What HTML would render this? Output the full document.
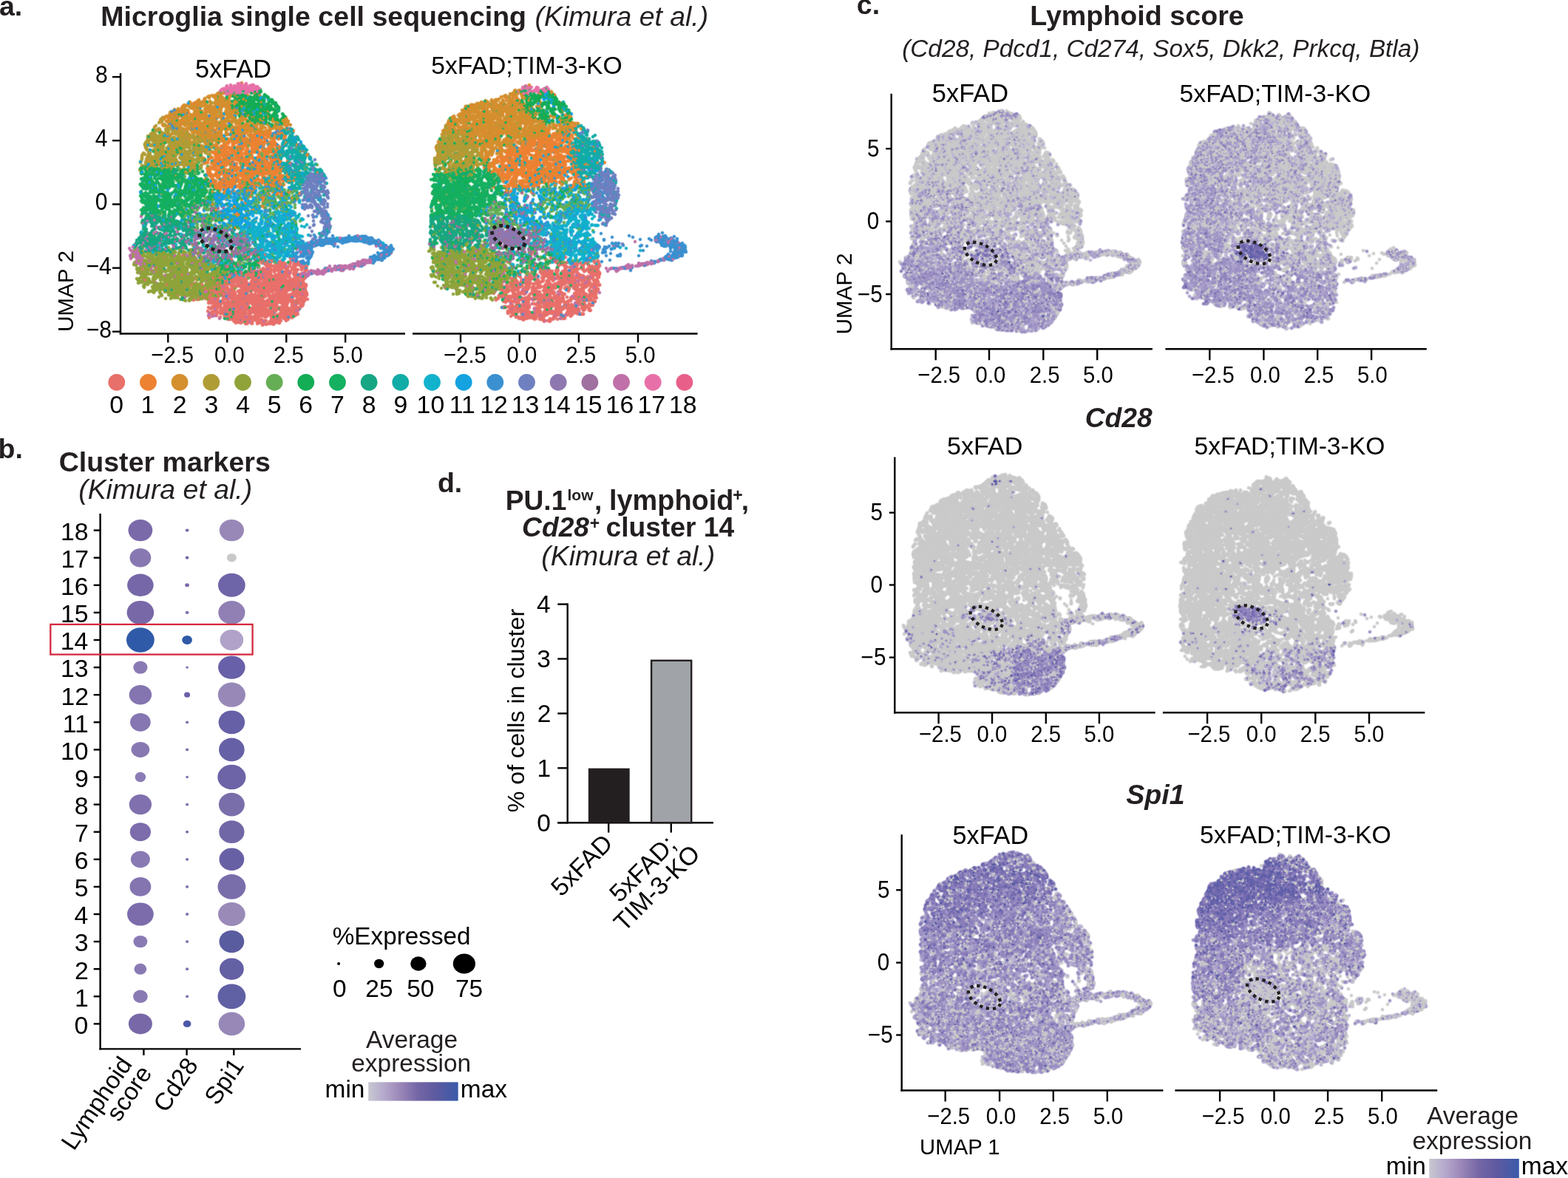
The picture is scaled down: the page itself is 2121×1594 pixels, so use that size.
<!DOCTYPE html>
<html><head><meta charset="utf-8"><title>Figure</title>
<style>html,body{margin:0;padding:0;background:#fff;overflow:hidden}svg{display:block}
text{font-family:"Liberation Sans",Arial,Helvetica,sans-serif}</style></head>
<body><svg width="2121" height="1594" viewBox="0 0 2121 1594">
<defs><linearGradient id="grad" x1="0" x2="1" y1="0" y2="0">
<stop offset="0" stop-color="#c8c8d0"/><stop offset="0.18" stop-color="#b4a8cc"/><stop offset="0.35" stop-color="#9c88b8"/>
<stop offset="0.55" stop-color="#7466a6"/><stop offset="0.75" stop-color="#5e5aa0"/><stop offset="1" stop-color="#3a5aaa"/></linearGradient></defs>
<rect width="2121" height="1594" fill="#fff"/>
<text x="-1.1" y="20.5" font-size="37.50" font-weight="bold" fill="#231f20">a.</text>
<text x="136.2" y="34.7" font-size="37.55" font-weight="bold" fill="#231f20">Microglia single cell sequencing</text>
<text x="723.5" y="34.7" font-size="37.38" font-style="italic" fill="#231f20">(Kimura et al.)</text>
<text x="264.1" y="104.5" font-size="34.34" fill="#000">5xFAD</text>
<text x="583.2" y="99.6" font-size="33.71" fill="#000">5xFAD;TIM-3-KO</text>
<line x1="163.0" y1="99.0" x2="163.0" y2="452.6" stroke="#000" stroke-width="2.4"/>
<line x1="152.0" y1="104.1" x2="163.0" y2="104.1" stroke="#000" stroke-width="2.4"/>
<text transform="translate(129.0 112.1) scale(1 1.09)" font-size="30.10" fill="#000">8</text>
<line x1="152.0" y1="190.2" x2="163.0" y2="190.2" stroke="#000" stroke-width="2.4"/>
<text transform="translate(128.7 198.2) scale(1 1.09)" font-size="30.10" fill="#000">4</text>
<line x1="152.0" y1="276.4" x2="163.0" y2="276.4" stroke="#000" stroke-width="2.4"/>
<text transform="translate(128.8 284.4) scale(1 1.09)" font-size="30.10" fill="#000">0</text>
<line x1="152.0" y1="362.6" x2="163.0" y2="362.6" stroke="#000" stroke-width="2.4"/>
<text transform="translate(116.4 370.6) scale(1 1.09)" font-size="30.10" fill="#000">−4</text>
<line x1="152.0" y1="448.7" x2="163.0" y2="448.7" stroke="#000" stroke-width="2.4"/>
<text transform="translate(116.7 456.7) scale(1 1.09)" font-size="30.10" fill="#000">−8</text>
<line x1="161.8" y1="451.5" x2="548.0" y2="451.5" stroke="#000" stroke-width="2.4"/>
<line x1="227.3" y1="451.5" x2="227.3" y2="463.5" stroke="#000" stroke-width="2.4"/>
<text transform="translate(204.3 491.3) scale(1 1.09)" font-size="29.30" fill="#000">−2.5</text>
<line x1="307.2" y1="451.5" x2="307.2" y2="463.5" stroke="#000" stroke-width="2.4"/>
<text transform="translate(290.0 491.3) scale(1 1.09)" font-size="29.30" fill="#000">0.0</text>
<line x1="387.3" y1="451.5" x2="387.3" y2="463.5" stroke="#000" stroke-width="2.4"/>
<text transform="translate(370.0 491.3) scale(1 1.09)" font-size="29.30" fill="#000">2.5</text>
<line x1="467.2" y1="451.5" x2="467.2" y2="463.5" stroke="#000" stroke-width="2.4"/>
<text transform="translate(450.0 491.3) scale(1 1.09)" font-size="29.30" fill="#000">5.0</text>
<line x1="558.0" y1="451.5" x2="943.6" y2="451.5" stroke="#000" stroke-width="2.4"/>
<line x1="623.0" y1="451.5" x2="623.0" y2="463.5" stroke="#000" stroke-width="2.4"/>
<text transform="translate(600.0 491.3) scale(1 1.09)" font-size="29.30" fill="#000">−2.5</text>
<line x1="702.8" y1="451.5" x2="702.8" y2="463.5" stroke="#000" stroke-width="2.4"/>
<text transform="translate(685.6 491.3) scale(1 1.09)" font-size="29.30" fill="#000">0.0</text>
<line x1="782.9" y1="451.5" x2="782.9" y2="463.5" stroke="#000" stroke-width="2.4"/>
<text transform="translate(765.6 491.3) scale(1 1.09)" font-size="29.30" fill="#000">2.5</text>
<line x1="863.0" y1="451.5" x2="863.0" y2="463.5" stroke="#000" stroke-width="2.4"/>
<text transform="translate(845.8 491.3) scale(1 1.09)" font-size="29.30" fill="#000">5.0</text>
<text transform="translate(99.1 449.1) rotate(-90)" text-anchor="start" font-size="29.70" fill="#000">UMAP 2</text>
<circle cx="157.8" cy="517.3" r="11.4" fill="#e8706a"/>
<text x="148.3" y="558.6" font-size="33.80" fill="#000">0</text>
<circle cx="200.5" cy="517.3" r="11.4" fill="#ec8232"/>
<text x="190.6" y="558.6" font-size="33.80" fill="#000">1</text>
<circle cx="243.1" cy="517.3" r="11.4" fill="#d48f2e"/>
<text x="233.8" y="558.6" font-size="33.80" fill="#000">2</text>
<circle cx="285.8" cy="517.3" r="11.4" fill="#b09c35"/>
<text x="276.4" y="558.6" font-size="33.80" fill="#000">3</text>
<circle cx="328.5" cy="517.3" r="11.4" fill="#8fa33a"/>
<text x="319.3" y="558.6" font-size="33.80" fill="#000">4</text>
<circle cx="371.2" cy="517.3" r="11.4" fill="#66ae55"/>
<text x="361.8" y="558.6" font-size="33.80" fill="#000">5</text>
<circle cx="413.8" cy="517.3" r="11.4" fill="#13ad55"/>
<text x="404.3" y="558.6" font-size="33.80" fill="#000">6</text>
<circle cx="456.5" cy="517.3" r="11.4" fill="#15b060"/>
<text x="447.1" y="558.6" font-size="33.80" fill="#000">7</text>
<circle cx="499.2" cy="517.3" r="11.4" fill="#17a683"/>
<text x="489.7" y="558.6" font-size="33.80" fill="#000">8</text>
<circle cx="541.8" cy="517.3" r="11.4" fill="#12aca6"/>
<text x="532.5" y="558.6" font-size="33.80" fill="#000">9</text>
<circle cx="584.5" cy="517.3" r="11.4" fill="#12b2cc"/>
<text x="563.6" y="558.6" font-size="33.80" fill="#000">10</text>
<circle cx="627.2" cy="517.3" r="11.4" fill="#14a2e0"/>
<text x="607.7" y="558.6" font-size="33.80" fill="#000">11</text>
<circle cx="669.8" cy="517.3" r="11.4" fill="#3a90d0"/>
<text x="649.2" y="558.6" font-size="33.80" fill="#000">12</text>
<circle cx="712.5" cy="517.3" r="11.4" fill="#6f80c0"/>
<text x="691.7" y="558.6" font-size="33.80" fill="#000">13</text>
<circle cx="755.2" cy="517.3" r="11.4" fill="#8e78b0"/>
<text x="734.2" y="558.6" font-size="33.80" fill="#000">14</text>
<circle cx="797.9" cy="517.3" r="11.4" fill="#a070a0"/>
<text x="777.0" y="558.6" font-size="33.80" fill="#000">15</text>
<circle cx="840.5" cy="517.3" r="11.4" fill="#c070a8"/>
<text x="819.7" y="558.6" font-size="33.80" fill="#000">16</text>
<circle cx="883.2" cy="517.3" r="11.4" fill="#e870a8"/>
<text x="862.5" y="558.6" font-size="33.80" fill="#000">17</text>
<circle cx="925.9" cy="517.3" r="11.4" fill="#e8608a"/>
<text x="905.0" y="558.6" font-size="33.80" fill="#000">18</text>
<text x="-2.4" y="619.7" font-size="37.50" font-weight="bold" fill="#231f20">b.</text>
<text x="79.7" y="637.5" font-size="37.58" font-weight="bold" fill="#231f20">Cluster markers</text>
<text x="106.2" y="674.8" font-size="37.43" font-style="italic" fill="#231f20">(Kimura et al.)</text>
<line x1="135.6" y1="695.0" x2="135.6" y2="1420.6" stroke="#000" stroke-width="2.4"/>
<line x1="134.4" y1="1419.4" x2="407.1" y2="1419.4" stroke="#000" stroke-width="2.4"/>
<line x1="126.7" y1="1385.4" x2="135.6" y2="1385.4" stroke="#000" stroke-width="2.4"/>
<text x="100.6" y="1398.7" font-size="33.80" fill="#000">0</text>
<line x1="126.7" y1="1348.3" x2="135.6" y2="1348.3" stroke="#000" stroke-width="2.4"/>
<text x="101.0" y="1361.6" font-size="33.80" fill="#000">1</text>
<line x1="126.7" y1="1311.2" x2="135.6" y2="1311.2" stroke="#000" stroke-width="2.4"/>
<text x="101.1" y="1324.5" font-size="33.80" fill="#000">2</text>
<line x1="126.7" y1="1274.1" x2="135.6" y2="1274.1" stroke="#000" stroke-width="2.4"/>
<text x="100.8" y="1287.4" font-size="33.80" fill="#000">3</text>
<line x1="126.7" y1="1237.0" x2="135.6" y2="1237.0" stroke="#000" stroke-width="2.4"/>
<text x="100.5" y="1250.3" font-size="33.80" fill="#000">4</text>
<line x1="126.7" y1="1199.9" x2="135.6" y2="1199.9" stroke="#000" stroke-width="2.4"/>
<text x="100.8" y="1213.2" font-size="33.80" fill="#000">5</text>
<line x1="126.7" y1="1162.8" x2="135.6" y2="1162.8" stroke="#000" stroke-width="2.4"/>
<text x="100.8" y="1176.1" font-size="33.80" fill="#000">6</text>
<line x1="126.7" y1="1125.7" x2="135.6" y2="1125.7" stroke="#000" stroke-width="2.4"/>
<text x="101.1" y="1139.0" font-size="33.80" fill="#000">7</text>
<line x1="126.7" y1="1088.6" x2="135.6" y2="1088.6" stroke="#000" stroke-width="2.4"/>
<text x="100.8" y="1101.9" font-size="33.80" fill="#000">8</text>
<line x1="126.7" y1="1051.5" x2="135.6" y2="1051.5" stroke="#000" stroke-width="2.4"/>
<text x="101.0" y="1064.8" font-size="33.80" fill="#000">9</text>
<line x1="126.7" y1="1014.4" x2="135.6" y2="1014.4" stroke="#000" stroke-width="2.4"/>
<text x="81.9" y="1027.7" font-size="33.80" fill="#000">10</text>
<line x1="126.7" y1="977.3" x2="135.6" y2="977.3" stroke="#000" stroke-width="2.4"/>
<text x="84.7" y="990.6" font-size="33.80" fill="#000">11</text>
<line x1="126.7" y1="940.2" x2="135.6" y2="940.2" stroke="#000" stroke-width="2.4"/>
<text x="82.4" y="953.5" font-size="33.80" fill="#000">12</text>
<line x1="126.7" y1="903.1" x2="135.6" y2="903.1" stroke="#000" stroke-width="2.4"/>
<text x="82.0" y="916.4" font-size="33.80" fill="#000">13</text>
<line x1="126.7" y1="866.0" x2="135.6" y2="866.0" stroke="#000" stroke-width="2.4"/>
<text x="81.7" y="879.3" font-size="33.80" fill="#000">14</text>
<line x1="126.7" y1="828.9" x2="135.6" y2="828.9" stroke="#000" stroke-width="2.4"/>
<text x="82.0" y="842.2" font-size="33.80" fill="#000">15</text>
<line x1="126.7" y1="791.8" x2="135.6" y2="791.8" stroke="#000" stroke-width="2.4"/>
<text x="82.0" y="805.1" font-size="33.80" fill="#000">16</text>
<line x1="126.7" y1="754.7" x2="135.6" y2="754.7" stroke="#000" stroke-width="2.4"/>
<text x="82.4" y="768.0" font-size="33.80" fill="#000">17</text>
<line x1="126.7" y1="717.6" x2="135.6" y2="717.6" stroke="#000" stroke-width="2.4"/>
<text x="82.0" y="730.9" font-size="33.80" fill="#000">18</text>
<line x1="194.4" y1="1419.4" x2="194.4" y2="1428.0" stroke="#000" stroke-width="2.4"/>
<line x1="252.6" y1="1419.4" x2="252.6" y2="1428.0" stroke="#000" stroke-width="2.4"/>
<line x1="316.3" y1="1419.4" x2="316.3" y2="1428.0" stroke="#000" stroke-width="2.4"/>
<ellipse cx="189.9" cy="717.6" rx="16.4" ry="14.7" fill="#7a6aaa"/>
<ellipse cx="253.1" cy="717.6" rx="2.4" ry="2.1" fill="#7a6aaa"/>
<ellipse cx="313.4" cy="717.6" rx="16.6" ry="14.7" fill="#9888b8"/>
<ellipse cx="189.9" cy="754.7" rx="14.4" ry="12.8" fill="#8878b2"/>
<ellipse cx="253.1" cy="754.7" rx="2.4" ry="2.1" fill="#7a6aaa"/>
<ellipse cx="313.4" cy="754.7" rx="6.5" ry="5.8" fill="#c8c8c8"/>
<ellipse cx="189.9" cy="791.8" rx="17.8" ry="15.2" fill="#7668a8"/>
<ellipse cx="253.1" cy="791.8" rx="2.9" ry="2.5" fill="#7a6aaa"/>
<ellipse cx="313.4" cy="791.8" rx="18.4" ry="16.0" fill="#6e64a8"/>
<ellipse cx="189.9" cy="828.9" rx="18.3" ry="16.0" fill="#7868a8"/>
<ellipse cx="253.1" cy="828.9" rx="2.4" ry="2.1" fill="#8070ae"/>
<ellipse cx="313.4" cy="828.9" rx="18.1" ry="15.8" fill="#9080b4"/>
<ellipse cx="189.9" cy="866.0" rx="18.9" ry="16.7" fill="#2f5aa8"/>
<ellipse cx="253.1" cy="866.0" rx="6.9" ry="6.1" fill="#2f5aa8"/>
<ellipse cx="313.4" cy="866.0" rx="15.8" ry="14.0" fill="#b0a2c8"/>
<ellipse cx="189.9" cy="903.1" rx="9.6" ry="8.7" fill="#8a7ab4"/>
<ellipse cx="253.1" cy="903.1" rx="1.9" ry="1.7" fill="#8070ae"/>
<ellipse cx="313.4" cy="903.1" rx="18.3" ry="15.7" fill="#6860a8"/>
<ellipse cx="189.9" cy="940.2" rx="15.2" ry="13.3" fill="#8474b0"/>
<ellipse cx="253.1" cy="940.2" rx="4.0" ry="3.6" fill="#6a60a8"/>
<ellipse cx="313.4" cy="940.2" rx="18.6" ry="16.6" fill="#9888b8"/>
<ellipse cx="189.9" cy="977.3" rx="13.8" ry="12.4" fill="#8676b2"/>
<ellipse cx="253.1" cy="977.3" rx="2.1" ry="1.9" fill="#8070ae"/>
<ellipse cx="313.4" cy="977.3" rx="17.8" ry="15.9" fill="#6660a6"/>
<ellipse cx="189.9" cy="1014.4" rx="12.4" ry="10.5" fill="#8878b2"/>
<ellipse cx="253.1" cy="1014.4" rx="2.1" ry="1.9" fill="#8070ae"/>
<ellipse cx="313.4" cy="1014.4" rx="17.3" ry="15.8" fill="#6660a6"/>
<ellipse cx="189.9" cy="1051.5" rx="7.3" ry="6.7" fill="#8c7cb6"/>
<ellipse cx="253.1" cy="1051.5" rx="1.9" ry="1.7" fill="#8070ae"/>
<ellipse cx="313.4" cy="1051.5" rx="19.1" ry="16.7" fill="#6c64a6"/>
<ellipse cx="189.9" cy="1088.6" rx="15.2" ry="13.6" fill="#8070ae"/>
<ellipse cx="253.1" cy="1088.6" rx="2.1" ry="1.9" fill="#8070ae"/>
<ellipse cx="313.4" cy="1088.6" rx="17.5" ry="15.8" fill="#7a6eaa"/>
<ellipse cx="189.9" cy="1125.7" rx="14.1" ry="12.5" fill="#7c6cac"/>
<ellipse cx="253.1" cy="1125.7" rx="2.1" ry="1.9" fill="#8070ae"/>
<ellipse cx="313.4" cy="1125.7" rx="17.1" ry="15.4" fill="#7068a6"/>
<ellipse cx="189.9" cy="1162.8" rx="13.0" ry="11.4" fill="#8a7ab4"/>
<ellipse cx="253.1" cy="1162.8" rx="2.1" ry="1.9" fill="#8070ae"/>
<ellipse cx="313.4" cy="1162.8" rx="16.9" ry="15.2" fill="#6860a4"/>
<ellipse cx="189.9" cy="1199.9" rx="14.4" ry="12.8" fill="#8474b0"/>
<ellipse cx="253.1" cy="1199.9" rx="2.1" ry="1.9" fill="#8070ae"/>
<ellipse cx="313.4" cy="1199.9" rx="18.9" ry="16.8" fill="#7a6eaa"/>
<ellipse cx="189.9" cy="1237.0" rx="17.9" ry="15.6" fill="#7c6cac"/>
<ellipse cx="253.1" cy="1237.0" rx="2.1" ry="1.9" fill="#8070ae"/>
<ellipse cx="313.4" cy="1237.0" rx="18.4" ry="16.0" fill="#9a8ab8"/>
<ellipse cx="189.9" cy="1274.1" rx="9.5" ry="8.2" fill="#8a7ab4"/>
<ellipse cx="253.1" cy="1274.1" rx="2.1" ry="1.9" fill="#8070ae"/>
<ellipse cx="313.4" cy="1274.1" rx="16.9" ry="15.2" fill="#5a5ca0"/>
<ellipse cx="189.9" cy="1311.2" rx="8.4" ry="7.5" fill="#8a7ab4"/>
<ellipse cx="253.1" cy="1311.2" rx="2.1" ry="1.9" fill="#8070ae"/>
<ellipse cx="313.4" cy="1311.2" rx="16.4" ry="14.7" fill="#6460a4"/>
<ellipse cx="189.9" cy="1348.3" rx="9.9" ry="8.7" fill="#8a7ab4"/>
<ellipse cx="253.1" cy="1348.3" rx="2.1" ry="1.9" fill="#8070ae"/>
<ellipse cx="313.4" cy="1348.3" rx="18.9" ry="16.9" fill="#6060a4"/>
<ellipse cx="189.9" cy="1385.4" rx="16.0" ry="14.0" fill="#7868a8"/>
<ellipse cx="253.1" cy="1385.4" rx="5.3" ry="4.7" fill="#4a58a8"/>
<ellipse cx="313.4" cy="1385.4" rx="17.8" ry="15.8" fill="#9888b8"/>
<rect x="68.3" y="844.9" width="273.3" height="40.7" fill="none" stroke="#d42a3e" stroke-width="2.3"/>
<text transform="translate(179.7 1439.9) rotate(-56)" text-anchor="end" font-size="33.20" fill="#000">Lymphoid</text>
<text transform="translate(206.5 1452.0) rotate(-56)" text-anchor="end" font-size="33.20" fill="#000">score</text>
<text transform="translate(269.0 1441.1) rotate(-56)" text-anchor="end" font-size="33.20" fill="#000">Cd28</text>
<text transform="translate(331.0 1442.0) rotate(-56)" text-anchor="end" font-size="33.20" fill="#000">Spi1</text>
<text x="449.7" y="1277.8" font-size="33.30" fill="#000">%Expressed</text>
<ellipse cx="458.1" cy="1304" rx="2" ry="2" fill="#000"/>
<ellipse cx="512.7" cy="1304" rx="6.6" ry="6.2" fill="#000"/>
<ellipse cx="565.9" cy="1304" rx="10.7" ry="9.7" fill="#000"/>
<ellipse cx="627.9" cy="1304" rx="15.1" ry="13.6" fill="#000"/>
<text x="449.9" y="1348.5" font-size="33.50" fill="#000">0</text>
<text x="494.3" y="1348.5" font-size="33.50" fill="#000">25</text>
<text x="550.2" y="1348.5" font-size="33.50" fill="#000">50</text>
<text x="615.9" y="1348.5" font-size="33.50" fill="#000">75</text>
<text x="494.9" y="1417.5" font-size="33.50" fill="#231f20">Average</text>
<text x="475.2" y="1450.4" font-size="33.50" fill="#231f20">expression</text>
<text x="439.5" y="1484.7" font-size="33.50" fill="#000">min</text>
<text x="622.8" y="1484.7" font-size="33.50" fill="#000">max</text>
<rect x="498.2" y="1464.3" width="121.5" height="25.3" fill="url(#grad)"/>
<text x="591.9" y="665.5" font-size="37.50" font-weight="bold" fill="#231f20">d.</text>
<text x="683.7" y="689.5" font-size="37.20" font-weight="bold" fill="#231f20">PU.1</text>
<text x="767.5" y="676.6" font-size="21.00" font-weight="bold" fill="#231f20">low</text>
<text x="804.0" y="689.5" font-size="37.20" font-weight="bold" fill="#231f20">,</text>
<text x="824.0" y="689.5" font-size="37.90" font-weight="bold" fill="#231f20">lymphoid</text>
<text x="991.3" y="677.5" font-size="23.00" font-weight="bold" fill="#231f20">+</text>
<text x="1002.8" y="689.5" font-size="37.20" font-weight="bold" fill="#231f20">,</text>
<text x="706.1" y="725.5" font-size="37.20" font-weight="bold" font-style="italic" fill="#231f20">Cd28</text>
<text x="797.7" y="715.5" font-size="23.00" font-weight="bold" fill="#231f20">+</text>
<text x="819.6" y="725.5" font-size="37.20" font-weight="bold" fill="#231f20">cluster 14</text>
<text x="732.3" y="764.9" font-size="37.41" font-style="italic" fill="#231f20">(Kimura et al.)</text>
<line x1="767.7" y1="816.5" x2="767.7" y2="1114.4" stroke="#000" stroke-width="2.4"/>
<line x1="754.3" y1="1113.2" x2="965.0" y2="1113.2" stroke="#000" stroke-width="2.4"/>
<line x1="754.3" y1="1113.2" x2="767.7" y2="1113.2" stroke="#000" stroke-width="2.4"/>
<text x="726.2" y="1124.7" font-size="33.50" fill="#000">0</text>
<line x1="754.3" y1="1039.3" x2="767.7" y2="1039.3" stroke="#000" stroke-width="2.4"/>
<text x="726.5" y="1050.8" font-size="33.50" fill="#000">1</text>
<line x1="754.3" y1="965.4" x2="767.7" y2="965.4" stroke="#000" stroke-width="2.4"/>
<text x="726.7" y="976.9" font-size="33.50" fill="#000">2</text>
<line x1="754.3" y1="891.5" x2="767.7" y2="891.5" stroke="#000" stroke-width="2.4"/>
<text x="726.3" y="903.0" font-size="33.50" fill="#000">3</text>
<line x1="754.3" y1="817.6" x2="767.7" y2="817.6" stroke="#000" stroke-width="2.4"/>
<text x="726.0" y="829.1" font-size="33.50" fill="#000">4</text>
<line x1="823.2" y1="1113.2" x2="823.2" y2="1126.6" stroke="#000" stroke-width="2.4"/>
<line x1="907.8" y1="1113.2" x2="907.8" y2="1126.6" stroke="#000" stroke-width="2.4"/>
<rect x="795.9" y="1039.6" width="55.8" height="73.6" fill="#231f20"/>
<rect x="881.1" y="893.8" width="54.1" height="219.4" fill="#a0a4a8" stroke="#231f20" stroke-width="2.4"/>
<text transform="translate(708.5 1099.3) rotate(-90)" text-anchor="start" font-size="32.20" fill="#000">% of cells in cluster</text>
<text transform="translate(830.7 1143.0) rotate(-45)" text-anchor="end" font-size="33.70" fill="#000">5xFAD</text>
<text transform="translate(916.4 1144.5) rotate(-45)" text-anchor="end" font-size="33.70" fill="#000">5xFAD;</text>
<text transform="translate(948.8 1157.4) rotate(-45)" text-anchor="end" font-size="33.70" fill="#000">TIM-3-KO</text>
<text x="1158.8" y="19.1" font-size="37.50" font-weight="bold" fill="#231f20">c.</text>
<text x="1393.3" y="33.8" font-size="37.67" font-weight="bold" fill="#231f20">Lymphoid score</text>
<text x="1220.2" y="77.2" font-size="33.34" font-style="italic" fill="#231f20">(Cd28, Pdcd1, Cd274, Sox5, Dkk2, Prkcq, Btla)</text>
<line x1="1205.7" y1="126.7" x2="1205.7" y2="473.5" stroke="#000" stroke-width="2.4"/>
<line x1="1198.2" y1="201.2" x2="1205.7" y2="201.2" stroke="#000" stroke-width="2.4"/>
<text transform="translate(1172.9 211.8) scale(1 1.09)" font-size="29.70" fill="#000">5</text>
<line x1="1198.2" y1="299.6" x2="1205.7" y2="299.6" stroke="#000" stroke-width="2.4"/>
<text transform="translate(1172.8 310.2) scale(1 1.09)" font-size="29.70" fill="#000">0</text>
<line x1="1198.2" y1="398.1" x2="1205.7" y2="398.1" stroke="#000" stroke-width="2.4"/>
<text transform="translate(1160.0 408.7) scale(1 1.09)" font-size="29.70" fill="#000">−5</text>
<line x1="1204.5" y1="472.3" x2="1558.9" y2="472.3" stroke="#000" stroke-width="2.4"/>
<line x1="1265.7" y1="472.3" x2="1265.7" y2="487.3" stroke="#000" stroke-width="2.4"/>
<text transform="translate(1241.3 517.5) scale(1 1.09)" font-size="29.30" fill="#000">−2.5</text>
<line x1="1338.0" y1="472.3" x2="1338.0" y2="487.3" stroke="#000" stroke-width="2.4"/>
<text transform="translate(1319.6 517.5) scale(1 1.09)" font-size="29.30" fill="#000">0.0</text>
<line x1="1411.3" y1="472.3" x2="1411.3" y2="487.3" stroke="#000" stroke-width="2.4"/>
<text transform="translate(1392.8 517.5) scale(1 1.09)" font-size="29.30" fill="#000">2.5</text>
<line x1="1484.2" y1="472.3" x2="1484.2" y2="487.3" stroke="#000" stroke-width="2.4"/>
<text transform="translate(1465.1 517.5) scale(1 1.09)" font-size="29.30" fill="#000">5.0</text>
<line x1="1576.4" y1="472.3" x2="1929.8" y2="472.3" stroke="#000" stroke-width="2.4"/>
<line x1="1636.3" y1="472.3" x2="1636.3" y2="487.3" stroke="#000" stroke-width="2.4"/>
<text transform="translate(1611.9 517.5) scale(1 1.09)" font-size="29.30" fill="#000">−2.5</text>
<line x1="1709.4" y1="472.3" x2="1709.4" y2="487.3" stroke="#000" stroke-width="2.4"/>
<text transform="translate(1691.0 517.5) scale(1 1.09)" font-size="29.30" fill="#000">0.0</text>
<line x1="1782.2" y1="472.3" x2="1782.2" y2="487.3" stroke="#000" stroke-width="2.4"/>
<text transform="translate(1763.7 517.5) scale(1 1.09)" font-size="29.30" fill="#000">2.5</text>
<line x1="1855.1" y1="472.3" x2="1855.1" y2="487.3" stroke="#000" stroke-width="2.4"/>
<text transform="translate(1836.0 517.5) scale(1 1.09)" font-size="29.30" fill="#000">5.0</text>
<text x="1260.8" y="137.9" font-size="34.44" fill="#000">5xFAD</text>
<text x="1595.6" y="137.9" font-size="33.72" fill="#000">5xFAD;TIM-3-KO</text>
<line x1="1210.3" y1="618.4" x2="1210.3" y2="965.5" stroke="#000" stroke-width="2.4"/>
<line x1="1202.8" y1="693.7" x2="1210.3" y2="693.7" stroke="#000" stroke-width="2.4"/>
<text transform="translate(1177.5 704.3) scale(1 1.09)" font-size="29.70" fill="#000">5</text>
<line x1="1202.8" y1="791.5" x2="1210.3" y2="791.5" stroke="#000" stroke-width="2.4"/>
<text transform="translate(1177.4 802.1) scale(1 1.09)" font-size="29.70" fill="#000">0</text>
<line x1="1202.8" y1="889.6" x2="1210.3" y2="889.6" stroke="#000" stroke-width="2.4"/>
<text transform="translate(1164.6 900.2) scale(1 1.09)" font-size="29.70" fill="#000">−5</text>
<line x1="1209.1" y1="964.3" x2="1562.6" y2="964.3" stroke="#000" stroke-width="2.4"/>
<line x1="1269.6" y1="964.3" x2="1269.6" y2="979.3" stroke="#000" stroke-width="2.4"/>
<text transform="translate(1243.0 1004.0) scale(1 1.09)" font-size="29.30" fill="#000">−2.5</text>
<line x1="1342.0" y1="964.3" x2="1342.0" y2="979.3" stroke="#000" stroke-width="2.4"/>
<text transform="translate(1321.6 1004.0) scale(1 1.09)" font-size="29.30" fill="#000">0.0</text>
<line x1="1414.8" y1="964.3" x2="1414.8" y2="979.3" stroke="#000" stroke-width="2.4"/>
<text transform="translate(1394.3 1004.0) scale(1 1.09)" font-size="29.30" fill="#000">2.5</text>
<line x1="1486.9" y1="964.3" x2="1486.9" y2="979.3" stroke="#000" stroke-width="2.4"/>
<text transform="translate(1466.5 1004.0) scale(1 1.09)" font-size="29.30" fill="#000">5.0</text>
<line x1="1572.9" y1="964.3" x2="1927.3" y2="964.3" stroke="#000" stroke-width="2.4"/>
<line x1="1633.1" y1="964.3" x2="1633.1" y2="979.3" stroke="#000" stroke-width="2.4"/>
<text transform="translate(1606.5 1004.0) scale(1 1.09)" font-size="29.30" fill="#000">−2.5</text>
<line x1="1706.2" y1="964.3" x2="1706.2" y2="979.3" stroke="#000" stroke-width="2.4"/>
<text transform="translate(1685.8 1004.0) scale(1 1.09)" font-size="29.30" fill="#000">0.0</text>
<line x1="1779.3" y1="964.3" x2="1779.3" y2="979.3" stroke="#000" stroke-width="2.4"/>
<text transform="translate(1758.8 1004.0) scale(1 1.09)" font-size="29.30" fill="#000">2.5</text>
<line x1="1852.0" y1="964.3" x2="1852.0" y2="979.3" stroke="#000" stroke-width="2.4"/>
<text transform="translate(1831.6 1004.0) scale(1 1.09)" font-size="29.30" fill="#000">5.0</text>
<text x="1281.0" y="615.3" font-size="34.10" fill="#000">5xFAD</text>
<text x="1615.5" y="615.3" font-size="33.64" fill="#000">5xFAD;TIM-3-KO</text>
<line x1="1219.7" y1="1129.2" x2="1219.7" y2="1476.7" stroke="#000" stroke-width="2.4"/>
<line x1="1212.2" y1="1204.3" x2="1219.7" y2="1204.3" stroke="#000" stroke-width="2.4"/>
<text transform="translate(1186.9 1214.9) scale(1 1.09)" font-size="29.70" fill="#000">5</text>
<line x1="1212.2" y1="1302.6" x2="1219.7" y2="1302.6" stroke="#000" stroke-width="2.4"/>
<text transform="translate(1186.8 1313.2) scale(1 1.09)" font-size="29.70" fill="#000">0</text>
<line x1="1212.2" y1="1400.5" x2="1219.7" y2="1400.5" stroke="#000" stroke-width="2.4"/>
<text transform="translate(1174.0 1411.1) scale(1 1.09)" font-size="29.70" fill="#000">−5</text>
<line x1="1218.5" y1="1475.5" x2="1573.4" y2="1475.5" stroke="#000" stroke-width="2.4"/>
<line x1="1278.7" y1="1475.5" x2="1278.7" y2="1490.5" stroke="#000" stroke-width="2.4"/>
<text transform="translate(1254.3 1520.7) scale(1 1.09)" font-size="29.30" fill="#000">−2.5</text>
<line x1="1352.1" y1="1475.5" x2="1352.1" y2="1490.5" stroke="#000" stroke-width="2.4"/>
<text transform="translate(1333.7 1520.7) scale(1 1.09)" font-size="29.30" fill="#000">0.0</text>
<line x1="1424.8" y1="1475.5" x2="1424.8" y2="1490.5" stroke="#000" stroke-width="2.4"/>
<text transform="translate(1406.3 1520.7) scale(1 1.09)" font-size="29.30" fill="#000">2.5</text>
<line x1="1497.8" y1="1475.5" x2="1497.8" y2="1490.5" stroke="#000" stroke-width="2.4"/>
<text transform="translate(1478.7 1520.7) scale(1 1.09)" font-size="29.30" fill="#000">5.0</text>
<line x1="1589.4" y1="1475.5" x2="1944.2" y2="1475.5" stroke="#000" stroke-width="2.4"/>
<line x1="1650.1" y1="1475.5" x2="1650.1" y2="1490.5" stroke="#000" stroke-width="2.4"/>
<text transform="translate(1625.7 1520.7) scale(1 1.09)" font-size="29.30" fill="#000">−2.5</text>
<line x1="1723.5" y1="1475.5" x2="1723.5" y2="1490.5" stroke="#000" stroke-width="2.4"/>
<text transform="translate(1705.1 1520.7) scale(1 1.09)" font-size="29.30" fill="#000">0.0</text>
<line x1="1796.1" y1="1475.5" x2="1796.1" y2="1490.5" stroke="#000" stroke-width="2.4"/>
<text transform="translate(1777.6 1520.7) scale(1 1.09)" font-size="29.30" fill="#000">2.5</text>
<line x1="1869.2" y1="1475.5" x2="1869.2" y2="1490.5" stroke="#000" stroke-width="2.4"/>
<text transform="translate(1850.1 1520.7) scale(1 1.09)" font-size="29.30" fill="#000">5.0</text>
<text x="1288.6" y="1141.5" font-size="34.17" fill="#000">5xFAD</text>
<text x="1623.1" y="1141.4" font-size="33.76" fill="#000">5xFAD;TIM-3-KO</text>
<text x="1467.7" y="578.3" font-size="37.24" font-weight="bold" font-style="italic" fill="#231f20">Cd28</text>
<text x="1523.3" y="1088.2" font-size="37.60" font-weight="bold" font-style="italic" fill="#231f20">Spi1</text>
<text transform="translate(1151.8 452.6) rotate(-90)" text-anchor="start" font-size="29.70" fill="#000">UMAP 2</text>
<text x="1244.1" y="1562.0" font-size="29.30" fill="#000">UMAP 1</text>
<text x="1929.9" y="1521.2" font-size="33.50" fill="#231f20">Average</text>
<text x="1910.4" y="1554.5" font-size="33.50" fill="#231f20">expression</text>
<text x="1874.8" y="1588.9" font-size="33.50" fill="#000">min</text>
<text x="2057.8" y="1588.9" font-size="33.50" fill="#000">max</text>
<rect x="1933.2" y="1568" width="121.6" height="30" fill="url(#grad)"/>
<defs>
<marker id="k0" markerUnits="userSpaceOnUse" markerWidth="3.5" markerHeight="3.5" refX="1.75" refY="1.75" overflow="visible"><circle cx="1.75" cy="1.75" r="1.75" fill="#e8706a"/></marker>
<marker id="k1" markerUnits="userSpaceOnUse" markerWidth="3.5" markerHeight="3.5" refX="1.75" refY="1.75" overflow="visible"><circle cx="1.75" cy="1.75" r="1.75" fill="#ec8232"/></marker>
<marker id="k2" markerUnits="userSpaceOnUse" markerWidth="3.5" markerHeight="3.5" refX="1.75" refY="1.75" overflow="visible"><circle cx="1.75" cy="1.75" r="1.75" fill="#d48f2e"/></marker>
<marker id="k3" markerUnits="userSpaceOnUse" markerWidth="3.5" markerHeight="3.5" refX="1.75" refY="1.75" overflow="visible"><circle cx="1.75" cy="1.75" r="1.75" fill="#b09c35"/></marker>
<marker id="k4" markerUnits="userSpaceOnUse" markerWidth="3.5" markerHeight="3.5" refX="1.75" refY="1.75" overflow="visible"><circle cx="1.75" cy="1.75" r="1.75" fill="#8fa33a"/></marker>
<marker id="k5" markerUnits="userSpaceOnUse" markerWidth="3.5" markerHeight="3.5" refX="1.75" refY="1.75" overflow="visible"><circle cx="1.75" cy="1.75" r="1.75" fill="#66ae55"/></marker>
<marker id="k6" markerUnits="userSpaceOnUse" markerWidth="3.5" markerHeight="3.5" refX="1.75" refY="1.75" overflow="visible"><circle cx="1.75" cy="1.75" r="1.75" fill="#13ad55"/></marker>
<marker id="k7" markerUnits="userSpaceOnUse" markerWidth="3.5" markerHeight="3.5" refX="1.75" refY="1.75" overflow="visible"><circle cx="1.75" cy="1.75" r="1.75" fill="#15b060"/></marker>
<marker id="k8" markerUnits="userSpaceOnUse" markerWidth="3.5" markerHeight="3.5" refX="1.75" refY="1.75" overflow="visible"><circle cx="1.75" cy="1.75" r="1.75" fill="#17a683"/></marker>
<marker id="k9" markerUnits="userSpaceOnUse" markerWidth="3.5" markerHeight="3.5" refX="1.75" refY="1.75" overflow="visible"><circle cx="1.75" cy="1.75" r="1.75" fill="#12aca6"/></marker>
<marker id="k10" markerUnits="userSpaceOnUse" markerWidth="3.5" markerHeight="3.5" refX="1.75" refY="1.75" overflow="visible"><circle cx="1.75" cy="1.75" r="1.75" fill="#12b2cc"/></marker>
<marker id="k11" markerUnits="userSpaceOnUse" markerWidth="3.5" markerHeight="3.5" refX="1.75" refY="1.75" overflow="visible"><circle cx="1.75" cy="1.75" r="1.75" fill="#14a2e0"/></marker>
<marker id="k12" markerUnits="userSpaceOnUse" markerWidth="3.5" markerHeight="3.5" refX="1.75" refY="1.75" overflow="visible"><circle cx="1.75" cy="1.75" r="1.75" fill="#3a90d0"/></marker>
<marker id="k13" markerUnits="userSpaceOnUse" markerWidth="3.5" markerHeight="3.5" refX="1.75" refY="1.75" overflow="visible"><circle cx="1.75" cy="1.75" r="1.75" fill="#6f80c0"/></marker>
<marker id="k14" markerUnits="userSpaceOnUse" markerWidth="3.5" markerHeight="3.5" refX="1.75" refY="1.75" overflow="visible"><circle cx="1.75" cy="1.75" r="1.75" fill="#8e78b0"/></marker>
<marker id="k15" markerUnits="userSpaceOnUse" markerWidth="3.5" markerHeight="3.5" refX="1.75" refY="1.75" overflow="visible"><circle cx="1.75" cy="1.75" r="1.75" fill="#a070a0"/></marker>
<marker id="k16" markerUnits="userSpaceOnUse" markerWidth="3.5" markerHeight="3.5" refX="1.75" refY="1.75" overflow="visible"><circle cx="1.75" cy="1.75" r="1.75" fill="#c070a8"/></marker>
<marker id="k17" markerUnits="userSpaceOnUse" markerWidth="3.5" markerHeight="3.5" refX="1.75" refY="1.75" overflow="visible"><circle cx="1.75" cy="1.75" r="1.75" fill="#e870a8"/></marker>
<marker id="k18" markerUnits="userSpaceOnUse" markerWidth="3.5" markerHeight="3.5" refX="1.75" refY="1.75" overflow="visible"><circle cx="1.75" cy="1.75" r="1.75" fill="#e8608a"/></marker>
<marker id="k19" markerUnits="userSpaceOnUse" markerWidth="3.1" markerHeight="3.1" refX="1.55" refY="1.55" overflow="visible"><circle cx="1.55" cy="1.55" r="1.55" fill="#c9cac9"/></marker>
<marker id="k20" markerUnits="userSpaceOnUse" markerWidth="3.1" markerHeight="3.1" refX="1.55" refY="1.55" overflow="visible"><circle cx="1.55" cy="1.55" r="1.55" fill="#bcb5d3"/></marker>
<marker id="k21" markerUnits="userSpaceOnUse" markerWidth="3.1" markerHeight="3.1" refX="1.55" refY="1.55" overflow="visible"><circle cx="1.55" cy="1.55" r="1.55" fill="#aca2cc"/></marker>
<marker id="k22" markerUnits="userSpaceOnUse" markerWidth="3.1" markerHeight="3.1" refX="1.55" refY="1.55" overflow="visible"><circle cx="1.55" cy="1.55" r="1.55" fill="#9c90c3"/></marker>
<marker id="k23" markerUnits="userSpaceOnUse" markerWidth="3.1" markerHeight="3.1" refX="1.55" refY="1.55" overflow="visible"><circle cx="1.55" cy="1.55" r="1.55" fill="#8a7eba"/></marker>
<marker id="k24" markerUnits="userSpaceOnUse" markerWidth="3.1" markerHeight="3.1" refX="1.55" refY="1.55" overflow="visible"><circle cx="1.55" cy="1.55" r="1.55" fill="#766cb0"/></marker>
<marker id="k25" markerUnits="userSpaceOnUse" markerWidth="3.1" markerHeight="3.1" refX="1.55" refY="1.55" overflow="visible"><circle cx="1.55" cy="1.55" r="1.55" fill="#5e5ea8"/></marker>
<filter id="fill" x="-5%" y="-5%" width="110%" height="110%" color-interpolation-filters="sRGB"><feGaussianBlur in="SourceGraphic" stdDeviation="1.3" result="b"/><feComponentTransfer in="b" result="c"><feFuncA type="linear" slope="2.0" intercept="-0.12"/></feComponentTransfer><feMerge><feMergeNode in="c"/><feMergeNode in="SourceGraphic"/></feMerge></filter>
<filter id="fillc" x="-5%" y="-5%" width="110%" height="110%" color-interpolation-filters="sRGB"><feGaussianBlur in="SourceGraphic" stdDeviation="1.7" result="b"/><feComponentTransfer in="b" result="c"><feFuncA type="linear" slope="3.0" intercept="-0.12"/></feComponentTransfer><feMerge><feMergeNode in="c"/><feMergeNode in="SourceGraphic"/></feMerge></filter>
</defs>
<g filter="url(#fill)">
<path d="M222 349l56 1 88 3 35 4-2 -2-2 4-5 -2-9 1-4 0 0 -4 0 5-3 -3-17 2-2 -3-8 1-28 1-84 -2-15 3-25 7 14 -2 97 -2 9 -1 36 5 9 -1 9 0 3 1 1 -4 1 3 5 -1 0 -2 3 1 5 0 7 1 1 2 2 -2 8 -3 1 4 0 1 2 -5 5 0-14 10-1 -3-1 2-11 2 0 -3-9 1-2 -2-11 4-3 -2-3 -3-15 4-1 -3-1 3 0 -4-3 4-2 0-29 -4-104 0 102 10 3 0 3 0 1 1 1 0 6 -1 1 -2 1 -1 2 0 6 -1 2 5 3 -1 1 -4 1 1 1 2 4 -3 3 1 7 1 2 2 2 -2 0 0 2 -2 2 2 0 0 1 -2 1 5 0 -3 0 2 5 -2 0 2 2 -2 4 -1 1 4 1 -2 13 -1 3 2 7 1 2 -2 4 -1 2 1 5 -2-2 8-1 -2-6 1 0 3-1 -2-3 -3 0 3-1 1-5 -1-1 0 0 0-9 2-13 0-1 -5-1 2 0 1-1 0-3 -2-6 -1-8 1-1 4-1 -1-3 0-5 -1 0 2-8 -5 0 5 0 -5-4 1 0 4-1 -3-3 0-3 1-2 -3-3 4-1 -1-1 -1-2 2 0 -4-4 5-1 0 0 -3 0 1-5 -3-3 2-2 1-2 0-8 1-6 1-34 -2-50 -3 63 8 24 3 12 -2 3 2 1 -4 0 0 15 2 5 0 5 -1 1 1 3 -3 4 3 2 -3 6 1 1 -1 2 3 1 -2 4 4 2 -3 5 2 1 1 3 -3 1 1 1 1 0 1 1 -5 1 0 2 1 2 2 1 -2 2 1 2 3 3 0 0 -5 2 5 1 -4 2 0 5 1 0 -2 1 2 1 -1 1 3 9 -4 1 3 0 -1 2 1 0 -3 0 0 3 0 4 4 4 1 2 -2-1 4-1 1-1 1-3 2-3 -2-1 0 0 2-1 -2-4 -2-2 1 0 1-1 -3-7 3-4 -3-3 0-3 4-4 1-2 -4-5 1 0 2-1 -4-6 1-1 -1 0 2-2 2-1 -2 0 0-3 -2-3 4-1 -2-5 0-2 0-4 2 0 -1-1 -1-1 -1-2 -1-6 1-6 3-9 -1-1 -1-1 2 0 -1-4 -3-1 1-6 0-3 -1 0 0-7 3-11 2-48 -5 36 11 17 -3 3 -2 7 1 6 1 2 -1 1 3 0 -1 1 2 0 0 4 -3 1 -1 0 3 4 -2 2 -2 1 1 1 -1 0 3 4 2 2 -3 2 -2 2 4 3 -4 4 4 10 1 1 -1 6 -1 3 2 1 -1 3 1 0 0 16 -5 0 3 2 -1 0 1 2 2 2 -3 2 -1 1 2 1 -1 1 2 1 -4 4 3 2 2 4 -5 5 3 0 0 9 1 1 -1 0 -1 1 -2 2 3 0 0-3 8-1 -4-1 2-2 2-1 -1-1 -1-3 -2-2 3-5 -4-5 3-3 1-6 0-1 0-4 -2-2 -1-2 2-2 -1 0 3-4 -4-2 3-15 -3 0 1-2 0 0 2-1 -1-1 -1-2 -2-3 5-6 0-2 -3-1 2-1 1 0 -4-4 -1-1 4 0 -3-1 -1-2 4-6 1-8 -4-1 -1 0 4-13 -3-1 3-4 -3 0 3-1 -2 2 8 0 -2 2 -2 3 0 0 1 2 4 1 -3 1 0 4 0 5 -1 4 0 9 4 0 -3 3 -1 10 -1 1 3 1 -1 4 0 1 1 2 -3 2 2 0 1 1 -2 0 2 0 0 1 2 2 -4 3 -1 4 1 1 0 3 4 2 0 1 -2 5 -3 5 1 0 3 14 1 6 -5 3 5 1 -5 1 3 4 -1 1 0 0 -2 4 5 2 -3-6 8-1 0 0 0-2 0-1 -4-5 2 0 0-5 1-3 -1-10 2-1 0-4 1 0 -3-1 3-3 -2-9 0-1 2 0 -4-2 3-3 -4-6 5-1 -3-1 -2-2 1 0 4-8 0-3 -4-3 1-1 -2-4 1-1 2-5 -3-1 4-4 -3-3 -1-1 3-1 -1-1 1-2 2-1 -3-17 -1-2 3-3 -2 11 5 1 2 5 -2 2 3 0 -3 1 0 2 4 2 -4 1 0 1 2 5 2 2 0 2 -4 8 3 1 1 2 0 1 0 1 -1 1 -4 2 4 4 -3 1 0 9 4 1 -1 2 -1 1 0 2 -3 2 3 2 0 2 2 2 -2 0 -1 4 -1 0 2 2 -1 2 -2 2 2 9 -1 4 0 1 4 1 -1 0 -1 3 0 0 -2 1 3 1 1 2 -3 1 0 1 0 0 -2 6 3 1 -3-7 6-8 2-4 2-7 0-3 1-5 0 0 -5-1 5-8 -2-1 -1-11 2-1 -4-2 5-2 -2-7 0-1 1-10 -3-2 -1-6 2-1 -2-1 1-2 2-1 -1-3 1-3 -1-7 1-5 -2 15 5 2 0 2 0 5 1 2 4 7 0 1 -3 0 1 0 1 6 1 2 -5 0 5 2 -3 0 -1 1 0 3 0 0 4 2 -4 3 -1 1 2 3 -1 0 4 3 -2 1 -3 4 2 10 2 0 1 4 0 1 -1 2 -1 0 -2 14 -1-26 6-3 1-3 -1-2 2-7 -2-14 0" fill="none" marker-start="url(#k0)" marker-mid="url(#k0)" marker-end="url(#k0)"/>
<path d="M327 161l20 10 8 0 37 6-10 -3-2 5 0 -5-5 5-23 -1-18 1-2 0-10 -4-5 8 26 2 21 -4 3 0 0 4 11 -3 1 3 4 -4-12 10-11 -3 0 2-7 0-8 0-1 -4-3 0-2 2-4 2-3 -3-9 -1 0 5-1 -2-1 -1-1 0-2 1-23 5 8 -2 2 4 10 1 2 -3 8 0 4 3 1 -2 6 0 0 -3 0 0 1 0 1 2 2 3 1 -4 5 4 1 0 0 0 4 -5 5 3 6 -2 6 2 5 1 2 1-5 4-7 0-6 1-2 0-8 -1-6 0-12 1-2 -1-4 0-3 -1-12 -1-3 4-2 0-4 -5-6 10 0 0 7 -3 3 2 3 1 3 0 10 -3 4 4 0 -5 2 4 2 1 4 -2 3 -3 2 3 14 1 1 0 4 -4 4 1 1 -1 3 0 3 2 1 -2 7 4 2 -2 1 3 5 -3 26 5-29 2-2 1-2 -3-1 -1-7 3-1 -1-5 -2-8 4-3 -1-2 0-14 -3-3 5-5 -1 0 1-3 -3-2 0-1 -1-2 4-7 -3 0 1-1 -1-1 -2 0 0-1 1 0 4-11 -4-4 4-6 -2-10 8 9 0 10 -3 0 2 2 -3 1 -1 3 1 1 4 3 -4 1 1 1 0 7 1 9 -2 1 -1 5 5 2 -1 0 -4 2 4 3 0 19 0 1 -2 10 0 3 1 1 -2 8 2 0 -1 32 5-32 2-10 -3-3 0-2 1-2 4-3 -4-5 2-3 -1-2 -2-7 1-4 -1 0 1-11 2-7 0-6 0-2 -2-8 0-3 1-2 0-4 1-9 2-6 1 1 4 2 0 23 -1 0 -1 3 3 0 -2 3 -3 0 5 8 -2 1 -1 4 -1 3 2 0 2 2 -1 5 -3 0 1 0 3 3 -3 0 -1 1 0 4 3 3 -1 5 -3 7 3 1 -3 2 0 1 5 8 -2 0 -2 4 3 1 -3 1 -1 3 4 2 -3 3 0 20 2-5 3-9 5-1 -1-6 0-4 -2-1 2-5 -3-2 -1 0 1-6 1-1 -1-9 0-6 3-1 -1-6 0-2 -3 0 5 0 -2-1 -1 0 0-1 3-3 -3-1 3-1 -4-2 0-1 2-8 1-2 0-3 -1 0 1-1 -2-3 0-8 -1-1 2 0 1-1 -4-4 0-2 1-2 3-2 0-1 -3-4 4-2 0-8 3 5 3 4 -2 7 -3 9 0 3 2 1 -2 7 2 5 -1 2 2 1 -1 10 3 5 -5 5 1 1 4 6 -3 5 3 0 -1 1 0 1 -3 1 -1 2 0 4 4 0 -2 6 0 2 3 2 -2 1 -2 5 1 10 3 11 -5-11 6-5 4-1 0-14 0-1 -3-3 -1-7 1-6 -1-8 4-3 -2-1 3 0 0-6 -4-7 0-10 4-4 -3-1 0-1 2 0 -3-3 1 0 0-1 1-4 0-3 0-2 -2-1 1-1 1-2 2-3 -3-3 -1 2 5 5 4 0 -2 1 0 0 -1 1 4 11 -5 3 1 5 -1 3 0 6 4 11 -4 36 0 5 3-8 5-5 -2-39 4-11 -3-18 0-5 3 28 6 20 -2 61 -1 2 4-16 6-22 -2-8 0-29 -3-40 6 44 1 27 4 5 -4 3 0-48 5-15 8 32 -2 10 10-14 -3-17 1" fill="none" marker-start="url(#k1)" marker-mid="url(#k1)" marker-end="url(#k1)"/>
<path d="M327 112l18 15 0 4-27 -1 0 -1-5 0-17 0-2 1-5 1-6 -1-2 1-4 4 16 -1 2 2 4 -1 3 -2 0 2 6 -3 1 0 1 1 54 3-31 7-9 -4-6 1-10 1-5 -2-5 -1-4 4-3 -2-6 0-7 1 0 1-4 1 0 -5-3 5 0 -4-5 4-1 -2-2 -1-4 2 0 1-1 0 0 -2 0 0-2 0-2 1-4 1-1 -1-3 7 0 -2 2 1 1 0 10 -3 2 2 5 -3 6 0 12 4 4 -2 2 1 0 -3 2 4 1 -1 5 0 1 2 7 0 10 0 1 -5 10 3 9 0 26 4 0 4-9 -1-15 1-1 -4-18 2-5 -1-8 3 0 -2-11 -2-2 0-1 2-1 -2 0 4-1 -4-2 1-15 -1 0 1-1 0-2 0-2 -2-14 0-3 0-5 2-6 -1-2 0-13 6 0 1 3 1 1 -3 3 0 1 4 0 0 4 -2 3 1 2 -3 6 4 2 -2 9 1 7 2 0 0 1 -5 6 5 3 -5 1 1 2 4 6 0 4 -5 0 1 10 -1 5 5 8 -4 4 3 2 -2 7 -1 0 0 4 2 0 -3 0 3 8 -3 1 2 3 1 3 1 5 0 23 1 14 2-4 1-5 3-18 0-12 -4-3 4-16 -3 0 0-1 -2-1 1-2 0 0 0-1 3-2 -1-1 -2-5 -1-3 3-3 0-5 -2-1 4-12 -2-1 0 0 2-2 -3-1 2-1 -1-2 0-5 -2-2 -1-5 5-3 -1-3 1-3 -5-1 5 0 -2 0 2 0 -2-2 2-4 -3-2 0-2 0-3 -1-3 -1 0 4-4 -3-1 1-5 -2 0 2-2 3-5 -1-2 -1-10 0 17 8 2 -3 5 -2 3 1 9 -1 5 0 12 5 0 0 1 -4 5 4 1 -2 1 -1 2 2 2 0 1 1 4 -3 2 0 7 2 10 0 2 0 6 -1 9 1 5 -1 3 1 1 -3 1 4 1 -5 1 3 1 1 6 1 3 -4 2 3 6 -3 9 -1 6 1 7 3 4 -2 1 3 10 -5-8 6-8 1-5 -1-7 5-8 0-2 -5-3 2-6 1-6 -2-7 0-2 0-2 0-1 2-7 0 0 -2-5 3-5 -4-2 2-3 -2-3 0-2 1 0 3-1 0-3 -4-3 4-4 -3 0 0-4 1 0 2-6 1 0 0-13 -3-1 0-10 0 0 0-9 3-2 -1 0 -4-5 2-3 2-9 2 8 1 7 -1 1 4 15 -1 5 -3 2 5 4 -4 2 4 3 -2 6 -3 2 3 0 -1 2 0 1 -1 1 4 0 -5 1 3 1 0 2 2 5 0 1 -5 1 5 1 -2 2 2 1 -1 7 -2 8 2 0 -4 2 3 1 -1 3 -2 4 4 3 0 4 -3 8 0 7 -1 6 1 5 -1 14 1 3 0-48 6-7 -1-4 4-2 -3-5 1-4 0-1 2-2 -2-3 0-5 1-6 0-1 2-11 -4-12 -1-47 6 25 1 5 -1 35 0 22 0 1 2 11 -2 34 6-129 1 29 10 71 5-84 -3 23 9 94 0-51 2-39 4-60 -1 166 12-12 4-32 9-38 9" fill="none" marker-start="url(#k2)" marker-mid="url(#k2)" marker-end="url(#k2)"/>
<path d="M287 139l31 11-98 9 116 -3-18 7-9 0-56 4-23 -2-11 -1-4 2 20 4 5 -2 11 11-3 -1-3 -3-5 0-8 0-5 2-1 2-10 -4-9 1-7 8 2 1 2 -4 1 4 13 -5 6 1 6 2 7 -2 1 0 3 -1 2 4 14 -1 0 2 18 -2 5 -3-2 7-7 2 0 -2-3 2-5 0-8 1-2 -3-6 -1 0 4-5 0-5 -1-2 -3-5 0 0 3-3 0-2 2-1 -2-1 -2-11 3-2 0-1 -1-1 -2-3 1-2 -2-4 5-3 5 1 1 1 -5 1 3 3 1 4 1 1 0 2 -2 2 -1 7 0 1 3 1 -5 2 1 7 4 3 -2 3 2 3 -4 2 2 1 0 2 1 3 -3 3 3 0 -3 1 4 9 -2 3 -3 2 3 3 -1 4 -2 25 10-14 -1-13 -1-2 -1-1 3-1 -3-2 4-1 -1-6 -2-2 -1-1 0-4 1-4 1 0 -3-2 4-1 -1 0 0 0 0-2 -3-6 3-1 -2-4 4-3 -3-5 -1 0 -1-2 3-1 -2-2 2-4 2-13 0-4 5 19 -2 2 3 3 -1 3 -3 2 1 3 -1 3 3 1 -3 3 3 1 1 5 -4 1 0 2 3 5 0 2 0 6 1 2 -3 7 0 4 2 9 -1 1 -2 3 4-8 5-4 -4 0 1-2 1-7 3-2 -1-3 1-1 -1-4 1-3 0 0 -2-1 -2-2 4-12 -4-5 4-5 -3-1 3-6 -3-7 3-6 -4-11 -1 0 5 9 3 2 -1 4 -1 15 0 3 0 1 2 3 -1 2 3 3 -2 0 -2 1 3 0 -1 3 3 0 0 4 -1 4 0 6 0 8 -2 6 -1 7 1 4 2-12 2-4 3-7 -2-12 0-2 -1-7 0-1 1-3 0-7 3-4 -4-8 0-3 3-9 -2-9 7 11 -1 26 2 13 0 5 -2 7 4 5 -3 1 1 17 1-12 3-1 1-51 -2" fill="none" marker-start="url(#k3)" marker-mid="url(#k3)" marker-end="url(#k3)"/>
<path d="M228 335l-44 4 5 1 20 0 13 -1 48 2 0 3-2 0 0 -1-5 -1-1 5-3 0-8 -5-9 2-7 0 0 0-2 1-7 1-2 -1-5 1-1 -4-6 2-7 0-5 -1-1 -1-14 3 11 7 5 0 5 1 4 -3 4 0 1 3 7 -1 6 0 0 1 3 -5 8 0 3 2 2 -2 12 2 1 3 3 0 1 -3 2 -2 0 1 6 4 3 -2 1 0 8 8-1 -2 0 2 0 -1-1 0-8 -1-2 -1 0 1-1 -3-4 3-3 -3-6 0-12 2-1 0 0 3-1 -4-1 4-5 -3-3 3-1 -1-2 -2-1 -2-3 3-1 -2-1 -1-1 3-1 -1-3 0-1 1-1 2 0 -5-3 3 0 0-6 -1-2 0-3 1-2 -3-2 1-1 -1-5 4-8 0-2 -3 4 8 4 0 0 0 4 -1 0 -2 9 5 0 -2 7 2 6 -4 0 -1 1 0 1 5 10 -3 3 0 1 0 2 -1 0 2 1 -1 2 3 0 -3 7 1 1 -3 1 4 5 -1 2 0 3 -3 3 3 3 -1 6 -2 2 1 1 -1 1 5 3 -3 2 -2 2 5 0 -1 0 -4 3 1 1 1 22 6-9 0-1 2-2 -2 0 2-5 -1 0 -1-10 -2-2 5-1 0-3 -5-4 2-2 -1-7 4 0 -3-12 -1-1 1-2 1-1 -2-2 1-2 1 0 0-3 -3-2 3-1 -3-1 4-9 -4-5 4-3 0-4 -1-1 -1-4 -1-14 1 0 0 0 1-1 1-1 0-5 7 6 -2 6 -1 10 3 3 -5 2 4 0 -1 6 1 3 -1 3 -2 2 4 3 -3 0 -2 6 3 0 -1 1 2 4 -1 2 -3 1 2 1 -1 6 4 1 -5 1 4 2 1 1 -2 3 0 1 0 2 1 4 -2 6 -1 1 3 2 1 1 -3 1 2 0 -1 2 2 0 -1 1 -1 0 -3 1 0 1 1 4 2 6 -2 1 2 2 -2 0 1 6 1 1 -3 9 10-4 1-15 -4-1 3-3 -4 0 0-4 4-2 -1-9 1-13 0-1 -2-2 3 0 -3 0 -1-6 4-4 -3-1 -1-3 3-1 -1-5 -2-2 4 0 -2-3 1-1 -3 0 2-4 1-3 -2-14 -2-1 3-7 2-2 -1-10 0-2 -4-1 0 8 9 1 0 0 2 1 -5 10 4 1 1 2 -3 4 2 3 1 1 -4 2 4 2 -3 1 1 11 1 5 -2 4 -1 2 0 2 4 0 -2 2 -1 1 1 1 0 0 2 1 -4 1 2 1 0 2 -2 7 0 4 4 0 0 1 0 0 0 4 -4 6 2 1 2 0 -1 8 -3 2 4 1 -2 3 0 0 2 2 -1 9 -4 15 6-26 0-4 5-3 -3-7 -1 0 0-1 1-3 3-4 -3-3 -1-2 3-5 1-4 -2-7 -2-1 3-1 -4-11 5-1 -5-3 1-2 1-2 -2-1 5-2 -1 0 -3-6 0 0 0-3 0-6 2-2 2-3 -1-4 1 7 1 10 2 10 1 3 -3 0 3 3 2 3 -2 3 0 3 -3 1 1 2 0 0 2 1 1 4 -1 1 1 3 -1 1 -3 4 2 10 0 2 1 1 0 0 -1 5 3 8 -3 11 2-13 2-13 1-2 2-9 -1-4 3-5 0-2 -1-13 -3-5 1" fill="none" marker-start="url(#k4)" marker-mid="url(#k4)" marker-end="url(#k4)"/>
<path d="M383 168l-69 20 20 6 46 6-5 1-53 1-6 4 30 -2-8 6-31 8 50 -2 72 7-14 0-75 4-50 -3-9 1 29 5 50 0 51 -2 0 11-27 0-6 -5-148 1 20 10 29 -4 28 1 88 3-17 4-11 0-4 0-1 -2-1 -1-97 3-47 1 126 6 9 -2 2 -1 2 2 6 2 4 -5 1 2 1 -2 2 3 15 2 12 1-24 0-10 5-1 -4-4 3-4 -1-2 1-66 1-6 -5-1 11 6 0 22 -2 18 1 8 -3 2 3 13 -4 22 2 7 0 7 3 13 -2 3 -1-6 8-2 1-9 -2-3 -3-10 1-4 0-2 2-16 -3-61 4-4 -1 4 7 52 -4 5 5 4 -2 7 0 4 2 18 -5 5 2 17 -1-15 5-9 3-31 -1-2 2-59 -3-4 0-12 1-6 0-4 3 0 -2-2 0-4 2-53 5 50 -4 2 3 2 0 19 1 5 -1 4 -1 11 -2 8 1 21 3 78 5-5 0-30 1-7 -4-60 4-4 -1 0 2-3 -5-4 4-8 0-9 0-10 -4 4 7 5 3 45 1 29 -5-48 10 0 -3 0 2-20 -3-6 3-7 1 29 2 14 3 99 8-30 -3-15 3-8 0-8 -3-19 -1-7 1-14 -2 31 9 49 -2 5 3 7 -1-127 8 3 2 47 4 5 -1 2 0 31 -2 31 -1-17 7-35 1-8 2-12 -3-28 1 51 8 35 -3 3 1-13 4-36 2-11 4 10 -1 17 2-2 4" fill="none" marker-start="url(#k5)" marker-mid="url(#k5)" marker-end="url(#k5)"/>
<path d="M305 124l44 0 2 1 2 -1-30 7-2 -2-4 1-1 -2 7 8 1 -3 0 2 1 2 1 -3 6 2 3 -3 3 1 10 -2 5 3 2 2 8 -5 1 6-2 3-8 0-3 1 0 0-1 0-2 -1-10 -2 0 -1-8 0 0 4-3 -1-2 1 4 3 6 0 3 4 2 0 3 -2 8 -2 7 -1 2 4 2 -2 1 1 2 -2 2 1 16 9-1 -1-5 -4-3 1-11 3-4 -1-2 -2-3 2-5 0-1 -2-4 3-4 -1-2 1-4 -4 0 1-7 -1-8 2 21 7 4 0 2 2 2 0 17 -4 3 0 6 2 7 2 5 -3-5 9-17 0-4 -2-1 -3-10 1-141 68 14 -1 12 2 6 -2-16 10 23 0 25 2-61 18-20 -1 1 9 8 1 41 14-10 14" fill="none" marker-start="url(#k6)" marker-mid="url(#k6)" marker-end="url(#k6)"/>
<path d="M352 121l-46 15 33 1 17 -5-5 9-81 8 68 -2 11 -2-1 7-12 -2-91 6 73 3 32 -2 2 1 24 9-133 6 28 -2 75 5-41 -2-37 11 56 1-113 4 6 5 1 2 77 -4-84 14 60 4-52 2 9 7 39 5-1 -2-69 3-7 2 13 3 1 1 7 -3 2 1 0 3 2 -1 3 -2 4 3 3 -2 1 1 3 -4 3 1 2 0 16 1 4 0 11 2 1 -1 1 -1 0 -2 7 4-5 2-1 1-8 3-2 -2-2 -1-3 -1-7 0-1 5 0 -3-1 -1-10 2-8 0-4 0-15 -1-1 -2-2 2-1 0-4 -1-6 10 3 -3 0 -1 0 3 16 -1 10 -2 16 0 5 -1 5 4 0 -1 1 0 4 1 6 -2 6 -2 3 2 1 3 0 -2 4 1 0 0 71 6-58 0-9 0-2 0-3 0 0 -2-7 1-1 -2-2 0-4 2-2 -3 0 3-11 -3-3 1-8 1-6 0-5 -2-1 1-1 4-9 -4-2 4 0 -2-9 1-3 -4 3 7 4 3 1 -1 1 -1 10 -1 2 3 0 -3 0 0 4 1 2 0 4 0 1 -2 4 0 3 5 4 -5 1 3 2 -2 9 1 1 -2 5 1 1 0 3 2 7 2 6 -1 2 -4 7 5 5 -1 85 0 12 6-7 -3-38 1-52 2-16 1 0 -2-6 -3-2 1-9 -1 0 3-1 1-6 -1-2 0-3 -1-5 1-13 0-2 0-6 2-1 -3-8 -1-2 -1 0 1-2 1-9 1 0 0-3 2-2 0 0 3 0 0 6 0 4 2 0 0 8 1 0 0 1 -2 4 -2 5 1 2 3 5 -3 2 3 1 -3 13 -2 0 2 2 -2 11 1 1 3 4 -4 4 0 1 4 5 0 15 -2 21 -2 13 5 16 -5 36 8-79 3-17 -1-3 -1-4 2 0 -3-3 -2-1 3-2 0-4 0-8 -2-4 1-4 3-3 -5-7 5-3 -5-7 4-4 -3-3 -1-5 4 0 -3-1 -1-6 5 0 -2-7 3 1 4 1 -2 3 2 5 -4 0 2 2 3 2 -4 10 0 1 0 3 3 1 1 0 -1 2 1 4 -4 0 0 1 3 13 -4 8 1 4 1 0 -1 59 0 24 4 3 -1 2 -1 30 -2-84 10-2 -4-1 1-34 3-8 -3-8 3-6 0-2 -1-2 -2-3 -2-6 0-1 1-8 1 0 -1-3 4 0 0-2 -4 0 2-7 -3-8 2 1 6 15 0 0 3 1 -4 3 0 10 4 2 -3 0 3 6 -4 4 -1 4 4 3 -3 4 1 1 -1 3 -1 2 1 7 2 1 2 39 -1 28 -2 47 0 17 0-22 4-8 0-31 0-24 0-4 4-39 -2-7 2-5 -2-2 -1-12 1-43 5 46 3 13 -4 7 2 137 6-18 3-40 -3-17 -1-4 1-8 1-10 0-42 2-15 -1-44 3 75 4 26 -3 17 2 62 0 24 0-15 5-30 -1-93 -2-64 9 70 2 34 -5 75 1-6 5-45 4-44 -3-54 8 31 -1 4 -2 31 3 3 0 24 -3 12 2 1 2 4 1 1 -3 14 1 23 1-28 6-36 0-4 1-14 -1-18 4 18 3 4 -3 6 1 18 2 2 -4 1 0 44 -1-22 10-6 0-9 -1-2 1-12 -2-4 -2-1 2-4 0-3 -1-12 2-2 6 4 -2 3 3 2 -3 4 4 5 -5 1 2 5 3 4 -4 0 -1 10 0 1 1 10 4 8 -5-10 8-19 0-8 -2-1 3-10 3 5 0 0 3 37 -1 47 8-27 -3-37 2 63 5-33 4-18 3-23 15 6 0 55 9 14 3" fill="none" marker-start="url(#k7)" marker-mid="url(#k7)" marker-end="url(#k7)"/>
<path d="M233 230l15 8-52 13 8 5 73 -2-27 7 20 12-29 3 3 7-44 7 8 2 20 4-2 1-5 -2-4 0-1 1 0 3-3 0-8 0-7 -5-1 2 0 8 0 -2 21 -1 16 0 3 4 4 -5 1 2 2 1 1 -1 7 3 4 -4 1 -1 5 7-4 -1-6 2-9 -1-11 3 0 -1-2 1-2 -1-2 -2-6 2 0 0-1 2-4 -3-1 0-5 2-11 0-1 0-6 5 9 1 4 -1 7 0 5 2 1 0 5 -5 0 5 5 -5 3 5 1 -3 7 2 4 1 11 -2 1 -2 5 -1 1 4 67 1-8 1-12 3-47 -2-7 -1-5 1-2 2 0 -3-10 2-7 0-2 1-1 1-8 1-3 -4-1 3-7 -2-1 -1-1 -1 0 4-6 0-3 -4-1 2-2 -1-9 10 10 -5 3 5 8 -1 3 -1 1 1 2 -1 0 1 2 -3 4 4 12 -3 17 1 61 2 9 2-28 1-37 1-7 2-2 0-5 -1-17 -4-6 1-3 3-3 -2 0 -2-1 2-3 3-1 -1-10 1 8 3 0 -2 5 1 2 3 5 1 9 -3 3 2 10 -4 4 0 54 5 9 0 2 -1 22 -1 13 1 4 3-39 0-3 1-26 -2-42 3-21 0-4 -2 46 5 16 0 16 1-9 7 0 0-18 3-50 1 32 4 30 -2-65 7 63 8 23 2-2 3-5 -4-39 3 3 22" fill="none" marker-start="url(#k8)" marker-mid="url(#k8)" marker-end="url(#k8)"/>
<path d="M341 125l32 17-16 -4-28 10 12 1 13 9 41 17-1 2-13 8 15 0 6 1-1 2-2 2-6 -1-2 2 0 -4-6 4 0 -1-1 1 0 0-4 -4-24 9 32 -4 0 2 5 1 0 0 3 1 1 -2 3 -1 14 10-10 -1-5 1-3 -1-2 0-2 -1-1 -2-11 2-1 1-3 -1-51 0-42 -1 96 5 8 4 1 -5 9 2 6 1 0 0 1 -2 15 10 0 -2-6 0-3 1-3 0-3 -2-3 -2-1 3-1 2-7 0-2 0-3 -4-3 -1-2 1-2 1-1 1 0 2-4 -2-49 1-12 -3-27 7 87 1 14 2 2 -2 9 -1 0 -2 2 1 6 -1 3 0 12 7-2 0-13 -1-2 4-15 -2-7 0-4 2 3 2 0 0 1 0 12 3 2 1 4 -2 2 3 16 -4 7 0 7 10-18 -4-6 0 0 -1 0 1-7 4-1 -2-10 -2-72 2-22 -3-6 11 97 -2 0 2 2 -2 9 0 2 -1 4 -1 10 0 3 0 17 -1 7 8-33 2 0 -2-5 0-9 3-20 -5-16 1 43 9 3 -4 1 3 28 -2 2 4-125 8 117 2 5 0 5 -3-7 6-2 11 7 8 10 20-9 9" fill="none" marker-start="url(#k9)" marker-mid="url(#k9)" marker-end="url(#k9)"/>
<path d="M371 256l-17 5 8 5 0 2 5 0 3 -2 35 8-7 -3-40 4-35 2 8 2 54 0 12 8-3 0-2 -2 0 1-3 0-43 0-4 1-43 -1 53 3 6 0 1 4 13 -4 4 -1 1 0 1 5 15 -3 1 2 1 -2 4 -2 9 9 0 -1-8 1-12 -3-1 3-3 -1-1 3-4 -1-1 -4 0 0-3 2-1 -1-2 -1-1 2 0 1-7 -3-2 5-2 -1-5 1-11 -2-135 6 12 0 102 -3 12 0 16 5 12 -2 15 2 0 -2 6 -1 12 0 2 3 1 -2-7 6-1 0-1 1-7 1-11 0 0 -2-10 2-3 -3-3 3-1 -2-8 -1-20 2-93 -3-4 3 40 6 47 1 8 0 4 0 4 -2 2 -1 5 0 11 -2 3 1 1 0 3 -1 3 5 2 -4 7 0 17 3 3 -3 3 1 3 0 3 3 0 -5 2 1 5 6-16 4-3 -5-17 1-1 1-4 -1-14 -1 0 5-8 -5-1 4-8 0-15 -2-85 7 25 -1 53 -1 33 4 10 -1 1 1 7 -1 1 1 11 0 8 -2 7 0 0 -2 3 2 0 -3 2 1 0 3 2 1 110 -3-97 4-12 3-19 -1-1 3-2 -5-7 5-1 0-7 -4-6 3-4 -3-1 4-66 -3-21 3-39 -3-18 6 20 -1 119 4 14 -5 6 4 12 -3 0 3 1 0 1 -3 11 3 1 -3 2 2 14 -2 4 0-24 7-7 1-1 -2-2 4-2 0-1 -5-2 1-1 -1-6 3-3 0 0 2-7 -1-3 0-40 1-51 -3 86 6 1 2 3 -1 1 -3 6 0 11 1 2 4 4 -1 42 5-6 1-36 -1-10 -2-33 3-41 -4 21 10 3 -2-10 4" fill="none" marker-start="url(#k10)" marker-mid="url(#k10)" marker-end="url(#k10)"/>
<path d="M338 132l18 1-100 5-7 9 21 -1 21 2 64 5 0 0-114 4 97 2-78 9 58 5 60 -5-1 9-126 0-24 7 145 -4 5 4-34 4-62 3-41 -3 167 4-51 8-56 -1-30 2-8 0-6 4 7 0 0 5-19 11 117 -4 40 1-73 9-11 -4-98 2-14 2 163 1 25 0 10 2 16 6-10 -1-165 2 12 4 51 -1 33 7-130 4 3 6 119 0 13 -3 27 7-4 -3-7 4-15 -4-9 3-9 2-12 -1-2 -2-82 2-16 3 81 -1 20 2 1 3 81 -4 0 0-55 5-2 2-5 1-1 2-3 -3-1 -1-12 0-3 2-17 2-3 -5-3 1-1 0-12 1-85 0 88 5 16 2 5 -2 5 4 11 -2 6 -1 2 3 1 -3 0 -2 1 0 7 3 7 2 25 1-24 2-5 3-6 -4-3 0-1 -1-5 1-22 1-35 9 9 -1 8 -3 5 0 8 3 2 -2 1 1 22 2 0 0 6 0 42 -3-25 5-22 4-1 -2-17 -2-12 -1-22 5-17 -4 7 7 4 -2 41 5 2 -4 0 2 8 0 0 -1 3 0 2 1 2 -1 1 -1 36 4 25 3-30 0-6 -1-9 -1-41 2-18 -1 24 5 74 4 16 -1-9 14-38 7" fill="none" marker-start="url(#k11)" marker-mid="url(#k11)" marker-end="url(#k11)"/>
<path d="M351 129l-115 31 57 0 50 12 37 5-83 -3-63 0 44 6 13 0 38 3 31 7-36 6-16 16-31 7 9 19 53 5 95 3-69 1-62 4 24 4 37 8-6 2 46 -1 24 2 3 4-14 0-20 3 12 8-23 2 5 7 3 2 48 -3-44 11 41 10-53 -4 12 8 39 0 1 0 7 0 58 8-1 0-12 -2-2 2-2 0-3 -1-11 2-4 0-2 0-14 0-25 -2-2 -3-27 2-26 1-37 -3 47 7 26 1 2 1 17 2 0 0 6 -4 0 -1 0 2 0 3 2 -3 0 2 1 1 4 -4 2 -1 0 2 1 3 2 -3 1 0 3 -2 1 4 1 1 0 -2 0 1 2 -2 7 0 3 3 1 -5 1 0 3 3 1 0 2 -1 3 -1 1 0 5 -1 3 2 8 1 3 -3 4 0 5 5 0 -1 1 -4 0 1 3 2 0 -1 2 2 1 -1 0 1 1 1 1 -4 6 10-2 -2-1 -2-3 1-2 -2-58 1-3 -1-12 2-2 -2-1 2-4 -1-4 1-1 1-1 -2 0 0-4 2 0 -1-2 2-1 -1-1 -1 0 3-4 -1 0 1-3 -2-1 2-1 -1-2 0-3 -3-17 -1-17 2-18 1-4 6 36 -3 14 0 0 4 10 0 5 1 2 -3 0 0 2 -1 2 -1 2 3 1 -1 1 -2 0 4 0 -1 94 -3 5 2 1 -2 2 4 0 -1 1 2 3 -3 1 1 2 -3-5 9 0 0 0 0-5 0-1 1-1 1 0 -5-1 4 0 0-1 1 0 -4 0 4 0 -1-95 -4 0 4-10 -3 0 3-1 0 0 1-14 -4-7 3 6 3 3 -1 19 0 83 4 4 -1 1 -2 0 0 1 2 1 -2 3 0 0 0 1 2 1 -2 1 1 0 -1 2 0 2 3 3 -3-15 7-8 -1-9 3-1 0-71 -3-9 -1-2 2 9 7 26 0 14 -1 4 -2 3 1 16 -1-34 6-4 0-26 5-84 3 83 0-66 7 4 7 56 -4 0 0 5 8-107 4-19 13 48 2 72 7-34 4-46 12" fill="none" marker-start="url(#k12)" marker-mid="url(#k12)" marker-end="url(#k12)"/>
<path d="M392 174l-7 14-2 10-1 1 27 5-15 17 11 -4 19 9-31 3 3 4 4 -5 21 0 16 9-1 1-1 1-12 -3-2 -1-2 0-10 6 7 2 3 2 1 -5 1 0 1 5 9 -3 1 3 6 -4 0 4 2 3-11 1-2 -2-11 4 0 -2-3 6 0 2 1 -5 8 1 6 4 1 -5 6 3 2 0 0 -2 2 0 4 5-3 2-4 -1-5 3-14 0-11 2 10 1 2 2 4 2 21 -3-7 9-1 0-1 -3-8 1-3 0-7 -1-2 -2-3 0 3 7 2 3 16 1 9 5-1 0-8 -2-4 2 12 7 0 -2 0 -1 3 8 0 -2-1 -2-1 0 0 3-3 -1-14 3 0 -5 0 11 1 -1 9 -4 11 6-2 4-21 3 19 2 0 -1 1 0-7 5-2 2-8 2-5 -4 3 5 6 3 0 1 13 -2" fill="none" marker-start="url(#k13)" marker-mid="url(#k13)" marker-end="url(#k13)"/>
<path d="M266 317l11 -5 9 0 7 1 3 2 19 -2 17 5-21 4-7 -2-1 -1 0 0-23 3-10 -2-4 3-1 -2 25 4 11 -1 2 1 4 3 2 0 0 -1 6 2 11 -3 1 1-29 4-33 2 6 5 12 1 12 0 42 -2 13 4-81 5 76 5" fill="none" marker-start="url(#k14)" marker-mid="url(#k14)" marker-end="url(#k14)"/>
<path d="M274 274l0 0-5 7 8 -4 6 0 6 5-3 0-20 7 8 6-18 4-57 1 34 0 22 1 11 -1 25 4 11 4-1 2-7 1-27 -2-56 -2 4 9 50 -2 2 1 21 -3 2 1 13 1 4 0 7 -2 6 11-3 -2-7 -3-15 4-9 1-12 -1-56 1-22 0 22 1 10 2 30 3 8 0 19 0 2 -2 8 0 1 1 27 -3 2 4 2 -2 4 0 2 4-29 3-3 0-17 -4-6 2-10 3-2 0-3 -5-46 5-8 -2-4 3 52 3 15 -3 13 2 6 -1 3 -1 2 4 23 -4 9 2 17 -1 9 1-12 6-5 2-6 0-8 0 0 -4-7 0-14 2-7 -2-10 0-4 3-4 2-13 -5 21 9 0 -3 0 2 6 2 4 -3 2 3 29 1 4 -4-34 5-1 3-14 -2 68 7-16 6" fill="none" marker-start="url(#k15)" marker-mid="url(#k15)" marker-end="url(#k15)"/>
<path d="M191 293l57 14-49 9 9 0 276 3-1 4-23 -1-215 -4-46 2 298 6 12 7-56 -3-218 5-1 -4-18 3-24 -3-9 0-8 5 10 2 1 -2 216 1 121 4 4 2-274 3-63 -4-4 0-1 4-4 0 0 -2 0 1-4 5 8 -1 3 -1 309 5 1 0 1 0 1 -1 15 -1-14 4-3 0-1 0-4 3 0 -4-2 3-1 -3 0 0-1 4 0 -1-4 -2-1 2-3 0-3 0-205 -2-82 4-5 -4-4 2 0 1 22 6 63 0 5 -4 158 5 13 -2 8 1 3 -3 0 4 6 -4 1 0 4 1 2 -2 5 0 5 1 2 0 7 -1-25 6-16 0-6 1-11 1-7 2 0 -3-2 2-1 2-1 0-4 0-224 -3 34 5 162 3 28 -1 2 -1 2 -2-139 7-67 4 88 2 103 2-91 7-51 7-10 1 149 10-93 9 97 -1-106 11-15 -4 75 8" fill="none" marker-start="url(#k16)" marker-mid="url(#k16)" marker-end="url(#k16)"/>
<path d="M322 113l4 0 7 0 15 4-4 2-3 0-3 0-12 -5-5 3-6 2-3 -4-12 6 6 1 1 -1 1 2 7 0 0 0 1 0 2 -3 4 2 11 3 2 -4 3 -1 3 3 0 1 10 -4-19 6-20 0-5 0 0 2-4 -2" fill="none" marker-start="url(#k17)" marker-mid="url(#k17)" marker-end="url(#k17)"/>
<path d="M212 340l128 3-7 2-3 1-83 0 66 5 39 1 2 -1 3 1 8 -1 41 8-2 -3-4 3-2 -1 0 -2-5 -1-1 0-9 3-4 -1-2 1-11 -1-4 -1-4 -2-48 2-4 5 55 0 2 4 3 0 3 -5 3 0 9 1 6 3 8 -1 3 -2 11 2 2 -3 0 1 4 4-6 6-12 -1-5 -1 0 1-2 1-1 -2-1 1-3 0 0 -2-2 0-6 3-6 -4 0 1-7 -1-6 -1-3 2-3 -1-2 2-6 -1-4 -1-3 0-12 0-21 3-3 1-84 -1 3 7 89 -2 1 2 0 0 2 0 5 -2 1 -3 1 3 4 2 18 -3 2 -2 0 4 2 0 1 -1 2 -1 7 1 2 2 0 -5 0 4 1 -3 1 3 1 -2 3 1 1 1 1 -4 2 2 0 3 5 -1 2 0 2 0 1 -3 1 0 3 -1 5 3 1 -2 2 0 2 0 7 0 4 1 1 1 1 2 1 -4 7 4-2 6-5 -3-6 1-1 2 0 -1-1 1-2 -5 0 4-3 0-5 -3-7 0-3 1-2 2-4 1-1 0-3 0-6 -2-5 2 0 -1-2 1-3 -4-1 2-4 -1-1 -2-12 1-1 1-2 -2 0 3-3 -1-3 -2-6 1 0 1-2 0-1 1-5 -3 0 1-2 2-11 2-1 -1-2 1-14 0-16 0-56 -3 43 9 48 -5 6 2 9 -1 4 2 4 -3 5 4 1 -1 0 0 1 -3 4 3 0 0 3 0 1 -2 3 2 2 1 0 -3 2 3 1 -4 8 0 2 3 4 -2 0 -1 5 2 1 3 1 0 15 0 5 0 0 -1 0 -2 3 -1 3 2 1 -3 7 4 4 0 1 -4 1 4 2 0 3 -4 2 10-1 -1-3 0-1 2-2 -5-1 4-1 -1 0 -3-7 1-1 1-2 -2-1 1-1 1-3 -2-5 0 0 3-2 -2-1 4-7 -1-2 -2 0 -2-3 5-2 0-7 0-4 -3-2 2-2 1-5 -4-1 4-1 -5-3 0-6 3-2 2-6 -1-1 1-2 -2 0 2-1 -1-2 0-6 -1-1 0-12 2-3 -2-3 -1 0 2-1 -3 0 -1-1 5-6 -1-37 -2-17 0 5 8 33 0 20 -2 2 -2 0 4 4 -2 2 0 2 -2 9 5 1 -2 0 -2 0 4 4 -4 11 0 1 3 0 -2 0 0 11 2 4 -1 1 2 0 -2 3 2 9 0 0 -4 2 3 4 -2 1 3 2 0 3 -1 2 -1 1 2 2 -3 4 2 2 -2 1 -1 1 1 5 2 0 0 3 1 4 -2 0 1 2 0 0 0 3 0 1 -3 0 -1 1 4 2 -3 4 2 1 -1 4 2 2 -1-1 3-2 3 0 2-2 -3 0 1 0 -3-6 3-9 2-3 -4-3 -1-4 0-2 5-1 -2 0 -2-1 2-5 -1-3 -1-4 1-2 3-2 0-2 -1-8 -3-2 -1-7 4-2 -1-3 0 0 -3-3 2 0 2-4 0-5 -3-1 2-4 0-1 -1-3 -1-1 4-1 0-3 -3-10 1 0 -2-2 0-1 4-13 -3-3 0-2 -2-1 3-3 -1-3 -1 12 7 3 3 1 -5 7 0 7 2 2 1 2 1 1 -2 1 3 1 -4 0 0 3 3 1 1 0 -2 2 1 2 -3 2 -1 4 3 1 -3 1 4 3 1 0 -3 0 2 0 -3 10 3 5 -1 0 2 3 -3 0 3 0 -2 2 0 3 1 3 -1 3 -3 1 2 3 -2 1 3 5 0 2 -2 1 -1 1 1 4 0 0 -1 2 1 0 1 1 1 6 -2 1 -1 6 3 13 1-2 4-4 0 0 1-2 1-3 -4 0 5-7 0-3 -2-5 1-13 -4-2 1 0 3 0 1-4 0-8 0 0 -5-7 1-2 -1-1 2-1 3-4 -1-1 1 0 -1-7 -2 0 2-3 0 0 -2-2 -2 0 4-9 0 0 -1-2 2-1 0-2 0-3 -5-4 0 0 2-2 2-1 -1-4 1-1 -3-4 -1-1 4 0 -3-3 0-1 0-2 8 2 -2 4 2 0 0 5 -3 3 4 5 1 1 -3 3 3 2 -3 1 -1 4 4 2 0 2 -4 2 3 2 0 1 -1 3 2 2 -3 9 1 7 0 4 -1 1 3 1 -2 3 -3 1 4 3 1 0 0 0 -4 0 -1 2 5 1 0 0 0 1 -3 1 2 3 0 0 -2 10 3 2 0 1 0 1 -5 2 4 6 -1 2 -2 5 -1 2 4 1 -4 1 3-1 3-1 1-4 3-5 -3-1 3-3 0-3 -1 0 -2-2 1-3 3-2 -1-1 -3 0 2 0 -3-1 5-1 0-1 -4 0 1-5 0-5 -1-8 -1-5 3 0 -2-1 -1-5 5-2 -2-3 -1-2 1-2 2-1 -1-2 1-1 -3 0 2-4 -2 0 -1-2 1 0 -2 0 1 0 1-1 1-1 -2-3 0-1 2-1 1-9 -3-4 3 0 -3-16 0 29 8 4 -2 2 2 0 1 4 -2 5 -1 0 -1 8 5 0 -3 9 2 1 -1 17 2 1 -4 0 1 5 0 3 -1 1 4 1 0 2 -3 7 0 3 -2-20 7-29 -1" fill="none" marker-start="url(#k0)" marker-mid="url(#k0)" marker-end="url(#k0)"/>
<path d="M267 142l-20 2 32 5-11 7 5 3 101 7-125 -1 19 6 56 0 12 0 61 6-32 0-4 0-2 1-27 -3-83 4 49 5 32 0 10 -1 3 0 2 1 1 -2 4 0 6 1 1 0 2 -1 10 3 4 -4 20 2 8 2-16 2-1 -1-7 2-7 0-9 3-5 -5-4 3-1 0 0 2-4 -5 0 4-5 -2-10 -1-3 4-18 0-1 -2-1 1-6 -1 0 0-6 1 18 5 5 -2 9 2 1 0 1 1 2 -1 3 -1 7 2 7 -3 1 -1 0 5 2 -2 3 2 0 -4 10 -1 1 1 3 2 3 -1 14 -2 15 4-25 2-9 1-5 2-8 -1-6 1-4 1-3 -2-8 3-1 -5-6 1-11 -1-1 3-3 1-1 1 0 0 0 -3-1 0-5 3 0 -5-3 3-2 2-2 0-6 -2-6 -3 5 8 2 -1 0 -1 4 5 2 0 1 0 4 -5 8 5 2 -3 1 -2 1 2 0 -2 2 5 3 -1 0 -2 2 3 2 -2 1 0 6 2 1 -3 0 -1 8 1 9 -1 7 0 0 -1 1 1 2 4 1 0 1 -5 3 1 3 -1 2 3 4 0 37 -3 4 6-39 0-7 2-4 2-3 -2-4 -2-1 3-2 0-6 2-8 -4-4 4-11 -4-12 3-6 1-1 -4-2 3-1 -1-2 -2-5 1-1 2-4 -1 0 2-16 -1 2 6 3 0 9 -3 4 4 5 -1 1 -3 1 -1 1 3 3 -3 3 4 3 0 0 0 2 -4 2 2 5 3 0 -5 2 0 3 1 0 4 1 -4 2 2 4 -1 3 0 2 -2 7 3 1 -2 2 0 3 4 2 -5 17 0 2 2 1 -2 1 4 0 1 1 -5 3 0 2 5 0 -5 0 3 5 7-6 -1-5 0-5 -2-1 4-2 -5-6 3-6 2-3 0-2 -4-1 1-1 -2-4 4-2 -4-4 2-9 -1-7 3-5 -4-2 5-7 -5-1 0-3 3-1 -3-10 4 0 0-1 -3-1 0-1 -1-4 4 5 3 7 1 1 -1 5 0 2 3 1 0 3 1 1 -1 6 -1 2 0 8 2 6 -3 4 -1 4 3 0 -3 2 4 1 -4 3 -1 0 3 4 -1 0 -1 0 3 2 -1 4 -3 1 0 3 4 6 1 6 -5 3 5 2 0 13 4-8 1-10 1-3 -2-3 2-6 -4-4 3-1 -2-7 -1-5 -1-3 1 0 3-10 -2-13 1-2 -2-7 2 0 2-1 -3-1 3-12 -5-4 3-3 1-2 0-1 -3-1 10 6 -2 0 1 0 0 1 1 3 0 6 -3 7 1 3 1 2 -1 4 2 2 -5 2 3 12 -2 0 -1 0 2 4 -2 3 4 6 -4 3 4 4 -1 6 -3 7 2 1 1 1 -1 3 -2 5 3 4 -1 4 -2 11 6-14 0-8 4-3 1-1 -1-6 -1-10 1-3 1-3 0-1 -2-9 -1-5 0 0 2-2 0-4 -4-6 4-6 1-1 -5-4 5-1 -3-3 -2-1 1 0 -1-3 0-1 2-1 0-12 4 14 5 4 -5 1 2 1 3 10 -4 6 0 4 -1 2 1 0 0 2 1 2 3 15 -5 14 4 4 -1 2 2 6 -5 9 0 1 11-7 0-32 -5-2 4-3 -1-17 0-4 -3-4 3-17 -1 1 8 57 0 3 1 8 -5 17 1-75 5 3 8 8 1 52 -2 2 3 10 4-61 4-7 11-10 -3 15 12-8 1" fill="none" marker-start="url(#k1)" marker-mid="url(#k1)" marker-end="url(#k1)"/>
<path d="M316 129l-5 1-11 1-1 0-3 -1-1 -4-1 1-3 2-24 8 2 -2 7 1 7 -4 0 0 1 5 8 -5 0 4 10 -2 4 3 3 -1 12 -4 12 4-9 7-14 -3-6 3-4 -3-1 0-5 0-9 3-2 0-4 -4-4 -1 0 3-5 -3-1 5-4 -3-7 3-2 -2-1 0-3 2-11 4 7 -2 8 -1 12 3 1 2 8 -1 2 -1 10 -1 10 -2 1 1 5 -1 5 5 6 -5 0 0 4 3 1 1 4 -2 1 -2 13 4 14 -3 17 3-17 5-11 -2-17 3-2 -1-5 2-2 -2-5 0 0 1 0 1-3 -1-6 1-9 -5-3 4-2 -1-3 -2-1 1-3 -1-2 1-1 2-2 0-5 -2-7 -1-1 3 0 1-5 0-6 -4-3 1-4 -2-1 1-1 0-1 2-6 -3-6 2-8 9 14 -3 2 2 5 -3 4 3 1 -1 5 -3 1 3 2 2 2 -3 1 -2 3 3 3 -1 7 -1 3 0 9 2 0 -1 1 -2 3 3 0 -2 3 0 1 1 1 -1 0 0 1 2 3 -2 3 3 7 0 2 -2 0 0 6 1 2 0 0 1 8 1 2 -1 1 -2 0 2 12 1 16 -1 7 -2 6 3 18 0 0 -1-4 2-7 5-3 -1-4 -2-15 3-2 -5-2 5-16 -1-1 -4 0 0-5 5-2 -3-5 2-1 1-1 0-5 -3-2 1-3 -1-4 0-2 2 0 -1-3 0-6 2-1 -1-2 -1-5 1-2 -4-1 3-5 2-2 -1 0 1-6 0-1 -4-2 3-4 -2-6 1-9 2-6 0-3 -2-5 0-1 -3-8 2-8 -2-8 10 11 -3 1 -1 0 2 6 1 1 1 1 0 4 1 3 -2 2 1 1 -3 2 4 9 -3 2 -1 4 3 1 -4 3 0 11 3 4 -3 2 3 3 -3 2 0 5 4 3 -3 4 1 3 -2 2 5 3 -5 3 1 2 3 6 -4 15 3 0 -1 1 -2 8 2 7 -1 1 1 10 2 1 0 3 1 26 -5-21 8-18 3-9 -2-2 0-1 0-4 -2-2 1-2 0-9 -1-1 0-1 3-1 -3-4 -1-1 0-3 5-7 -4-12 -1-4 4 0 -3-3 2-1 -3-4 0 0 0-2 3-2 -3-1 0-3 2-1 1-2 -2-1 3-2 -1-2 0 0 -3-5 0-4 4-1 1-3 -5-3 4-9 1-22 -3 38 9 1 -2 17 -1 5 0 4 2 1 -3 4 -1 7 2 1 1 1 -2 0 2 3 -3 2 5 5 0 1 -1 4 -3 1 1 5 0 2 0 2 -1 0 0 0 2 2 -2 1 2 2 1 2 -1 5 -2 8 2 15 -3 1 5 16 -2-2 4 0 0-27 -1-5 2-11 -2-21 2-3 1-1 2 0 0-1 -2-5 -3 0 2-4 -2-1 0-3 0-1 1-5 4-1 -2-1 -2-3 -1-10 3-6 0-8 1-38 -1-2 6 19 -3 44 5 6 -3 3 1 6 -2 72 9-71 -4-8 4-48 -4-20 0 10 9 1 2 11 -1 50 -3 79 2-24 5-34 -1-105 1 21 8 2 -2 30 -1 59 6-98 -1 106 18 15 0-43 12" fill="none" marker-start="url(#k2)" marker-mid="url(#k2)" marker-end="url(#k2)"/>
<path d="M293 147l-75 14 51 0 63 -4 13 10-45 -4-27 4-62 3 18 3 5 -1 3 0 89 7-75 0-2 -3-3 -2-5 2-4 1-12 1-1 -3-8 1 0 3-1 -5-6 4-1 -2-1 5 0 1 2 1 1 -1 8 0 1 1 1 -2 0 3 8 -3 2 3 14 -4 0 5 10 -4 28 10-6 0-2 -2-1 0-3 2-9 -5-10 5-5 -1-2 1-8 -5-4 4-2 0-5 -2-1 2-3 -2-7 3-1 0 0 -1-3 -3-2 0-8 0-2 8 2 1 1 -2 3 2 2 1 2 -3 1 -1 2 2 4 0 4 -3 5 1 4 -1 2 0 1 0 1 4 2 0 1 0 5 1 4 -1 3 -3 4 3 4 -2 1 -1 6 3 2 0 1 -3 15 3 8 3-4 2-8 -1-7 0-5 1 0 -1-2 -1 0 3-5 -3-2 -1-5 0-8 3-2 -1-3 -2-9 0-2 4-8 -2-1 0-2 3-1 0-7 0-11 6 12 -5 4 0 1 1 0 2 7 -1 1 -1 12 1 0 3 1 0 8 -4 1 1 2 -1 7 0 3 2 2 -1 4 -2 2 5 2 0 0 -4 2 1 5 3 3 -5 2 0 10 1-15 6-4 3-7 -4-4 5-2 -1-2 -1-6 -1-1 2-9 -3-1 3-2 -4 0 2-4 2-2 -4-1 3-2 -2 0 0-1 3-3 -4-6 5-1 0 0 -2-1 -1 0 1-3 -2-4 2-1 -1-3 -2 0 1-2 2-2 2-8 5 13 -2 5 0 1 3 3 -3 4 0 6 2 4 -4 6 2 1 0 0 1 1 1 2 0 3 -3 12 0 5 4 3 -3 4 -2 9 11-1 -2-8 -3 0 1-5 1 0 0-1 -1-2 0-6 0 0 3-3 -4-1 0-10 1-2 3 0 -2 0 2-1 0-1 -3-3 2-1 1 0 0-2 0-8 -3 0 0-7 3-6 -4-2 4-2 -4-3 0 62 6 11 0" fill="none" marker-start="url(#k3)" marker-mid="url(#k3)" marker-end="url(#k3)"/>
<path d="M261 332l-79 7 1 -3 34 1 2 4 13 -3 5 3 0 0 6 -3 2 3 4 0 9 -3 0 6-1 3 0 -2-1 2-6 -2-1 2 0 -4-10 4-5 -4-13 3-2 1-1 0-1 -4-3 4-5 -3-2 -1-1 0-2 2-6 2-4 -5-1 4-2 -2-2 -1 3 6 8 -1 2 4 2 -4 0 5 3 -4 1 2 3 -1 2 0 1 -1 0 1 2 1 0 -2 2 2 2 -2 1 4 5 -4 0 4 1 -2 7 1 0 -3 2 4 3 -3 1 2 2 0 1 -1 1 2 0 -4 0 1 6 1 2 0 1 -2 7 4 1 -3 4 2 0 -2 22 6-6 0-2 -1-3 0 0 4-4 -4 0 2-5 0 0 -3-2 2-1 2-2 -1 0 -3-4 2-2 -2-1 5-3 -2-4 -3-1 3-1 0-1 2-1 -3-6 -2-3 2-1 2-1 0-1 -2-1 0-3 2-4 1 0 -5-9 5-2 -5-3 2-3 3 0 -4-1 4-3 -1-1 -2-1 2-7 -1-13 1 10 5 3 -1 1 0 3 -2 12 0 5 4 0 -4 2 3 1 -1 1 2 0 -3 2 -1 0 0 8 5 5 -3 0 2 1 1 4 -2 4 1 0 -2 2 0 0 2 1 -3 0 2 13 -3 4 3 3 1 2 -3 9 4 1 -1 4 1 0 -3 1 -1 5 2 6 0 1 2 2 -3 7 7-1 -3-4 5-3 -5-6 0-1 3-1 -2-3 4-3 0-4 0-5 -5-1 3-3 1-4 -3-4 -1 0 4-4 1-2 -1-2 1 0 -5-2 0 0 4-4 -3-3 1 0 0-2 0-3 3-2 -3-4 1-2 -1-7 0-5 0-1 3-1 -2 0 -3-2 1-1 1-14 1-1 -3-7 5-2 -4-3 0 7 9 7 1 9 -1 0 -1 4 -2 6 2 2 0 0 2 4 0 1 -5 1 4 1 1 3 -2 1 -3 3 2 4 -1 2 0 0 0 2 4 0 -1 1 -2 0 1 1 -2 0 0 2 1 1 0 1 2 3 -4 1 4 3 -3 0 -1 1 5 4 -1 0 1 6 -2 3 0 2 -2 1 2 0 2 1 -4 1 4 3 0 1 -2 6 -3 1 5 2 -5 3 5 4 -3 5 8-3 1-3 -1 0 1-2 -1-3 -3 0 2 0 1-1 0-2 0-1 1 0 -2-1 0-1 -2-9 1-1 -1-1 1-6 -2-7 1-20 0-2 2 0 2-8 -5 0 3-5 -3-1 0-6 5-10 -4-3 3-3 -2 0 2-1 -4-3 3-6 1-3 -1-2 2 12 1 1 1 8 3 1 1 3 -4 1 -1 0 1 3 1 0 -1 1 1 4 1 2 1 2 -1 1 1 1 -3 5 4 0 0 1 -2 9 -2 3 1 4 -2 0 1 2 1 1 1 1 -2 3 1 5 3 3 -5 3 1 2 1 2 -2 1 4 7 -4 4 4 0 -1 3 2 16 -4 7 -1-7 10-5 -3-10 -1-4 3-2 2-1 -4-2 2-7 1-1 -1-1 -1-2 -1 0 2-4 0-2 -2-1 3 0 1-10 -2-5 -3-1 3-2 1 0 -3-7 1-9 -1-3 3-6 -3-6 -1 0 2-9 2 15 3 12 2 4 2 5 0 2 -4 2 1 3 0 1 1 8 -2 1 2 2 -1 3 3 3 0 0 0 0 -1 5 -1 0 0 7 1 5 -1 0 2 13 -1-19 4-3 0-5 1-6 -2 0 2-2 0-2 0-16 -3-2 0" fill="none" marker-start="url(#k4)" marker-mid="url(#k4)" marker-end="url(#k4)"/>
<path d="M363 195l1 1-66 11 102 -3-90 9-41 7 35 -3 22 4 21 -5 22 7-27 3-13 -4-111 4-24 0 11 7 66 -5 82 3 40 1 17 7-1 0-77 -4-25 -1-87 7 24 4 65 -2 27 1 28 0 4 0 15 5-41 2-74 -3-51 2 21 3 40 -1 52 2 3 0 2 3 6 -2 33 -2 9 4 17 1-4 2-1 1-26 -3-7 2-7 -1-3 1-16 2-4 -1-5 -2-3 2-64 7 73 0 0 -4 27 2 0 2 9 -1 3 2 7 -1 7 -1 0 -1 1 -1 0 2 13 0 1 -2-3 6-16 0-11 0-1 4-3 0-5 -4-3 0 0 0-20 3-47 0-48 -1 49 7 43 -2 15 1 8 2 1 -5 18 3 2 -3 2 1 6 10-4 -2-25 1-9 -4-12 4-5 0-52 -2-5 -1-32 4-49 -3 62 9 11 -1 5 -1 12 1 2 1 29 -2 39 1 8 1 3 -4 4 1 1 -1 18 5-55 1-11 2-27 1-12 -2-1 1-2 -3-7 1-9 3-3 -2-2 -2-3 2-8 -2 26 7 4 -1 25 4 2 0 3 0 14 5-25 -3-12 5-8 -1-11 -2-1 1 65 5 55 5-44 4-18 -2-65 1 88 10 44 7-66 6-16 1-3 -3-18 6 41 1 6 1 36 1-27 10-8 14" fill="none" marker-start="url(#k5)" marker-mid="url(#k5)" marker-end="url(#k5)"/>
<path d="M329 123l20 2 1 -2 8 5-1 3-10 0-9 0-4 -1-4 -1-3 -1-2 2-10 0 3 5 7 2 2 -1 1 1 11 -1 2 -4 3 0 1 2 3 1 2 -3 3 5 4 -1 0 1 0 -1 8 0 3 1 1 0 6 6-2 -4-4 1-8 1-4 2-6 -2-1 2-22 -2-4 2 0 -5-4 8 4 2 1 -3 1 2 8 1 1 -1 1 -1 0 1 1 0 1 -2 0 3 2 0 2 -4 3 0 10 2 10 3 1 -1 3 0 2 5-7 2-7 -5-3 1 0 -1-7 4-4 -4-1 0-2 5-11 0 10 3 5 -2 1 2 1 0 4 0 0 0 9 -1 1 1 0 -1 0 4 5 -2 5 -2 1 0 2 0 10 2 1 -1-10 9-9 -5-6 5-4 -5-3 4-3 -3-4 3-1 -3-4 0 27 8 0 -1-174 55 3 11 13 5 53 -1-60 14 15 -2 43 10-45 -1 12 4 50 10-32 -2-9 1 41 3-62 13 1 -1" fill="none" marker-start="url(#k6)" marker-mid="url(#k6)" marker-end="url(#k6)"/>
<path d="M298 126l-3 5 73 4-34 4-21 3-46 4 73 0 26 1-41 4-71 1 10 9 84 -5-20 11-30 0-59 -4 42 8-65 8 5 5 14 6-14 4 42 2-24 7-31 2 16 1 47 4-3 5-33 -5-26 8 68 -2-37 9-17 -1-23 0-8 3 9 2 5 2 7 -1 12 0 2 1 9 -2 3 2 6 1 6 -2 12 8-3 -4-1 2-12 -1-2 1 0 -1-3 3 0 -2-3 0-3 -2-9 1-3 1-3 2-1 -1-2 -1-1 0-1 -1-3 2-1 -1-2 0-5 -2-3 4-3 -4-1 4-6 -3-1 0 0 7 3 -1 5 1 2 1 3 -3 0 3 11 -2 2 0 0 0 3 3 1 -3 1 4 1 -1 4 0 4 -1 1 1 0 0 1 -4 3 1 3 3 1 0 4 -4 2 1 16 2 2 -1 0 -1 0 1 4 2 7 1 5 -2 0 1 1 -1 81 2-77 4-4 0-1 1-5 -3-2 3-6 0-15 -3-6 0-1 0 0 3 0 -4-1 2-4 3-3 0-3 -5-2 4-1 -3-2 -1 0 0-4 1-4 0-7 0-7 0-1 0 0 0 0 2-2 0 0 2-2 -3-2 0-1 -1-1 2-2 2-3 -2-3 0 0 1 2 2 5 2 1 2 9 -1 0 -1 0 3 2 -1 1 1 0 -2 1 -1 0 1 9 -2 0 4 1 -4 5 -1 16 3 10 -2 5 3 0 1 1 0 10 -2 3 -3 2 2 1 3 2 0 6 -5 6 0 45 2 32 3 27 -3-29 4-72 5-7 -1 0 -1-5 -1-5 3 0 -5-11 5-1 -3-3 -2-2 2-5 -1-1 4-4 -4-2 4-1 -3-1 0-1 3-6 -4-6 4-5 0-2 -3-14 -2-11 4-6 1 8 3 1 -1 7 -1 0 4 4 -2 9 -2 1 2 6 3 2 -4 10 1 0 -2 1 4 1 -2 1 1 1 -3 9 5 2 -2 0 1 1 1 0 -4 1 1 1 -1 0 1 2 2 5 1 1 -5 2 4 0 -3 2 2 5 -2 7 4 0 -3 5 3 4 -1 32 -1 72 4-74 0-25 0-23 1-4 -1-3 3-3 -2-3 1-6 -2 0 -1-3 3-5 1-7 -2-1 0-2 3-5 -3-3 0-5 0-1 0-10 -2-7 3-3 2-2 -3-1 0-1 1-3 -1 0 0-4 0 19 8 0 0 2 1 8 0 13 -4 4 1 6 0 2 2 1 -1 5 -1 6 -1 2 -1 1 1 2 3 1 0 1 1 43 -5 22 3 42 -1 0 2 16 0 2 4-73 -2-69 3-17 2-5 -4-2 4-13 -1-1 -1-3 1-6 -2-3 3-1 -3 6 9 4 -4 0 -1 14 0 17 2 2 -1 15 -1 18 4 9 0 23 -2 99 3-31 2-60 3-20 0-21 1-12 0-2 0-24 -3-1 -1-7 2-15 1-10 -3 19 8 6 -3 60 4 82 1 13 -1 15 -2-17 6-78 -2 0 2-4 -1 29 8 13 1 24 1 23 3-8 1-22 -2-80 -1-4 3-46 3 19 4 1 1 151 3-73 3-22 -4-3 3-19 1 33 2 37 1 32 0-31 7-6 1-9 -1-4 2-42 -5 6 9 3 -1 2 3 23 -3 4 2 10 -1 2 1 4 -3 35 -1-20 7-14 1-3 3-1 0-2 -5-18 5-1 -1-4 -1-1 -2-1 -1-11 5 1 3 3 3 0 0 4 -1 4 -3 13 2 3 -1 14 1-7 4-15 2-10 1-5 1-2 -5-7 2-4 5 19 3 57 2-56 1-18 0 102 13-105 -1 7 8 54 1 46 8-33 9-30 -1-30 9 8 0-11 6 28 5" fill="none" marker-start="url(#k7)" marker-mid="url(#k7)" marker-end="url(#k7)"/>
<path d="M203 230l35 1 3 -2 4 9-10 -4-42 10 66 -1-55 4-3 -1 38 6 2 1 20 7-63 4 38 2-32 5-5 8 28 -3 15 0 19 4-66 6 15 6 12 0 6 0 5 1 14 -1 3 5-4 1-17 -1-1 1-24 1-5 -5-2 3-4 1 13 3 15 2 3 -1 3 0 1 1 4 1 4 -4 22 8-3 2-4 -1-8 0-15 1-4 1 0 -1-1 -1-2 -2-13 -1-3 0-9 0-2 4-3 5 2 0 5 2 0 -3 8 -2 11 4 6 -3 1 0 11 0 1 1 20 2 1 0 1 -4 2 0 0 1 4 -1 1 2 62 1-79 7-13 -3-5 -1-6 4 0 0-8 -2-2 1-3 2-8 0-7 -5-7 10 1 -1 1 -3 4 3 0 0 7 0 5 -2 9 1 6 -2 2 2 4 -2 0 2 0 3 1 0 0 -3 3 2 1 0 1 0 4 -3 1 1 9 -1 2 4 8 -3 59 1 14 2 5 2-4 3-7 1-17 -3-6 0-56 0-11 -2-10 5-1 -5-5 3-5 1-2 -4-8 2-3 2 0 -4-2 1-5 2-2 -3-2 5 0 -1-1 1-3 -5-4 5 9 5 9 -1 2 1 9 -2 1 2 0 -1 6 1 7 -3 6 4 14 -1 10 -1 75 2-4 5-7 -4-12 5-1 -3-30 -2-84 0 118 11-88 11 21 0-9 5 36 25 1 4 21 2" fill="none" marker-start="url(#k8)" marker-mid="url(#k8)" marker-end="url(#k8)"/>
<path d="M358 132l-40 11 72 35-1 2 3 5 1 -2 1 0 2 -3 7 7-4 4 0 -1-7 -1-4 1-8 -4-74 2 80 7 8 0 1 -2 1 4 1 -1 11 0 3 2-2 3-9 2-5 0-3 -1-10 1-2 -1-90 -2 32 7 54 -1 1 0 4 -1 0 4 5 0 2 -4 1 3 1 -1 7 -1 1 0 1 -2 2 2 16 3-5 2-2 2-3 -1-2 2-8 -2-2 -2-1 5-5 -1-8 -3-8 0-91 1 74 7 46 -3 1 3 1 0 6 2 1 -5 0 2 11 1 5 3-4 2-5 -2-10 2-2 0-5 1-15 0-58 0-28 2 45 2 41 -1 2 4 0 1 5 -2 7 0 3 -3 17 1 9 1 4 -1 2 2 4 7-1 -2-2 -2-4 0-5 0-10 0-5 3-6 -3 0 5-2 -4-2 1 0 -2-71 1-34 7 43 0 4 -1 13 0 38 -1 0 2 12 3 0 0 2 -3 6 0-4 4-6 1-4 0-6 0 0 7 4 1 23 0 13 1-14 3-19 2-4 -3 14 8 22 7-2 14-2 -3 2 32 11 -3" fill="none" marker-start="url(#k9)" marker-mid="url(#k9)" marker-end="url(#k9)"/>
<path d="M385 243l-33 6-6 4 30 6-6 5 35 7-19 0-40 1-52 7 38 -1 62 2 2 6-4 -2-38 9 3 -2 5 0 10 -3 5 2 8 3 13 -5 0 3-7 4-8 3-2 1-3 -1-5 1-10 -2-1 0-19 5 0 1 24 -2 0 2 12 -2 9 4 12 -1 15 0-26 6-3 -3-12 2-5 0-10 0-7 1-1 -1-1 0-3 1-7 0-3 -4-7 4-53 0-31 -1-1 -3-25 3 106 4 8 0 2 0 1 0 1 1 6 1 1 -2 4 1 3 2 1 1 4 -5 0 5 7 -1 17 -3 6 2 6 -3 2 0 81 10-20 0-54 0-5 -4-1 5-3 -3-3 -1-1 1-2 2-3 -1 0 0-8 -1-2 0-2 0-2 0-1 2-1 0 0 -4-7 2-1 0-2 0-7 0-6 -1-7 4-1 -1-42 -3-38 10 51 0 37 -1 0 -4 9 4 2 -4 5 2 1 3 4 0 2 0 4 -3 1 3 3 -3 0 2 1 0 6 -2 1 1 6 -1 10 1 8 1 1 1 15 0 13 1-38 3-1 1-4 -1-27 -3-3 1-3 3-1 -1-6 -1-2 0-3 1-34 0-40 0-57 2-4 -3-15 4 4 0 14 3 115 2 16 -3 12 -2 2 2 6 2 1 -4 2 0 3 1 4 2 2 -3 3 2 4 2 2 1 6 4-1 2-17 -4-16 2-1 -1-6 0-18 0-18 3-13 -1-26 3 10 2 53 -2 12 1 11 0 6 3 2 0 9 -1 12 -2 24 0-61 6-69 -1-1 10 39 -4 1 4-12 10" fill="none" marker-start="url(#k10)" marker-mid="url(#k10)" marker-end="url(#k10)"/>
<path d="M335 132l41 17-32 6-1 -4-107 3 82 2 56 1-144 12 136 1-38 6-41 0-26 -2 87 10 48 4-21 -1-124 1 76 6 36 2 20 -3-2 9-29 -3-73 0-51 2 34 6 75 -2 42 1 41 9-75 -1-33 -3-29 -1-61 1-11 10 27 0 57 0-95 2 114 7 12 1 85 8-193 -4 67 10 18 -4 17 3 41 -2-34 7-49 0-9 -2-13 4-49 3 55 3 41 0 6 -1 6 1 2 -4 14 3 1 1 6 -3 43 -1 15 4-66 1-7 0-13 3-3 -3-16 5-41 0-60 -3 97 4 4 3 1 1 3 1 6 0 0 0 9 -5 3 3 7 1 2 0 11 0 17 -2 20 2-34 4-2 0-7 2-11 -3 0 0-9 -1-10 0-2 3-2 0-14 1 1 4 14 1 8 -1 8 0 2 -1 13 2 1 1 3 1 5 -3 16 1 1 2 17 -2 5 0-49 7 0 -2-8 2-4 0-4 0-1 0-2 -1-9 2-20 -2-24 -2-46 3 64 3 16 1 12 3 6 -2 3 -1 1 -2 0 3 18 2 7 -2 2 1 3 -2 9 -2 43 4-14 7-34 0-5 -3-18 0-1 -1-7 1-2 -2 0 2-50 8 1 0 18 -4 5 2 8 3 13 -2 1 2 6 -3 4 0 1 3 8 0 3 -5 6 1 2 4 1 -3 51 8-22 -4-39 1-23 0-9 4-7 -3 3 4 94 5 0 1-14 2-8 0-18 2 8 4 48 1-36 6 24 13-11 1-21 -4 17 7 20 -1" fill="none" marker-start="url(#k11)" marker-mid="url(#k11)" marker-end="url(#k11)"/>
<path d="M327 150l-75 4 50 6 8 7-80 1 2 4 26 2 115 6-12 11-22 -1-52 -2 88 8-77 23 17 1 75 6-45 -2-27 3 17 2-25 6-8 -1 0 11 130 1-55 2-3 1-33 2 0 5 19 -4 4 5 9 0 4 -5 17 4-10 4-5 -2-47 0-1 1-1 5 88 7-1 -1-18 2-42 3-9 4 32 -1-21 9 23 6 6 -3 10 -1 30 4-55 2-11 10 6 -2 74 -3 54 23-1 -2 0 1-3 -2-1 2-2 1-2 0 0 0-1 -1-4 1-1 -2 0 1-1 -1-2 2-6 -4-2 4 0 0-2 -1-2 1-25 -2-41 2-13 3 29 3 5 -2 5 2 2 -3 1 0 1 1 1 1 4 1 3 -2 1 -2 2 4 3 -4 0 4 0 0 0 -3 1 1 4 -2 0 4 3 -1 7 -2 6 2 3 -1 1 0 2 -2 2 1 7 -2 0 2 3 -1 7 -1 1 2 4 -1 3 4 2 -3 1 -1 2 3 4 0 4 -1 1 -2 1 4 1 -2 1 2 14 3-4 3-2 0-1 -3 0 3-2 -2-1 -1-1 -1 0 1 0 0-1 3-60 -1-21 -3 0 -1-8 1 0 1-3 -2 0 2 0 -1-2 1 0 -1 0 2-2 -2-2 2-3 -2-5 4-10 0-20 6 14 -2 16 1 0 0 3 -2 0 0 2 2 1 -3 1 0 1 -1 1 4 0 -2 1 -2 2 5 99 -4 0 3 3 -4 1 3 1 0 3 -2 2 0-6 7-2 -2 0 4 0 -4-1 2-3 1-1 0-4 0-2 2 0 -1-1 1-1 -5-4 4-85 -3-10 -1-4 2-2 3-5 -5-5 10 5 0 1 -4 13 1 3 1 2 -2 84 0 0 0 2 3 5 -2 1 1 0 1 4 1 0 -4 4 1-31 8-72 -3-5 2-11 -2-40 0 96 10 3 0 19 -4 0 1-35 5-22 4-72 5 6 0-20 10 59 17-45 11 25 18" fill="none" marker-start="url(#k12)" marker-mid="url(#k12)" marker-end="url(#k12)"/>
<path d="M401 199l-18 10 0 -3 10 6 8 10 23 8 5 3 7 2-2 0-3 3-1 -1-1 0-2 1-3 -2-41 7 32 2 0 -5 2 1 5 -1 3 2 3 -1 1 0 4 1 2 -2 1 3 2 2-13 1-6 3-3 2-3 -4-3 8 5 0 0 1 8 -3 3 1 9 -1 2 1 7 7-7 -2-1 -1-9 4-2 -1 0 2-2 -3-7 -2-9 5 8 1 0 2 6 0 8 0 4 -1 11 3-6 7 0 -5-15 1-14 6 3 0 7 2 3 2 0 -2 6 0 0 -2 2 4 1 0 1 -1 3 -4 3 1 5 -1 0 4-8 4-4 2-3 -1-3 1-2 5 7 -2 6 1 1 1 0 1 1 0 7 7 0 -2-1 -1-6 -2-2 3 0 4 3 1 2 2 4 6 0 0-6 1 0 -3-2 8 1 1" fill="none" marker-start="url(#k13)" marker-mid="url(#k13)" marker-end="url(#k13)"/>
<path d="M283 309l-8 7 5 -2 23 2 21 3-10 4-8 -4-3 1-1 0-9 3-4 -3-15 0-5 2-6 -2 17 6 18 -1 0 0 1 0 3 1 0 1 13 0 20 -3 0 6-1 8-6 7-32 -3 42 11" fill="none" marker-start="url(#k14)" marker-mid="url(#k14)" marker-end="url(#k14)"/>
<path d="M279 274l-2 7 25 0-3 6-35 0-58 5 55 1 6 -3 26 -2-28 7-4 4-29 -5 44 11 4 -1 32 7-14 -4-13 0-47 1-21 -1 37 10 3 -2 37 1 4 -3 29 3 6 7-22 0-19 -1-41 5 12 -2 1 4 37 -5 14 0 15 0 13 4-15 7-5 -4-14 1-15 3-4 0 0 -4-28 0-26 1-33 4 2 3 58 -2 1 1 21 -2 0 1 7 2 1 -1 5 -2 21 2 9 1 0 -3 4 3-13 3-3 4-7 1 0 -1-1 -4-4 3-16 -1-1 1-17 0-5 -3 11 6 4 1 4 3 3 -2 10 2-15 2-4 2 27 4 1 15 43 -2" fill="none" marker-start="url(#k15)" marker-mid="url(#k15)" marker-end="url(#k15)"/>
<path d="M209 298l13 5 8 -1-18 6 13 7 14 -1 8 9-57 -1 4 6 5 -2 38 0 181 3 85 -4 3 2 5 1 1 -1-87 5-8 3-7 -2-218 -3-15 9 9 2 38 -4 183 4 122 1-8 2-6 3-265 -3-14 2-50 -1-6 -1 0 1 0 -1 5 9 3 -3 3 2 1 -2 10 3 63 -3 132 0 97 3 7 -2 1 0-3 3-2 0-2 1-5 4-1 -4-2 0-1 2-3 2-10 0-277 -2-6 -2 0 3-4 -3 87 9 167 1 2 0 6 -1 5 -4 1 4 1 1 3 -3 0 0 3 2 1 -4 4 3 1 -2 1 -1 5 4 2 -2-11 4-23 1-2 1-1 -1-1 0-2 1-2 2-1 -3-1 3-3 -2-3 0-3 -1 0 2-4 -1-7 3-178 -4 3 7 80 -1 91 1 2 0 0 -1 2 -1 5 1-123 12 101 -1 1 15 14 -1-37 4-42 0-21 2 91 7-117 13" fill="none" marker-start="url(#k16)" marker-mid="url(#k16)" marker-end="url(#k16)"/>
<path d="M344 119l-4 -2-2 -1-3 3-1 0-1 -1-4 -1-2 -2 0 1-2 -2-1 4 0 -3-2 -1-5 2-10 0-9 7 4 -3 2 2 2 2 2 -1 0 -2 3 2 0 -1 2 0 1 1 2 -1 1 3 0 -5 0 4 1 -3 4 1 2 -1 0 0 3 -1 8 4 0 -2 8 2 2 -2 2 -1 2 -1-29 6" fill="none" marker-start="url(#k17)" marker-mid="url(#k17)" marker-end="url(#k17)"/>
<path d="M358 345l-22 3 14 0 18 5 25 -3 12 8-2 -3-1 3-1 0-1 0-14 -1-2 -1-3 -1-2 -1-1 1 0 0-4 3-10 1-3 -5-3 2-4 0-161 8 146 -1 17 0 3 2 6 -2 0 -2 2 4 6 -1 0 1 1 0 1 -3 0 0 2 3 2 -4 1 3 8 1 1 0 3 -5 7 5 2 0 2 0 10 1-1 3-6 2-5 0-8 -4-4 4-23 -2-7 2 0 -3-3 -1-2 3 0 -3 0 1-3 1-5 0-3 -2-2 4-6 -3 0 3-1 0-2 0-5 -1-1 -2-7 1-107 -3 34 6 17 5 25 -1 9 0 3 -1 1 -2 10 0 0 2 0 -2 17 3 0 1 6 -5 7 4 2 1 1 -4 5 0 0 0 1 -1 3 4 1 1 3 -3 3 2 3 -1 3 0 0 -1 6 3 1 -5 0 0 8 5 0 -3 3 -1 0 0 1 3 27 -2-12 8-1 -1-1 -3-2 2-2 3-4 -3 0 3-5 -2-1 -3-1 1-1 3 0 -4-1 3-1 2-2 -5-1 3-2 0 0 2-3 -2-3 2-2 -3-5 1 0 -2-2 0 0 2-1 1-2 -3 0 3-11 -4-1 0-3 1-1 2-7 2-2 -4-1 3-1 -1 0 -2-2 2-4 -1-2 1-1 -2-2 1-2 2 0 0-1 -3-1 -1-1 1-2 1-2 2-4 -3-2 0-1 4-2 -1-1 -2-4 3-2 0-99 -4 30 6 48 0 16 3 1 1 3 -2 1 1 0 -2 5 1 1 1 2 0 1 -3 2 1 2 3 0 -4 3 -1 3 3 10 0 4 2 0 -2 1 -3 4 0 1 0 1 1 6 3 0 -3 7 1 0 -2 1 0 3 4 9 -3 8 0 3 -1 4 4 2 -4 2 2 1 0 6 -2 1 2 1 -1 1 1 2 -2 1 4 5 -2 4 -1 0 3 7 1 1 -4 5 0 0 10-1 0-5 -2-1 1 0 -1-8 0-11 -3 0 0-3 5-2 -4-4 2 0 -3-3 5 0 -2 0 0-10 0 0 -1-2 2-1 -2-1 2-2 -4-2 3-8 -2-2 2-1 0-2 -1-6 0-1 -2-6 1-1 3 0 -3 0 0-2 3 0 1-3 -2-12 1 0 -3 0 0-1 0-4 2-5 -1 0 1-4 -2-12 1-3 1-5 1-1 -1-1 -3-2 2-2 1-18 1 27 6 2 -2 8 -2 1 3 2 1 2 -2 3 -2 0 3 2 -1 5 -1 1 0 1 4 1 -5 2 3 3 1 1 0 5 1 3 -4 3 1 1 1 1 2 0 -5 1 1 3 1 2 3 1 -1 2 0 1 -3 3 4 7 -3 4 0 3 1 8 1 5 0 4 -1 1 -1 1 0 1 -2 0 3 2 1 1 0 5 -3 1 4 4 0 4 -3 3 2 1 -2 1 2 3 1 2 -2 5 2 1 0 2 -5 1 4 2 -3 1 8-9 -1-7 3-5 -2-5 1 0 -1-5 1-2 -2-1 2 0 -1-9 -3 0 2-3 0-4 0-10 -1-1 1-1 3-2 -5-5 2-7 -2-1 3 0 0-1 1-2 0-6 1-3 -5 0 5-6 -1-1 -2-1 -2-4 2-1 3-1 -4-19 4-4 -1-7 1-15 -2-6 1 20 4 3 0 1 -2 5 2 0 3 1 -1 0 -1 2 -1 10 1 1 2 4 -4 0 3 0 -2 9 3 1 -5 1 5 1 -5 2 3 1 2 4 -3 1 -2 1 0 2 0 5 0 1 1 4 0 1 3 1 -3 6 -1 0 5 4 -5 3 0 3 0 0 4 3 -3 1 2 2 -2 3 0 1 0 2 1 3 -1 4 -1 0 1 0 -1 6 1 1 4 3 -3 11 0 7 3 3 -1-1 2-6 4 0 1-1 0-2 -1-2 -1-2 -1-1 -2-2 5-5 -2 0 1-2 0-2 -3-2 0-3 1-4 1 0 -2-6 2 0 2-6 -5-7 0 0 3-1 -1 0 0 0 0-1 -2 0 4-3 -3 0 3-2 -3-1 3-1 -1-3 -3-1 1-3 3-1 1-4 -4-2 1-4 0-1 1-1 -3-1 0-3 3-1 -1-6 -1 0 4-6 -5-1 3-2 -2-1 0-2 -1-3 4-7 -2-7 0-6 5 5 2 1 2 0 -2 6 -1 5 2 5 0 5 -2 5 2 0 -1 6 0 3 0 3 -2 1 3 0 -2 2 -1 9 4 2 -3 1 -1 1 -1 2 1 0 0 1 2 4 0 2 2 1 -3 7 1 4 0 3 0 3 2 1 -2 3 -2 1 0 6 4 3 -3 5 2 2 -2 1 -1 2 3 8 -4 1 4 2 1-3 1-1 0-6 2-6 3-1 0-1 0 0 -1-1 -1-3 0-2 -1-3 0-2 2-2 1-4 -5 0 0-7 2-6 -1-2 0-1 -1-2 5-3 -3 0 2-3 -1-2 2-2 0-2 -4-8 -1 0 0-1 2-2 -2-1 3-2 2-2 -5-3 0-1 4-4 0-2 1-24 -5-5 4 33 4 7 1 0 1 1 0 0 -1 4 -1 3 -2 3 4 0 -3 2 3 3 -3 12 1 1 1 1 -1 1 3 6 -3 5 1 3 -2 2 1 3 1 3 -2 13 -1-23 6-34 0" fill="none" marker-start="url(#k0)" marker-mid="url(#k0)" marker-end="url(#k0)"/>
<path d="M292 130l-29 9 47 5-55 8-10 -2-4 7 85 1-79 5 17 8 38 -1 86 0 1 5-23 -1-2 5-15 -1-8 -1-17 1-3 0-30 -2-21 7 54 -1 26 -2 2 2 0 -2 1 4 9 -1 0 2 7 -4 17 3-9 4-4 -2-15 3-8 -2-3 0-1 0-1 0-1 1 0 -1-2 4-2 -1-11 -2-7 -1-3 -1-4 1-24 10 12 -1 0 0 5 -3 1 1 6 -2 22 1 3 0 2 1 1 -2 3 1 11 3 2 -4 5 5 4 -5 5 5 12 -3-7 7-4 2-6 -4-2 2 0 -3-4 5-21 -2 0 1-6 -1-1 -1-6 0 0 -1-2 -1-2 0 0 4-2 -4-1 1-5 1-9 0-3 1-4 -3-1 0-5 1-7 7 3 1 1 2 3 -4 5 3 3 -1 0 0 6 -1 1 3 9 -2 8 -2 9 -1 5 3 4 -2 1 1 4 -1 14 2 7 -3 2 0 0 3 6 2 38 0-40 2-7 2-1 -2-12 1-4 0-2 0-1 3-7 0-13 -2-4 2-6 -4-9 0-7 1-6 -1-4 0-9 3-2 2 10 3 4 0 8 0 1 -1 3 -2 1 3 0 2 3 -5 0 1 3 4 9 -4 5 3 16 1 4 -4 4 -1 4 0 0 3 1 -1 1 -1 2 1 1 2 5 0 0 -4 0 3 8 -3 14 2 3 3-15 3-12 2-2 0-7 -2-2 1-3 1-3 1-5 -2-4 -2-1 0-6 1-8 3-5 0-1 -2 0 -1-2 0-4 0-6 0-4 -2-3 0-8 5-5 0-5 1 2 0 1 3 9 0 0 -1 7 3 2 -5 2 1 8 0 4 -1 13 4 2 0 4 -3 0 1 2 1 3 2 15 -3 7 3 3 -4 8 2 3 0 5 -2 1 2 47 2-42 1-10 4-5 0-2 0-1 -2-7 -1-3 -1 0 0-3 0-4 1-9 1-4 2-7 -1-1 1-1 -3-1 1 0 -1-1 -1-2 4 0 -2-13 -2-3 4-6 1-4 -5 0 1-2 1-2 1-10 2-1 -4-5 1-1 1 17 4 6 2 2 -2 2 -1 1 4 11 0 1 -2 3 3 1 0 1 -1 2 1 1 0 1 -3 3 -1 1 2 1 -3 2 5 0 -1 2 0 4 -3 4 3 12 0 7 1 3 -5 16 5 7 0 0 -5 7 4-18 5-3 -2-8 4-1 -1-8 0-5 -2-11 2-2 -1-2 -3-1 2-4 1-1 2 0 -2-4 2-2 -1-2 -3-2 4-6 -4-2 0-2 -1-7 2-5 -2-16 3 6 5 7 0 1 -2 7 2 21 -2 11 5 6 -4 1 2 60 7-14 -3-1 1-8 -2-1 4 0 -4-5 3-14 1-58 -4 43 9 10 0 38 1-61 2-2 5 23 4 24 1-37 3-27 0-23 1 27 6 3 1 1 0" fill="none" marker-start="url(#k1)" marker-mid="url(#k1)" marker-end="url(#k1)"/>
<path d="M351 129l-16 0-33 -3-4 4 0 -3-2 0-9 2-20 8 10 -4 0 3 14 -4 1 1 4 -1 2 2 3 1 5 -1 2 3 1 0 10 -3 0 2 1 -3 3 2 6 -1 24 4-21 5-12 -5-2 0-1 4-5 -2-1 -2-3 4-3 -1-1 -2-3 3 0 -2 0 -2-1 1-2 2-1 1-2 -2 0 -1-3 -1-13 2-4 3-6 -4-5 3-5 -1-2 -3-1 4-20 6 10 -2 1 3 2 0 0 -2 1 -3 3 5 1 0 4 -3 1 -2 2 0 2 3 3 1 1 -2 3 -2 9 1 2 0 1 2 1 -1 1 -2 1 1 3 3 2 -2 1 3 1 -1 3 -2 10 -2 2 2 1 -1 0 -1 4 4 1 -3 0 1 14 -2 31 5-26 2-12 3-1 -4-13 1-1 2 0 -1-6 1-6 -1-16 1-5 -3 0 5-5 -2-2 -1-2 0-12 -1-1 -1 0 4-2 0 0 -2-1 0-5 -1-3 3 0 -3-3 3 0 -1-3 1-11 5 6 1 1 -4 0 5 1 -4 1 3 1 0 4 -1 1 2 10 0 4 -5 2 0 6 3 1 2 4 -5 2 2 1 1 0 0 1 1 1 -3 6 2 3 0 2 0 0 -2 7 3 3 -2 5 -1 3 1 1 0 1 -2 1 1 11 2 0 -3 2 2 13 0 1 2 2 0 1 0 3 -4 6 3 1 -2 4 1 45 6-1 0-2 -2-2 4-11 0-19 -2-1 3-16 -2-15 2-7 -3-1 -1-1 1-12 3-3 -3 0 3-5 -2-3 -3-1 1 0 2-4 -2 0 1-2 1-2 -2-1 2-3 0-6 2-2 -5-3 0 0 1-4 1-7 3 0 0-1 -5-4 2-1 0-1 1-2 1 0 0-5 -1-4 2-2 -1-5 -4-3 2-5 6 4 2 1 -2 3 0 6 3 2 -5 2 1 2 -1 0 3 1 1 5 -4 6 5 6 -2 0 2 1 -4 6 3 2 0 0 -4 2 2 0 -2 2 2 10 1 0 -1 5 -1 1 1 2 0 0 -2 4 1 3 -1 2 0 1 4 1 1 8 -3 7 2 2 0 4 -4 7 5 1 -1 8 0 1 1 0 -5 4 3 0 -1 2 0 6 2 2 -2 9 1 8 -1 0 2 8 0 5 -3 8 0-6 5-9 2-13 -1-3 3-6 0-2 -4-2 2-6 1-7 -2-1 2-5 0-1 -1 0 0-7 1-12 1-6 -2-6 -2-2 2 0 0 0 2-2 1-10 -4-1 3-1 -2-4 -2-1 0-4 3-3 2-2 -1-4 -2-4 3-1 -1-5 -4-4 0-1 2-3 -1-1 3 0 -2-1 0-4 -1-1 -1-4 3-23 -1 11 6 20 1 7 -2 3 1 5 2 8 -3 1 4 1 -3 3 2 7 1 13 -2 3 -1 2 -1 0 1 10 0 4 0 6 1 10 0 10 3-6 5-10 -5-7 1 0 4-18 -4-2 2-2 1 0 -2 0 -2-1 2-1 -1 0 2-5 -1-1 3-2 -5-6 3-2 -1-10 -1-13 0-3 1-22 -1 31 6 19 1 12 3 3 -2 0 -1 43 -1-44 7-57 1-15 8 2 -1 142 -2 17 4-47 5-21 -2-3 2-109 3 14 3 72 -1-75 4 20 5 85 -1 28 3 22 0-46 4 6 10-9 3 16 10-31 3" fill="none" marker-start="url(#k2)" marker-mid="url(#k2)" marker-end="url(#k2)"/>
<path d="M294 134l3 18-45 8 29 2-47 2-11 5 7 3 6 1 1 -3 3 3 18 -5 86 10-72 1-25 -1-1 1-8 -1-4 0 0 0-6 0-1 -4-2 4-6 1-6 -3-3 2-8 7 4 -4 0 -1 3 3 1 1 3 0 4 -1 2 1 4 -1 1 -3 21 5 5 -3 1 2 2 -3 0 1 0 2 1 -4 0 3 2 2 4 0 2 -2 29 7-6 1-7 -5-3 5-3 -1-1 -1 0 1-1 -4-4 0-3 2-2 -2-11 3-8 -3-7 2 0 -2-2 3-1 1-12 1-1 -2-1 -3-2 1 0 -1-2 2-1 1-1 -2 0 4-6 -3 0 2-2 -1-4 0 0 2-4 4 1 -2 3 0 0 0 1 0 2 4 6 -4 2 4 0 -1 4 0 2 -4 3 4 1 -1 9 2 0 -4 1 0 2 2 1 -1 2 -2 9 3 1 2 7 -3 2 -1 0 -1 1 0 7 0 2 3 19 1 8 6-10 0-7 -4-1 3 0 -2-2 3-1 -1-2 -1-2 3-10 0-10 -3 0 -1 0 2-1 0-2 -3-14 1-9 4-3 -1 0 -4-4 2-2 3-1 0-1 -4-8 4-4 -2 0 0-1 -1 0 -2-3 9 7 0 2 0 7 -1 1 1 1 1 2 0 3 -4 2 4 10 0 4 -4 2 4 1 0 1 -2 1 2 1 -2 3 1 3 -2 2 4 3 -5 1 2 1 2 3 -2 0 0 4 0 5 0 0 1 3 -1 3 -1 2 1 5 -2 5 5 2 1-10 5-5 -2-1 2-1 -4-8 4-3 -3 0 1-3 -2-3 1 0 1-3 1-3 -1-1 0-5 -3-1 4-8 -2-1 -2-2 2-5 3-6 -3-2 2-2 -1-2 1 0 -2-5 2-2 -4-2 1-8 2-2 6 1 -1 6 1 5 1 2 -4 1 4 0 0 0 0 2 0 6 0 2 -4 1 3 5 0 2 0 1 -1 3 -1 2 2 3 1 6 -3 2 4 8 -4 1 4 1 -5 2 2 2 2 2 -2 9 3 4 -5 4 7-10 0-1 -1-3 4-6 -3-11 0-3 1-4 -1-3 2-1 0-5 -2-5 0 0 -1-10 0-19 2 8 4 19 1 32 3 12 -2-10 4-15 4" fill="none" marker-start="url(#k3)" marker-mid="url(#k3)" marker-end="url(#k3)"/>
<path d="M193 335l0 5 22 1 21 -1 12 0 8 1 16 6-16 -2-7 -2-7 1 0 -2-10 4-2 -1-2 -1-3 3-1 -1-2 -3 0 -1 0 1-4 4-4 0 0 -5-1 5-10 -4-2 0-6 3-1 -1-2 0-12 2 0 -3 8 9 6 0 5 -5 6 1 2 -1 1 2 1 2 1 0 7 1 2 -2 2 0 1 0 3 -1 7 1 10 1 3 -2 0 -2 1 5 4 -4 6 2 2 2 6 -4 9 4 1 0 6 -2 6 8-2 -1-5 0-1 -1-2 1-1 -3-1 1-3 1 0 -3-2 3-3 1-2 1-2 -2-6 -3-2 0-7 5-1 -4 0 4-4 -3-2 3-2 -3-6 0-1 2-2 1-3 -5-5 5 0 -3-1 1 0 1-4 -4 0 5 0 0 0 -3-4 0-1 0-8 1-4 -1-15 3 1 5 2 1 2 -2 7 -1 0 2 0 0 2 0 4 -1 2 -3 4 0 3 5 4 -4 5 4 9 0 0 -4 1 -1 4 0 0 0 6 3 5 -1 0 2 5 -3 3 2 6 -2 3 1 5 2 6 -4 6 3 3 -1 2 0 5 -1 17 7-3 1-7 -2-4 2-5 1-7 -2-6 -1-1 0-2 1-6 -1-2 3-3 1-3 0-5 0 0 -1-5 -1-3 -2-2 1 0 -1-1 1-6 -1-1 0 0 3 0 -1-7 -3-3 0-7 5-3 -5-6 2 0 -1-2 2-2 2-4 0-1 -4-2 1-1 1 0 2-10 -2 4 7 4 -1 1 0 3 2 3 0 7 -3 2 2 2 -4 5 4 3 1 1 -1 1 1 7 -3 2 -2 2 1 1 0 9 -1 1 5 1 -1 0 1 1 0 3 -4 1 1 1 2 1 -3 1 0 2 2 1 -2 1 -1 4 5 6 -2 8 1 0 -4 3 1 0 -1 1 3 0 0 3 1 3 -3 6 -1 0 3 0 -1 4 -2 5 5 6 0 0 -2-5 7-2 -3-2 2-12 0-3 2-1 -1-4 -3-2 0-3 -1-5 1-5 -1-3 3-2 -2-1 3-1 -1-3 -1-3 -1-1 2-7 -1 0 -2 0 2-2 -1-2 0-3 4-5 -4-3 0-3 0 0 4-4 -5-2 1-8 4 0 -5-1 4-15 -2-5 0 22 5 5 0 2 1 1 2 2 -3 8 3 1 1 0 -3 4 0 5 3 1 0 0 -1 1 0 10 -2 4 -2 1 4 1 1 6 -2 1 1 3 -4 0 5 1 -4 4 2 0 1 2 1 7 -3 6 -2 2 1 1 0 3 1 1 1 3 -2 1 4-1 3-8 -2-9 0-3 5-1 -2-2 0-1 0-4 2-1 -2-5 -2-1 3 0 -1-5 0 0 1 0 -2 0 2-3 -4-2 0-3 4-5 -4 0 0-3 5 0 -1-1 -3-1 -1-2 4-1 0-3 -1-1 -2 0 -1-5 4-3 1-3 -4-1 0-2 -1-1 5-4 -3-3 -1-1 3 0 0-1 -4 12 10 15 -2 1 1 3 2 4 -4 8 0 3 3 1 -2 7 3 3 -3 3 -2 8 2 1 -1 0 2 4 -1 1 1 2 -3 6 4 4 1 4 -3-16 7-3 -2-6 1 0 -1-5 -1-9 1-14 2-4 -2-6 -1-10 2-9 -2" fill="none" marker-start="url(#k4)" marker-mid="url(#k4)" marker-end="url(#k4)"/>
<path d="M325 190l11 7 61 -2 9 4-5 1-32 2-73 3 58 3 52 -3 5 5-29 0-16 2-11 -1 55 6-7 10-61 0-30 -5-115 8 45 -1 23 1 38 1 111 -2-49 9-30 -3-70 -1-15 5-22 -4 11 9 121 1 46 4-33 1-24 -2-4 0-8 2-4 1-5 -5-52 11 85 -1 3 1 37 0-4 1-7 0-8 0-12 0-7 5-9 -1 0 1-3 0 0 -2-23 -1-110 3 26 6 34 -2 31 -2 1 2 16 2 9 -4 6 -1 11 2 16 0 8 0 2 0 10 3 2 -1 1 -4 5 2 5 -2 2 4-7 3-7 3 0 1-15 0-6 -1-10 1-2 0-6 -1-4 -3-4 4-2 -1-52 -4-25 5-16 2 16 0 14 4 1 -1 5 -3 8 0 7 -1 27 2 21 -2 2 4 15 -3 1 1 16 2 19 1-12 6-3 -2-10 -3-9 1-18 4 0 -1-97 -4-35 9 4 -2 48 2 0 1 14 1 11 -2 4 -3 74 0 1 0 35 11-7 0-11 -2-73 -2-7 -1-11 1-1 2-4 -2-6 4-7 -4-3 3-1 -4-3 3-1 -2-1 1-5 0-13 4 12 1 9 4 6 -3 0 2 5 0 78 -4 38 2-12 9-15 -2-65 0-4 -1-14 1-2 -3-3 1-19 1-2 8 99 -3 19 3-52 3-54 5 8 0 25 0 60 3 27 -3-62 11-85 0 32 6 31 -5 10 2 19 -1 4 8-57 2 84 8-42 1-7 -2-32 5 59 2-33 6 12 5" fill="none" marker-start="url(#k5)" marker-mid="url(#k5)" marker-end="url(#k5)"/>
<path d="M345 124l17 7-3 -2-10 2-2 -3-2 1-5 -3-7 4-14 3 0 0 2 2 2 -2 12 2 3 -3 5 5 0 0 3 -4 4 4 1 0 1 -4 2 1 1 0 12 3 0 -1 0 -1 5 6-6 2-2 0-12 -1-4 -1-4 -1-2 -1-3 3-3 -2-4 2-5 -4-3 1-3 3-7 4 1 -2 4 0 15 3 0 -3 1 0 1 4 1 0 6 0 3 -3 0 1 5 0 1 3 3 -1 3 1 1 -2 5 2 2 -2 5 1 0 0 2 -4 3 4 1 -1 0 -2-3 7-1 2-3 1-10 -3-22 -1-1 1-3 2-1 -4-1 0-1 5-6 -1-1 3 8 0 6 3 0 -2 3 -2 0 5 5 -3 4 0 3 -2 1 2 12 2 0 1 4 -4 2 2 0 2 1 -1 2 -3 4 7-3 -2-3 0-19 4-6 -3-13 1 33 5-136 69-3 -4-31 4 21 4 4 9-24 -5 20 6 32 0 16 8-21 3-50 1 33 14-15 7-7 1" fill="none" marker-start="url(#k6)" marker-mid="url(#k6)" marker-end="url(#k6)"/>
<path d="M309 123l9 2 3 -2 3 7-17 1 0 2 7 4 13 -5 5 0-52 6-8 14-30 3 130 3-62 13 2 -2 28 1-133 6-6 9 115 -5-20 8-73 5 46 4 16 -2-40 6-2 -1-29 3 26 3-17 13 34 -1-45 5-7 4-4 -5-10 9 5 -2 2 2 0 2 4 -5 6 5 1 -5 3 2 1 -2 3 1 4 2 12 1 2 -3 11 2 3 -1 13 1 16 6-16 -2-3 4-10 -4-9 4-4 0-5 -3 0 2-1 1-1 -2 0 -3-7 3-26 6 10 2 1 0 14 -5 3 0 4 1 1 3 1 1 3 -3 1 0 7 1 6 2 1 -4 14 4 0 0 1 -2 0 1 1 1 6 0 10 0 56 5-1 -3-52 1-1 1-5 1-4 -1-5 -1-1 2-2 -3 0 2-1 -2 0 3-9 -1-2 1-1 -4-31 4-4 0-4 -4-10 3-6 2-3 0 0 2 1 2 1 0 2 -1 1 0 2 -1 2 2 1 -2 5 0 8 -1 1 5 0 -2 21 -3 12 4 1 -2 1 -2 1 0 7 1 2 1 5 -2 7 4 1 -3 1 4 2 0 110 6-32 -4 0 1-60 1-1 -3-18 4-1 1-1 -3-1 -2-3 1-4 3-5 -1-3 -1 0 -1-1 -1 0 5-5 -3-2 2-2 -2 0 1-2 -2-2 -1-6 1-6 2-9 1-1 -1-4 -3-2 2 0 -2-5 0-7 1-2 1 0 0-3 3-4 0-6 2 7 2 7 -1 22 3 0 -2 4 -2 12 0 8 1 8 1 2 -2 9 4 2 -4 0 -1 2 0 12 5 2 -4 34 4 78 0-122 4-2 -2-16 4-13 -4 0 2-3 -2-1 -1-6 0-1 1-1 4-1 -1-2 -4-3 5-4 -2-1 1-2 -2-5 0-1 -2-5 2-4 2-1 -3 0 -1-9 3-2 -2-1 3 1 7 7 -4 0 4 4 -1 11 -1 2 -3 1 3 2 -3 2 3 5 2 3 -3 9 2 8 -4 4 0 1 2 2 1 3 2 6 -3 3 2 5 -2 8 1 1 -3 84 9-43 -3-13 2-49 3-1 -2-4 2 0 -1-6 1-5 -4-4 1-2 3-2 -3-15 3-1 -5 0 0-4 4-8 -2-2 1 0 -1-2 0-9 -2-2 4 0 0 6 5 1 1 11 -4 4 0 14 3 6 1 1 -4 0 2 1 -1 0 1 4 -1 4 3 1 -2 1 2 20 -2 19 -1 7 -1-9 8-1 0-6 3-14 -5-30 5-13 0-5 -1 19 3 6 -1 8 4 34 -3 49 4 39 -1 30 1-100 4-14 -1-8 -1-51 4 3 1 50 1 15 2 1 0 10 1 32 -4 37 2 1 3-63 4-17 1-35 -4-52 1-7 -1 4 7 15 0 15 -1 59 4 8 -3 42 3 43 -2-54 5-42 3-6 1 114 1-53 8-3 2-22 0-40 7 27 -2 23 0 15 2 2 0 4 -2 37 4-43 3-1 -1-1 -2-3 2-5 0-24 -3-8 2-4 1-2 1-20 -4 29 11 20 -5 3 0 6 3 1 -3 6 0 9 8-6 2-1 -1-13 -1 0 0-1 -1-2 3-6 -3-9 1-14 4 45 1 64 1-100 4 71 11 2 -2 23 5-38 16-57 11 4 3 82 6-22 0-5 1-57 0-5 2" fill="none" marker-start="url(#k7)" marker-mid="url(#k7)" marker-end="url(#k7)"/>
<path d="M192 233l43 -1-25 6-15 16 59 1-37 4-22 29 8 0 8 5 1 -4 3 4 21 -1 3 7-5 -4-18 2-3 -2-4 -1 0 0-4 5 0 -4-2 2-1 -2-5 6 7 0 3 2 0 0 3 -1 2 0 11 -1 7 -1 2 3 0 2 3 -1 5 1 3 -4 1 1 6 2 0 -2 67 9-62 -3-8 0-8 -2-5 5-2 -5-2 1-4 0-1 4-1 -4-8 3-8 -4-14 0-3 10 1 -1 20 0 15 -3 21 0 4 0 2 5 3 0 1 -1 1 -3 5 2 2 0 48 -1-54 4-6 5-2 -5-1 1-6 1-5 3-3 -5-6 1-5 0-3 1-2 -2-1 3-2 -3-3 2-8 3-1 -1-5 1-6 -5-3 1 0 -1-2 5-1 -2-1 2-3 2 6 4 3 -4 3 2 10 -1 9 -2 0 4 7 -1 2 -3 8 0 6 0 0 1 4 3 2 -2 0 2 4 -1 0 -3 1 4 8 -2 67 0 2 1 18 5-8 0-11 3-51 -4-9 0-10 -1-6 3-4 -2-27 1-10 -1-7 -1-4 3-14 -1 8 4 5 4 9 -1 3 -2 7 2 4 -1 14 -1 18 -1 70 11-131 -5 41 15-24 2-6 0 88 5-10 4 21 15 0 -3-48 12-21 0-8 1 23 10-1 2" fill="none" marker-start="url(#k8)" marker-mid="url(#k8)" marker-end="url(#k8)"/>
<path d="M363 135l-5 7-21 6 22 7 36 21-1 -1-3 3-3 -4-3 4-2 -2-15 8 7 1 6 -2 4 -3 2 1 6 4 9 0 2 4-8 1-14 5 2 -2 3 4 9 -3 2 2 6 0 1 1 10 6-3 -2-1 2-3 -4-1 -1-2 3-2 -1-7 3-13 -4-1 2-65 -1 53 5 3 4 5 -2 3 -1 2 -1 2 4 1 -1 1 1 2 -3 0 -1 5 1 5 -1 4 1 3 3 7 -2 7 6-1 1-8 -4-2 1 0 3-1 -2-6 -2-13 0-7 0-2 5-3 -5-16 2-27 0 41 6 7 3 2 0 6 -2 20 -2 1 3 1 1 0 0 0 -5 3 11-4 -3-3 2 0 1-5 0-4 0 0 -4-3 1 0 -1-9 3-2 1-2 -4-28 2-17 -3-9 0-28 4 37 3 31 -1 14 3 7 -2 2 -1 0 2 10 -1 2 0 6 0 4 3 6 -2 7 1 1 0 0 -1 5 3-20 1-4 4-6 -1-4 -2-1 2-2 -2-2 4-3 -3-5 -2-38 4 11 6 13 -4 14 0 9 2 8 0 2 1 5 1-1 4-3 -2-3 3-4 2-8 -4 10 8 1 0 7 5 38 36-4 14-8 9" fill="none" marker-start="url(#k9)" marker-mid="url(#k9)" marker-end="url(#k9)"/>
<path d="M364 241l-13 14 5 -1 26 3-29 4-26 1-5 4 21 2 3 0 59 4-21 -1-2 0-15 4-31 0-2 -2-2 7 59 -2 6 9-12 -3-4 -1 0 4-5 -1-4 1-20 -1-3 1-11 0-28 -5-1 0 34 6 18 4 20 0 4 -3 3 0 1 0 6 1 6 3 4 -3 5 7-7 -3-11 2-4 0-2 1-1 -2-3 -1-3 2 0 0-11 -2-3 2-12 1-16 -1-142 9 4 -5 141 2 1 0 5 -2 4 3 3 -1 1 1 5 2 17 -2 6 -2 11 3 2 -4 17 7-4 -1-6 4-1 -2-2 -1-2 -1-5 3-1 0-1 -3-4 1-2 3-3 -1-5 2-2 -5-1 1-2 -1-8 4-4 -2-14 -1-3 3-3 1-6 -5-142 8 54 3 26 0 22 -5 40 4 3 -4 1 0 3 2 1 -2 0 2 9 2 11 -4 5 4 1 1 11 -1 6 0 3 -4 1 1 3 3 2 -1 1 -2 1 0 22 5-8 2-4 3-3 -5-11 2-3 3-3 -1-13 -2-4 3-2 -4-11 4-7 -5-2 2 0 -1-1 4-2 -1-1 -2-16 0-29 -1-38 2-37 3 52 3 25 -2 5 -1 8 1 25 1 5 3 1 -4 15 0 8 3 4 -3 10 0 1 0 3 2 2 -3 2 0 2 3 1 -1 3 -2 78 0 46 5-104 1 0 2-9 -2-14 3-4 -1-3 3-2 0-1 -5-4 5-1 -4-2 3-1 -1-4 2-7 -1-7 -3-9 0-40 1-21 1-47 -2-57 1 26 9 6 -4 65 1 17 3 46 -3 5 -1 3 0 6 4 4 -5 0 3 8 2 0 -1 2 0 6 1 0 -4 14 1 1 2 3 0 2 -2 132 1-127 5-1 1-8 1-7 1 0 -5-4 3-2 2-1 0-11 -1-10 0-5 -4-144 0 72 10 26 0 52 -3 2 3 5 -4 19 3 0 1 2 -2-72 9-4 -3-8 0-2 0-17 2 40 6 20 -2-37 15 12 -4 7 -1" fill="none" marker-start="url(#k10)" marker-mid="url(#k10)" marker-end="url(#k10)"/>
<path d="M352 133l1 -1-98 8 39 5 36 1 18 2-45 6-55 1 67 21-49 -2-43 9 80 1 9 -2 88 4-2 5-44 -5-37 2-84 1-33 7 9 0 203 5-129 1-80 1 43 6 102 -3-131 9-27 4 28 2 132 -4 1 -1 20 4 10 2-126 4-22 -4-13 2-19 -2-9 11 20 0 123 -5 56 3-77 7-35 -1-76 2 58 2 79 3-99 6-39 -3 25 10 15 -4 31 0 66 2 52 -1-46 7-8 0-16 -2-2 3-8 -2-4 0-7 3-6 -2-56 2 53 2 3 1 3 -1 2 0 2 2 1 -2 1 3 3 -3 0 0 14 4 9 -1 4 0 32 0 17 0 9 0-13 6-9 1-17 -5-12 3 0 2-7 -5-13 4-2 -1-2 -1-5 0-12 -2-1 4-1 1-4 -4-9 3-70 5 79 -1 16 -2 5 2 4 -2 5 3 14 -2 4 4 21 -4 25 6-33 3-6 -3-7 3-11 -3-4 3-3 0-2 -1-3 -2 0 4-2 -3-5 0-4 -1-6 3-62 3 16 4 18 0 16 -1 5 -3 18 2 5 2 9 -2 2 -1 1 2 5 -2 0 -2 8 4 42 -1 5 -1 6 -2-11 9-19 2-34 -1-1 0-1 -1-2 -1-2 1-3 -1-5 3-1 -1-2 -4-1 0-11 0 0 1-42 0-14 3-25 0 76 3 5 1 17 -1 1 -1 4 0 2 2 8 -1 0 0 1 2 2 0 0 2 16 -4 6 1 12 3 19 -3-55 6-4 0-1 -1-19 3-24 -2 107 6-25 7 21 3 14 4-39 11 4 -2 21 5" fill="none" marker-start="url(#k11)" marker-mid="url(#k11)" marker-end="url(#k11)"/>
<path d="M236 149l84 -3 9 9-97 -4 51 6 74 9-124 4 2 3 4 1 81 10 10 0 39 -3-16 17 16 15-59 1 32 6 35 3-60 0 26 6 98 12-67 6-56 5 46 1 30 3-10 7-30 -2-23 0-8 3 12 0 35 5 65 2-2 -1-48 6-22 9-4 -1 0 8 85 -1-81 6 21 12-47 -3 24 11 78 -3 3 3 57 5-3 1-1 -3-1 0-3 2-2 -1 0 -1-2 1-2 2-4 -3-2 1-5 1-8 1-3 0-12 0-1 -4-4 4-111 3 25 0 64 3 2 0 4 0 4 -2 2 -2 3 2 0 1 7 -4 1 5 0 -1 2 -3 1 1 6 0 4 1 3 -2 2 -1 1 0 4 2 0 -2 2 2 0 -1 2 -1 4 2 2 -2 1 1 2 1 4 0 3 -2 4 4 4 -2 4 3 1 -4 2 2 1 0 0 0 3 0 1 0 4 1 15 6-5 1-2 -2 0 2-3 0-4 -1-5 -4-2 0-8 0-48 3-13 -3-12 1-5 0-4 0 0 1 0 -1-2 4-2 -1 0 -2-4 1 0 -1 0 -1 0 1-41 -1 3 5 1 2 37 -2 1 1 4 -1 0 3 1 1 1 -2 1 -2 1 5 102 0 3 -2 1 -2 0 3 1 -2 0 2 0 0 0 0 1 -4 2 5 0 -2 0 1 1 -3-3 7-4 -1-1 0-1 2 0 -3 0 3-2 2 0 -3-1 2-2 0-3 -2-7 2-85 -1-4 -2-2 1-13 -2-3 4 11 7 5 -4 86 -1 3 3 2 -3 0 5 1 0 1 -4 0 -1 1 1 5 1 5 -2 1 0-16 6-3 0-11 4-4 -1-6 1-72 -2-8 -2 57 10 7 0 14 -3 11 -1-68 10-39 -2-78 7 13 -3 86 0 6 1-99 9-4 19 27 -4-35 11 18 10-11 7 85 4" fill="none" marker-start="url(#k12)" marker-mid="url(#k12)" marker-end="url(#k12)"/>
<path d="M375 177l31 19-12 5 15 19 17 -4-33 7 37 13-6 2-2 -1-4 0 7 6 2 1 4 0 3 0 1 -1 1 8-3 -2-9 2-3 -2-3 1-8 0 4 5 5 -2 3 1 0 2 2 0 3 -3 12 0 4 8-2 2-2 -4-6 0-3 -1-8 1-2 4-7 -4-1 2-4 -1 6 7 0 -2 4 -1 2 1 4 4 1 -2 5 -2 2 1 11 0-3 6-3 2 0 -1-2 0-10 0-4 -1-11 -1 3 10 4 -1 0 1 3 -4 6 -1 3 3 1 -2 9 4-1 5-3 1 0 -4-23 0 5 9 18 -4 0 4 10 3-2 3 1 5 1 -1 2 4-2 2 0 2-2 -3-4 0-20 1 16 8-7 13 2 -3" fill="none" marker-start="url(#k13)" marker-mid="url(#k13)" marker-end="url(#k13)"/>
<path d="M284 310l-14 3 9 1 5 3 20 5-13 -1-1 -3-8 2-6 3-13 -4-5 10 16 -4 2 2 3 -2 7 3 0 -2 1 1 14 -3 0 1 2 -1 18 3 10 2 5 -1 6 0-15 4-7 -1-9 1-23 -2-1 7 11 2 22 0 23 2-32 5-34 6 37 2" fill="none" marker-start="url(#k14)" marker-mid="url(#k14)" marker-end="url(#k14)"/>
<path d="M260 281l5 -2 30 3-9 3 3 11-13 0 0 -1-2 1-81 6 81 -1 19 6-17 0-21 0 11 10 19 -4 16 -1 2 1 3 -1 15 5 6 5-4 1-2 -1-20 -1-15 2-37 -4-6 7 8 1 1 1 3 -3 40 2 19 0 3 0 0 1 21 4-6 3-20 -1-5 -4-4 2-6 1-3 1-28 -3-19 4-45 -1 14 3 55 4 3 -2 1 0 5 1 7 -3 10 -1 6 2 4 2 7 0 11 0 4 -4 1 4 14 1 2 -3 0 6-7 -2-18 2-2 -2-18 5-8 -2-32 -3 0 4 24 5 7 -3 9 0 1 1 6 0 4 -1 20 2-10 9-47 -5 52 8 21 5-23 1-12 2" fill="none" marker-start="url(#k15)" marker-mid="url(#k15)" marker-end="url(#k15)"/>
<path d="M199 299l65 12-53 3 12 3 17 -3 25 -1 223 10-251 -2-9 0-12 8 307 6-8 -3-335 2-1 6 4 0 15 -2 209 3 10 -2 106 5-7 1-97 -3-165 4-65 0-1 -2-1 -1-1 2 0 -1-1 -2-3 0-5 3 0 2-1 -1 8 2 7 4 1 -3 298 4 1 -1 3 0 1 1 7 0 0 2-2 -1-4 1-4 -1-3 4-1 -3-1 2-1 -1 0 3-1 -3-1 -2-2 4-3 0-3 0-68 1-138 -2-10 -1-20 0-48 -2-6 2 21 4 155 4 25 -4 55 4 4 -4 11 3 2 -3 1 0 3 3 0 -2 2 1 1 -2 0 1 1 2 2 -1 7 -1 1 0 1 3-29 3-10 2 0 -2 0 0-1 0-1 4 0 -5-7 3-1 2-1 -1-3 -3-1 2-3 -3-2 4-7 0-3 0-1 1-17 -2-35 2-15 -4-87 4-46 -3 199 5 7 -1-112 16 100 2-22 2-101 3-2 0 32 4-18 6 36 11-36 2 110 2-68 9-42 -2-4 1 51 7" fill="none" marker-start="url(#k16)" marker-mid="url(#k16)" marker-end="url(#k16)"/>
<path d="M348 118l-3 0-2 -3-2 0-3 2-4 0-2 1 0 -3 0 4-8 0-1 -4 0 0 0 1-1 3-5 -2-5 1-6 0 4 2 0 3 8 -2 1 4 1 -1 0 -3 1 -1 0 3 2 0 1 2 3 -4 1 0 3 0 2 1 4 2 6 -3 4 0 1 3-23 2-14 0" fill="none" marker-start="url(#k17)" marker-mid="url(#k17)" marker-end="url(#k17)"/>
</g><g filter="url(#fill)">
<path d="M719 344l-31 1 50 6 12 -3 4 4 11 -4 30 5 15 4-1 -2-2 1-3 -2-10 0-11 1-6 4-17 -1-3 -1-1 2-12 -4-53 9 26 -4 57 5 8 -1 4 -1 1 0 0 -1 7 3 1 -1 6 -3 2 4 8 5 0 -1-5 1-2 1-29 -1-1 -2-8 2-5 -1-6 -3-2 4-7 -3 0 3-3 0-10 1 0 -3-17 3-5 -3-8 2-2 -2-18 -2 10 11 8 -4 10 3 1 -2 6 -1 7 0 11 1 7 3 9 0 9 -5 4 2 4 -1 0 0 6 1 4 2 7 0 2 -1 1 -2 0 4 7 -3 0 2 0 0 0 0 1 0 0 -1 3 1 1 -4 6 1 3 2-3 4-3 2-7 -3-1 4-2 -4-2 1-5 1-9 1-4 -2-1 0-2 4-1 -5-3 1-3 -1-5 0-4 4-6 -4-6 0-1 4 0 1-2 -2-9 1-4 0-21 -3-7 1-5 0-15 6 1 3 13 -5 1 2 2 1 8 1 7 -4 18 2 2 1 5 1 11 -2 2 2 2 -4 1 5 4 -4 7 0 10 -1 7 3 2 -1 5 0 5 -2 1 4 1 -2 2 -1 3 3 3 -2 0 0 3 -1 2 1 4 -1-2 7-4 1-1 0-1 -3-5 2-9 2 0 -3-2 2-2 1-1 -1 0 -1-1 1-4 -2-28 -1-11 5-2 -5-15 2-3 1-5 -3-2 2-3 2 0 -1-9 -2-3 0 0 -1-3 5 0 -3-2 1 0 -3-6 5-1 -4-2 4-2 0-4 -3-1 -1-1 10 5 0 0 0 3 -1 11 -1 1 2 2 -3 4 0 1 3 6 -3 6 3 11 0 9 -1 2 -1 0 -3 7 2 12 3 4 -5 1 3 1 -1 20 1 2 -1 8 0 1 0 8 0 1 0 2 0-2 9-12 -2 0 2 0 0-1 0-3 -2-1 0-2 -3-1 5-1 -1-7 -2-2 -1-3 4-2 -5-6 0 0 5-4 -1-9 -1-6 -1-4 3-7 0-19 -3-9 1-6 -1-7 -1 0 3-2 0-1 -3-5 1-1 -1 0 5 3 1 7 -1 2 5 6 -2 1 0 2 0 6 -2 2 1 1 0 3 -2 1 5 10 -2 3 -1 4 0 4 3 3 -3 4 2 6 -2 2 2 1 0 1 -4 4 2 0 2 10 -3 1 -1 5 4 7 -2 4 -1 2 3 3 0 16 -4 0 0-11 6-1 1-3 1 0 0-1 -1 0 2-7 0-3 2-3 -1 0 -1-3 1 0 1-1 -1-4 0-6 -2-3 1-14 -3-1 0-3 4-2 -2-1 2-3 -3-7 4-2 0-3 -2-7 -1-2 2-2 -1-9 -1 0 -1-2 4-8 -5-3 3-6 -1 0 -1-2 1 0 -1-3 1 8 6 1 1 4 -1 4 3 1 -1 3 -2 2 -2 3 4 1 -3 1 2 3 1 2 0 0 1 2 -2 2 0 3 1 9 -2 3 -1 7 -1 2 0 3 1 4 2 3 0 1 -2 8 3 9 -1 4 -3 0 3 5 0 11 2 1 -5 0 5 10 -5-27 8-6 -2-9 0-7 4-1 -1-12 -2-2 0-1 2-1 -2 0 1-1 1-1 2 0 -5-2 2-4 3-4 -5-5 3-3 2-1 -4-14 2-4 -3 14 7 15 -1 10 0 1 0 2 3" fill="none" marker-start="url(#k0)" marker-mid="url(#k0)" marker-end="url(#k0)"/>
<path d="M690 133l1 1 8 -2-60 10 18 12-36 1 9 8-20 1 14 9 17 -3 5 2 13 -4 13 5 72 -1 6 -1 17 2 12 0-1 1-13 4-27 -2-70 0-10 7 64 2 10 -2 2 -3 0 5 1 0 6 -1 0 -1 3 1 0 -1 2 2 2 0 2 0 1 -1 0 1 11 -5 4 4 1 -4 1 1 7 6-12 0-1 4-9 -2-6 2-1 -5-1 2-2 -2-1 1-1 3-7 1-2 -4-1 -1-9 1-3 3-2 -1 0 0-4 -1-10 3-47 -1 29 5 11 2 12 -1 0 -4 4 0 5 0 2 2 6 -1 10 2 2 -3 0 3 6 0 1 1 1 -1 1 -2 4 3 1 -3 4 2 15 1 2 -3 4 3 17 0 1 -1 2 5-29 3-6 -1-10 -1-15 -3-3 4-3 -4-1 0 0 4-2 -1-2 0-7 2-2 -3-2 -2-3 1-4 1-4 3 0 -2-6 0 0 1-1 1-1 -1-3 -3-5 4-3 1 0 2 6 3 1 -3 1 3 6 -1 1 -1 2 1 1 -2 2 3 0 -4 2 2 1 0 2 1 18 -4 2 5 2 -3 4 0 5 2 1 -4 9 3 3 -2 10 -1 5 2 2 -1 1 -1 3 4 3 -1 36 3-42 5-3 -3 0 1-6 -1-3 3 0 -4-2 -1-3 4-4 -2-2 3-4 -3 0 -1-5 0-5 2-4 -1-2 3-3 -1-2 -2-10 1-2 -1-2 3-6 -5-3 0-3 4 0 -3 0 2-4 -3-1 5-7 -1-6 -3-3 1-3 1-14 7 12 -3 0 2 1 -2 1 3 5 -1 3 -3 11 0 0 0 9 1 11 -1 0 1 1 1 8 1 0 0 9 1 5 -1 3 -3 0 0 1 5 0 -2 1 2 2 0 2 -5 2 0 1 0 3 5 3 -2 1 0 3 -3 3 2 2 -1 3 2 9 1 1 -2 5 -2 3 5 35 -1-22 2-10 5-10 -1-1 -3-1 4-9 -4-2 4-4 -3-3 1-2 -3-4 4-1 -4-1 0-3 1-1 0-1 -1-7 1-3 3-5 -3-4 2-1 0-1 -1-8 3-1 -3-7 0-1 1-4 -3-3 4 0 -3 0 -1-1 0-3 5-1 -1-6 -1-3 -1-4 2-1 -2 0 1 0 -2-10 4 2 1 6 3 7 -2 2 2 1 0 6 0 1 -2 2 1 7 2 1 0 5 -3 0 0 9 1 5 1 3 1 6 1 4 -3 0 3 3 -5 0 4 4 1 8 -4 3 1 2 3 2 0 0 -1 4 1 3 -2 3 -3 0 3 1 1 2 -1 8 2 2 -4 1 0 5 3 9 4-3 3-14 -3-1 3-20 -3-1 -2-1 2-1 -2-1 3 0 -2-3 -1-6 3-1 2-1 -1-2 -4 0 2-6 -1-5 1-1 -1-4 2-2 -1-6 -2-2 4-2 -2-1 2-3 -3 0 3-4 -4-5 2-4 2-6 -1-1 -3-9 0-6 2-6 1 8 5 3 -2 8 2 11 -2 0 4 8 1 7 0 1 -4 1 4 5 -2 1 -3 1 0 2 4 1 -2 3 2 6 -1 2 1 1 1 3 -4 3 0 0 0 1 0 0 -1 3 4 0 -4 4 4 0 -4 0 0 9 3 0 0 18 -3 2 3 6 0 2 6-8 -2-2 0-1 3 0 -3-11 0-1 -1-1 0-7 1-10 -1-15 0-1 0-10 0-4 0-2 5-2 -5-5 1-2 -1-7 5-5 -3-26 5 32 2 5 0 2 0 0 -2 1 -1 0 2 1 -2 1 0 1 0 3 0 1 3 6 -3 50 0 16 0 3 3" fill="none" marker-start="url(#k1)" marker-mid="url(#k1)" marker-end="url(#k1)"/>
<path d="M696 123l1 -1 5 0 44 2-17 4-15 3-2 -4-18 -1-2 2-2 -1 0 8 3 2 2 0 0 -5 4 3 2 2 6 -4 4 0 5 1 41 5-50 -1-6 0 0 3-2 1-1 -3-2 4 0 -3-2 -1-2 0-1 -1 0 2-9 1-1 -2 0 -1-1 3-2 -1-1 -1-2 4-3 0-1 -3-6 1-5 -3-3 3-2 -1-1 0 0 2-4 -1-9 1-4 0-8 7 1 -5 3 0 0 3 1 2 11 -1 2 -2 0 0 0 0 2 0 4 2 0 -1 2 -3 2 4 1 1 3 -5 7 4 3 1 1 -3 1 0 5 0 4 -1 2 -1 2 3 4 1 1 -3 1 2 3 -3 9 3 5 -1 17 -2 5 2 27 -1 9 10-7 -3-22 -1-13 4 0 -1-9 -2-3 1-1 1-7 -4-2 5-6 -2-1 1-1 -3-2 3-1 -4-6 3-3 -3-3 2-10 2 0 -4-2 4-6 -3-1 4-2 0-6 -1-1 -1-1 2-2 -3-3 0-1 -1-4 -1-3 0-1 1-2 3 0 -4-5 2 0 1-3 -1-1 2-3 0-1 5 0 2 1 -1 1 -4 5 2 2 -1 3 0 8 2 5 -2 0 2 1 -3 3 3 0 -2 2 1 3 2 0 -3 1 3 4 -4 6 5 1 -5 0 5 14 -1 2 0 3 0 1 -3 0 -1 4 2 14 0 2 -2 9 5 2 -2 1 -1 4 3 8 -3 3 -1 7 4 16 -1 11 0 13 7-11 0-4 0-30 -2-6 2 0 -4-4 1 0 -2-4 1-2 3-1 -4-4 0-3 3-1 -2-2 0-2 0-3 -1-1 1 0 4-1 -5-3 1 0 4 0 -2-3 2-3 -3 0 -1-2 1-12 3-7 0-2 0-8 -5-5 0-3 2-1 0-1 -2-2 4-1 -1-1 1-5 1-1 -1-1 -1-2 2-8 -3-6 2 0 0-6 -3-3 -1-2 2-8 1 0 0-3 6 0 2 2 -2 3 -2 4 0 1 2 5 -2 1 3 6 0 8 1 1 -5 6 2 0 3 2 -4 4 4 2 -3 1 1 10 0 1 0 1 -1 3 -1 7 0 1 3 0 -2 4 1 1 -3 4 0 2 0 6 0 2 2 0 2 1 -2 1 1 0 2 3 -5 1 2 2 2 2 0 2 -1 6 -3 1 3 4 2 2 -2 1 2 7 -3 2 1 2 -1 2 1 3 -2 0 2 0 0 2 1 8 -1 4 -3 1 4 15 0 2 -1 2 1 0 -3 3 3 15 2-14 0-8 4-3 -4-2 0-1 3-3 2 0 -3-14 3-2 -2-2 2-4 0-2 -4 0 -1-3 5 0 -5-2 0-1 5-7 0-1 -1 0 1-1 -2-5 1-3 1-4 -4 0 0-8 1-1 2-6 1 0 -2-2 1 0 -1 0 -3-1 3-3 -1-4 1 0 -2-6 0-5 1-3 -1-2 1 0 -2-6 0-1 3-1 -3-2 1-1 4-2 -3-1 -1 0 2-3 0-2 -2-2 1-2 3 0 0-4 -2 0 -3-2 1-2 3-12 -1-4 -1-6 3-3 -3-3 2 3 6 5 -4 6 4 6 -4 10 1 1 -1 4 3 0 -2 2 1 8 3 2 -2 3 -1 4 -2 8 5 4 -2 2 0 1 -3 2 2 4 -1 0 0 10 0 2 -1 1 4 6 1 3 0 3 -2 0 1 4 -4 3 5 3 -1 4 -4 8 3 5 -1 1 0 0 0 4 0 4 0 39 0-20 7-22 0-6 -3-7 0-3 3-9 -2-1 0-7 0 0 4-13 -5-2 2 0 2-4 -3-3 2 0 2-1 0-6 -3-2 -2 0 1-1 0 0 3-2 -1-2 1 0 -2-3 1-1 2 0 -5-2 4-2 -1-9 2-11 -2-1 -3-5 2-8 1-9 -1-5 2-3 -2-6 6 26 1 4 1 9 -3 4 1 2 3 0 -2 2 -2 2 4 4 -3 1 -1 0 1 1 1 2 -1 5 3 7 -1 3 -3 1 4 4 -4 1 2 3 0 1 2 1 -4 4 4 4 -1 7 -3 9 1 30 1-23 3-48 2-5 1-3 -2-3 -1-3 4-3 -2-12 -1-1 0-9 0 0 -1-7 3-11 -1-18 0-4 -1 60 8 13 0 1 -2 3 0 10 2 17 -3 27 7-20 0-43 1-1 -2-5 3-14 2-1 -4-12 8 6 -2 112 8-7 -1-101 -2-11 2-5 0 49 6 13 11 27 3 22 -1 1 1 16 1 13 5-79 -4 93 11" fill="none" marker-start="url(#k2)" marker-mid="url(#k2)" marker-end="url(#k2)"/>
<path d="M668 140l-31 8 56 4-6 -1-12 3-1 -2-52 6 35 1 109 5-138 2-15 -2-10 9 100 0 28 -5 35 6-71 3-63 2-8 -3-10 -2-3 5-1 -2-8 -2-4 7 10 1 0 -1 2 -2 3 5 0 -5 2 4 11 1 1 0 2 0 79 6-37 -1-39 -4-8 3-3 0-4 2-5 -2-1 1-4 -4-1 5 0 -2-1 0-1 2-2 -5-4 2-1 -1-6 10 3 -2 5 1 0 -2 3 1 0 0 2 -3 5 5 1 -5 4 4 2 -3 1 1 1 3 3 -1 3 -1 3 1 4 -3 2 1 0 -2 2 7-6 3 0 -3-2 3-1 -3-2 0-1 0-18 2-1 0-7 -1-5 2-1 -4 0 5 5 5 1 -1 6 0 1 -2 15 2 3 -3 12 3 6 -3 11 8-6 -1-20 0-1 1-4 2-2 -2-2 1-1 -2-1 3-3 -2-1 -1-4 3-3 0-2 -2-2 -1-3 3-2 -1-2 0-4 4 2 -1 4 2 2 2 5 -2 5 3 3 -2 7 -2 2 3 3 1 2 -5 5 5 6 -1 0 -3 1 1 5 3 4 -1 2 -3 18 4-13 1-5 5 0 -3-3 -2-3 1 0 4-13 -2-27 2-5 0-3 -5 1 8 1 3 1 -4 4 -1 2 0 8 5 4 0 2 0 2 -1 7 -3 4 0 7 0-11 6-6 1-3 0-14 3" fill="none" marker-start="url(#k3)" marker-mid="url(#k3)" marker-end="url(#k3)"/>
<path d="M585 291l30 12 3 2 12 1-3 2-42 -2 9 6 20 1 2 0 21 3-29 6-13 0-9 6 24 -2 11 -1 36 7-7 1-9 2-1 0-17 -4-3 0-5 3-10 -3-22 4-1 4 20 -2 15 2 4 2 0 0 11 -2 3 2 1 -2 0 1 3 -3 1 2 7 -2 6 3 0 -2 4 -1 0 0 6 0 1 0 2 2 2 3-3 1 0 0-2 4-1 0-4 0-3 -1-14 -4-3 1-4 2-2 1-2 1-1 -4-3 0 0 4-1 0-2 -1-10 -3-4 2-1 1-1 1-1 0-2 -5-1 5 0 -3-1 0-1 1-3 -2 0 -1-6 3-7 -2 3 5 3 3 2 -1 2 3 1 -3 2 -1 3 4 0 -5 3 5 1 -4 1 3 4 -3 4 3 2 0 4 1 8 -4 2 3 3 1 7 -5 8 3 1 -1 2 1 2 -1 5 3 3 -2 1 -3 6 4 1 -1 3 -2 4 1 0 2 1 -2 0 3 10 -4-5 9-2 -3-7 0-3 2-3 1-1 -3-1 -1 0 4-16 -2-1 2-6 1-1 -5-6 5 0 -1-2 1-2 -3-1 -2-1 5-5 -3-1 -2-1 3-2 -2-7 1-3 1 0 -2-4 -1-3 0-3 2-14 -1-1 10 0 -4 1 4 4 -5 6 1 1 4 4 -3 5 0 4 3 4 0 6 -2 0 1 10 -4 8 3 4 -3 0 3 4 0 1 1 1 0 0 -3 4 3 4 -1 4 2 8 -4 1 2 2 -2 2 0 1 -1 6 3 1 -1 1 2 2 0 4 -1 2 2 1 0-2 6-3 -4-6 4-1 -4-8 2 0 -2-3 3-5 -4-2 3-3 1-1 1-4 -5-9 2-2 2-1 -2-2 2-1 -1-1 0-4 -3-3 0-7 1-6 1-2 -1-2 2-3 -2-7 -1-7 0-1 5-2 -1-6 -2-3 6 10 -1 11 0 8 4 2 -2 1 0 2 1 0 1 17 -2 4 -1 0 3 3 -1 1 -1 0 -1 3 3 4 -3 2 0 3 2 1 1 8 -3 2 0 1 -2 7 1 2 2 0 0 5 0 1 2 6 -4 0 0 0 3 5 4-5 2 0 0-13 -4 0 4-4 -1-3 -3-5 0-4 4 0 -4 0 1-3 -1-2 1-3 0-4 0-1 3-5 -1-2 2-1 -1-2 0-5 -3-1 2-1 1 0 -1-7 1-3 -1-5 -2-22 8 8 -1 4 0 2 0 5 1 0 2 0 -3 1 -2 2 2 1 -1 3 -1 4 0 7 0 2 3 1 0 1 2 0 -4 4 2 2 -3 8 3 5 0 3 -2 2 1 3 1 1 -1 3 0 3 -2 0 5 2 -3 1 -1 1 3 3 -3 2 -1 2 0 1 5 14 -3 1 2-24 2-3 3-2 -1 0 2 0 -1-1 -1-1 1-2 0-3 2-2 0-2 -3-2 1 0 1-1 -1-2 -1-5 0-1 -1-4 2-4 -3-6 4-1 1-6 -2-2 2-2 0-21 -5 16 8 5 0 1 -1 14 4 1 0 4 -1 2 -2 4 3 9 0 1 -3 6 -1 10 6-4 3-2 -2-11 -1" fill="none" marker-start="url(#k4)" marker-mid="url(#k4)" marker-end="url(#k4)"/>
<path d="M622 228l38 3-43 14 172 1-23 0-132 0-20 8 40 0 10 1 46 1 34 -1 7 -3 9 5 18 -2 18 -3-6 10-7 -2-10 -1-2 0-4 2-20 -2-1 1-5 2-3 -1-58 2-7 -2-22 1-14 7 16 -5 34 0 35 0 14 5 9 -5 3 4 2 -1 19 -1 10 -1 5 1 15 1-4 4-8 1-14 1-18 -1-1 3-4 -5-7 0-2 0-10 0-36 4-4 0-3 -3-25 3-68 -3 8 8 39 1 18 0 20 -1 2 1 52 -3 13 2 7 -1 4 -2 18 1 1 0 3 3 6 -1 11 -2 5 2-36 7-16 -4-4 1-39 -1-8 4-8 -4-6 4-9 -2-1 -1-1 0-2 3-11 0-8 0-17 0-7 -4-4 1 39 8 3 -1 12 0 29 -2 4 2 8 2 15 1 38 -3 24 -2-145 7 20 6 4 2 5 -2 4 1 9 2 2 -1 16 0 1 -1 20 2 61 -2-8 5-53 3-32 -1-18 -2-18 -1-6 2-1 -2-1 1 101 8 44 -3-45 6-27 4-2 -2-65 5 70 3 30 6-17 -2 0 2-19 0-9 0-42 2 40 5 18 -1 13 0 45 1 16 2-45 -1-64 0-24 2 34 8 31 0 67 -3-84 16 2 -5 5 0" fill="none" marker-start="url(#k5)" marker-mid="url(#k5)" marker-end="url(#k5)"/>
<path d="M745 131l-6 -3-4 1-2 1-6 0-4 -2-3 2-5 0-6 -3-9 8 12 0 1 -3 4 3 3 -2 8 2 13 -2 7 3 3 -2 1 2 11 5 0 0-6 2-1 -5-6 3-5 -3-4 4-1 0 0 -3 0 4-16 -5-1 0-5 2-14 0 1 8 2 -4 3 3 8 -3 2 5 1 -1 12 -4 7 3 2 -3 17 3 1 4-15 -1-9 3-3 2-3 -3-8 -2-1 5-3 -2 2 7 3 -1 9 -2 2 0 5 1 3 0 29 5-24 0-4 3-2 -4-5 3-3 -3-9 2-66 57-55 18-15 -2-1 5 0 0 44 2 30 -1-10 6-22 -1-8 1-25 5-4 8-2 18 45 -3-22 5" fill="none" marker-start="url(#k6)" marker-mid="url(#k6)" marker-end="url(#k6)"/>
<path d="M719 125l23 3-20 6 21 -2 2 2 17 5-69 4-11 -1-17 -1 100 6-24 6-25 -3-45 0-62 10 22 -3 24 1 21 -1 15 2-57 7 120 12-18 -1-1 -1-55 -1-43 0-8 1 14 9-6 3-5 -2-6 5-19 -4-5 7 28 1 22 -2-49 15 5 0 23 4-25 2-5 3 9 0 48 6-38 4-18 -5-9 9 9 2 20 -2 9 0 7 -2 7 2 3 1 0 0 8 -4 0 0 1 2 5 1 7 5-3 -2-2 4-2 -3-2 -1-4 5-8 -5-6 3-1 -1-4 0-11 3-1 0-2 -4-9 2-6 0-1 -1-6 1-10 -1-1 2-1 0-6 5 7 1 15 1 1 0 6 -1 8 -1 1 1 3 -1 4 -1 1 -2 6 5 1 -2 5 2 6 -4 0 4 2 -4 2 2 1 -2 8 -1 1 1 0 5-2 4-3 -2-4 -1-5 4-21 0-3 -1-6 1-8 -2-3 -1-2 1-17 1 1 6 1 1 3 0 1 -4 8 3 2 -3 1 3 0 -3 3 0 6 4 0 -2 4 1 6 1 2 -1 11 -1 2 2 1 -3 1 0 2 1 3 1 7 -2 2 2 1 -3 3 2 13 -1 5 2 2 -4 2 2 87 -2 23 1 2 5-5 0-22 0-87 1-3 -1-3 0-2 3-11 0-2 -2-3 0-7 0-1 2-1 -3-3 3 0 0-3 2 0 -4-3 1 0 -1-3 2-6 1-2 -3-4 -1-6 3-1 -3 0 2-3 2-1 -2-10 -2 0 5 0 -4-2 0-1 3-3 -2-2 0 0 6 7 3 3 -2 1 0 0 -1 4 1 6 0 0 -2 7 -1 2 3 1 -1 2 3 0 -4 1 1 1 1 5 -3 10 5 4 -3 4 3 3 -2 4 -3 5 1 1 0 5 -1 63 5 5 -5 63 2-21 7-5 2-63 -3-36 3-4 -4-7 1 0 -1-7 0-1 4-4 0-2 0-1 -1-1 -2-1 -2 0 2-3 2-2 1-6 -4-1 -1-1 5-1 -5-8 0-8 5-3 -5 0 3-3 2-5 -1-1 -2-1 2-5 -1-10 -1-2 2-2 4 8 2 1 -1 1 -1 0 2 1 1 1 -1 9 1 2 -5 1 4 1 -4 0 3 14 -2 1 3 5 -2 3 2 8 1 4 0 4 -5 0 4 1 1 3 -2 9 -3 13 0 28 5 30 0 15 2-28 4-70 -3 0 -2-3 3-8 2-3 0-5 -2-10 0 0 1-10 -1-2 -1-2 3 0 -2 0 -3-4 0 0 5-6 -1-1 -2-7 5 11 2 10 -1 0 3 6 0 1 -2 5 -1 9 -1 5 0 5 1 4 -2 0 4 35 -3 6 3 62 2-61 0-4 0-29 4-1 -2-16 -2-8 5-5 0-5 -4-13 -1-12 6 36 1 3 0 5 3 5 1 4 -1 9 -4 16 3 59 0-27 7-107 -3 3 5 23 4 85 -1 12 4-14 3-43 1-27 -4-6 -1-40 11 2 0 10 -3 69 0 53 0 4 8-10 0-11 1-15 -3-18 -1-16 0-31 2 10 5 29 -1 27 3 15 -2 15 -2 32 11-48 -4-5 -1-5 1-14 -1-50 11 51 -1 7 -1 19 0 23 -2 5 0 11 2 7 -3 2 2 39 8-37 -2-4 1-12 -3-4 1-10 4-5 -2-1 2-11 -4-20 4-31 0-69 -1 38 2 21 4 13 1 15 -3 29 3 5 -2 0 -3 15 3 72 2 4 2-117 1 3 4 33 0 45 4 26 0-136 7-56 -5 18 6 147 6-96 1-41 7 24 -2 86 3 6 8-58 -1-8 -1 21 8 44 4-42 -3-4 0" fill="none" marker-start="url(#k7)" marker-mid="url(#k7)" marker-end="url(#k7)"/>
<path d="M636 227l18 6 8 20-8 9-31 6 16 0-24 3 27 9 2 6-56 7 2 -1 1 1 28 0 0 0 28 6-5 -2-1 1-3 0-7 -3-6 3-8 -4-3 2-8 -2-3 2-6 2 0 -4-1 4-2 -4-8 4-1 4 2 1 7 -3 1 4 10 0 0 -4 21 5 9 0 11 -1 11 7-10 -1-8 -2 0 3-1 -4-7 2-3 -1-3 3-15 0-2 -4-2 3-5 -2-3 0-3 -1-3 2-1 2-2 -2-7 -2 0 8 2 2 1 -3 1 0 1 3 18 -2 0 1 13 -4 8 2 4 3 4 -4 0 2 4 -2 0 3 0 -4 2 2 1 -1 4 0 2 0 4 -1 0 0 7 5 0 2-7 1-2 0-4 1-14 -2-5 2-1 0-15 1-5 1-1 -2-3 -3-3 4-1 -2-1 -2-14 9 6 -1 12 1 2 1 6 -1 1 -1 1 -1 2 4 3 -2 14 0 9 0 9 8-23 -3-3 -2-4 4-16 -3-17 4 16 4 5 2 11 0 0 -4 21 9-15 -4-20 9 11 -2 34 1 36 2-82 5-3 7 73 12-35 7 30 6-23 2" fill="none" marker-start="url(#k8)" marker-mid="url(#k8)" marker-end="url(#k8)"/>
<path d="M746 132l16 6-18 0-5 2 25 7-33 5 64 25-1 1-5 -1-18 -1-3 7 2 -2 12 2 1 1 1 0 4 1 2 3-9 3-40 -4-16 8 48 -1 0 -1 6 3 7 0 2 -2 11 -1 2 1 1 0 2 1 2 -3 4 1 1 3-1 7-4 -5-7 4-1 -1-2 0-2 2-2 -1-3 1-3 -4-1 0-3 1-6 -2-2 2-19 0 18 6 5 -1 4 2 4 2 0 -1 1 -4 2 1 2 0 13 4 3 -3 2 2 2 -4 0 4 3 7-2 -4-4 1-10 2-1 -3-3 2-1 -1-1 1-1 1-2 -2-2 -1-1 4-2 -4-9 4-1 -5-55 4 35 6 28 0 2 -2 0 -1 3 4 3 -1 4 -2 2 -2 2 2 1 3 1 -3 0 -2 0 5 14 -1-2 7-3 -4-1 -1-4 4-1 -3-14 0-3 2-1 0-4 1-8 -4-83 8 63 -2 15 4 5 -2 16 -2 0 3 4 2 15 -4 2 -1 1 3 13 -1-17 8-5 -4-4 2-3 0-5 -2-3 0-1 2-2 -2-48 0-25 0-37 9 41 0 19 -1 55 1 2 -2 12 1 2 -1 5 7-12 1-1 -1-11 0 24 4 16 3-12 9 18 14 2 4" fill="none" marker-start="url(#k9)" marker-mid="url(#k9)" marker-end="url(#k9)"/>
<path d="M752 249l-2 -1-29 7 22 -2 18 8-4 0-25 0 46 7 14 3-4 0-47 5 3 0 4 1 44 2 7 3-2 4-5 -1-3 -1-1 3-6 -1-3 -4-4 2-2 3-2 -1-2 1-42 -4-33 2 18 5 6 -2 34 5 2 -5 24 3 9 0 9 0 5 5-9 3-20 -1 0 1-2 -4-11 2-15 -3-40 8 14 -1 20 3 3 -3 3 4 5 0 4 -4 2 1 13 1 0 -2 1 1 19 0 6 1 11 2 2 0-10 4-4 1 0 -4-2 2-8 1-7 -2-10 -1-6 0-1 0-4 0-2 3-4 -1-2 3 0 0-6 -3-6 -1-32 6 29 3 1 1 4 0 5 -2 7 -1 1 3 16 -2 6 -1 11 0 3 3 16 6-4 -5-3 0-2 2-3 -2-13 5 0 -2-4 -3-9 5-3 -1-5 1-5 -1-5 0-23 0-59 7 63 0 8 -3 3 -1 3 3 3 -1 1 1 10 -1 5 2 4 0 11 0 1 -4 16 4 1 -4 4 0 2 0 2 3 1 -1 1 0-3 7 0 0-4 -2-4 2-13 0-2 -1-3 -2-8 2 0 -2-11 1-6 3-3 -1-10 -1-37 0-11 4 18 4 40 0 4 -5 3 4 2 -3 14 3 2 -3 8 0 6 -1 6 2 6 1 2 -3 1 5 3 -5 5 4-8 2-3 2-7 3-1 -4-1 0-4 -1-15 2 0 0-7 2-1 -1-2 2 0 -3-3 -2-2 0-4 4-2 0-6 -4-6 4-45 2 61 3 6 0 3 -1 1 -1 0 1 8 1 0 1 9 1 6 -2 14 2-16 1-3 0-3 0-5 3-4 -2-61 1-14 2 27 7 6 -2-16 4-7 5" fill="none" marker-start="url(#k10)" marker-mid="url(#k10)" marker-end="url(#k10)"/>
<path d="M735 132l9 3-15 11 25 16-11 1 21 6 24 11-76 10-1 4 30 6-16 2-8 -2 31 5 35 4 26 3-107 2-2 3 60 9-27 -2-53 7 78 2 16 -5 37 1-43 10-12 -4-26 10 3 -3 10 -1 22 7-77 7 8 -3 1 3 17 1 19 1 45 0 13 -2-33 4-1 4-31 -2-30 -2-1 1-11 4 1 0 8 4 3 -3 14 2 29 -2 14 -1 23 3 8 0 12 0-23 4-7 3-10 1-10 -2-25 -3-1 3-44 1-7 1-1 0-9 5 33 -3 8 0 2 -1 10 4 6 1 6 -4 6 1 50 3 13 -3-63 4-10 2-12 -1-2 0-15 1-6 3-36 5 35 -2 7 2 16 -3 4 2 13 -3 18 1 39 0 10 9-69 -4-1 1-6 3-1 -3-3 3-3 -2 86 10-43 5-21 -3-7 -2-21 4 89 8-42 9 8 -1 33 1 8 3-10 4 18 12-34 -1-3 7" fill="none" marker-start="url(#k11)" marker-mid="url(#k11)" marker-end="url(#k11)"/>
<path d="M826 232l-14 6-92 19 28 -1 19 -2 53 -1 9 -1 6 11-19 -2-5 -1-44 -1-17 0-19 -1 91 6 9 6-15 0-1 3-8 -2-45 6 22 4 3 -4 1 1 25 8-30 -4-15 3-1 3 11 3 14 5-28 -1-8 2-24 6 8 -2 17 16 35 0 99 0 21 3-10 3-2 -4-1 4-1 -2-8 -1 0 0-3 3-108 -4-14 0 7 7 45 -1 70 1 1 -1 2 1 1 0 1 -2 3 0 0 5 1 -5 1 1 7 3 0 0 1 0 0 0 2 0 3 -1 1 2 3 0 13 5-3 1-4 -4-1 2 0 1-1 -3-2 4-1 -4-2 2-3 0-1 -1-8 1-3 0-3 -1-71 1-73 2-1 -1 6 4 46 -2 8 0 9 0 51 3 43 0 4 -1 3 -1 3 0 0 4 1 -3 2 -1 0 3-3 3-2 0-2 2 0 0-3 1-1 -3-1 4-1 -3-2 3 0 -5-6 5 0 -1-1 -2-3 3-37 -1-27 0-22 -4-8 2-15 8 109 -2 0 -1 2 -1 1 2 0 1 1 -3 4 1 6 -1 0 0-30 8 0 -2-9 2-3 2-97 -4-3 1-45 19 67 2-18 7 24 12-24 -5-49 6 66 10-89 -3-22 0 82 10" fill="none" marker-start="url(#k12)" marker-mid="url(#k12)" marker-end="url(#k12)"/>
<path d="M789 179l-1 0 18 15-1 10 1 7-29 8 32 6 4 3 16 6-2 0-3 0-1 4-4 -3 0 -1-1 4-6 -2-3 1-3 2-8 0 10 1 1 4 4 1 2 -2 4 1 6 0 7 -3 1 3-3 3-4 -1-1 2-9 3-3 0-3 0 0 -1-3 -3 0 1-1 3-3 -3-1 1-2 0 0 7 4 1 5 -4 5 -1 7 3 0 -3 3 0 1 2 5 1 3 5-7 -1-3 1-2 0-8 0-9 0-1 1-1 -3-4 7 2 2 2 0 2 -2 7 1 1 -1 11 4 1 -2 2 2 7 6-6 -4-5 0-6 0 0 3-3 -3-3 3-3 0-1 -1-4 1 0 5 2 -3 0 3 3 0 0 2 20 0 4 -4-1 10-15 0-6 -5 9 11 6 -3 1 6 0 -1-2 3-4 -4-4 9 4 1" fill="none" marker-start="url(#k13)" marker-mid="url(#k13)" marker-end="url(#k13)"/>
<path d="M688 309l-1 0-22 -1 0 2-3 3 2 1 8 -1 0 2 1 1 1 -2 1 0 4 0 1 1 5 -1 5 -1 6 -1 1 3 3 0 1 -3 0 1 1 1 6 2 14 4-6 1-17 -1-5 1-1 2-4 0-4 -2-2 1 0 1 0 -4-2 2-6 -3-6 3-6 1 4 4 4 -2 1 0 3 2 7 0 2 -2 0 1 1 -1 2 5 6 -1 4 -1 2 -2 2 3 0 0 0 1 4 -3 0 0 1 2 2 0 4 -2-5 6-4 1-8 2-4 -4-26 4 25 4 4 8-9 -2" fill="none" marker-start="url(#k14)" marker-mid="url(#k14)" marker-end="url(#k14)"/>
<path d="M712 269l-17 6-13 6 14 0 7 4-45 0 1 6 1 -1 28 5-24 0-65 3 10 7 8 -2 0 0 64 0 11 -1 17 0 14 0 1 5-91 8 12 -3 24 5 1 -2 17 -1 17 1 3 -3 7 5 6 0 7 0-3 5-5 -1-19 0-30 2-21 -1-31 0-5 -1 18 3 16 2 22 3 7 -2 2 0 4 -2 21 4 28 -2 3 1 3 -4 4 11-6 -3-11 2-21 0-16 -3-16 4-1 -1-5 1-41 -2-23 -1 123 5 6 -1 14 5-5 1 0 1-45 2-2 -2-16 2-7 3 42 3 5 2 11 5-19 7 16 2-4 -1" fill="none" marker-start="url(#k15)" marker-mid="url(#k15)" marker-end="url(#k15)"/>
<path d="M888 322l1 5 0 -2 29 4-3 2-2 -1 10 7 2 2-265 6-47 4 5 3 21 -1 258 -1-14 6-2 -2-4 3-2 1-1 -2-3 3-3 -2-2 2-2 0-260 -3 169 6 38 -2 24 3 1 2 4 -3 5 0 1 1 0 -1 2 0 0 1 1 -3 2 2 2 1 1 -2 6 -1-26 7-12 0-205 9 134 1 18 1-134 4-33 7 17 -5 21 5 35 -5 80 11-85 -1 26 14 13 4 11 -1 48 1 10 -2 10 3-65 5-30 0 90 4-25 9-21 3" fill="none" marker-start="url(#k16)" marker-mid="url(#k16)" marker-end="url(#k16)"/>
<path d="M715 118l-4 -2-10 8 5 -2 6 3 4 -5 0 3 9 -2 0 0 3 4 0 -2 4 -1 3 -1 3 4 4 -4-29 8" fill="none" marker-start="url(#k17)" marker-mid="url(#k17)" marker-end="url(#k17)"/>
<path d="M722 341l-17 9 6 -2 34 1 52 4 1 -4 9 9-11 1-11 -3-4 3-3 -2-1 -2-18 -1-3 4-4 -3-28 3-17 -4-2 3-12 3 0 2 29 1 32 0 10 -2 3 0 11 2 9 -3 11 2 1 -1 2 -1 4 1 2 2 2 1 1 4-3 -2-7 4-3 -2-6 -1-1 0-8 3-4 -3-3 1-4 3-1 -2-4 -2-2 -1-3 1-9 -1-7 2-10 -1-15 1-7 9 1 -3 2 1 2 2 3 -1 18 -3 3 2 6 -1 1 -2 7 5 2 -1 4 -1 3 2 4 -1 5 -3 7 0 2 4 1 0 5 -1 0 0 2 0 2 1 5 0 2 -4 9 8-1 0-1 -3-1 3-3 -2-17 -1-4 3-5 -1-1 2-4 -1-7 2-5 -2-12 -1-6 1-2 -1-5 0-7 -1-3 2-8 2-5 -2-2 -1-4 -1-5 4-4 -5-2 5-5 0-12 0-2 3 9 1 0 -1 20 1 1 0 0 -2 9 0 1 2 4 2 2 -4 4 -1 0 5 5 -1 9 0 0 -3 2 4 0 -1 5 1 12 0 0 -3 8 2 5 -1 3 -2 1 2 2 -2 3 3 2 -4 5 2 0 -2 2 2 0 3 3 -1 0 -3 2 0 11 1 0 3 3 2-2 3-10 -1-9 1-5 -2-4 -2-3 0-6 1-1 -1-5 0-6 1-1 3-11 1-8 -4-3 2-10 0-3 0-1 -1-21 1 0 -1-14 0-18 5 7 3 5 1 3 -4 1 4 2 0 3 0 5 -5 0 5 7 -2 1 -3 4 1 5 0 6 1 7 -2 0 1 4 1 4 1 1 1 6 -4 4 4 6 -3 1 4 3 -1 3 -1 1 -3 7 2 14 2 1 -2 2 1 6 2 3 -4 3 4 5 -3 0 1 1 -3 7 2 1 5-10 3-1 -4 0 4-6 -1-7 -1-1 0-1 0 0 1-2 -3-7 5-12 -3-5 2-1 -3-4 1-4 -1-12 -1-2 2-4 2-4 -2-2 2-7 -4-5 5-1 -3-2 3-1 -3-6 3-1 -2-1 -3-2 0 0 2-7 2-4 -3-1 2-10 -1-3 2 26 2 2 0 2 0 5 5 5 -1 2 1 8 -2 9 2 1 -2 2 -3 4 4 3 -3 5 -1 0 3 6 -1 12 -2 20 2 7 0 1 3 6 -2 3 2-3 6-6 0 0 -1-3 -1 0 -3-10 5-1 -2-7 -3-3 3-3 -3-2 4-5 1-4 -5-9 1-1 2-2 -1-4 0-10 0-14 2-7 1-7 -1-5 -3-2 -1-4 1-6 1 5 8 13 -2 8 1 4 -3 1 2 10 1 0 0 5 0 0 -2 1 2 0 -2 0 3 7 -2 2 -1 1 4 0 0 5 -1 1 -2 2 -1 3 4 0 -1 5 -4 2 5 2 -5 8 3 6 0 1 1 2 -2 3 -2 19 0-36 8-3 -1-10 4-14 -2-1 -3-9 1-1 0-7 3-1 -4-2 2-2 -2-7 4-1 -1-4 -1-2 1 32 3 14 3 4 -3 6 0" fill="none" marker-start="url(#k0)" marker-mid="url(#k0)" marker-end="url(#k0)"/>
<path d="M684 132l-12 12 20 8-16 6 0 8-65 1 73 2 28 -1 40 5 21 -1 6 5-9 1-7 0-6 1-33 -2-115 -3 107 6 10 1 15 3 2 -1 6 -2 2 3 2 -1 14 2 5 -2 2 0 8 4-12 0-6 1-1 3-3 -1-1 -2-3 -1-1 2-8 1-1 -3-1 1-1 2-1 1 0 -1-2 -3-1 0-5 2-5 0 0 0-3 -2 0 0-4 2-1 1-2 -3-24 2-9 -1-27 8 44 -3 2 4 1 -1 6 -2 1 2 1 -3 1 0 5 -1 0 5 3 -3 0 1 3 -2 2 -1 2 1 2 0 4 2 1 0 0 0 4 -1 0 3 1 -5 2 2 3 0 9 1 1 0 2 -3 1 1 0 0 0 0 4 4 5 -2 19 -3 13 7-19 2-12 -1-11 2 0 -3-1 4-1 -3-2 2 0 1-8 -4-7 1-9 2-1 1-1 0-2 -5-1 4-9 -1 0 0-2 0-3 1 0 -1-1 2-5 -5-7 2-6 -1-2 3-1 -2-3 3-3 -5-11 5 4 5 1 -3 7 -1 3 0 0 3 2 -2 2 3 7 1 3 -5 1 1 7 2 4 0 5 -3 5 5 1 -5 0 2 2 0 0 1 1 -1 15 3 0 -4 0 0 4 -1 2 0 4 4 1 0 1 1 15 -5 0 5 34 -5-40 8-3 3-2 0-8 -3-9 -2-1 4-4 1-4 -3-2 -2-5 2-1 3-15 0-5 -3 0 0-1 -1-4 3-1 0-1 -1-8 -2-4 -1-3 2-3 2-3 -4-16 5-3 4 13 -3 2 2 14 2 2 1 4 -4 1 1 1 -2 0 4 4 -2 6 2 0 -2 8 3 3 0 6 -2 1 1 0 -4 1 5 14 -1 5 1 4 -4 6 4 4 -2 2 -3 0 4 1 -4 4 2 4 0 9 3 2 -4 12 4-2 1-30 2-1 -1-1 1-1 -1-3 4-9 -2-2 -1-2 -1-3 -1-2 0-6 1-5 3-1 1-1 0-3 -1-1 1-2 -1-8 0-1 -1 0 2 0 0-3 -5-2 1-10 4-1 0-1 -1 0 -4-1 3-3 1-19 -3-7 3-1 -4-4 0 9 11 2 -1 5 -1 0 1 4 -3 5 2 1 -2 4 0 8 4 4 -1 3 -1 1 -1 2 0 4 3 1 -1 0 1 7 -3 2 1 6 0 1 2 0 -4 0 0 3 3 0 -3 1 3 1 1 3 -1 0 -1 2 2 4 -2 4 -3 3 1 7 0 2 4 1 -2 0 -1 11 1 0 -3 11 11-14 -5-13 4-1 -1-1 -2 0 1-1 -2-1 2-3 -2-1 3-1 -1-3 -2-3 0-1 5-1 -5-5 0-2 5-3 -3-2 -1-2 4-5 -5-8 4 0 1-4 -3 0 -2-5 1-6 0-1 0-3 0 0 3-1 -4-1 3-3 -1-4 0-1 2-3 2 8 0 4 0 2 0 3 4 4 0 0 -2 1 3 1 -3 5 3 4 0 6 -2 0 1 2 -3 0 0 1 3 4 -1 3 1 4 -2 3 -2 5 1 1 3 8 -3 1 4 1 -4 15 0 0 3 1 -1 8 0 0 -1 20 8-8 -4-5 0-15 1-5 -1-5 0-16 0 0 0-3 0-1 0-2 0 0 1-1 1-5 0-5 2-2 -2-5 -1-6 -1-10 5-3 0-6 -1-16 -4 23 9 2 -2 18 -1 6 0 3 0 6 1 11 2 3 -1 26 -2 6 1 17 -1-86 9 0 -1" fill="none" marker-start="url(#k1)" marker-mid="url(#k1)" marker-end="url(#k1)"/>
<path d="M707 126l0 5-1 -1-1 -3-7 1-4 0-37 8 8 1 0 -2 7 0 17 -1 2 3 2 -3 7 0 1 1 1 1 28 1 2 3-6 -2-15 5-9 -5-11 0 0 2-3 -1-3 3-6 1-13 -3-9 0-6 -2-4 2-2 0-4 3-4 -1-12 7 4 -2 1 -3 1 3 1 2 2 0 3 -1 2 -1 1 2 6 -3 2 -1 3 1 7 3 1 -2 6 -1 5 -1 1 0 4 4 0 -2 2 1 1 -4 1 2 8 2 7 -2 1 -2 2 4 0 -2 0 -1 3 3 2 0 4 -4 4 2 5 3 6 -1 40 1-31 4-7 0-4 -1-3 2-1 1-2 -5 0 0-5 1 0 4-10 -2-3 -3 0 3-3 -1-3 2-2 -3-7 4-1 -2-4 -2-4 2-2 2-1 -3 0 -2-1 3-3 2-3 -1-2 -2-10 0-3 -2-4 2-4 -1-3 2-1 0-2 2 0 -3-3 1-5 1-13 5 3 -1 2 3 5 -5 4 3 2 2 9 -4 1 1 0 -1 2 3 1 -4 1 4 2 0 1 -3 6 4 2 -2 4 -2 0 4 1 -3 2 -2 0 0 1 0 0 5 1 -1 0 -3 5 2 6 -1 0 2 0 0 3 -3 2 1 7 1 2 -2 1 3 5 0 0 1 1 -3 1 -1 0 1 2 3 2 0 2 -2 1 -1 4 3 0 -4 1 2 1 1 5 -3 3 1 4 1 2 -1 24 -1 4 2 23 -1 4 9-2 -1-6 1-3 -5-7 3-22 2-2 -4-2 1-1 -2-6 2 0 -2-2 3-4 2-3 -5-2 0-1 4-7 -4-4 4-1 -3-13 3-3 1-1 -3-1 0 0 -1-5 0-4 3-1 -4-8 3-4 2-2 -4 0 2-6 0-3 -3-1 5-3 -1 0 -2-1 2 0 -1-1 -1-1 0-1 3 0 -1-6 -4-2 2 0 0-2 -2-1 5-3 -2-5 1-4 -3-3 2-1 -3-2 5 0 -5-1 3 0 0-2 -1-2 2-1 -3-2 6 3 2 10 -1 1 1 7 0 2 2 2 -4 8 0 4 3 4 -4 6 2 2 2 3 -3 2 2 1 1 4 -2 9 1 3 2 4 -4 3 2 2 0 6 1 1 -3 5 4 7 -2 9 -3 4 3 0 2 3 0 4 -2 2 0 1 2 0 -4 4 2 1 1 2 -1 0 2 9 -3 8 3 5 -4 1 0 1 3 7 -2 5 2 6 3-15 0-2 1-2 2-19 -4 0 3-1 -3-8 0-2 2-1 1-1 -3-6 3-2 2-2 0 0 -3-5 -2-1 5-2 -3-2 0 0 0-4 2-4 -2-2 -1-3 1-3 -1-1 -1-2 5-1 -3-4 1-3 2-9 -5-1 0-1 0-2 5-3 -2 0 -3-1 3-9 1-4 0-3 -4 0 4-9 1-3 0-2 -1-3 0-3 0-5 -2-1 3 0 -2-5 -3-2 5-4 -3-10 6 3 -1 7 -1 3 3 11 -3 1 0 14 1 4 3 2 -1 4 -1 3 2 4 0 0 -3 7 -1 2 3 1 -1 5 1 4 1 3 -4 4 1 5 0 1 2 3 -3 2 1 1 -1 1 1 4 1 1 2 2 1 8 0 1 0 0 -3 2 2 0 -3 1 4 0 -1 2 -2 3 0 4 0 1 2 7 -2 22 3 8 -2-5 3-11 0-10 4-21 -2-9 3-3 -5-4 0-7 0 0 2-14 3 0 0-1 -5-1 2-1 -2-7 5 0 -3-4 3-3 -2 0 0-1 -2-1 -1-6 1-5 3-2 0-5 1 0 -1-2 -4-1 4-1 0-2 -1-1 -1-8 3 0 -2-5 0-6 -3-15 3-3 2 0 3 44 3 4 -5 1 5 1 -2 4 -2 1 1 2 -2 4 0 1 5 0 -3 0 0 8 1 2 1 3 -4 4 1 5 2 2 0 1 -3 1 2 5 0 4 3 4 -2 7 -3 2 1 5 3 24 1 6 -2-10 5-51 -2 0 3-2 1-5 -2-6 -2-8 5-2 -5-41 3-6 -3-13 8 53 3 4 0 0 -4 5 1 9 2 10 0 8 -3 45 1 2 -1 5 0 36 -1-40 9-2 0-8 1-62 -3-1 0-28 4-7 -5-9 11 18 -4 19 0 4 2 1 -3 11 0 2 4 13 -3 59 8-98 -3-37 7 5 1 157 2-20 3-82 7 19 2 54 -4 14 0" fill="none" marker-start="url(#k2)" marker-mid="url(#k2)" marker-end="url(#k2)"/>
<path d="M705 150l5 10 51 6-88 0-47 -2-21 8 66 -2 65 2-15 7-87 -1-10 -3-19 -1-1 5-5 3 1 3 1 -3 9 3 0 -4 1 0 0 3 2 0 1 -3 2 0 1 4 1 -5 9 5 64 -1-56 5-4 -1-11 3-1 -2-8 -1-1 -2-3 0-5 5-4 0-1 -1-2 -1 0 4 1 3 10 1 3 -2 2 -2 1 3 5 -4 0 4 8 -4 6 0 6 1 18 9-9 0-5 -4-1 4-2 -2-2 -2-1 0-2 3-1 2-1 -1 0 -3 0 2-9 -1-1 1 0 -2-1 0-2 2-2 -2-3 0-4 4-4 -3-1 -1-4 -1-2 5-3 -1-1 -3-1 3-1 3 4 0 0 1 1 0 5 0 0 2 1 -1 2 1 2 -2 1 3 1 -1 4 -4 0 1 1 4 7 0 2 -4 2 4 4 0 0 -5 2 0 1 5 1 -3 2 2 3 -1 1 -1 0 1 8 2 3 2-9 4 0 -2-1 -2-3 0-3 -1 0 2-7 -1-6 1-5 1-11 1-2 -4-1 3-1 -3-2 2-1 1-4 -3 0 2-6 2 0 7 3 -2 2 -3 2 1 3 2 1 -3 3 0 7 4 7 1 1 -2 5 -3 6 3 2 -3 1 4 1 1 3 -5 1 4 0 -4 1 1 4 3 2 0 10 -1-15 4 0 -1-1 4-1 -1-9 2 0 -3-2 1-4 -1-1 0-6 -1-6 2-8 -1-4 4 7 2 9 -2 1 4 3 0 4 -4 3 0 0 4 2 -1 2 -2 1 2 2 -1 0 1 8 -2-1 6-1 0-3 2-6 1-25 -4" fill="none" marker-start="url(#k3)" marker-mid="url(#k3)" marker-end="url(#k3)"/>
<path d="M616 294l-19 3 3 8 46 -1 1 1-21 4-37 6 1 1 2 -3 15 1 49 -2-16 10-8 6 5 -4 18 3 2 6-2 1-3 -1-8 1-23 -2-8 -2-4 1-1 2-11 2-14 1 4 2 9 3 6 -4 5 0 3 2 1 2 1 -3 4 3 6 -1 4 -1 7 1 11 0 9 1 6 0 7 -2 13 4-7 -1-9 2-3 -1-8 3-2 -2-1 -1-1 2 0 -1 0 -2-2 4-7 0-3 0-8 1-2 -1-7 1-6 -1-5 0-1 -4 0 5-11 -2-5 3 3 2 1 3 0 -3 2 -1 2 2 2 -2 1 3 1 -1 1 1 1 1 4 -5 0 4 4 0 1 -2 2 0 3 0 3 1 1 -3 7 5 0 -2 12 2 4 0 8 -2 2 2 4 -2 0 -3 8 1 1 4 14 -1-4 6-3 -2-1 3-1 -3-4 2-1 -3 0 2-7 1-5 -4-4 4-3 -4 0 4-1 -3-1 3-9 0-6 1-1 -3-5 -1-8 2-3 2-2 -1-1 -3-3 4-5 -2-1 -1-4 0-7 1-3 -1-2 -1-5 7 3 2 7 -2 4 1 7 -1 4 2 3 -1 18 1 6 -2 4 3 1 0 0 -4 4 1 1 -1 1 0 1 1 3 1 1 1 6 0 1 -2 0 -2 0 2 9 -2 0 1 6 0 2 0 0 -1 0 3 1 1 3 -2 5 -2 9 3 6 7-13 -4-13 1-3 1 0 0-1 2 0 -2-5 -2-2 2-12 1-10 -3 0 4-9 -4-8 0-3 2-5 1-2 1 0 -1-3 1 0 -3-2 3-1 -1-1 1 0 -2-5 1-1 -3 0 4-1 -2-13 4 4 3 4 2 6 -5 1 5 5 -4 0 3 12 0 2 -3 1 -1 7 3 10 -1 1 2 5 0 2 -1 0 -1 0 0 12 -2 3 5 1 -2 3 1 6 -2 9 1 2 -3 3 1-5 7-3 3-1 -3-2 3-1 0-1 -4-2 1-1 1-13 -2-2 3-3 -1-6 -2-2 3-4 -2-1 -1-2 4-1 -3 0 1-1 2-3 0 0 -2-4 -1-2 0 0 -2-3 0-2 0-4 5-2 -5-10 4 0 -3 0 4-15 -1 17 6 4 -1 2 0 1 2 6 -2 6 -1 5 -2 5 2 0 3 1 -4 12 2 2 -2 0 0 5 -1 2 2 3 3 1 -2 7 -1 3 3 1 -3 3 0 13 6-13 -1-1 0-5 3-6 -2-4 -2 0 3-4 0-2 -3-1 4-11 -4-3 3-1 2 0 -1-2 0-2 -2-1 -1-1 2-1 -1-1 2-3 1-4 -2-4 -3-15 0 29 6 0 1 0 2 6 2 5 -1 2 -3 8 3 1 -4 0 4 2 -4 6 1 2 -1 0 0-6 7-6 1" fill="none" marker-start="url(#k4)" marker-mid="url(#k4)" marker-end="url(#k4)"/>
<path d="M599 239l0 2 3 2 9 1 152 3-37 -1-108 4 13 7 3 -4 68 4 20 -1 49 0 21 1 5 6-6 -1-2 -2-3 -1-18 2-15 1-3 0-1 -1-1 -1-29 -1-25 4-49 -5-29 10 18 -3 5 1 18 0 54 -2 39 3 1 -2 5 2 2 2 3 0 12 -5 23 3-2 5-7 3-4 -1-1 -3-8 -1-28 5-2 0-9 -3-14 3-38 -2-16 -1-34 -1 0 4-1 1 25 2 5 -1 1 -1 1 1 2 4 6 -2 4 2 8 -2 44 1 1 -4 29 3 2 1 1 -1 4 1 5 -2 9 -2 1 4 1 -4 2 4 4 -4 7 6-7 2-14 0-20 -1-4 -1-1 3-2 -3-1 4-13 -3-9 0-11 3-13 0-15 -4-1 0-13 1-15 0-30 1-8 -2-3 2-30 -1 67 7 4 -1 16 -1 4 1 4 0 25 0 57 -1 31 11-102 -2-14 2-3 -4-17 1 17 9 4 -2 6 -3 3 4 3 0 1 -4 3 5 27 -5 65 10-65 1-16 -4-27 0-12 1 0 3-8 -4 138 16-41 1 7 4 26 2-15 1-11 2-31 0 0 0-55 -3-16 0 27 6 38 4 63 0-47 4-42 0-16 4 93 5-12 2-46 6 16 6-13 2-26 -1" fill="none" marker-start="url(#k5)" marker-mid="url(#k5)" marker-end="url(#k5)"/>
<path d="M739 119l-23 1 15 5 11 -1 9 7-7 -4-8 4-5 0-2 -2-6 1-13 -2 7 8 4 -4 1 1 2 4 1 -4 0 4 1 -2 19 1 8 -2 8 8 0 -2-3 2-1 0-4 -1-10 -2-5 0-2 1-2 0-1 1-12 -1-3 -1-2 4-2 -2-1 -3-6 1-5 10 10 -3 4 -2 11 2 1 0 7 3 13 -2 3 1 5 0 3 -3 2 -1 4 4 1 -4-8 7-11 2-8 -2-15 4-12 -3 8 5 0 3 8 1 2 -5 2 1 2 0 1 3 0 -2 2 3 17 -1 6 1 1 -5 12 5-7 3-12 1-15 0-77 67-34 4 4 6-2 6-3 2-4 -4 0 1-18 -1-16 11 26 -5 5 5 0 4-14 -1 6 8 28 5-29 2 16 12-33 3 5 -2 28 4" fill="none" marker-start="url(#k6)" marker-mid="url(#k6)" marker-end="url(#k6)"/>
<path d="M711 118l-13 7 24 -1 10 -1-18 7-58 7 57 -3 1 4-47 11 95 -1 4 2-35 4-12 -2-65 9 37 -3 25 -2 4 4-44 11 62 -2-35 5-84 4-7 -2 76 7 35 -3-65 11-62 -2-1 -1 20 6 67 2-65 12-10 12 3 -2 7 2 1 -1 33 -2 10 -1-4 6-1 3-1 -2-17 2-36 -1-13 0 6 4 12 2 6 -1 1 2 2 0 14 -2 5 2 4 1 1 0 7 -4 2 2 1 1 5 1 19 5-5 -1 0 2-15 0-6 -3-1 3-1 0-1 -1-1 1-1 0-6 -1-6 -3-3 0-2 1-1 2-4 -1-3 -2-8 2-5 2-2 1-1 0-5 -4-2 4-1 -3-3 1-4 7 3 -1 6 0 2 1 3 -2 0 2 3 1 10 -4 5 4 2 -3 2 -1 6 -1 5 2 0 -1 6 4 22 -3 0 3 4 -2 6 1-4 5-1 2-1 -2-3 0-2 -1-10 -2 0 3 0 1-2 0-5 0-1 -2-10 3-6 -5-1 3-1 -2 0 3-7 -4-1 2-3 -1-4 3-1 0-5 -4-3 1-5 0-1 0-7 7 2 3 6 -5 9 2 5 2 1 1 0 -5 0 2 2 3 1 -1 3 -3 1 2 3 -3 7 5 1 -3 6 -2 4 4 1 -1 1 -3 0 4 11 -2 3 1 4 -1 12 1 12 -1 67 6-64 -2-2 3-12 1-7 -4-6 4-3 0-10 1-3 0-1 -1 0 0-1 -1-3 -3 0 0-8 0-9 3-2 -2-4 0-2 2-1 -2-1 3-2 0-2 1-3 -5-1 5-1 -1-3 0-6 1-6 5 1 -4 2 4 0 -3 0 0 7 -1 3 4 2 1 2 -2 2 -3 2 5 5 0 1 -3 7 3 2 -4 2 0 5 3 3 -1 9 2 4 -2 1 -3 1 3 3 1 1 -4 2 1 3 0 7 3 1 0 5 -1 7 -3 7 5 15 -1 80 1-80 6-35 -1-1 -3 0 4-10 0-2 -4-3 0-1 1-1 -2-5 0-1 2-2 1-5 -1-5 1-1 -2-3 4-3 -5-1 3 0 0-3 1-2 0-1 1 0 -3-4 3 0 -1-21 -2 2 8 2 -1 8 -1 12 1 6 -1 2 1 0 -2 5 -1 4 0 4 0 16 0 0 0 5 3 20 -2 58 5-86 3-9 -3-3 0-14 2-7 2-3 -4-3 0-10 4-6 -1-1 2-6 4 6 -1 8 -1 11 2 2 0 2 -2 4 0 4 4 8 0 4 0 1 -3 2 0 1 2 1 0 0 -1 10 -3 1 3 2 -2 5 1 31 -1 5 3 52 2-47 2-3 3-10 -3-18 -1-13 1-26 0-2 2-1 0-4 -1-9 2-7 -2-18 -3 36 6 89 1 14 -1-25 10-75 -3-1 4-28 3 107 0 5 -2 12 4 5 -1-85 3-42 4 126 2-1 11-4 -1-3 -3-8 3-8 -1-7 1-17 1-5 -3-17 9 2 -4 9 2 80 2 11 6-11 -2-4 -3-15 5-3 -4-15 0-18 3-4 -3-3 4-12 -5-1 5-6 6 2 -4 3 1 22 -1 8 3 14 -2 1 0 5 3 14 -5 18 2 0 -2-11 9-2 0-12 2-8 -1-31 -4-92 11 3 -1 95 -3 4 2 19 -1 3 3 18 -3 4 1 45 -1-37 9-26 -4-28 1-18 0-9 -1-5 -1-49 8 53 3 27 -5 64 4 35 0-87 6-21 0-4 -3-46 2-25 0-12 -3 100 8 73 0-119 9-12 4 38 -2 104 6-60 1-20 -2 80 7 6 2" fill="none" marker-start="url(#k7)" marker-mid="url(#k7)" marker-end="url(#k7)"/>
<path d="M608 233l26 0 23 -5-50 11-7 2 18 -1 47 2 9 5-49 4-24 3 44 8-2 -2-37 0 49 10-43 4-18 6 23 12 7 1 6 0 6 5-1 -1-6 -2-1 -1-1 3-1 1-3 1-4 -5-2 2-2 0-16 1-5 -3-10 2 0 2-1 0 0 3 0 4 10 -1 1 -3 1 0 4 3 3 1 9 -1 7 -4 4 0 8 5 0 -5 11 0 1 4 16 4-7 -2-9 1-1 2-11 2-5 0-6 -1-8 0-1 -1-2 0-2 2 0 -3-1 -1-16 -1 0 4-6 2 0 3 9 -2 8 0 2 4 0 -2 2 0 2 0 16 -2 3 2 1 1 6 -2 4 0 2 2 2 -2 2 3 1 -4 3 3 13 1-6 3-1 -2-7 2-10 1-2 -3-10 0 0 2-11 -2-2 5-3 -5 0 4 0 -2-13 -2-9 2 2 8 9 -3 1 1 1 2 5 -4 4 5 0 -5 3 0 8 4 4 1 6 -4 3 1 1 -1 4 2 12 3-3 4-9 -3-1 2-10 -3-3 2-1 2-1 -2-4 -2-1 4-3 0-2 -3 0 4-3 -2-5 -2-1 4-2 -2-12 -2 20 5 6 0 2 0 2 5 1 -5 4 1 46 2-18 7-8 0-8 -1-30 1-12 1 60 3 19 2-43 6-27 0-3 -1 52 8 20 -1-30 5-13 -2 21 8 48 -2-43 7-25 5 54 4-29 3-7 -2-7 5-3 3" fill="none" marker-start="url(#k8)" marker-mid="url(#k8)" marker-end="url(#k8)"/>
<path d="M744 131l-5 -4 10 10-10 14 43 20-3 7-3 1-10 -1-1 2 3 4 13 -3 3 4 1 -2 4 2 4 -5 0 2 9 3 3 -2-9 8-4 -3-3 3 0 -5 0 0-1 2-7 1-3 0-73 5 32 3 41 -4 0 1 6 1 8 -1 1 0 1 -2 2 4 0 0 5 -4 2 1 1 3 2 1 5 0 3 3-6 1-1 2-6 -3-1 1-6 -1-6 -1-1 1 0 2-2 -4-2 1-32 0-21 3 43 5 2 -3 2 5 3 -5 1 2 3 1 1 0 1 1 10 -2 5 2 3 1 5 0 2 -3 3 -1 1 4-5 4-1 -3-1 4-2 -2-1 3-3 -1-11 1-4 -1 0 -3-5 3-2 -2-1 2-4 -1-5 0-21 2-45 -4-15 3 0 4 88 2 1 1 2 -4 3 3 1 -1 4 -2 2 1 0 2 2 -1 2 -3 2 5 2 -2 0 -1 2 0 0 1 0 2 5 -1 2 0 1 -2 1 3 4 2-2 -1-5 0-3 3-4 -3 0 3-5 1-2 0-2 1-2 -4-1 -1-3 0-3 4-4 1-67 -4-26 6 105 1 7 -2 4 3 1 -2 0 1 1 -2 1 3 4 -3 1 0 19 5-22 2-7 -1-1 3-2 -1-12 -2-1 2-44 2 49 2 8 1 26 -1-27 10-57 7 59 -3 34 6-27 -2 27 6-10 18-16 0" fill="none" marker-start="url(#k9)" marker-mid="url(#k9)" marker-end="url(#k9)"/>
<path d="M746 250l-41 5 83 0-18 8-19 0-12 0-27 2 72 3-3 7-27 -4-8 3-53 7 25 -5 8 2 28 1 50 6-2 -3-2 1-2 3-3 0-6 -1-5 -3-4 2 0 2-4 -2-18 2-24 1-20 0-7 -2 6 8 8 -5 33 3 14 1 1 -3 16 4 0 0 0 -1 10 -4 3 1 14 8-19 2-4 -5-1 3-12 -1-2 0-23 -1-13 0-39 0 44 10 12 -5 1 1 23 1 3 1 6 0 1 1 1 -4 6 1 13 4 9 -1-26 2 0 1-5 1-1 -2-2 1 0 -1-12 2-5 3-11 -2-2 1-2 -2-1 2-2 -4-10 5-3 -2-14 8 12 -4 3 2 10 2 7 0 1 -3 2 3 2 -1 5 0 2 -1 7 -1 2 -1 11 -1 17 2-10 6-1 3 0 -4-1 0-2 -1-6 0-2 4-4 1-15 0-2 -2-29 4 19 0 3 4 1 -2 5 0 0 -2 8 3 1 -4 1 0 11 4 8 0 2 -2 10 0 5 3 34 6-10 -5-22 1-8 0-4 2-7 -3-12 5-2 -5-5 1 0 3-1 -2-14 0-1 -2-3 4-1 -4-3 5-5 -5-15 1-52 4 71 6 3 -4 1 4 1 -3 1 2 11 -4 17 3 4 1 5 -1 2 0 2 -1 2 -2 3 3 1 -2 10 -1-4 7-12 0-4 -1 0 3-5 -2-4 2 0 2-1 0-4 -2-5 -2-7 4-1 -2-4 -3-1 1 0 3-2 -3-3 1-38 1-13 0-5 -3-10 11 26 -4 61 0 7 1 19 2 2 0 2 -4 1 4 3 -4 2 0-1 9-18 -2-84 1-5 3-11 4 18 2 13 0-7 7" fill="none" marker-start="url(#k10)" marker-mid="url(#k10)" marker-end="url(#k10)"/>
<path d="M740 126l-2 2-1 1-1 6 10 4-27 9 44 0 10 6-19 3 9 26-35 11 53 9-13 -4-25 1-46 -2 108 17-65 -2-40 2 31 1 71 3-99 4 29 7 36 2 29 -2 7 0 3 1-51 3-70 11 103 5-63 -3-28 -1-14 1 17 8 12 1 30 0 0 -1 25 -3-56 7-12 3-5 -1-17 -3 2 9 11 -3 4 3 2 0 33 0 1 0 64 4 0 3-6 -4-6 1-11 3-14 -3-22 -1-4 1-23 1-10 0-9 7 4 -3 0 1 16 2 21 7-11 -2-3 2-3 -2-1 -1-1 -1 0 3-7 -1-1 -2-7 2-2 -2-37 3 38 8 7 -5 33 2 17 0 8 -1 12 4 2 -1 24 -3-50 5-18 0-9 5-2 -3-3 1-8 -2-5 3-26 -1-20 5 10 0 22 3 9 -2 17 -3 1 2 1 -1 3 2 7 2 60 5-6 -2-22 1 0 0-6 -1-93 1 121 9-31 3-4 -2 22 10 14 -3-3 4 19 16" fill="none" marker-start="url(#k11)" marker-mid="url(#k11)" marker-end="url(#k11)"/>
<path d="M780 245l32 -3 2 2 16 -3-10 8-92 4 23 2 10 0 0 2 51 2-26 1 24 11-78 2 50 3 40 7-58 7 28 4-55 1 1 8 20 -3 17 4-34 2 0 9 31 -1 22 1 19 1 83 -1 20 8-8 -1-2 1-5 -2-2 0-4 1-2 -1-2 2-3 -1-1 0 0 1-9 0-27 -4-106 0-6 8 10 -1 1 -2 14 5 69 0 48 -4 7 2 4 -1 1 2 1 -2 3 0 2 -2 2 1 3 3 3 0 6 -1 10 2 3 3-7 1-4 0-2 0-1 -2-1 0-6 0-3 -1-2 0-1 3-1 -2-23 2-32 -1-11 1-14 1-9 -2-36 -1-27 3 23 2 33 4 1 -3 13 1 2 -1 9 0 4 -1 76 4 0 -4 8 0 2 2 0 3 2 -3 0 2 3 -2 1 0 0 -2 1 4 1 -1 0 -1 0 1 0 -2 3 4-7 5-1 -1-3 -1-1 0-2 2 0 -3-2 -1-5 5-2 0-3 0-63 -3-30 3-50 4 134 0 5 1 2 -4 0 1 7 -1 1 2 0 2 1 0-19 2-8 1-68 -1-37 7 57 3 9 -2 12 0-2 4-83 0-74 9 20 6-8 -2 58 13-54 3 78 12-61 2 33 6-60 -1 5 11" fill="none" marker-start="url(#k12)" marker-mid="url(#k12)" marker-end="url(#k12)"/>
<path d="M795 176l-19 24 25 18-15 10 4 2 42 7-11 2-2 -5-1 5-2 0 0 -4-9 2-1 3 1 4 2 1 4 -2 7 1 1 -1 0 -1 1 3 4 -3 0 3 3 -3 3 9-2 -3-4 2-4 -4-2 3-2 -1-3 2-8 -2-6 9 0 -2 1 0 4 2 3 -1 4 -3 3 2 1 1 3 -2 0 2 1 0 5 -1 2 -3 1 3-3 7-3 -2-3 2-2 -4-5 5-4 -2-4 5 3 -1 0 2 8 0 1 1 11 -2 1 -2 0 4 1 1 0 -2 2 -2 3 3 2 -4-7 6-2 0-8 1-7 1-6 0 0 -1-4 2-1 4 0 2 14 1 0 -1 4 -2 0 0 5 1 1 -2 7 8-5 0-3 -2 0 0 0 2-4 -1-5 -1-2 0-2 2-3 -1-3 4 0 0 5 2 0 4 12 -3 6 -1 0 -1-2 7-6 1-1 9 1 -4 21 29" fill="none" marker-start="url(#k13)" marker-mid="url(#k13)" marker-end="url(#k13)"/>
<path d="M705 310l-15 0-1 1-11 -1-4 -1-1 2-2 -1-3 0-3 3 4 1 2 1 2 0 2 -2 2 2 7 -1 1 3 4 -2 3 2 0 -4 5 2 1 0 3 -3 24 4-18 4-4 0-1 3 0 -1 0 -1-1 0-1 2-1 -5-7 4 0 0-2 -3-1 1-2 1-1 -2-2 0-1 3-1 1 0 0-2 -4-1 1-1 -1-1 1-2 -2-3 1 0 4-1 -4-5 4-3 1 7 4 1 -2 13 2 3 -4 3 1 2 3 1 0 4 -4 1 1 5 0 4 3 23 -1-6 5-3 0-4 -1-21 -1-6 2-21 4 21 5-11 2" fill="none" marker-start="url(#k14)" marker-mid="url(#k14)" marker-end="url(#k14)"/>
<path d="M687 261l3 8 28 6-8 3 21 -1-23 10-14 -3 4 6 9 -1-27 8-6 -2-64 7 4 -1 19 3 11 -4 13 0 17 3 7 -1 0 3 41 5-7 0-47 0-46 -3-2 -1-20 1 8 9 2 0 32 -1 18 1 17 1 39 -1 12 4-2 3-10 -3-5 -2-6 4-3 -3-54 -1-25 3-21 6 6 -2 49 0 57 4 1 -4 1 -1 10 2-4 5-1 1-1 0-20 0-83 1 63 3 35 1 11 1 4 -1 4 -1 3 2 8 -1 3 0-24 9-7 -2-33 -1-9 3 19 4 16 3 39 0 3 -2-29 5-16 -1-28 1 16 6 46 3" fill="none" marker-start="url(#k15)" marker-mid="url(#k15)" marker-end="url(#k15)"/>
<path d="M908 323l-19 -1-30 5 42 -2 4 2 4 2 14 6-93 -2 87 5 1 8-20 6-14 3-3 2-14 1-3 -2-201 3-46 -3 11 6 8 3 118 -3 73 1 1 0 9 2 10 -4 7 1-20 5-157 2-85 0 19 3 35 4 16 -1 60 1 58 -4 6 4 3 0-7 4-120 -1-20 0 9 7 56 6-69 3-21 -4 94 5 45 2 18 3 37 -5-33 8-36 2-45 -1-6 6 91 1-59 6-14 6 14 -1 30 1-2 3" fill="none" marker-start="url(#k16)" marker-mid="url(#k16)" marker-end="url(#k16)"/>
<path d="M726 118l-10 1-1 0-2 -1-2 1-4 3 1 3 0 -3 9 1 7 0 1 -2 0 0 2 -1 8 2 1 -2 0 3 2 0 0 0-23 5-6 -1" fill="none" marker-start="url(#k17)" marker-mid="url(#k17)" marker-end="url(#k17)"/>
<path d="M803 352l6 1 2 6-7 -4-12 1-3 3-9 -5-4 3-9 -2-3 4 0 -1-78 -4 24 10 6 -2 15 2 34 0 6 -2 8 1 10 2 0 -3 10 1 11 -3 1 11-1 0-5 0 0 0-2 -3-2 -2-4 2 0 0-16 1-2 -2 0 -1-5 2-11 2-9 1-1 -2 0 -3-6 1-2 3-2 -4-3 3-3 -2 0 4-3 -4-3 1 0 0-27 0-13 9 13 -2 10 2 8 0 4 -5 7 4 2 1 4 -4 4 1 0 -1 1 3 1 1 9 -3 1 0 2 3 2 -3 6 0 1 2 5 -1 4 -2 1 4 9 -5 0 1 8 3 1 -1 3 2 4 -2 1 0 8 0-2 5-1 1-9 1-5 0-3 -3-17 0-1 -1 0 3-3 2-7 -1-1 -2 0 -2-2 2 0 2-16 1-10 -2-6 -3-9 0-2 2 0 2 0 1-4 -5-7 3-8 0-6 2-4 6 3 -2 3 1 1 -1 6 -3 1 3 9 2 3 -1 0 -4 0 3 1 0 7 -3 1 5 7 0 1 0 2 -1 5 -1 1 -2 3 1 2 1 1 -3 6 1 2 0 6 0 2 -1 17 2 3 1 7 0 5 1 9 -3 2 0 2 2 6 -1-9 9-15 -4-7 3-2 -3-9 3-21 0-2 -3-3 4 0 -5-2 2-11 3-2 0-5 -1-10 -4 0 2-4 1-3 2-9 -4-8 2-8 0-6 7 4 -1 1 2 12 0 14 -5 14 0 2 4 0 -2 5 -1 2 2 0 2 17 -4 4 -1 27 1 1 1 7 -2 4 4 0 1 0 -1 4 1 10 0 2 0 1 -3-2 5-5 0 0 3-2 -4-10 1-1 0-3 1-1 3-1 -1-2 -2-17 0-5 1-1 0 0 1-2 1-1 -3-8 -1-7 -1-1 2-2 3 0 -3-8 -1-4 0-5 1-4 1-3 -2-2 1-2 2-8 -3-3 4-5 -4-4 4-2 -1 7 7 2 -5 6 2 10 0 4 0 1 -2 1 5 9 -1 4 -4 0 4 2 -1 6 -1 3 2 4 1 1 -4 4 1 6 -2 1 5 3 -5 5 3 3 -2 1 3 0 0 6 1 9 -4 0 -1 1 3 1 1 5 -2 1 -2 8 5 3 0-5 4-6 0-4 0-10 -2-1 0-5 2-1 -3-1 0-5 1-1 0-1 1-5 -1-3 -1-1 2-1 1-4 -3-2 0-3 0-1 4-1 0 0 -3-1 1-9 0-20 0-1 -2-1 1-1 0-8 -1-2 1-3 4-8 2 3 -1 2 3 5 0 0 0 11 -3 7 5 1 -3 9 0 9 3 2 0 3 -3 2 1 6 1 6 0 2 -3 2 4 11 -3 4 2 6 -4 2 3 0 1 1 0 2 -4 0 5 3 0 3 0 8 -5-23 6-6 0-4 4 0 1-2 -3-1 3-8 -4-9 4-4 -5-3 0-5 3-11 0-1 1-6 -1-1 0-1 0-2 2-2 -2-2 2-1 0-3 0-11 -3 42 4 3 1 5 1 3 0" fill="none" marker-start="url(#k0)" marker-mid="url(#k0)" marker-end="url(#k0)"/>
<path d="M750 128l15 28-48 9-8 -2-40 3-25 1 93 3 15 0 25 1-2 6-7 0-4 1-21 -2-4 -1-5 1-80 3 13 6 9 -5 44 1 18 1 0 -1 1 -1 0 2 5 2 5 -3 8 1 2 1 5 1 2 -3 3 2 27 5-24 3-6 -1 0 -1-1 2-3 0-3 0 0 -3-1 0-2 -1-1 0 0 3-3 -3-9 4-1 -3-4 -2-6 4-7 -4-2 1-3 3-2 0-1 -3-3 0-22 4-19 -3-36 6 62 -2 7 3 3 -2 11 3 2 1 1 -4 5 2 1 -3 1 2 2 3 1 0 1 -2 4 1 2 0 2 -1 0 2 0 -4 6 2 3 1 0 -3 4 4 16 -5 8 11-3 -2-4 0-4 1-2 -1-2 -1-6 3-4 0-9 -1-1 -3-1 2-1 -2 0 0-1 3 0 -4 0 2-3 -2-8 3-3 1-2 1-2 0-1 0-5 -4-2 0-1 4 0 -1-4 -2 0 3-12 -5-3 4-6 0 0 0-11 -1 9 7 5 -4 0 1 4 0 4 0 2 3 5 1 1 -5 1 5 2 -2 2 0 2 -3 1 5 10 -5 4 5 8 -1 1 -4 3 3 4 -3 1 1 13 0 1 0 3 0 3 2 3 0 0 -1 13 -2-4 10-1 -4-2 1-1 4-2 -4-10 1-4 -2-3 3-1 0-2 -1-5 2-4 -4-1 4-2 -1-5 -1-1 3-2 -2-2 -2-4 2-3 0 0 -2-1 1-1 1-3 -3-10 0-20 2-1 3-1 -5-9 5-18 -4-2 3 6 7 4 -1 0 -2 13 2 3 -3 4 1 0 -2 2 3 5 -2 3 2 1 0 0 2 2 -3 4 0 5 -1 0 -1 0 0 6 5 1 -3 7 2 4 -1 1 2 9 -5 2 0 13 2 3 3 3 -1 0 1 1 -2 0 2 1 -3 0 -2 9 1 6 1 2 0 30 2-29 5-3 2-6 0-8 -5-5 4 0 -1-6 -3 0 0-4 1-5 1-12 -2-4 0-4 1-3 -1-1 4-6 -3-3 4-1 -5-14 0-1 5-5 -3 0 1 0 0-7 1-2 -3-2 1-9 0-1 -1-3 0-2 4-7 0 6 4 12 0 1 2 2 -3 2 2 3 -4 5 0 3 2 9 -2 2 4 1 0 0 -2 0 1 5 -2 1 3 0 -1 1 2 6 -2 1 -1 8 3 0 0 1 -3 1 -1 5 1 2 1 2 0 2 -2 2 3 3 -4 1 5 2 -3 4 2 1 -1 2 -1 6 0 2 1 3 1 1 -4 3 0 7 4 3 -2 10 1 36 -1-40 7-3 1-4 -4-1 0 0 0-8 3-6 -3-1 4-4 -2-3 0 0 2-10 -2-3 1-4 -3-3 2-4 2-7 -2-2 1 0 -2-5 1-1 3 0 -2-4 -1-2 0-5 -1-2 1-1 2-2 -3-1 2-2 -2-5 4-7 -2-7 0 4 4 1 -1 1 5 5 -2 8 -2 0 3 3 -2 14 -2 2 1 2 2 5 0 0 -3 2 2 1 0 12 1 0 2 1 -3 4 -2 3 4 2 -3 3 -1 6 0 3 0 5 1 11 0 5 4 3 -2 9 3-5 3-6 -3-6 5-13 -4-9 3-9 -4-1 4-5 -3-3 -1-2 1-3 4-3 -1-5 -3-14 -1 0 3 0 1-2 0-1 -2-5 -2-5 4-2 -4 0 1-1 3-8 2 3 1 1 4 2 -4 9 -1 4 1 6 2 4 0 29 -1 1 -2-22 8-28 -1" fill="none" marker-start="url(#k1)" marker-mid="url(#k1)" marker-end="url(#k1)"/>
<path d="M716 115l-13 8 43 3-15 1-31 0-3 -1-2 1-1 0-6 4-4 -2-2 1-4 1-8 4 2 0 1 1 2 -2 5 1 5 1 7 -1 2 -3 21 4-6 5-4 0-1 2-3 -4-4 3-4 -3-2 3-1 1-6 -1-2 1-5 -3-1 3-6 -2 0 -3-2 4-1 -4-1 2 0 1-3 2-1 -1-1 -1-2 0-4 -1-3 3-4 -1-11 0-7 2 4 3 3 -1 4 2 2 -2 1 -2 3 3 5 -3 1 5 3 -3 1 1 6 -3 3 5 3 0 0 -4 1 3 3 -4 2 1 2 2 1 2 3 0 1 0 2 0 0 -1 3 -3 12 -1 0 2 5 1 3 -1 10 -1 2 -1 10 0-6 8-5 -1-9 3-1 0 0 -1-1 -1-3 2 0 1-2 -3-5 3-4 -2-2 0-1 -3-4 1 0 4-7 -1-5 -2-5 1-1 -1-11 1-3 1-6 -2-1 2-1 1-1 -4-1 -1-4 1-1 0-11 0-1 1-13 6 0 -1 6 -1 8 1 4 -1 1 3 8 0 0 -1 9 2 1 -4 1 3 3 -3 0 1 1 1 3 3 2 -4 0 -1 4 2 3 0 4 2 2 -4 0 1 1 -1 0 3 0 1 5 -4 3 5 7 -1 8 -2 3 2 1 0 2 0 0 1 5 0 5 -3 0 -2 1 3 1 -1 1 3 1 -5 1 5 5 -5 26 1 21 0 8 10-9 0-3 -2-7 -2-3 0-28 1-5 -2 0 2-10 1 0 1-3 -2-4 2 0 -1-6 -1 0 -1-12 0-4 2-1 -1-1 2-2 0-4 -4-2 3-1 2-5 -1-4 0-3 0-3 -3-3 0-3 0-9 1-4 3 0 -5-5 1-7 4-1 -2-2 -1-7 2-1 -1-4 1-3 -1-2 2-2 0-3 3 6 2 0 -4 4 1 7 1 1 2 11 0 6 -2 3 -2 5 5 3 -1 2 -3 0 4 4 -2 2 -3 1 3 1 0 2 -2 0 0 2 3 2 -2 1 0 2 2 0 1 3 -2 1 1 1 1 2 -1 1 -1 4 0 7 -3 2 5 2 -2 1 -3 1 4 3 -2 14 3 8 -4 0 0 1 4 1 -4 12 0 3 1 7 3 8 -4 9 4 1 -2 3 1 8 -2 3 2-14 4-7 3-5 -5-11 2-3 -1 0 0-1 3-10 -2-8 1-2 1 0 -1-5 -1 0 -1-7 1-1 3-2 -3 0 2 0 -3-1 2-7 2 0 -2-4 -2-2 0-3 4-2 0 0 -3-3 0-2 -1-2 4-2 -3-1 -1-1 1-1 3 0 -3-2 2-7 1-4 -3-1 -2-2 4-4 -2-3 -1-1 4-2 -4-5 0 0 3-2 -1-1 -1-1 1-1 1-1 -2-5 -2-7 5 0 -1-5 1-2 -2-1 2 0 0-2 0 0 -3-2 2-3 -2-4 1 3 4 14 1 12 -1 8 4 1 -4 2 3 1 0 0 -3 1 4 3 -5 10 1 3 4 1 -2 2 -1 1 2 8 -1 3 -2 2 3 13 -3 2 2 0 -2 3 3 5 -4 1 1 0 4 0 -2 5 -1 3 0 4 3 10 0 0 -1 0 -2 2 0 4 0 0 2 5 -4 0 4 0 -3 7 1 4 2 0 -3 1 0 27 6-46 -1-3 0-1 1-8 2-5 2-2 0-5 -5-1 0-1 0-6 4-2 -2-1 3-3 -3-2 3-8 -3-1 3-1 -4-1 -1 0 3-2 0-2 2-1 0-1 -3 0 2-2 -3-5 -1-2 1-4 3-4 0 0 -3-1 3-9 -3-5 1-2 0-6 -1-3 1-31 4 5 0 44 4 5 -2 1 -2 1 5 1 -5 8 5 2 -1 2 1 3 -5 1 3 2 -2 4 1 12 -2 5 5 2 -5 0 5 3 -4 8 1 4 -1 8 -1-19 10 0 -2-6 1-9 2-2 0-2 -2 0 -3-9 4 0 1-4 -4-10 1-2 2-5 -4-32 3-9 0-8 -3-7 2 10 8 17 1 8 -1 27 -3 0 4 5 -5 2 3 3 -2 2 3 0 -1 8 1 1 -3 4 0 1 4 80 -5-8 11-10 -1-75 -4-5 0-6 4-3 -4-59 0 16 11 2 -3 130 -2-33 9-42 0-1 -2-60 10 1 0 131 -3-40 14 19 1-18 3-12 11" fill="none" marker-start="url(#k2)" marker-mid="url(#k2)" marker-end="url(#k2)"/>
<path d="M698 126l-10 5-39 14 23 6 13 8 80 7-18 0-47 1-70 -1-27 4 0 3 77 -3 69 2-128 6-14 0-6 1 5 4 3 0 4 2 3 -3 0 1 2 -1 2 0 4 0 7 -1 1 1 11 3 59 -5 7 5-40 5-42 -2-3 2-4 -1 0 -3-8 1-1 0-5 2-4 2 0 -4-2 -1-1 0 0 5-5 5 4 1 1 -5 8 3 2 -1 11 1 0 -2 3 2 7 -3 0 5 5 0 0 -4 2 3 5 0 43 0 5 -2-48 7-14 0-4 0-4 -1-1 2-2 -4 0 1-1 4-2 -2-2 2-4 -4-3 3-1 -4-1 5-1 -3-3 -2 0 4-6 5 3 2 3 -1 5 1 1 -4 3 1 2 -2 15 1 0 -1 3 3 2 -3 0 5 7 -2 1 -2 5 0 3 1-4 9-2 0 0 -4-4 3 0 -3-3 2-9 -3-1 4-4 -1-1 2-2 -5-1 1-1 1-1 -1-2 2-1 -2-2 -1-14 5-2 0 3 5 0 1 2 -1 4 -1 9 0 18 0 2 -3 0 3 1 2 2 -4 3 -1 2 1 18 3 0 2-8 0-8 2-8 1-2 0-2 2-5 0-1 -5-2 1 0 -1-2 4 0 -4-2 1 0 4-3 -4-1 2-4 2-19 -2 2 7 13 -2 2 2 1 0 6 -2 3 1 0 -1 7 2 1 -3 2 3 7 -1 8 1-3 5-5 0-15 -3-12 4 3 2" fill="none" marker-start="url(#k3)" marker-mid="url(#k3)" marker-end="url(#k3)"/>
<path d="M625 299l15 2-27 7-5 -2 15 7 20 0-41 9-16 -4 64 8 6 1-5 5-20 0-3 -2-3 4-24 0-21 6 7 -2 6 3 16 0 3 -1 3 -4 3 5 2 -1 18 0 1 -4 5 3 2 1 1 1 3 -4 1 1 2 -1 3 -1 2 2 20 9-4 0-5 0-4 0-8 -4 0 4-1 -1-1 -1-1 -1 0 0-6 -1-3 1-5 -2-4 3-13 -1-5 1-2 0 0 1-1 -3-2 4 0 -1-1 0-9 -2-2 2-1 -4-3 0-1 5-2 -1-1 1-4 -4 0 2-2 -2-1 0-1 5 1 2 1 2 0 -4 0 1 4 1 9 0 4 3 0 -3 6 2 1 1 8 -1 0 -2 2 -1 1 4 5 -4 1 2 2 -2 2 1 4 0 2 3 3 -1 5 0 0 -4 2 0 3 3 11 1 6 -4 1 0 8 0 3 4 5 0 4 4-8 3-1 0-7 0-5 -3-1 1 0 1-3 -4-7 0 0 1-3 0-1 2-1 -1-2 2-1 -3 0 3-1 -4-8 2-4 -1-1 1-1 0-1 1-2 -2-1 2-3 -1 0 2-2 1-1 -1-13 1-1 -1-4 0 0 -3-8 3 0 -4-2 1 0 4-1 0-1 -5-1 1-3 0 4 6 3 1 3 0 1 -2 1 2 8 2 4 -1 9 -1 2 -1 2 1 5 0 3 3 1 -1 4 -2 2 1 2 0 0 -2 0 3 3 1 5 -3 1 1 1 -2 3 4 3 -3 3 2 2 -3 7 3 1 -3 2 2 6 -2 2 3 30 7-21 -2-12 0-1 -2 0 2-2 1-6 0-3 -1-4 2-3 -4-2 0-8 2-20 -2-2 3-2 -1-5 2-5 -4-1 2-2 2-2 -4-1 3 0 -4 0 3-5 -1-2 0 0 1-2 1 0 0-1 -1-4 -3 0 3-5 -3-1 1-8 5 4 1 13 2 3 0 0 -1 2 1 1 -1 0 3 2 -5 1 3 5 2 1 -3 1 2 1 0 1 0 3 1 0 -3 0 0 2 -1 2 1 2 -1 3 1 5 2 1 -4 11 3 0 0 1 -1 12 3 1 -3 9 1 0 -1 3 -1 2 -1 2 0 0 1 1 3 1 0 0 -2 0 -2 1 5 0 -4 3 2 3 2 11 -1-12 3-4 0-4 2-5 2 0 -4-3 3-7 1-1 0-2 -4-3 0-1 -1-3 2-3 0-1 1-5 1-2 -2-1 -2 0 0-7 0-21 1-2 2 0 0-4 1-2 1-1 -5-1 1-15 3 19 5 0 2 7 -5 1 0 0 3 4 -2 0 -1 1 0 2 2 5 -2 3 3 5 -2 12 0 1 4 2 -3 0 -2 10 4 1 1 8 -4 3 -1 0 4 5 -1 1 -1-17 9-1 -3 0 3-1 -3-2 -2-4 1-2 -1-12 5-4 -4-3 2-2 1-9 0-3 -3 2 6 1 0 1 0 12 1 7 3 8 -5 0 1 10 2 5 -3 4 0 17 3-20 4-13 0-3 0-5 1" fill="none" marker-start="url(#k4)" marker-mid="url(#k4)" marker-end="url(#k4)"/>
<path d="M610 234l0 10 31 -3 138 8-13 -2-6 -1-102 11 70 -1 7 -3 6 4 2 -1 14 -2 13 2 13 -1 14 2-36 3-1 -2-1 0-12 2-12 1-99 -2-10 2-19 0-3 2-19 -2 173 3 0 3 20 1 0 -4 2 0 2 4 13 -1 1 3-3 5-7 -2-15 1-3 1-22 -5-7 0-2 4-46 0-1 -3-3 -1-10 4-4 1-4 0-72 0-3 -4 24 10 51 -4 3 1 1 3 7 0 24 -1 36 0 27 -1 0 -3 5 4 6 0 3 -4 5 4 2 -4 7 3-2 4-19 -1-11 1-25 -1-2 5-23 -5-43 4-4 -2-2 0-3 1 4 4 9 1 17 1 1 0 4 -3 48 4 9 -3 9 2 9 0-6 3-74 4-26 1-5 -1-16 0-5 -1 23 5 3 0 1 2 2 0 8 -1 7 0 3 -3 1 1 6 2 6 1 53 -4 4 2 7 -1 19 8-62 -2-8 4-11 -3-30 1 75 8 7 -1 29 -1-50 10 58 8-106 2-8 -3-13 6 23 0 79 0 42 -2-1 9-52 -2-64 -1 26 11 15 -5 50 5-41 5-4 0-20 -2-23 7 8 -3 8 3 26 1-21 4" fill="none" marker-start="url(#k5)" marker-mid="url(#k5)" marker-end="url(#k5)"/>
<path d="M748 128l-20 1-16 0 17 8 0 -3 1 -2 11 0 2 5 3 -5 1 0 15 9-2 1-2 -1-1 -1-5 -2-3 3 0 -2-7 -1-5 2-2 1-11 -3-3 3-2 0-2 -1-4 3-3 0 4 6 4 -5 4 5 22 -2 4 1 1 -2 7 -1 3 0 2 0 8 4 0 0 1 3-2 2-10 -4-7 5-2 -2 0 2-2 -4-11 1-5 -2-4 0-5 1-5 0 15 8 6 -3 18 2 8 2 3 -1-6 6-13 -1-152 78 18 -2 45 2-28 6-29 9 78 4-28 1-41 -4-17 9 36 4-35 -1-5 2 45 14-28 0-9 -1" fill="none" marker-start="url(#k6)" marker-mid="url(#k6)" marker-end="url(#k6)"/>
<path d="M705 124l3 -1 3 0 23 3-17 2-17 8 6 0-76 11 3 -3 97 6-11 2-64 -1 78 10-49 5-30 -1-44 -1 6 4 29 0 123 0-7 11-28 -2-98 0-3 1-19 1 65 5 10 0 22 4-19 -2-21 2-12 2-27 4 12 -1 6 2-50 11 49 9-7 -1-42 5 28 2 14 -1 18 0-22 7-48 2 30 2 2 -3 3 2 8 2 3 0 3 1 6 -3 24 6-8 2-2 1-2 -3-6 0-30 -2-6 1-1 3-1 -4-1 5-3 -1-1 -2-3 0-4 2 0 0-7 1-7 -3 7 9 2 -2 1 -1 1 1 2 0 4 0 1 2 0 -3 1 -2 13 0 0 2 4 -2 1 1 2 2 8 2 1 -3 1 2 1 -3 3 2 1 -3 6 3 5 -1 15 -1 0 -1 5 3 0 2 2 -4 2 0 1 4 63 4-70 -1-1 -2-1 0-1 4-1 0-11 0-1 1-8 -3 0 -2-5 0-8 0-1 4-7 -4 0 5-1 -3 0 3-4 -1-2 0-1 -2-4 2-7 1-8 -3 0 0-1 1-3 2-3 -1-2 1-3 1 3 1 1 2 0 1 1 0 4 -4 0 0 2 1 0 2 0 -3 7 4 0 1 8 -4 3 1 4 0 0 0 2 0 1 2 3 -1 2 -1 4 -1 3 4 1 0 3 -1 2 1 5 -5 2 4 2 1 5 -1 18 -1 4 0 65 -3 28 4 17 -3-23 10-1 -3-2 -2-14 3-30 -3-10 0-27 3-5 1-1 0 0 -3-1 1-12 -2-6 2-4 3-4 -3-1 -2-3 5-2 -3-5 3-3 0-1 -4-3 0-1 1-5 0-3 1-1 2-1 -3-5 -1-4 2 0 -3 0 3-2 -1-7 -1-4 1-1 -2-1 0-1 2 0 1-2 -1 0 2-3 -3-1 3 3 7 3 -2 0 -3 5 1 1 0 3 1 0 3 4 0 7 -4 1 4 0 -5 3 0 1 3 4 -1 0 1 1 -2 2 3 1 -4 1 0 3 3 3 -1 2 3 2 -2 1 -2 0 0 0 4 4 -5 0 3 0 -2 11 3 2 0 0 -3 1 0 1 4 0 -1 1 -4 2 1 3 4 5 -4 1 0 91 3 3 -1 14 3-26 0-70 5-9 -3-4 -2-5 1-6 3-6 -3-2 3-2 -3-4 1 0 2-12 0-2 -2-1 1 0 -2-1 0-4 3-10 -1-1 -3-3 0-2 0-2 5-1 -1-4 0 0 1-1 -5-1 0-7 5-1 -4 0 3-3 -2-1 4 2 0 4 1 2 4 0 -3 4 -1 12 2 0 0 6 1 2 -4 6 4 0 1 1 -1 2 -1 0 -3 1 2 2 1 1 -2 0 -1 1 2 1 1 1 -3 4 0 0 4 5 -1 3 1 10 -3 1 -1 1 3 2 -2 4 0 9 4 9 -5 2 1 66 1 7 2 2 -4-101 11-4 -2-3 -3-6 4 0 -3-2 -1-2 0-2 1-3 3-1 -1-3 -1 0 0-1 1-4 -2-2 3-1 -3-9 2-2 1-4 1 0 -3-1 0-2 1-11 1-1 -1 0 -1-2 -2-6 4-1 5 4 -1 2 0 3 -1 6 1 0 1 1 0 0 -1 5 -2 4 3 10 -1 7 3 9 -4 0 3 10 0 1 -1 15 0 28 -2 3 -1 50 4 5 1-20 6-29 0-59 -4-7 2-19 -1-1 0-2 -1-9 -1-2 5-5 -1-1 -4-3 1-2 -1 0 1 30 8 3 -1 89 3-120 9 51 3 6 0 64 0 16 -5-31 9-70 -3-36 6 23 5 44 -4 18 0 9 0 14 8-5 6 15 1 12 -1 0 -2 24 8-26 2-5 0-6 0 0 -1-15 1-106 2 74 0 16 3 30 1 9 -4 9 2 30 -3 2 2 3 3-14 1-11 3-2 -1-4 3-6 -2-41 -2-18 3-35 0-8 4 58 0 28 -2 28 2 21 0 5 8-36 1-13 -3-4 -2 0 1-5 2-11 -2-3 2-89 4 20 0 54 4 4 -4 6 1 88 -1-47 5-103 3 37 8 85 0 13 -1-108 13 30 -4 46 2 67 3-54 5-56 -1 60 13-57 -3 15 9 22 -2" fill="none" marker-start="url(#k7)" marker-mid="url(#k7)" marker-end="url(#k7)"/>
<path d="M632 236l-6 -2-12 2-22 1 29 5 53 9-80 -3 19 9 18 -2 14 -3 24 10-30 8-56 10 25 5-25 8 5 -1 8 0 2 0 24 0 3 1 10 -4 10 9-1 1-5 -1 0 1-9 -3-7 -2-1 4-12 -4-5 2-12 -2-1 0-2 0 0 2-7 -2 11 8 4 -1 2 1 5 -2 5 4 4 0 2 -3 3 4 0 -5 1 3 2 2 2 -5 3 0 2 1 1 4 0 -1 3 -4 2 2 4 1 3 -3 3 2 4 0 4 7-8 0-22 2-8 -5 0 1-1 0-8 1-5 0-1 1-6 1-1 -3-5 -1-5 9 9 1 2 1 2 -3 8 2 7 -1 3 -2 1 1 2 1 1 -3 0 1 7 0 8 4 8 -3 17 -1 1 3-8 3-1 1-7 1-1 1-1 -3-5 -1-1 0-1 4-1 -1-5 -3-11 0-4 4 0 -2 0 -1-5 0-4 1 0 0-1 3-3 -1-4 1-5 -1-3 -1 0 1-1 -2-5 4 22 0 2 3 2 0 1 -3 1 1 7 1 0 -1 6 0 4 4 1 -2 1 -2 2 0 6 2 2 -1 3 -2 4 2 3 0-3 5-3 1-10 3-6 -4-22 1-6 3-15 -5-2 1 24 10 8 -5 7 3 76 32-111 -4 13 6 68 9-62 9 35 8" fill="none" marker-start="url(#k8)" marker-mid="url(#k8)" marker-end="url(#k8)"/>
<path d="M739 131l22 14 3 1-3 9 25 15 3 3 0 0 5 6-2 0-2 -4-11 -1-1 0-35 10 26 -1 15 -2 10 2 13 8-4 0-6 -3-2 3-2 -3-6 -1-2 4-6 -3-84 8 64 1 8 -5 12 5 4 -5 2 5 4 -2 3 2 1 -4 2 0 1 2 2 -1 4 0 1 -1 1 1 1 -1 2 4 0 0 0 -5 0 8-4 2-5 -2-2 0-1 1-2 2-6 -2 0 2-3 -3-2 -1-1 1-1 0-80 5 42 4 30 -3 4 1 4 1 12 0 2 1 3 -1 4 -2 8 0 2 1 1 -1 3 8-2 1-10 -2-6 1-3 -2-7 -1-3 2-3 -1-3 0-1 -1-5 3-74 4 5 0 7 2 66 -1 3 2 2 -3 3 3 3 -3 16 -1 4 1 8 0-3 7-2 -1-1 3-14 -1-5 0-2 -1-2 2-8 -1-45 -1-57 0 17 5 34 0 2 -1 15 3 38 1 2 0 2 -1 6 1 13 -5 3 0 3 2 10 -1-10 8-10 2-25 -3-47 -1-13 10 72 -1 15 -3 1 0 26 3 3 3-100 -1-14 3-17 3 104 3 4 6 24 11-20 18 3 0 6 2" fill="none" marker-start="url(#k9)" marker-mid="url(#k9)" marker-end="url(#k9)"/>
<path d="M695 256l39 0 6 -1 8 1 27 1 19 3-3 0-19 1-41 -3-27 0-11 4 51 6 32 -4 18 5-27 5-68 -1-2 7 77 -3 4 4 1 -3 12 3 2 -3-5 8-2 0-10 0-8 -3-3 4-19 -3-11 -1 20 8 3 2 8 0 6 -1 1 -1 2 0 4 -1 17 -1 5 1 3 3-12 6-4 -2-1 -2-4 4-3 0-1 -4-2 2-5 1 0 -3-1 3-1 -1-1 -3-12 1-2 3 0 1-4 -4-30 9 14 0 5 0 8 -2 8 -1 0 -1 7 5 6 -4 6 4 2 -1 0 -1 1 0 4 -1 10 0 1 -2 0 5 1 -1 6 1 1 -1-6 5-15 -1-7 2-10 1-5 -2-7 -3-7 2-21 2-11 4 16 3 21 -1 3 0 2 -3 6 3 3 -3 9 -1 9 4 1 -1 2 1 3 -4 3 5 2 -1 3 -1-2 5-8 0-4 1-8 -3-3 5-4 -3-2 -1 0 0-7 2-1 -3-4 2-7 1-10 -3-8 5-21 0-47 3 60 3 3 -5 24 1 10 1 1 2 20 -1 11 0 0 0 2 1 4 -3 37 10-23 0-6 -3-1 1-6 -1-1 -1-1 4-3 -5-11 0-3 2-13 2-3 -4-2 4-1 -4-1 3-4 1-4 -1-9 -1-8 2-12 -4-8 2 0 0-7 -1-44 1-2 2 36 5 53 0 0 -1 6 -1 5 1 4 -1 5 4 1 -3 5 -2 4 4 17 -1 2 1 1 1 1 -5 9 1 40 -1 19 3-57 7-2 0-6 -4-5 5-7 -3-1 1-4 -1-5 3-4 -5-3 1-7 0-5 -1-4 4 0 0-1 1 0 0-2 0-71 -4-10 8 5 -3 9 2 17 -1 51 0 7 -1 10 5 7 0 0 0 0 0 10 -3 0 -1 3 2 3 2 9 -3-56 5-13 2-13 2-27 -1 7 9" fill="none" marker-start="url(#k10)" marker-mid="url(#k10)" marker-end="url(#k10)"/>
<path d="M740 133l4 2 2 0-18 5 21 4 19 6-12 15 5 25 40 5 8 1-58 3-52 1-26 4 124 10-25 1-4 -3-33 -1 23 8 57 2-63 1-63 2 75 13-40 0-7 4 72 8-8 2-9 0-54 -1-9 6 54 -1 15 0 2 -1 12 1-32 8-8 -3-12 0-19 -1-23 10 1 -2 11 2 3 -3 16 -1 3 1 2 3 17 -1 13 -2 13 1 5 -3 19 11-103 -3-3 -2-6 1-6 1 1 5 29 1 5 0 33 2 35 -2-15 4-20 1-28 4-3 -3-7 0-1 2-11 -1-16 -2-34 3 18 6 17 -3 9 2 7 1 3 1 4 0 2 -2 31 1 26 -1 23 0 0 6-61 -1-18 1-14 2-1 -5-9 4-2 -2-19 5 2 -1 21 0 19 1 9 2 7 0 7 -3 0 0 4 4 4 1 50 2-62 1-10 1-4 0 0 -3-9 0-14 0-8 0 81 19 21 3 6 1 17 6-39 -4 2 5 25 5-4 9" fill="none" marker-start="url(#k11)" marker-mid="url(#k11)" marker-end="url(#k11)"/>
<path d="M819 232l-69 9 75 1-7 7-16 1-2 -1 0 3-54 7 49 5 20 2 3 3-4 3-17 -2-21 0 0 9 36 0-18 5-20 2-15 3 51 9-51 -4-4 4-18 6 13 1 32 -1-47 6 163 11-1 -1 0 1-2 1-2 0-3 0-3 -1-31 0-28 0-89 -3 78 6 11 5 9 0 29 -5 22 3 12 -2 7 4 3 -2 0 0 1 1 0 -3 2 2 3 0 10 7-3 0 0 1-2 -2-1 0 0 -2-1 0-1 1-2 -1-1 0-4 -1-2 2 0 2 0 -4-3 3-38 -1-2 1-30 0-15 2-10 -1-4 1-1 -2-17 0-31 0 14 6 6 -3 6 1 34 4 1 0 8 -4 86 -1 3 1 1 4 2 0 0 -5 1 5 1 0 1 0 1 -1 4 -2-4 8-1 -3-5 3-1 -2-6 1-6 2-1 -1-64 0-4 0-9 -3-6 3-25 6 0 -2 30 2 56 1 11 -1 2 0 9 -3 2 0 0 2 9 -2 3 -1-31 6-12 3-2 2-97 -3 56 7 14 0-141 22 4 23 94 2-23 4-100 2 105 9-22 3-3 -2" fill="none" marker-start="url(#k12)" marker-mid="url(#k12)" marker-end="url(#k12)"/>
<path d="M785 181l23 10-20 6 20 1 5 15-33 -3 32 13-12 6 11 3 3 1 6 -4 2 4 1 -3 6 9-8 -1-8 -1-30 2 20 4 2 -2 3 -1 12 5 3 -4 6 7-3 3 0 -1-9 -1-3 2-2 -2-1 0-5 -3-2 5-1 3 5 0 3 1 4 -1 5 0 5 3 2 -1 0 0 2 -1 0 2 2 -2 5 0 0 4-1 4-6 -3-1 3-7 -5-10 5 0 -3-5 1-10 -1 9 4 2 2 2 1 7 2 6 -3 8 -1 2 -1 4 4-5 4-11 -1-2 3-1 -2-3 -2-3 5-5 1 1 5 5 0 7 -3 7 -1 3 1 0 0-6 9 0 -5-4 4-3 -1 0 3 5 1 3 0 8 1-5 5-4 2-1 1-1 0-1 -1-6 -3 2 8 16 31" fill="none" marker-start="url(#k13)" marker-mid="url(#k13)" marker-end="url(#k13)"/>
<path d="M691 311l-1 -1-2 0 0 1-2 -4-6 4-17 2 3 4 1 0 0 -1 0 -2 3 3 0 -2 1 2 1 -4 1 0 1 -1 11 4 3 1 1 -3 2 0 0 3 1 -4 2 4 1 -5 4 4 0 -2 1 3 9 -1 6 -3 17 10-26 -1-3 -2-6 0-2 -2-1 1-2 4 0 -5 0 0 0 5-6 -5-1 1-7 1-4 2-4 1-2 -3-2 1 0 -3 0 0-3 0-1 4 3 4 6 2 2 -3 6 -1 1 1 3 4 9 -4 3 0 3 3 1 -4 3 0 7 1 14 4-18 6-2 -3-9 0-2 -2 7 11 25 -5-22 8-14 0" fill="none" marker-start="url(#k14)" marker-mid="url(#k14)" marker-end="url(#k14)"/>
<path d="M721 262l-15 -1-23 0 31 5-45 7-5 8 11 -1 26 -1 12 2 10 6-57 5 19 -2 1 0 19 -1 7 3-16 7-15 0-10 0-15 -3-43 3 69 4 22 2 30 1-10 5-15 0-17 -5-74 0 57 9 11 -2 22 0 11 3 4 -4 5 2 2 -2-6 8-19 0-29 -2-5 3-36 2 3 5 19 0 7 1 19 -2 1 -3 0 0 5 2 25 2 22 -1-8 4-2 2-22 2-9 -3-2 3-1 0-10 -3-5 1-14 -2-9 1-49 -1 0 2-18 1-6 -4 86 7 8 4 15 -1 10 0 6 -1 3 -3 0 5 1 0 6 -2 3 1 21 -3 7 1-21 5-33 0-2 -1-8 1-9 2-2 -2 15 5 20 2 11 -1 1 1 10 1-39 3 45 8" fill="none" marker-start="url(#k15)" marker-mid="url(#k15)" marker-end="url(#k15)"/>
<path d="M894 321l-7 4 17 4 15 6-304 -1 13 7 16 -1 5 -3 151 1 105 9-297 -4-10 7 18 3 26 -2 248 2 1 0 19 -2-20 3-9 0-5 1-2 2-3 0-1 0-15 2-5 -1-216 1 11 4 38 -2 92 -1 45 3 5 1 8 1 6 -2 3 0 5 -3 2 1 2 0 12 -1-182 10-13 -3-39 4 49 2 121 2-5 6-2 2-110 -2-50 6 172 2-148 3-10 8 141 4-67 1 16 3 29 18-34 1" fill="none" marker-start="url(#k16)" marker-mid="url(#k16)" marker-end="url(#k16)"/>
<path d="M740 118l-12 1-9 -1-12 0 13 6 2 -1" fill="none" marker-start="url(#k17)" marker-mid="url(#k17)" marker-end="url(#k17)"/>
</g>
<ellipse cx="291.7" cy="324.7" rx="23.8" ry="13.0" transform="rotate(27 291.7 324.7)" fill="none" stroke="#231f20" stroke-width="4.8" stroke-dasharray="0.01 8.96" stroke-linecap="square"/>
<ellipse cx="687.7" cy="321.0" rx="23.8" ry="13.0" transform="rotate(26 687.7 321.0)" fill="none" stroke="#231f20" stroke-width="4.8" stroke-dasharray="0.01 8.96" stroke-linecap="square"/>
<g filter="url(#fillc)">
<path d="M1362 150l-12 4-7 -2-7 9 2 -4 14 2 17 2 3 -5 6 1 1 0 1 3-2 2 0 3-5 -2-1 3-24 0-10 1 0 -5-4 0-6 2-2 2-5 1-5 -1-24 7 35 -2 3 -1 3 -2 1 3 6 -3 13 1 1 3 1 -3 4 4 2 -2 2 -2 12 -1 4 2 3 -2 0 4 1 -4 0 5 7 0 8 3-7 3-3 -4-7 1-3 3 0 -2-1 -1-2 0-9 -2-3 5-1 -1-4 1-11 -1-8 -2-5 -2-16 1-7 1-3 2-2 1-1 -1 0 -4-4 4-3 -3-4 4 0 -2-1 -1 0 0-4 0-4 1-1 5 1 1 2 1 3 0 16 1 1 0 10 -2 6 2 2 0 12 -2 11 1 8 0 6 0 2 -3 2 2 1 0 8 2 8 0 3 -3 1 3 1 -5 1 1 21 10-3 -3-1 0-15 2-2 -2-9 3-4 -4-8 0-2 0 0 4-12 0-5 -5-6 4-6 -1 0 -2-7 2-6 -3-2 3-1 1 0 -4-12 3-2 -3-3 0-23 3-2 0-1 2-11 -1-9 3 0 4 10 0 2 -3 3 3 1 -5 3 1 5 2 3 1 3 1 2 0 1 0 6 0 1 -2 3 -1 10 1 2 -1 22 0 13 2 5 0 1 0 2 -1 1 2 14 -5 3 2 1 0 1 -1 29 1 1 3 7 3-12 0-7 1-4 -1-2 0-3 0-5 1-8 -2-12 2-9 -3-11 0-6 1-12 0-2 -1-1 0-2 0-6 5-1 0-4 -3-9 0-2 0-1 1-5 -2-11 1-1 0-4 2-2 -2-6 -2-10 9 10 2 5 -2 2 -2 2 2 3 0 2 -1 1 -1 1 2 8 0 10 1 5 -3 11 0 1 2 3 0 9 -3 1 5 1 -2 7 -3 2 0 0 2 4 3 5 -1 4 -1 2 1 1 -1 4 0 2 -2 5 2 4 -2 1 4 24 -3 3 1 2 -3 2 5 2 -4 1 3 1 -2 0 0 9 0 0 3 3 -2-11 5-3 -1-2 3-2 -3-1 2-2 -2-1 1-8 -1-5 0-2 0-14 1-7 -1-7 4-3 -4-3 3-1 -1-1 2-1 -3-7 1-9 1-4 -2-5 2-4 -1-2 -2 0 3-2 -3-1 -1-1 5-13 -4-4 3-5 -4-3 0-4 5-1 -5-1 5-2 -4-1 2-10 2-1 -4-1 1 0 0-6 -1-13 2-2 3 1 1 2 2 3 -1 2 3 1 0 10 -3 7 -1 4 0 11 3 6 -2 2 2 6 0 5 -4 0 4 1 -4 2 3 0 -1 4 -1 2 0 3 4 5 0 1 -1 5 -4 2 0 8 3 9 0 0 -2 4 3 1 -3 3 4 1 -4 2 0 6 1 6 1 1 -2 3 2 0 -3 1 1 8 4 6 -1 23 -1 5 2 2 -1 2 -4 3 5 4 -4 4 5-9 2-4 1-16 2-4 -5-14 3-4 -3-4 5-1 0-5 0-4 -2 0 -2-2 1-3 2-1 1-5 -1-8 1-9 -1-1 -4-1 0-7 2-13 -1-9 -1-7 3-4 1-8 1-1 -1-3 -2-5 -1-8 2-2 2-4 -5-5 5 0 -4-1 1-2 -1-5 1-2 1-2 2-6 -2-3 2 0 -1 3 7 11 -1 4 -1 3 -2 6 0 7 0 1 2 6 0 2 1 9 -3 2 1 5 2 1 -1 1 1 1 -4 2 4 14 -2 13 1 8 1 17 -1 1 0 2 0 6 2 12 -2 8 -1 10 3 12 -3 2 -2 1 0 10 4 2 0 7 0 9 1-4 1-5 0-1 2 0 0-14 2-3 0-2 -3 0 4-5 -4-9 0-6 -1-22 2-15 -2-9 5 0 -1-6 -2-9 1-21 2-1 -2-5 2-6 -5-1 4-5 -1-1 1-1 -1-4 0-2 -3-7 3-3 0 0 -2-3 -1-2 1-5 2-3 1-2 -3-10 10 1 -5 3 4 13 0 1 -4 0 4 2 0 9 1 10 -2 1 -3 1 4 3 -1 3 -1 1 2 3 -2 2 1 5 2 1 -5 27 0 5 5 4 -4 1 3 9 0 1 -4 1 3 1 -2 3 3 6 -1 17 -1 7 3 3 0 6 -4 9 2 1 -1 0 1 10 1 3 -1 11 2 2 0 3 -3 2 -1 5 3 1 -3 8 10-7 -1-5 1-14 -4-5 2-14 -2 0 -1-4 1-5 2-1 -3-1 4-7 0-19 1-4 -3-1 0-14 3-9 -5-27 2 0 1-1 -2-15 -1-1 2-5 3-1 -3-6 0-4 3-3 -2-3 -2-1 -1-1 4 0 0-1 -2-3 0 0 -2-17 4-7 -4-4 5 5 2 4 -1 4 4 9 -2 7 1 2 1 8 1 3 -1 11 1 5 -4 5 0 1 3 11 -1 1 -3 8 0 9 0 1 0 8 5 3 -2 8 2 5 -4 7 3 3 1 12 -1 9 -1 0 0 8 1 5 0 1 -1 2 -1 0 -2 3 4 0 -1 1 1 1 1 6 -5 2 3 0 1 7 1 4 -3 17 -1 2 4-2 6-3 -2-1 2-14 -5-1 2-4 1-1 -2-1 1-2 -2-3 4-18 -1-2 2-3 -1-3 -2-4 -2-10 0-5 5-1 -2-11 -3-8 0-2 5-1 0-3 0-4 -3-2 -2 0 0-1 3-7 0 0 0-13 -2-2 0-6 0-8 -1-3 3-1 1-4 -4-6 2-4 1-2 1-4 -4-11 0-5 5-6 -4-2 1-2 1-6 -2-1 -1 0 4 17 5 15 0 5 0 3 0 1 2 0 -4 1 4 7 -1 3 -3 11 4 6 -1 0 -1 8 2 7 -5 7 3 1 -3 2 4 1 0 0 -2 9 -2 2 1 0 -1 2 4 0 1 1 -4 11 1 2 0 2 3 2 -2 7 -3 6 3 1 0 2 -1 4 2 5 1 4 0 13 0 2 -5 1 1 7 4 2 -5 1 1 7 2 1 -1 7 2 2 -2 10 2 3 -1 0 -2 1 -1 1 0 1 3 2 7-2 -3-3 1-2 -1-5 1-7 -1-14 3-15 -3-3 4-1 0-4 -1-3 -2-4 -1-4 3-1 -1-1 -1-1 3 0 -5-1 3-4 0-2 -3-3 2-11 0-6 1-6 0-14 0-3 1-1 0 0 1-7 -1-2 -1-1 1-12 -3-10 4-3 -4-11 1-10 0-3 1-8 0-9 -1-2 1-4 2-6 0-12 -3-1 5 4 1 1 -2 2 5 2 -1 1 -1 3 -3 0 1 8 4 1 -5 2 3 6 0 12 1 19 0 11 -4 1 3 2 -2 11 4 4 0 1 -1 0 -1 11 -2 3 -1 12 5 2 -1 12 -3 23 0 6 0 21 -1 6 5 3 -3 1 2 8 -3 1 0 12 0 5 1 4 0 3 5-2 2-4 -1 0 -2-7 0-14 0-14 1-11 -1-11 1-1 2-3 0-4 -3-2 2-4 2-4 -1-23 2-2 0-9 -1-23 1-4 0-2 -5-3 1-10 -1-12 3-1 2-5 -1-2 0-14 0-5 0-17 -3 0 1-11 1 0 0-4 -1 0 8 5 -2 2 3 3 -1 6 1 0 0 2 -2 7 -1 9 3 32 -5 6 4 23 -4 1 5 13 -3 5 0 28 -2 13 3 37 2 1 -5 2 0 7 5 2 -3 2 1 4 2 5 -3 5 1 1 7-3 -4-4 2-3 1-6 -3-6 0-5 4-18 0-2 -2-12 -2-10 4-3 -1-10 -3-8 4-4 -3-4 -1-6 1-3 1-16 2-5 -3-1 3 0 -4-5 3-1 2-5 -4-5 3-9 -1-17 -1-4 2-9 0-20 -1-6 0-7 -2 2 8 8 -2 17 2 0 0 0 2 14 0 11 -5 22 0 29 4 18 0 1 -3 1 3 3 1 3 -5 3 4 4 -2 2 0 10 2 21 -3 29 -1 2 2 24 9-2 -3 0 1-11 -1-31 1-2 -2 0 1-3 0-33 3-9 -2-46 1-3 -4-29 1-1 3-7 0-1 -4-3 0-4 3-5 0-2 -1-2 3-16 -4-1 4-16 1 13 2 14 -2 13 2 14 -1 4 0 1 2 0 1 10 -1 2 -1 3 3 25 -5 0 1 1 -1 1 4 14 -2 5 1 31 0 0 1 8 -1 4 -3 1 4 5 -2 10 -2 1 0 3 2 0 0 1 -2 26 3 11 -3 4 3 0 -2 3 4-1 3-16 0-15 -1-10 2-4 -2-6 -1-2 0-20 2-2 -1-5 1-8 -1-4 2-15 -1-2 3-11 -1-16 -3-7 1-16 -1-5 4-4 0-1 0-1 -2-1 -2-3 3-2 -4-47 5-5 -1 17 5 8 2 6 -2 8 0 16 2 35 -4 18 -1 9 4 16 0 9 1 3 -3 9 0 10 3 17 0 4 -1 3 -4 24 2 19 4-6 1-37 3-2 0-3 0-2 -4-7 1-12 2-6 0-8 -3-17 4-2 1-24 -3-4 2-8 -3-1 0-2 2-2 -1-3 0-16 3-32 -4-2 0-19 -1-16 5 1 4 13 1 7 -2 19 2 2 -4 7 2 6 0 10 0 8 -1 8 4 31 -5 2 1 2 2 29 -1 13 1 3 0 3 1 4 -4 4 0 6 1 10 0 26 4 6 0 2 -3 1 0 42 2 7 0 17 7-2 -2-3 -1-6 -1-3 0-3 3-10 -3-4 1-2 0-5 2 0 -4-4 1-9 2-1 -3-2 4-1 -3-3 2-3 2 0 -2-7 1-1 -2-1 0-4 3-3 -5-1 2-19 -2-5 5-2 -1-2 -1 0 1-3 -2-3 3-5 -3-24 3-3 -5-2 0-6 0-10 4-18 -2-8 -1-15 -1-15 5-10 -2-12 1-16 -1-9 -2 0 0-24 6 5 -1 9 2 4 2 29 1 20 0 1 -5 10 3 50 -1 26 -1 14 0 2 2 21 -2 5 3 1 1 0 -1 2 -3 13 2 9 -3 0 2 62 -2 12 3-86 7-1 -1-4 -3-5 5-3 -4-5 0-5 -1 0 3-5 -2-1 3-4 -3-6 0 0 3-1 -3-1 3-8 -4-8 0-5 3-3 -3 0 0-9 2-1 3-5 -3-13 -2-14 4-6 -2-4 3-22 -4-8 1-8 3-24 -1-46 -4 6 9 8 -3 17 1 16 2 6 -1 28 3 10 -5 6 2 13 1 8 -2 5 3 14 1 6 -1 19 -1 2 0 7 1 6 -2 3 -1 3 3 1 1 3 -3 8 1 19 0 2 -2 5 4 92 -1 1 -2 5 0 2 -1-7 5-2 2-2 -2-2 0-2 0 0 2-5 -2-122 4-2 -4-3 4-4 1-4 0-5 -3-3 -1-11 3-9 -4-1 0-16 5-2 -3-6 -1-2 4-1 -1-4 1-4 -5-1 1-40 4-12 0 0 -2-5 1-16 2 3 5 32 -4 30 -1 16 1 3 4 5 0 4 0 2 -5 4 1 0 4 15 -3 2 0 14 0 2 2 14 -4 24 1 18 1 4 -2 1 1 37 3 2 1 23 -1 2 -2 16 -2-37 6-9 0-14 5 0 -1-10 1-13 -5-12 4-3 -1-1 -2-14 0-9 0-25 3-4 0-23 0-1 -2-7 1-4 -1-7 -1-13 1-29 0-5 0-43 -2-3 1-1 7 1 -1 1 0 17 -1 83 3 19 1 16 -4 16 4 3 1 7 0 17 -3 11 -2 5 5 6 0 0 -1 1 -2 1 0 1 3-6 4-36 1-4 -1-1 -1-8 -1-50 3-8 -1-66 -2-20 7 3 -2 8 0 40 5 18 -5 13 1 9 4 14 -5 3 5 30 -5 11 4 1 1 4 -2 3 2 13 -4 3 3 1 -1 13 2 4 -3 5 7-11 -1-16 0-12 1-8 -1-2 0-42 3-10 -3-9 3-11 -3 0 0-42 0 0 1 12 5 5 2 20 -1 28 -2 11 0 68 3 19 -1 1 -2-5 10-13 -5-20 2-20 2-81 -4-10 4 46 4 15 -2 6 4 9 -1 23 -2 27 3 11 0 0 1 4 -5 4 5 1 -3-4 8-31 0-3 -2-18 2-16 1-21 -2-1 2-22 6 46 -2 55 -3-3 10-32 0-7 1-4 -4-6 3-28 -4-6 1 34 7 29 -1 5 1" fill="none" marker-start="url(#k19)" marker-mid="url(#k19)" marker-end="url(#k19)"/>
<path d="M1376 160l-61 6 22 6 29 1 1 -1 23 -1-36 3-6 1-24 0-23 4-25 6 28 -2 61 2 36 -1-20 3-1 1-94 3-12 2 4 3 0 0 22 -2 21 3 51 -4 38 3-3 4-45 1-39 -3-1 0-25 2-26 9 18 -1 8 0 13 -3 38 2 0 -2 56 1-12 6-33 1-46 1-73 1 8 4 50 -2 23 -1 9 0 44 11-6 -4-2 1-65 0-41 0-18 2 15 2 75 1 44 -1 10 5 26 0-35 4-3 -3-113 0 76 11 63 -3 4 0 6 -2 13 2 10 9-5 -1-17 -1-35 1-10 0-1 -2-11 -2-26 0-28 4-42 3 69 0 17 -1 61 4 27 -1-28 4-9 -1-20 5-8 0-67 -4-37 -1-15 0-17 0 6 10 107 0 22 -2 41 -2 15 2 14 2-49 4-94 3-35 3 65 -1 19 1 4 -1 14 4 32 -2 42 1 17 6-64 0-14 -3-66 3-15 -3-41 2 49 7 54 0 13 -2 41 3 14 -4 26 2 13 -1-86 4-16 5-56 -3-44 4 58 0 3 3 11 -1 17 3 12 -5 29 0 3 0 3 5 6 5-79 -4-90 0 16 8 33 -2 78 5 100 -2-2 3-36 0-49 0-28 0-42 3-34 -2 71 6 84 8-8 -3-34 3-51 -3-72 1-13 7 102 3 24 -3 26 2 31 -2 95 8 0 1-7 -5-6 3-62 1-18 -1-13 -1-44 3-109 -5-16 4-8 -4 26 11 111 -1 43 -1 49 -1 66 9-97 -5-65 4-23 0-83 -1-41 -1 1 4 12 0 13 2 119 -2 140 10-7 0-75 1-30 -3-104 2-71 3 15 -1 37 4 23 -3 14 0 0 2 1 0 62 -3 128 1-35 7-28 3-11 -2-28 2-65 -3-57 3-11 -5-19 7 4 0 7 3 20 -4 33 4 0 -1 7 -3 4 1 18 -1 8 0 91 1-19 5-30 5-56 0-10 0-8 -2-58 1-25 7 6 -4 7 3 30 -1 12 0 114 0 7 7-35 -4-7 4-40 -2-30 -1-50 3 15 2 4 1 84 2 71 7-47 -2 18 4 4 1 26 1-7 5-17 2-17 -3-37 5-21 2 29 1 10 -2 49 4-13 4-59 -1-3 0" fill="none" marker-start="url(#k20)" marker-mid="url(#k20)" marker-end="url(#k20)"/>
<path d="M1369 155l-13 -5-19 8 29 -1-14 9-9 -1-35 8 44 -2 26 6 0 -1-2 3-50 -2-26 -1-6 1 2 4 6 3 20 -2 1 1 43 -2 33 4-20 6-2 -1-11 -2-1 1-7 0-14 -3-21 2-50 7 45 -1 32 2 8 -4 27 3-10 8-70 -1-10 -1-39 -3-2 1 59 5 63 3 14 6-27 -2-5 4-28 0-4 -3-14 0-29 5 10 -1 46 3 12 0 1 -2 11 3 59 3-4 3-7 -4-46 0-11 2-27 -1-71 4-9 0 11 4 21 -1 6 0 16 -1 81 3 13 -1 8 4-4 4-1 -2-44 0-2 1-15 -1-24 -3-15 0-47 2 20 4 13 1 47 3 8 -4 40 3 51 -3 13 11-19 -4-41 -1-24 3-21 -3-18 0-45 3-10 -3-24 11 57 -4 4 4 62 0 2 0 41 -5 18 5 6 5-33 0-28 -3-39 2-29 1-9 1-12 -1-35 -1-2 1 18 4 9 -2 10 2 37 -2 1 1 7 1 33 -2 9 1 8 3 38 1-29 4-16 0-46 1-16 -4 0 0-19 0-4 0-3 9 8 0 37 -3 1 3 27 -3 17 5 1 -5 6 3 5 1 12 0 1 1 3 0 57 -1-68 2-18 2-41 -2-7 4-89 1 22 2 10 1 2 3 13 -3 11 -1 17 -1 10 5 20 -2 23 -1 2 2 1 -4 21 1 8 3 27 2-5 4-11 -4-39 3-58 0-9 -1-20 3-17 -1-22 7 10 -1 2 -4 18 0 24 1 26 3 53 0 0 0 9 -2 40 8-11 -4-13 5-13 0-21 -1-62 -3-5 0-12 3-7 1-6 0-23 -2 0 2-2 -5 0 2-14 7 6 -2 3 -1 19 3 1 0 25 -2 26 1 17 0 25 1 20 2 16 -1 21 0 6 -4 43 6-96 3-32 -2-8 1-27 2-19 1-6 -1 0 -4-17 3-17 4 16 4 21 -4 13 0 28 3 17 1 10 -4 4 -1 36 5 6 -5 13 2 9 3 52 5-66 -2-19 0-10 2-24 -2-6 2-4 0-2 -4-3 4-35 -2-5 3-24 -3-14 3-7 0-7 -4 0 7 16 3 1 -5 7 1 5 2 13 -3 4 5 12 -3 9 -2 47 3 5 -2 2 0 25 3 4 -4 33 4 57 1 24 0 1 0 18 5-3 -3-29 -1-1 3-2 1-3 -4-5 3-8 1-5 -1-51 1 0 -4-6 4-1 -2-7 3-16 -5-20 0-4 4-51 -4-37 4-14 -4-9 4-4 7 3 -3 2 1 7 -3 3 1 3 1 17 3 14 -5 23 1 81 -1 12 1 28 2 3 0 0 -1 4 0 12 1 13 -3 11 0 41 3 1 -3 8 5 8 3-2 3-100 -4-2 1-31 -2-13 4-27 -1-35 1-1 -1-1 -3-2 1-18 -1-42 1-4 2-12 1-3 -4-3 2-19 5 4 3 18 -2 6 0 39 3 14 0 6 -1 34 -1 9 0 45 -3 21 0 13 4 97 -1 7 0-9 4-2 -1-11 5-1 -2-110 1-92 -3-4 0-9 -1-5 4-2 -3-30 -1-7 1-13 1 11 5 3 4 0 -1 1 0 4 -3 9 1 1 1 2 2 39 -1 16 -3 28 1 5 3 0 -1 10 -2 30 -1 3 2 16 0 2 -3 57 5 15 0-85 1-10 3-10 -1-9 1-34 -3-6 3-33 0-9 -3-23 0-1 4-3 -4-33 3-4 3 4 5 26 -1 8 -4 5 0 2 3 31 -1 14 2 35 1 2 -2 5 0 1 -2 5 2 0 2 9 0 9 -5 45 5 5 -4-14 9-1 1-2 -3-22 0-7 -1-28 0-5 1-16 3-2 -3-11 -2-2 5-18 -2-2 -2-3 0-16 -1-8 4-4 1-5 -2-22 -2-13 1-9 0 6 9 11 0 6 0 4 -2 30 0 3 1 25 -3 7 4 1 -5 0 0 15 1 32 2 3 2 39 -2 4 -3 6 0 2 2 2 3 9 3-2 2-6 0-39 -2-49 -1-12 -1-14 1-1 2-7 1-22 -3-11 -1-3 3-4 2-6 -3-3 -1-10 4 2 2 36 4 7 -1 23 -4 16 4 53 1 21 0 6 0 23 0-1 4-3 0-17 1-19 -3-7 -1-10 2-1 2-3 -4-7 5-4 0 0 -4-9 -1-25 4-9 -4-31 0-1 1-16 1 54 8 4 -4 46 2 4 -1 12 1 0 2 32 -1 5 -1-8 9-5 -2-5 2-7 -2-4 1-56 -4-26 1 29 8 38 -2 3 2 2 -2 0 0 22 2-11 6-5 0-8 -2-10 1-2 2-1 -1-29 1 13 2 0 1 9 -1 15 1 9 3 8 -2" fill="none" marker-start="url(#k21)" marker-mid="url(#k21)" marker-end="url(#k21)"/>
<path d="M1355 151l-10 9 1 -1 20 -3-6 6-17 0-20 16-30 0-8 3 90 5-27 6 18 1 39 7-5 0-71 6 7 0 37 2-81 6-15 -2-14 8 140 -4 5 5-10 5-138 3 19 1 55 2 32 7-41 -2-92 2 72 1 33 6-106 9 21 2 96 -4 54 8-69 0-66 0-4 2 30 6 9 -1 105 -3-108 9-32 3 4 1 23 0 15 3 24 -4 47 1 12 5-3 4-62 -3-95 6 21 0 25 -2 40 2 30 3 52 -3 22 0 34 -2-40 9-16 2-93 -2 0 0-4 0-27 -3-31 5-2 -1 14 6 2 -4 76 0 11 0 9 1 3 1 7 0 19 1 37 -3-22 7-70 4-38 -2-1 -2-52 9 8 -4 8 5 54 -4 45 -1 48 4-50 5-60 1-2 0-25 -4-20 2-5 1 34 5 28 3 31 0 77 -2 46 7-37 1-31 -3-77 0-45 -2-5 2-22 3 0 -5-3 10 4 0 7 -4 8 1 155 3 14 -4 57 7-27 2-1 0-65 1-38 -4-83 3-42 4 30 4 45 0 38 -5 43 4 46 0 11 0 87 -2 2 0 7 7-5 2-88 -5 0 2-7 0-61 -1-57 2-64 2-3 -1-3 -3-1 1-21 6 34 1 11 2 1 -2 6 2 3 -4 39 4 0 -3 9 -2 5 1 11 4 3 -5 42 3 140 1 8 -2-11 5-11 2-10 2-86 -5-22 0-38 0-3 3-3 1-23 -1-18 -2-5 1-3 3-7 0-22 0-13 -2-6 1-31 2 0 2 18 -1 4 -1 6 2 3 1 1 -2 1 -1 4 2 1 -2 5 0 12 1 3 3 12 -1 10 -2 0 4 1 -1 5 -4 5 5 36 -4 0 4 35 -3 14 -1 3 1 4 0 16 0 48 3 12 -1 10 0 3 -3 8 1 3 0-29 8-28 -1-81 0-7 2-20 -5-15 5-21 -1-1 -4-3 1-1 3-7 1-11 0-2 -4-3 4-4 -2-3 1-5 -4-10 3-6 0 0 -2-4 3-1 -1-2 0-10 2-5 -4 18 5 24 2 2 3 4 -5 4 4 0 0 15 -2 10 2 4 -2 17 2 1 -3 6 2 21 1 13 1 4 -4 2 0 11 4 3 0 1 -2 1 2 6 0 18 0 16 0 9 -2-16 8-7 0 0 0-6 -4-8 -1-17 3-28 1-2 0-4 1-1 -3-6 -2-3 0-15 3-7 -3-6 0-1 2-3 0-5 0-7 -1-2 3 0 -4-3 5 0 -1-2 -2-1 -1-5 4-10 -4-5 3-19 -2-2 -1-19 1-1 0 23 5 10 3 1 1 3 -5 7 1 4 3 11 1 5 -4 3 -1 3 3 19 -2 18 1 4 -1 1 0 6 -1 11 5 8 -3 24 3 6 -2 1 -2 6 1 9 0 12 2 0 0 3 -3 8 8-8 1-5 0-11 -3-8 0-15 3-2 -1-3 -2-4 4-1 -5-9 5-1 -2-2 -1-11 3-10 0-2 0-10 -5-1 2-6 -1-23 1 0 -1-1 -1-15 2-1 3-18 -3-9 0-16 4 7 0 26 4 3 0 3 -2 11 -1 4 2 16 2 7 -2 1 0 16 1 5 -1 4 0 3 -1 8 -1 30 4 15 -5 0 1 1 1 6 0 1 2 11 -3 5 3 9 0 3 0-4 4-3 2-10 -4-13 4-6 -3-2 2-8 1-8 -4-5 2-22 2 0 -3-3 3-30 -2-17 -1-2 2-1 -3-7 2-3 3 36 2 1 3 6 -3 8 0 4 4 5 -5 0 1 11 -1 6 2 3 -2 1 2 1 -1 13 3 12 0 18 -4 2 5 7 4-1 0 0 2-2 -2-9 2-12 -3-8 3-9 -1-14 -4-1 4-6 0-6 -3-11 2-4 -2-3 1-4 2 1 2 1 0 16 5 4 -2 1 0 7 -3 8 3 1 0 2 -1 14 -2 2 5 3 -4 9 -1 4 3 8 -2 1 0-48 10-1 0-23 -5-3 2-4 2 10 4 5 -2 2 2 6 0 13 2 8 -3 3 4" fill="none" marker-start="url(#k22)" marker-mid="url(#k22)" marker-end="url(#k22)"/>
<path d="M1375 154l-30 1-13 3 70 57-50 16-95 26 14 0 133 26-101 15 13 3-16 10-40 5 162 3-74 4-94 6 39 -2 4 1 87 4-85 2-58 2 27 1 27 -1 4 4 5 0 30 -1 0 -1 26 -1-4 9-1 -1-18 2-17 -1-19 -4-66 1-1 10 20 -3 17 -1 4 3 45 -2 26 0 9 -2 38 2 3 9-19 0-44 0-15 -3-13 3-7 0-6 -2 73 7 4 -3 3 7-49 1-16 2-41 -1-25 0-22 -3 7 7 34 -1 54 -1 33 4 15 -3 43 4 24 -1 65 1 0 -4-64 7-44 2-14 0-115 3 68 -1 1 5 67 6-25 0-11 -1-7 -3-12 3-45 -4-20 0-43 6 94 5 17 -5 13 4 4 -2 2 -1 10 1 6 -1 59 4-2 2-6 3-7 -1-18 -3-4 2-5 3-10 -4-25 1-38 -1-29 3-5 -3-31 2-9 -2 34 6 24 2 3 1 27 -2 13 -1 16 3 61 0 10 7-33 -3-28 -2-34 0-12 2 48 7 4 -3 41 0 5 9-7 -2-7 1-26 0-33 0-34 1 7 3 7 2 3 2 4 -3 53 -1 18 6-3 2-13 1-17 2-12 0-10 3 8 1 37 -3" fill="none" marker-start="url(#k23)" marker-mid="url(#k23)" marker-end="url(#k23)"/>
<path d="M1271 322l56 13-2 -2 31 13-11 1-3 -5-8 2-2 0-95 -1 92 7-31 10 6 3-32 10 7 2-8 4 97 18 58 1-59 9-101 5 94 -3 49 2 6 6-54 -1-16 20 45 -2 23 1" fill="none" marker-start="url(#k24)" marker-mid="url(#k24)" marker-end="url(#k24)"/>
<path d="M1339 346l-16 -2 42 11-38 2 29 79" fill="none" marker-start="url(#k25)" marker-mid="url(#k25)" marker-end="url(#k25)"/>
<path d="M1366 153l-11 -3-4 1-13 2-5 4 4 3 2 -1 0 0 4 -1 2 1 3 -3 4 2 6 2 11 0 15 4-10 2-20 -1-3 0-3 -1-2 0-1 2-8 -2-6 3-4 -5-11 5-14 5 2 -2 6 1 6 -3 9 2 5 3 23 -3 0 3 13 -3 6 -2 0 2 5 -2 3 4 3 -1 1 -3 4 0 5 4-9 7-4 0-2 -3-5 2-16 -2-1 0-2 1-1 1-7 0 0 1-3 -2-2 -2-9 4-2 -4-18 2-20 -2-1 1-5 2-3 1-3 6 1 0 1 -4 6 4 16 -5 18 5 0 -5 2 2 1 2 2 0 3 -3 1 2 15 0 4 -2 1 1 5 -1 0 3 2 -2 4 3 2 -1 1 -3 1 -1 2 2 1 1 1 -1 1 2 11 -4 9 3 2 -3 3 2 4 1-4 8-1 -1-2 0-3 -2-1 3-1 -2-2 2-1 -4-4 0 0 0-7 1-3 -1-6 3-4 0-4 1-3 -1 0 -2-1 -1-5 4 0 -4-7 -1-1 5-6 -2-9 1-3 -2-4 2-1 1-6 0-6 -5-3 4-1 -1-7 1-31 1-7 4 10 -3 5 1 0 2 4 -2 15 0 4 -1 9 2 9 2 5 -4 0 3 3 -3 5 1 6 0 4 3 5 0 4 1 1 -2 2 -2 7 1 1 2 0 1 1 -3 1 3 1 -5 3 3 7 -3 1 0 7 4 1 -4 0 0 2 3 4 -2 8 -1 4 5 2 -3 2 -2 8 3-3 7-1 -1-4 -2-13 -1-5 5-1 -4-8 2-15 2 0 -4-4 0-3 0-7 1-1 -2 0 0-1 2-5 2-3 -1-4 -1-3 2-3 -1-1 1-12 1-1 -5-2 2-4 -1-3 0-3 -1-9 3-2 1-4 -4-2 3-8 1-5 -4-7 3-1 1-12 6 7 -2 1 2 8 -1 4 -2 3 0 1 -1 3 0 4 4 15 -2 1 3 0 -3 2 3 0 -3 3 1 2 1 1 -4 2 1 1 -1 4 2 0 0 7 -1 0 4 4 -5 4 5 2 -3 5 0 3 0 3 1 8 0 2 0 5 -3 3 4 3 -1 1 -3 4 5 2 -5 9 0 7 1 1 -1 3 1 7 -1 25 5-1 5-4 -2-33 0-1 -1-5 0-1 4-8 -1-8 1-1 -5-9 4 0 -2 0 0 0 2-2 -1-2 0-13 -3-3 1-3 2 0 2-5 0-1 -4-1 -1-5 1-5 3-5 -2-14 2-2 -3 0 -1-4 1 0 1-7 1-3 -3-4 4-1 -2-9 2 0 0-8 -4 0 4-1 0-8 7 1 -3 4 -2 20 4 3 0 0 1 5 -4 1 2 3 0 2 2 6 -1 1 -4 11 0 14 4 5 -2 1 -2 3 3 4 -2 1 2 7 -3 1 3 0 0 1 1 1 0 5 0 5 1 5 -2 0 0 3 -2 8 1 1 1 5 2 3 -2 3 2 1 -4 5 2 0 -3 3 0 4 3 1 2 7 -5 10 2 0 -1 1 -1 3 5 1 0 0 -1 3 0 2 -2 1 2 3 -1 6 0-5 7-3 0-4 -1-16 0-2 0-2 -1-5 -2-5 4-4 -4-14 0 0 2-14 -1-3 1-2 -1-4 -1-6 2-20 -2-4 0-12 2-1 2-1 -4-5 1-2 1-5 -1-1 0-2 0-2 3-3 -1 0 2-5 0-5 -5-5 1-6 2-2 0-4 0-2 1-2 1-2 -1-3 -2-2 -2 0 3 12 3 3 5 2 -3 1 0 2 -2 8 4 9 -4 1 2 2 1 2 -3 9 1 1 -1 1 1 5 0 2 1 4 0 1 0 5 3 1 0 3 -4 3 1 14 -2 9 1 4 2 6 -1 9 2 5 0 13 -1 3 -3 2 5 1 -3 7 3 0 -2 4 2 1 -4 5 2 1 -1 1 -2 2 3 1 0 10 -2 1 3 7 1 0 0 11 0 5 5-15 -3-1 -1-2 2-1 0-1 3-5 -3 0 1-3 1-3 0 0 -3-5 0-7 1-8 3 0 -1-1 0-9 -1-8 -1-6 3-2 -1-1 -2-4 2-4 -1-1 0 0 -2-5 0 0 0-7 2-7 -3 0 4-1 0-1 -2-4 -2-1 0-5 1-3 -1-1 5-1 -1-4 -2-11 2-3 -2-1 3-3 -4-1 0-2 2-9 -3-4 0-5 4-2 -3-4 4-7 -5-1 2-10 -2-11 4-1 -1-2 7 12 -3 3 2 4 0 0 -2 11 -1 2 3 17 -1 1 -1 5 1 14 1 1 -3 2 0 2 2 7 -1 5 0 4 1 1 2 3 -3 4 4 1 -5 3 0 5 2 1 -2 1 4 1 -2 8 -2 2 5 1 -2 0 0 0 2 0 -5 6 4 4 1 7 0 4 -1 6 -3 6 0 3 2 1 -3 2 0 2 5 1 -1 1 0 0 -4 5 4 2 -4 0 0 15 1 1 2 2 2 3 -4 1 1 2 -2 2 4 7 6-12 -3-28 1-3 -1-1 4-12 -3-2 0-2 3-4 0-5 -1-13 1-2 -2-5 0-4 -2-2 3-2 -2-4 1-1 1-2 -1-1 1 0 -2-3 0-2 0-5 3-4 -2-12 -3-13 0 0 5-1 0-2 -2-2 -3-8 3 0 0-2 -1-2 2-5 -4 0 4-3 1-13 0 0 0-4 -5-2 3-2 0-4 1-3 -1-1 2-9 -3 3 5 4 1 4 0 3 1 5 -2 10 4 5 -4 1 0 3 0 4 3 5 0 7 -2 2 3 19 -2 10 -2 3 1 4 -1 1 0 5 3 4 -3 16 0 5 4 3 -4 3 4 3 -1 4 1 1 -2 2 -2 2 3 8 -3 5 2 1 2 10 -1 2 -3 25 -1 17 5 0 -1 2 -1 2 -3 3 9-7 1-4 0-5 0-1 -1-2 0-4 2-8 -5-5 1-8 3-3 -2-1 -1-3 3-6 -2-1 2-7 0-2 -4-6 3-1 -3-3 3-6 2-1 -3-1 2-2 0-1 -3-2 1-3 0-8 3-1 -5-1 4-2 -2-4 3 0 -2-14 1-8 0-9 -3-4 2-12 1-20 -3-6 3-1 -3-4 1-5 1-15 1-8 0 3 5 2 1 14 1 5 -2 2 -3 22 0 2 1 16 3 5 1 10 0 8 -4 0 4 4 -5 5 4 5 -4 3 3 10 2 1 -1 9 -1 1 -1 5 1 4 1 3 -1 13 -1 5 2 4 -4 3 2 3 1 4 -2 0 3 4 1 21 -4 4 0 4 3 0 -1 1 2 5 -2 9 -2 2 0 2 4 5 4-9 -2-2 4-13 -4-2 2-3 0-3 -3-5 3-5 -2-3 1-2 -1-1 1-5 2-5 -3-9 2-4 -3-8 0-4 5-16 -4-3 4-1 -2-5 -2-8 0-1 3-10 -3-1 2 0 -2-3 3-6 -3-3 2-2 -2-3 0-4 4-5 -1-4 0-3 -1 0 1-2 -1-6 1-10 0-1 -3-3 -1-8 5-3 -1-1 -4-7 0-6 2-10 2-2 0-3 -4-5 5 1 3 12 3 6 -2 5 0 0 -1 0 -2 2 2 1 0 18 -1 1 3 14 -4 15 0 10 1 30 -1 0 0 2 1 1 1 7 1 7 -1 2 1 2 -3 3 0 14 5 8 -4 1 -1 8 4 2 -3 27 3 5 0 7 -2 0 1 12 1 0 -2 1 0 0 1-9 7-2 0-4 -2-3 3-1 -4-19 3-8 1-5 0-15 -5-1 5 0 -4-7 1-3 3-14 -1-6 -4-3 1-7 2-5 -2-9 -1-15 2-8 1-5 2-12 -1-1 -3-1 -1-7 3-10 1-3 -2-10 2-11 -4-2 2-1 -2-14 5-2 3 6 -2 9 0 1 5 6 0 5 0 13 -3 3 0 4 1 2 -3 10 4 0 -1 10 1 7 -3 3 4 3 0 0 -3 23 -2 10 4 0 1 3 -1 10 0 27 0 7 -2 0 2 1 -3 1 4 6 -1 2 -3 5 2 1 -2 8 2 2 -2 1 0 0 2 14 -3 6 2 3 -2 8 2 9 2-5 6-2 0-1 1-1 -4-16 0-17 2-11 -2-3 0-9 0-7 1-1 1-3 2-1 -4-12 0-3 1-3 1-6 -1-3 3-2 -1-5 -4-5 0 0 1-8 -1-14 3-24 -3-13 1-1 2-3 2 0 -1-22 -2-11 -2-11 1-1 4-2 -3-3 0 9 7 23 0 5 -3 4 1 4 -1 5 2 5 3 7 -5 1 3 1 0 7 1 18 1 3 -2 16 -2 6 1 4 0 2 -2 2 3 0 -1 3 0 4 -1 10 2 5 1 17 -2 0 -2 2 1 4 -1 11 3 38 1 2 0 0 5-1 0-4 -1-25 3-1 0-15 -4-20 2-12 -3-1 1-3 1-8 -2 0 2-8 0-18 -1-4 1-6 1-6 2-6 -5-9 5-6 -1-8 0-9 1-1 -2-22 2-3 0-4 -5-2 2-1 2-2 1-10 -5 6 9 14 2 5 -4 8 3 5 -4 9 5 8 0 4 -1 5 1 14 -5 4 2 1 0 8 1 2 0 6 2 3 -1 9 1 10 -1 4 -3 2 1 0 3 20 -1 5 -1 7 -3 2 0 0 4 3 1 6 -2 3 0 5 2 6 -4 24 0 13 3 0 -3 3 2 3 5-5 3-3 -1-2 -1-34 2-11 0-5 -4 0 3-3 -2-11 0-35 3-1 -4-2 4-2 -5-22 1-16 2-11 0 0 -1-4 -2-2 3-2 -1-19 2-9 -4-1 3-11 -1-6 2 2 2 8 4 4 -4 1 0 0 5 14 -1 26 1 1 -1 5 -2 12 3 5 -4 1 4 7 -2 0 2 7 0 9 -1 22 -1 8 1 0 1 7 -1 3 -2 14 -2 8 4 13 -3 23 -1 12 4 5 -1 1 3-1 1-1 -1-1 4-1 0-2 -3-1 3-1 1-14 -2-29 0-2 -3-10 1-18 1-18 1-9 -3-14 1-21 1-26 -1-5 2-24 -3-31 0 19 10 30 -1 17 -2 23 4 14 0 17 -4 1 -1 8 2 4 1 4 2 6 -1 6 0 11 -2 0 2 4 0 2 0 7 -3 2 1 31 1 4 -2 51 4 19 0 11 5-1 -1-1 2-2 -1-2 -1-3 2-5 0-3 -3-6 -1-2 -1-3 0 0 2-12 -2-3 0-16 3-7 -2-8 4-3 -2-2 2-17 0-22 -1-1 -1-34 1-1 -3-19 1-26 1-29 -1-17 3-7 -2-4 2-4 -4-2 0-13 4-7 -5-12 0-1 4-5 2 5 5 13 -2 3 -3 26 5 8 -5 16 1 1 4 4 0 7 -2 8 -3 15 4 0 -3 7 -1 6 4 7 -3 4 4 22 -3 5 -2 11 0 38 3 1 2 6 0 4 -4 0 2 1 -1 1 -2 0 1 1 1 1 -2 8 0 16 1 56 -1 3 1 9 8-5 0 0 -2-1 -1 0 4-1 -2-89 2-2 1 0 -2 0 -3-3 0-5 1 0 4-1 -1-22 -1-5 -1-3 2 0 -1-8 -3-1 4-5 -2-7 0-6 0-18 1-5 -3 0 5-6 0-7 0-13 -5-1 2-1 1-6 -3-20 0-8 3-16 1-2 -4-29 1-1 -1-3 0 1 11 6 -4 3 1 8 -2 1 5 13 -4 17 2 22 -3 9 3 18 -2 20 1 2 2 1 0 16 -1 1 0 8 2 5 -3 5 3 6 -5 2 1 18 4 21 -2 78 1 4 -4 1 4 3 -3 0 3 1 0 1 -2 1 2 4 -1 2 -2-6 5-8 0-5 0-1 2-2 0-1 1-3 2 0 -1-3 1-85 -2-27 1-6 -3-6 4-4 -4-1 1-4 1-9 2-8 -4-14 1-1 2-12 0-11 -3-3 2-14 1-3 -3-4 0-7 -1-36 0-5 2-4 2-12 1-2 -4-2 4 13 3 57 0 36 1 11 -2 5 2 4 1 67 -1 11 2 2 -5 60 5-4 1-16 2-3 1-10 -2-2 0-41 0-18 1-24 -2-4 1-3 -1-4 5-18 -3-6 0-25 -2-5 4-4 -2-27 -2-19 2-8 3-3 4 39 -1 30 1 19 0 47 1 45 1 2 -3 5 2 15 -3-50 9-20 -4-8 5-14 -1-4 1-11 -3-2 -1-2 2-1 -3-22 3-1 0-12 -3-30 5-3 0-5 0-9 -3-10 1-16 -3 37 6 14 0 27 5 7 -5 8 3 3 -2 23 1 10 3 39 -5 16 0 15 11-21 -4-19 0-24 3-10 1-26 -1-10 1-33 -2-18 -3-34 1 40 10 44 -4 0 -1 7 2 7 -2 63 5 4 -2 5 0 4 2 20 3-5 0 0 1-28 -2-29 2-11 -2-64 2-19 -2 51 5 52 1 2 2 6 0 37 6-8 1-19 -4-70 8 6 -2 14 3 28 1 10 -3 6 2-5 3-18 0-10 1 21 8 16 -1" fill="none" marker-start="url(#k19)" marker-mid="url(#k19)" marker-end="url(#k19)"/>
<path d="M1362 166l-22 3 24 -1 5 0 21 4-71 2-3 4-24 1-10 6 0 -2 43 -2 39 -1 28 2 4 5-49 2-18 1-31 -2 65 15-43 0-48 3 15 2 29 -1 41 0 0 1 22 1 0 -3 7 7-3 1-31 0-37 -3-13 3-34 1 29 5 10 0 3 -2 20 1 62 -3 7 2 22 3-33 2-75 3-35 0 3 5 16 1 36 -1 36 -1 3 2 16 1 27 -3 6 5-22 4-15 -5-32 0-9 4-43 -2-2 2-43 3 35 1 45 -1 1 2 8 -3 11 3 47 2 20 -1 7 -2 3 3-28 4-41 -2-36 2-13 -1-13 3-48 -1-6 -4 25 11 61 -1 11 1 79 -2 21 8-77 0-27 -5-51 3 79 3 23 4 32 0 26 -1-12 7-4 -2-62 2-22 -4-15 5-64 -5-9 1 2 8 105 1 4 -1-13 4-51 -1-46 3-24 1 30 4 24 3 31 -5 39 0 33 2 34 -2-113 9-4 1-39 0-15 -3-16 3-3 3 27 3 60 -2 32 2 2 -3 92 5-32 3-19 1-164 -1 77 7 16 -2 5 -2 7 5 17 -2 22 0 1 -1 6 -1-33 9-44 -3-55 3 23 6 2 -4 44 3 96 -2 39 10-78 -2-10 0-135 0 19 3 154 0 99 4-46 4-14 1-26 1-9 -1-174 4 22 -1 182 2 5 -1 18 -1 8 4 54 1 11 -2-4 3-9 0-99 4-16 1-190 2 5 2 184 -2 17 3 96 2-24 5-64 -5-20 0-120 5-54 -1-5 -2-11 -2-3 8 5 -2 35 1 40 0 39 3 7 -2 52 0 26 -1 75 1-106 8-37 -4-33 1-15 2-14 -2-10 -1-29 2 110 5 23 1 32 -1 20 0 7 0-106 7-3 -1-18 2-4 0-51 -1-19 -2 36 8 21 3 30 -2 36 -3 23 1-51 10-15 -3-13 -2-4 4-55 5 25 1 42 1 3 -4 9 4 12 -1 26 0 59 5-115 4 28 3 72 -1-38 8-41 -4-4 2-3 3 44 7-10 4 18 1" fill="none" marker-start="url(#k20)" marker-mid="url(#k20)" marker-end="url(#k20)"/>
<path d="M1344 159l29 -1-7 9-19 -1-23 1-14 4 27 1 39 -2-17 6-84 9 37 -2 2 2 7 -5 20 3 8 -2 5 0 16 3 0 1 16 5-61 1-25 0-31 -2-6 2 21 2 23 1 39 -1 1 -1 27 3 5 3-7 4-15 1 0 -1-25 -4-16 0-48 2 30 9 16 -1 30 -4 2 3 25 -3 4 11-39 -4-20 1-46 0-20 9 13 -3 46 3 51 5-54 1-37 -4 40 7 12 -2 62 3 21 -1 1 1 18 -2-21 9-129 1 0 0-21 -5-4 0 10 8 3 -2 37 4 32 1 11 -4 34 0 38 2 1 4-24 4-55 -1-37 0-13 1-18 0-19 -4 42 10 4 -2 50 0 20 -3 17 3 12 0 15 -1 23 6-84 -2-10 5-54 -1-27 1-9 0-5 1 31 3 27 -1 87 2 15 0 25 -1 16 4-12 4-38 -5-3 0-9 1-16 -1-9 4-20 -1-67 -1-2 -1-4 2-19 1-4 -2-6 -1 61 8 12 0 72 6-20 -2-42 4-14 -4-29 -1-41 6 28 2 4 -1 25 2 5 1 1 -4 27 3 0 0 39 1 89 2-13 0-16 1-31 0-63 -1-34 2-43 -2-6 2 4 7 8 2 13 -2 11 -1 11 -2 1 0 5 4 18 1 61 -3 20 0 11 2 1 -2 22 2 12 0-70 4-4 1-31 -1-13 3-59 -4-30 1 35 9 26 0 17 -3 7 1 14 -2 68 2 9 -3 1 2 17 3 29 -5-52 8-11 -2 0 0-4 4-39 -4-8 5-18 -4-20 1-57 -1 20 10 23 0 1 -5 19 0 72 5 27 -3 1 5-8 2-30 -3-3 4-13 -4-4 3-29 -1-26 2-5 -2-4 -1-13 -1-9 4-1 -3-5 0-18 10 1 -3 10 -2 6 5 3 0 7 -3 60 0 13 1 35 -2 2 2 26 -1 3 3 13 0 71 -1 4 -1 21 7-22 -1-11 -3 0 2-6 3-21 -2-1 -1-2 2-15 0-26 -3-18 4-38 0-28 -4-4 4-52 -2-5 2-19 -3-2 2-10 0 47 5 11 -3 41 3 26 -2 11 2 13 -3 6 5 17 -5 9 4 13 0 8 -2 3 0 96 4-3 3-98 -3-5 2-28 0-1 -1-20 -1-10 2-9 2-15 0-34 1-42 -5-13 1-5 3-1 0-6 -2-20 1-12 0 3 5 34 -2 7 2 31 2 8 -2 41 -1 18 1 1 0 63 3 7 -1 95 -2 1 1 7 -3-15 6-1 2-6 2-75 0-14 1-25 -2-8 -1-7 2-3 -2-11 -2-3 3-22 2-28 -4-46 2-6 -1-1 -2-26 5-7 3 1 2 30 -1 8 -1 10 -2 2 1 8 2 3 -3 8 1 1 3 3 -2 1 2 7 -2 36 -1 2 3 36 1 13 0 26 -4 2 2 8 1 42 1 1 -1 9 0 23 -4-31 9-5 -3-12 4-3 -1 0 1-18 0-112 1-8 -1-15 0-13 -3-6 0-9 1-6 -2-1 2-29 -1-12 4 25 1 27 0 19 0 4 0 1 4 2 1 6 -3 36 3 30 -5 2 3 18 1 29 0 0 -2 7 0 2 0-49 5-1 -1-28 2-5 2-9 -4-9 0-1 1-24 0-2 0-9 -1-9 1-7 1-19 0-3 -1-31 5 19 2 13 1 13 -3 2 3 1 1 3 0 21 -1 22 -3 4 3 2 0 13 -3 11 1 0 4 13 0 0 -2 3 -1 5 2 35 0 3 -2 12 0-5 4-18 0-7 1-6 1-4 -1-34 3-6 -3-10 1-14 0-11 0-9 2-4 1-4 -3-13 -1-10 0-9 2 0 -3-3 5-19 0 29 6 4 0 6 -2 7 2 1 -4 1 3 5 -4 7 3 4 1 2 -4 27 4 5 1 1 -3 6 0 10 2 0 -2 1 1 30 0 6 1 6 0 11 1 2 0 5 -2 4 -1 3 0 1 -2 5 9-50 -2-8 1-8 0-9 -2 0 4-20 -4-3 1-24 0 32 7 20 3 9 -3 14 -1 7 1 14 -1 1 2 18 8-27 -4-4 3-1 -4-10 3 0 1-3 -4-7 0-12 0-17 4-6 -4-21 9 9 2 16 -1 3 1 32 0 1 -4 13 0 4 2 2 -2 1 4 12 -4 9 4 4 -1 1 -2-23 9-3 -4-4 -1-22 3-9 -1-4 -2-11 5 21 4 15 0 9 -1" fill="none" marker-start="url(#k21)" marker-mid="url(#k21)" marker-end="url(#k21)"/>
<path d="M1363 155l-7 -3 0 1-9 0 16 5 6 2 5 -2 25 32-93 0-21 -4 86 16-60 -2-10 -1-52 5 29 1 42 1 45 3 55 0-34 12-111 2 47 6 63 3 38 7-46 -5-72 5 27 6 9 -3-84 8 20 3 172 4-73 1-90 0-13 3-29 5 14 1 36 2 99 -3-22 5-30 2-22 2-33 -4-40 2-4 -1-8 -2 55 8 80 -2 46 3-20 4-7 2-44 0-43 -2-20 1-14 3-10 -3-8 -1-7 9 16 -4 42 4 1 -3 3 2 28 2 54 -3 76 9-44 -4-124 4-5 -4-28 0-12 8 3 1 123 -2-20 4-24 3-44 0-1 2-40 -2-8 8 33 -2 52 -3 32 2 58 2-6 3-36 4-58 -2-45 2-34 -3 25 9 25 -2 17 -3 29 4 4 0 12 1 76 3-12 3-32 -4-119 -1-26 5 6 2 88 4 13 -3 8 0 40 -1 136 9-11 -1-44 2-9 0-2 -3-26 2-10 -4-19 2-109 1-49 2-15 0-2 2 27 3 17 -4 24 3 21 -1 13 2 5 1 44 -2 161 8-100 -2-24 0-1 0-34 -1-8 1-13 1-3 -2-2 1-25 -3-8 0-29 2-23 0-8 -1-2 1-4 -1-11 1-1 -2-2 4-10 0-4 -4 0 4-2 -1 4 4 5 -1 12 0 9 4 4 0 12 -3 1 1 7 3 3 -2 13 -2 1 3 5 -3 2 1 75 3 148 -1-16 7-94 -4-34 2-18 -1-24 2-12 -2-16 -2-1 5-6 0-11 -1-5 0-10 -1-1 -2-3 0-19 1-3 2-4 -3-3 -1-1 4-13 -3 0 7 2 2 0 -2 7 -1 4 2 0 0 3 -3 5 3 16 -3 2 2 10 1 0 2 15 -4 5 4 10 -2 0 1 0 -4 25 5 58 -1 2 0 8 1 15 0 0 -5 12 4 51 1 11 -1-17 3-5 1-11 1-9 2-22 -4-18 -1 0 5-47 -1-29 0-21 -1-3 -1-3 -2-13 4-12 0-2 -4-2 5-4 -5-9 3-6 0-3 2-2 -4-2 1 0 3-9 -4-13 0-1 0 47 9 1 0 2 1 1 -1 5 -1 5 -1 0 2 8 1 13 -2 20 -1 3 -2 10 4 2 -1 25 1 2 1 11 -2 6 2 7 -1 4 -3 6 1 3 -2 0 1 1 3 0 -2 7 0 14 5-12 0-6 4 0 -4-5 3-1 -4-15 3-9 -2-3 1-11 -2-11 3-8 0-1 -2-12 2-15 -3-11 5-7 -2 0 1-17 -3-8 4-1 -5-4 0-9 5-4 -4-23 1 4 4 37 5 3 0 1 -4 9 3 4 -2 0 -1 20 0 11 2 2 0 18 2 23 -2 7 -1 1 3 4 -2 5 -1 6 2 8 -1 16 -3 12 1 2 10-1 -1-3 -4-2 1-9 0-7 -1 0 2-3 -2-3 3-3 2-21 -2-10 -3-6 3-20 1-3 0-15 -1-10 1-14 1-1 -1-2 -3-29 2-8 0-6 -2 11 9 26 -4 0 5 0 -5 2 5 28 0 18 -1 28 0 8 0 26 -1 6 -2 8 3 0 1 4 0 4 -5 3 3 5 1 1 0-2 3-17 4-9 -4-12 4-23 -1-1 -4-2 3-11 -2-3 0-3 2-7 2-6 -4-18 0 0 3-2 -2-4 -2-15 3-3 -3-11 5 36 3 8 -1 0 -1 9 1 3 -1 11 1 3 4 0 -5 17 2 1 3 2 -1 26 -3 20 10-17 0-13 -2-20 -2 0 -1-6 4-6 -3-24 0-2 0 0 1-16 -1 14 5 5 1 7 3 7 1 5 -2 3 -2 8 1 10 1 2 2 6 -1 2 1 11 0 14 -5 5 8-8 0-16 3-31 -4 0 2-7 2-2 -5-14 4-5 -1 0 -1-6 1 40 6 7 -2 1 0 5 4" fill="none" marker-start="url(#k22)" marker-mid="url(#k22)" marker-end="url(#k22)"/>
<path d="M1362 161l6 20-100 20 89 54-2 3-46 13 72 14-135 0 29 11-31 -1 99 24-61 4-34 4 88 -2 58 -1-126 14 13 0 11 -2 11 5 31 -2 0 -3 1 4 26 2-22 3-9 -1-87 8 56 -1 0 -3 18 0 46 0-1 8-14 0-43 0-81 1-2 6 7 2 63 -1 41 -2 2 0 37 1 137 8-143 -1-39 -4-27 3-36 1-1 1-4 -2-15 -3-12 3-5 0 16 6 7 1 41 0 18 -4 79 0 44 5 67 -4 6 0-48 9-21 -1-48 -1-67 3-47 0-7 4 55 0 44 1 5 -1 6 -3 4 5 5 0 30 -5-39 9-16 -1-28 1-63 -3-11 0-1 0-7 0-1 0-2 5 16 6 55 -2 12 -1 27 0 24 -1 6 1 24 1 8 -1 1 -1 3 1 2 9-42 0-1 -2 0 -3-6 3-5 0-20 2-34 -4-1 -1-5 0-14 5-25 1 34 5 18 -2 7 -1 0 2 11 -2 15 3 15 -1 15 6-4 -4-15 5-9 -1-14 1-7 -1-31 -2-33 -2 68 7 18 1 3 1 24 -1 1 8-16 -3-20 -1-28 3-2 -2 10 7 9 -1 33 4 3 -4 9 2 1 0 3 0 14 0 8 -1-63 9" fill="none" marker-start="url(#k23)" marker-mid="url(#k23)" marker-end="url(#k23)"/>
<path d="M1362 156l-81 141 15 18-18 6 9 8 29 0 29 4 25 14-40 -3-5 -2-85 18 182 16 0 2-155 11 154 -1-31 5-81 -3-62 11 138 -3 46 -2-40 6-135 8 174 -2-25 10-70 -1 30 5 9 0 24 -1-45 14 16 4" fill="none" marker-start="url(#k24)" marker-mid="url(#k24)" marker-end="url(#k24)"/>
<path d="M1368 154l-10 0-4 -3-1 3 0 -2-12 7 1 0 4 -1 1 -2 0 5 1 -3 5 -1 10 3 8 0 6 -1 6 8-7 -5-10 4-8 -1-2 -1-2 -2-4 0-4 3-4 0-1 -3-11 5-1 -5-1 3-1 1-1 -3-2 2-23 7 4 1 3 0 9 -1 11 -4 5 1 7 2 8 -1 6 2 2 0 1 0 9 -4 1 3 16 1 1 -1 11 1 5 6-2 -4-4 1-7 1-4 2-6 0-7 1-10 -1-5 0 0 1-2 -1-5 -1-8 2-4 -1-1 0-2 -1-1 -2-1 3-5 -3-9 3-5 -4-3 2-6 2-3 -3-7 2-1 -1-1 1-3 1-15 6 0 -2 5 -1 3 3 3 -4 3 5 12 0 4 -4 1 2 6 0 2 -2 2 -1 3 5 5 -4 3 1 11 3 7 -5 11 5 0 -3 9 0 1 -1 2 2 1 -1 8 0 5 3 1 -1 1 -2 4 -1 9 1 1 0 0 1 5 -2 0 -1-3 10-17 1-2 -5-4 4-3 -1 0 2-3 -2-1 0-1 2-9 -2-8 -1-2 2-2 -3-5 1-2 3-1 -3-2 -1-7 -1-2 5-3 0-1 0-3 -1-4 -4-7 4-11 -1-5 2-5 -1-1 0-8 -3-6 4 0 -3-6 2-10 4 4 0 2 3 10 -4 3 4 8 -4 0 0 0 1 3 3 5 -3 5 -1 1 3 0 1 6 -1 3 -3 19 -1 7 1 3 3 4 1 5 -5 11 1 1 1 0 -1 10 3 1 -2 3 2 5 0 6 1 4 -3 8 0 13 -2 3 1 1 1-3 6-7 0-3 -2-6 5 0 -1-12 -2-3 -1-5 0 0 1-7 2-1 1-1 -4-10 4 0 -3-3 -1-1 1-15 -2 0 5-4 -3-4 -1-1 -1-1 0-5 1-2 4-3 0-1 -2-3 -2-1 2-3 -2-13 2-1 -3-7 0-1 2-6 -1-7 -1-1 4-5 1-3 -1-4 -1-8 1-2 6 4 0 11 1 7 -5 3 1 1 4 1 -5 5 3 2 -1 0 0 3 1 1 2 4 -3 1 -2 5 0 8 2 1 0 0 -2 2 5 6 -3 0 0 5 2 0 1 12 -1 1 -1 7 -3 2 2 0 0 14 3 3 -1 4 -1 2 2 3 0 3 -1 11 -2 7 3 3 -1 15 -4 8 5 4 -2 2 4-2 3-1 0-18 -1 0 -1-4 2 0 1-9 -5-2 5-9 -1-1 -3-2 3-12 1-2 -3-6 3-2 0-1 -3-3 -2-1 4-5 0-2 -2-4 3-3 0-6 -1-3 -1-10 0 0 2-14 0-8 -2-3 -2-24 4-2 0-1 0-1 -3-3 -2-9 2-6 8 8 -2 1 -1 2 3 1 1 1 0 6 -2 3 2 8 -1 2 0 0 -1 8 -3 2 4 4 -1 1 2 0 -2 4 -3 5 1 5 0 3 4 1 -1 3 0 3 -3 8 0 2 0 7 -1 0 4 1 1 1 -1 0 -2 5 2 2 -1 2 2 19 -2 9 -2 5 2 2 -1 1 3 3 -1 14 -2 9 1 1 0 6 -2 7 -1 8 0 2 2 7 9-8 -1-4 -1-1 2-2 -2-6 -3-1 3-10 1-2 -2-5 -1-2 0-2 2-1 1-6 -3-2 2-2 -3 0 5-1 -3-6 2-7 1-5 -1-1 -1-1 -3-1 2-11 1-5 -1-10 -2-11 2-5 1-15 1-2 1-10 -1-6 0-9 0-1 0-1 0-2 1-15 -5-4 1-1 1-5 3-2 -4-1 3-2 4 9 2 4 1 2 0 0 -3 3 3 4 -1 4 0 4 -3 2 -1 2 3 2 -3 2 4 6 -1 4 -3 17 1 0 0 10 3 4 -1 1 -3 3 0 4 3 5 2 5 0 1 -1 0 -4 5 2 0 0 1 2 0 0 3 -1 0 2 1 -5 10 1 5 -1 9 2 27 3 2 -1 3 -2 4 2 11 -1 1 2 5 -3 8 0 2 1 3 8-8 -1-11 -3-6 0-1 3-5 -4 0 4-2 -3-2 4 0 -3-2 0-9 -1 0 0-1 1-5 3 0 -5-19 0-3 2 0 -1-7 1 0 -2-3 4-4 0-2 -4-1 1-6 0-6 1-5 2-3 1-2 -4-8 3-9 0-10 -4-2 1-4 0-2 0-2 -1-7 2-1 -2-7 4 0 -1 0 1-1 0-7 1-2 -2-1 2-8 -3-10 3-3 5 1 -2 3 -2 1 5 6 -5 2 2 1 0 1 2 5 0 3 -2 2 2 1 -3 3 1 4 -2 1 3 1 -3 18 3 10 0 1 1 6 -2 2 2 13 -1 4 0 6 -2 1 4 1 -1 1 -4 1 3 2 0 11 2 14 -1 2 -3 6 2 1 2 5 -1 4 -3 11 3 22 -3 1 2 7 2 9 -5 9 7-9 2 0 0-1 -3 0 3-5 2-2 -4-1 3-11 -3-10 0-5 2-1 -3-4 5-3 -1-6 -4-2 1-7 4-1 -1-6 0-1 1-6 -5-5 3-11 1 0 -4-3 5-1 -3-2 0-7 2-2 -3-9 3-1 0-9 -2-13 2-7 1-4 -5-5 4-3 1-6 -3-1 0-1 0-1 -2-9 1-1 1 0 3-1 -3-21 2-6 -4 1 9 2 -2 2 3 6 1 0 -1 10 -1 4 -2 2 -1 4 5 0 -4 2 1 6 -1 0 1 8 3 14 -5 5 5 6 -2 1 0 0 -2 16 3 10 -2 4 3 13 -2 19 2 5 -1 5 -1 2 -1 4 1 2 -3 8 3 9 -2 8 2 0 -2 1 0 2 1 8 0 9 -2 22 4 5 6-2 0-1 0-2 -1-2 1-1 -2 0 3-1 -5-7 0-8 5-7 -1-2 -1-2 -3-30 0-7 1 0 3-4 1-4 -5-8 2-2 -1-7 2-2 2-8 -1-11 -2-3 -1-1 0-2 1-1 1-7 0-4 2-9 0-23 -3-11 3-10 -1-3 -4-3 5-5 0-6 0-5 -5-1 2-8 2-3 -1-1 -2 0 9 6 -4 1 5 1 0 3 0 4 -1 8 0 4 -1 8 2 2 -3 5 -1 4 -1 5 3 13 0 2 0 15 2 3 -5 2 0 17 5 0 -4 2 1 3 3 5 -3 4 1 9 1 8 -4 5 3 10 -3 1 2 8 -1 7 4 7 -2 0 -3 4 5 9 -3 0 2 13 0 0 -3 1 0 11 1 3 2 1 -4 1 4 2 -4 2 4 2 1 3 1-12 2-6 2-10 -3-1 1-1 1-9 0-4 0-13 0-2 1-11 -3-2 3-1 1-11 -5-5 5-4 -5 0 0-9 5 0 -5-3 1-5 2-7 -1-3 -2-5 1-3 1-1 1-2 1-3 -3-2 -1-1 0-3 5 0 -1-4 -4-1 5-4 -2-7 -3-3 3-3 -2-8 2-7 -1-10 -1-1 -1-8 0-3 3-6 0-7 1-2 -1-9 7 2 -4 0 1 1 2 1 2 2 -3 1 1 1 1 4 -1 0 1 0 -1 27 -3 1 2 0 -1 2 0 11 1 17 0 2 1 13 -2 4 0 6 2 3 -1 1 1 3 -2 3 4 1 -5 3 3 3 -1 6 -1 2 1 0 0 4 2 2 1 8 0 1 -5 1 0 1 1 1 1 1 -1 12 0 3 3 1 -2 2 -2 1 1 2 -1 1 1 21 4 1 -2 3 1 2 1 13 0 1 -5 6 4 3 -1 8 2 9 4-7 -2-1 -1-34 0-2 0-11 2-8 -1-20 3-2 0-9 -3-2 3-1 -1 0 -3-1 4-2 -4-2 3 0 -2-8 0-2 1-5 -1-4 2-1 1-4 -3-3 -1-5 0-12 3-7 -3-2 0-11 3-1 -1-2 1-1 -1-5 0-2 3-2 -3-1 0-2 3-1 -2-26 0-7 -3-4 3-11 -1 10 5 5 3 32 -2 0 -2 1 0 8 5 6 -4 1 3 7 -3 1 4 17 0 0 -5 3 1 1 3 3 0 0 1 1 -4 4 4 17 -1 1 1 24 -2 3 -1 3 2 2 1 4 -1 3 -4 1 0 5 3 4 -3 11 3 2 2 6 -1 6 -2 10 0 2 0 12 0 1 -1 3 1 10 0-3 6-3 2-11 -2-1 -1-5 0-12 0-8 -1-7 4-4 -3-12 0-1 3-3 0 0 0-4 -3-2 0-3 3-10 1-10 -2-1 -1-14 0-11 -2 0 5-7 -2-3 0-2 -1-15 2-3 -3-4 0-2 2-6 0-1 2-13 -2-2 -2-14 4-25 -3-1 0-3 9 23 -2 0 -3 5 5 6 -5 9 1 19 2 13 -3 0 3 14 -2 1 1 7 -1 7 0 2 -1 22 1 14 3 3 -2 4 2 11 -1 7 -1 2 3 26 -5 3 1 4 2 2 -1 0 -2 3 2 4 0 1 -2 1 0 2 4 0 -1 6 -3-3 6-4 5 0 -4-32 3-21 1-1 0-11 -2-4 -1-10 3-17 -4-4 3-4 -1-7 -1-7 1-4 1-14 -4-4 0-42 3-7 0-6 -1-9 0-1 2-9 -4-2 2 0 0 6 9 6 -3 23 2 23 -1 10 -3 1 2 3 0 1 2 12 -4 19 0 8 1 20 -1 21 2 10 3 28 -2 23 0 7 -3 1 2 1 0 5 -1 2 6-1 -1-3 4-5 -3-47 -1-5 1-12 1-3 -2-19 2-4 -2-9 4-12 -2-4 -2-24 0 0 5-6 -5-2 4-3 -1-23 -1-11 0-8 -2-9 1-6 1-10 -2-4 5 47 4 2 2 3 -5 9 1 22 3 11 0 7 -4 2 0 2 1 2 4 5 -3 9 1 8 -2 2 1 8 2 18 -1 1 -3 1 2 1 3 26 -2 16 -2 3 4 21 -4 5 2-4 6-43 0-19 -3-16 2-14 0-3 2-3 -1-9 2-42 -4-12 -1 0 3-6 0-1 -1-3 -2-28 3-23 1-6 5 51 2 21 -1 3 0 1 -2 18 0 2 1 36 2 5 -2 17 1 6 -3 1 4 1 -2 13 2 1 -2 7 1 4 -2 10 2 22 -4 8 5 24 0 17 0 5 0 0 -1 20 7-12 -3-4 -2-5 1-1 0-2 -1-5 0-1 3-1 -2-1 -1-5 3-19 1-3 1-4 0 0 -1-5 0 0 0-45 0-12 1 0 0-10 0-4 -2-4 -2-3 4-10 -3-23 2-5 -2-52 0-3 2-12 -2-14 -1-6 2-13 1-2 -1-2 1-5 2 6 3 2 -2 12 3 4 0 6 1 3 -5 20 0 7 0 44 2 20 3 17 -3 7 0 6 3 1 -5 1 2 30 1 13 0 0 0 11 -1 2 1 3 -1 7 0 1 -2 74 3 1 -1 9 2 2 3-1 0-4 2 0 -1-102 0-12 3-5 -2-6 -1-7 3-6 -4-3 -1-6 3-41 2-7 -4-14 -1-15 0-32 4-25 -1-16 0-12 5 5 0 1 1 19 1 39 0 12 -2 5 3 27 -2 2 1 2 -1 0 0 8 1 7 0 25 -3 2 -1 4 2 1 0 15 2 0 1 6 -1 3 -1 6 1 13 -3 13 0 81 3 1 -1 3 2 3 -3 0 0 2 -2-5 9-3 -2-6 1-14 2-66 -3 0 0-20 2-13 -1-8 -1-1 2-1 0-33 -1-11 -1-13 1-17 0-2 -2-7 5-20 -1-12 -4-4 3-35 0-14 4 59 0 23 2 22 -1 23 3 13 -2 1 0 3 -3 11 0 101 4 11 -2 3 1 5 -2 1 -1 0 3-26 5-4 0-8 0-10 2-10 1-54 -2-3 2-18 -5-15 3-19 0-2 -3-15 2-34 2-7 -2-8 3-15 -2-28 0 6 5 54 0 1 1 7 -2 7 0 19 0 4 3 12 -2 14 -2 29 1 43 3 5 1 3 -2 7 -3 5 0 6 0 5 0-51 10-20 0-4 -3-2 2-1 -3-33 3-2 -2-28 -1-33 1-19 2-21 0-6 -3 8 7 10 2 17 2 5 -4 12 3 1 1 1 -2 27 1 45 1 3 -2 1 2 24 -1 3 -3 23 4 2 -3 11 8-7 -1-2 0-14 -2-6 4-15 0-10 -2-10 2-35 0-4 -3-4 -2-35 4-8 -1-6 0-21 -1-4 -1 20 8 42 2 47 -5 12 4 12 0 6 -4 3 5 33 0-12 1-42 1-3 3-9 -3-8 4-6 -5-20 4-4 -1-13 -1-29 -1 154 8-9 5-1 3-28 -3-36 2 0 -3-33 10 24 -2 27 -1 6 0 24 2 4 -1 7 -3-8 7-59 0-9 2 8 3 6 2 8 -1 32 -1" fill="none" marker-start="url(#k19)" marker-mid="url(#k19)" marker-end="url(#k19)"/>
<path d="M1363 158l-43 7 43 9-62 3-33 8 96 -4 6 4 1 -2 12 1 2 6-11 1-12 -2-41 -2-9 -1-3 2-16 1-3 -3-10 4-4 -2 25 7 33 2 4 -4 44 2 9 0 20 0-26 4-70 2-20 -1-22 3 59 3 59 3-53 5-32 -1-17 -1-9 -2-18 4-7 -4-8 3 60 4 17 2 1 -1 66 0 18 0 10 6-89 -2-18 2-55 8 42 -2 96 4-11 0-82 1-27 0-14 3-1 -2-19 4 35 5 66 -1 40 -3 50 1-36 6-19 1-6 -2-14 3-65 -4-48 0-3 4-3 7 17 -1 15 -4 100 4 11 -4 74 8-39 -1-4 1-36 -1-17 3-18 0-1 -3-46 4-18 -1-4 -2-33 0 123 7 22 0 29 -3 32 0 13 0-95 9-43 -3-17 3-13 1-8 1-35 -3-15 3 54 6 25 -4 34 4 15 0 39 -3 23 5-73 4-17 0-73 1 8 1 24 3 32 -4 11 4 44 -4 31 2 12 5-16 4-41 -3-36 -1-30 3-8 -4 1 8 113 -1 2 -1 44 4-35 3-6 -1-17 5-50 -3-6 -1-88 0 37 8 54 0 125 8-2 -4-107 4-83 -1-11 0 8 3 118 7-10 -2-55 2-61 1 26 6 6 -3 79 3 14 0 2 0 9 0 11 2 97 4-22 -3-20 3-33 2-60 -5-4 0-83 0-48 5-2 2 9 3 91 -1 19 2 34 -2 13 1 22 1 12 0 4 -3 9 0 0 -2 9 1 7 -1 78 11-6 -5-102 4-28 -4-122 5-31 -2-12 -1-5 6 58 1 54 0 18 -2 58 1 95 3 0 0 7 3-211 -2-29 4-4 -4-1 2-9 0-11 -2-7 1-2 0 25 6 25 -1 16 5 87 -4 99 -1-27 6-2 3-11 0-90 2-4 0-39 -5-2 3-45 -3-1 0-50 5-3 0 49 5 99 0 66 -3-17 5-30 3-31 -3-46 5-52 -4-28 4 21 5 32 0 32 -4 39 5 55 3-61 -2-23 5-82 -2 27 6 49 2 52 -5 12 5 4 -5 10 0 15 3 14 2-41 3-13 3-18 -1-11 -2-3 0-3 0-8 5 23 0 10 2 7 1-12 3-7 2-35 0-9 3 24 4 66 -1 10 2-58 7 6 1 43 -1" fill="none" marker-start="url(#k20)" marker-mid="url(#k20)" marker-end="url(#k20)"/>
<path d="M1361 155l15 1-26 11 42 5-39 2-83 11 19 -2 66 -2 37 0 16 10-9 -1-58 -2-30 0-45 9 33 -3 32 2 31 -1 36 3-8 5-32 -3-1 -1-53 0-28 2-11 3 1 0 1 0 9 2 26 2 17 -2 49 9-37 -3-38 8 24 -3 78 2 26 2 8 5-11 -2-11 -1-17 3 0 1-99 -4-11 -1-14 1 0 -1-7 2-1 -1 50 8 24 2 30 -3 59 3 3 6-70 -3-54 -1-18 -1-19 1-13 1-9 0 109 8 19 -4 5 4 66 0 7 6-74 1-28 -3-19 1-3 -3-54 0-3 1-11 -1 14 10 73 -4 21 5 7 -4 6 3 37 0 6 -4 6 4 29 2-16 3-39 -1-123 -2-26 4-5 -1 7 3 3 3 26 -1 17 -2 31 4 5 -1 6 2 98 -2-59 8-65 -1-32 -1-6 -3-9 1-21 2-2 3 5 5 2 -1 13 -2 12 0 39 -1 46 2 41 -1 41 7-19 0-5 0-28 -3-2 0-36 4-26 -1-19 0-10 2-6 -5-5 5 0 -1-29 -4-7 1 0 8 18 2 8 -4 1 3 15 -2 59 1 7 -3 98 6-3 2-93 2-49 -1-14 -2-15 0 0 2-10 2-4 -4-24 0 42 6 12 0 14 0 33 4 43 -5 7 3 21 0 44 0-14 4-28 1-7 2-22 -3-16 3-8 -1-56 -1-27 -1-7 4-28 -4-6 10 12 -5 12 2 29 2 12 -3 32 0 59 4 3 -5 2 5 6 1-4 2-7 0-9 -2-1 0-24 5-3 -1-36 -2-8 -2-25 0-12 4-13 -4-23 2-7 7 8 0 6 1 67 -3 17 0 19 1 16 -2 33 4 59 0-54 3-32 3-9 -4-3 3-4 1-19 -4-22 1-6 2-18 0-22 1-10 1-26 3 25 2 29 -4 3 5 32 -5 27 4 13 -4 13 0 4 0 9 3 1 2 8 -2 11 0 1 -1 44 -1 31 1 8 3 13 0 15 3-8 2-31 0-9 -1-21 2-7 -2-25 1-4 -3-22 2-38 -2-14 0-4 -1-56 4-1 -2-5 3-14 -2-29 1-5 7 4 -2 18 0 4 2 10 -5 18 5 87 -3 17 2 28 0 22 -4 1 4 93 -1 1 2 2 0-1 6-94 -3-3 -1 0 0-1 3-8 1-5 -5-127 1-23 4-5 0-22 0-13 -1-9 -4 48 9 12 -3 0 0 8 2 6 -2 55 3 10 -1 19 2 34 -2 24 3 92 -3 2 0-14 4-6 2-1 3-78 -5-60 4-20 -1-12 2-23 0-19 0-47 -3 0 -2-6 3-16 -3 4 7 21 4 1 -1 0 0 7 -1 6 -3 22 4 1 -4 25 1 16 3 4 -3 82 1 67 2 12 -3 0 0-53 10-37 -3-4 3-42 -4-14 0-14 4-3 -1-13 -3-1 4-8 -3-41 -1-1 3-30 1-5 -5 5 8 25 1 3 0 3 -2 0 0 2 4 0 0 19 -2 16 1 16 -3 0 2 4 2 7 -4 8 0 26 3 58 0 1 -2 30 -2-31 10-1 -2-8 0-26 0-15 3-4 -5-19 4-5 -4-1 5-2 -1-5 -3-17 0-5 4-9 -4-1 3-13 -3-10 0-5 1-4 1-13 1-1 -2-3 -2 0 1-21 0-4 0-6 6 11 2 16 1 1 -3 6 2 7 1 9 -1 34 -1 8 1 4 -3 3 1 4 -1 8 2 28 3 12 -4 26 -1 20 8-18 0 0 2-11 0-25 -3-3 0-30 3-11 -2-12 2-15 -1-5 -3-15 4-25 -1 0 -1 21 6 0 -2 5 4 23 -1 9 -3 0 4 21 -3 5 3 65 -2 12 3 5 -4 8 5-12 1-4 0-10 2-13 2-27 -5-24 2-27 -2-1 2-17 0-15 1 44 3 12 2 16 -2 34 0 1 0 25 0 10 0 1 3 5 4-4 2-4 1-14 -1-38 0-1 0-22 1-4 -4-3 0-8 3-1 2-7 -4 32 9 1 -1 15 -3 11 5 17 -5 1 4 4 0 4 1 14 -3 0 3 2 -3-11 6-9 1-4 0-1 2-18 0-6 -5-14 5 0 -1-7 -4-14 0 14 7 7 2 8 -3 27 4 7 -2" fill="none" marker-start="url(#k21)" marker-mid="url(#k21)" marker-end="url(#k21)"/>
<path d="M1363 154l-10 -2-2 -1-16 7 4 -1 1 0 7 4 7 -4 2 -1-32 15 26 2 11 -2 32 -1-92 11 2 9-16 -2-11 8 18 5-6 1 43 3 46 8-82 3 87 11-21 -2-95 3 123 3 9 7-153 3 98 -1 14 7-82 2-14 -2-19 9 10 1 10 -5 66 5 42 -1 74 1-77 4-71 -3-1 3-13 -2-1 3-6 -4-19 4-4 -2-4 0 11 5 23 3 15 1 2 -1 78 1 77 -3-90 5-49 3-3 0-29 -2-44 3-5 0 16 5 9 -1 19 0 19 2 4 -5 60 3 32 -3 12 2 2 3-4 2-5 -1-118 3-17 2-7 -2 10 8 26 -4 48 -1 3 3 59 -1-126 5-10 0-4 2-13 -2-13 1 4 6 60 0 33 2 44 -2 37 -1-2 6-4 0-70 3-98 -3 65 10 38 -2 40 -2 35 10-77 0-45 -3-10 -2-20 1-4 4-5 1 3 4 0 -4 16 3 33 0 1 -1 8 1 11 -1 23 3 48 -5 4 1 19 4-7 4-60 2-23 -3-22 -2-10 5-2 -2-23 1-14 -4-16 2 16 9 128 -5 83 5 18 0 33 5-5 0-3 -2-32 1-34 2-33 -4-6 2-10 0-22 0-32 0-58 -3-19 4-8 -1-15 -1-15 -1-7 10 6 0 10 0 11 -5 21 2 18 -2 31 1 32 4 6 0 33 -4 44 -1 11 1 79 3 5 -1-95 7-24 0-52 -1-2 2-39 -4-2 0-10 2-9 -1-7 3-13 -3-8 -1-17 4-2 -1 0 -1-22 6 8 1 1 1 5 -3 19 2 13 0 10 -2 0 -1 10 -1 24 1 1 -1 16 1 3 3 9 -4 72 3 105 -2 5 3-18 6-2 0-3 0-9 1-80 -4-4 4-28 0-16 -5-41 1-3 0-27 0-8 3-1 1-1 0-3 -3-8 1-5 0-2 -3-9 1-3 1-7 -1-6 4-21 4 13 1 15 0 6 -1 9 -3 37 1 8 -1 77 5 1 -3 15 0 64 2 18 4-6 -1-24 1-2 3-34 -3-32 -1-10 4-2 -1-18 1-5 -4-2 4-17 -2-10 1-12 -4-14 2-1 0-1 3-11 -2-7 -1-10 -2-14 0-5 4-12 3 13 3 3 -3 1 1 12 -2 2 3 7 -3 1 3 3 1 2 1 1 0 2 -4 3 0 18 4 3 -2 2 -3 5 2 12 0 5 -2 37 4 18 -1 6 -3 6 2 7 -2 2 4 3 0 1 -3 5 7-20 -1-17 0-9 4-1 -3-2 -1-12 4-14 -5-7 5-7 -2-3 0-9 -1-11 -1-11 0-19 4 0 -3-18 0-18 3-12 0 9 3 12 1 10 2 5 0 26 -5 11 4 11 -3 6 -1 1 0 2 1 3 0 0 0 0 4 3 -4 15 2 4 2 9 -3 8 1 9 0 4 2 9 -5 0 0 7 1 2 0 13 3 8 -3 9 4 4 1-1 4-13 -1-19 -2-51 4-15 -2-3 0-8 -2-3 4-3 0-13 -1-10 1-4 -5-5 1-4 4-9 -4-20 -1-1 6 79 0 5 2 0 -1 21 -1 10 0 12 5 8 -3 2 3 6 0 2 -5 3 4 34 -1 0 -3 4 5-23 1-5 5-1 -2 0 -1-6 0-2 0-2 0-5 3-11 -4-5 1-15 3-9 -1-7 -4-10 5-18 -1-20 -1 26 4 2 3 1 -2 15 1 8 -1 1 2 3 -4 5 3 4 0 14 2 3 -2 0 -3 4 3 15 0 3 -3 5 0 8 1 0 1 13 6-6 -2-9 3-7 -2-4 1-16 3-1 -5-1 0-3 0-3 1-4 3-2 1-1 -2-12 -3-8 3 0 -1-2 2-21 -4-5 8 1 -2 0 5 16 -2 11 2 1 -2 6 -1 2 1 29 -3 2 3 3 -1 2 -1 20 1 1 8-13 -2 0 3-1 -4-1 2-1 0-3 -2-2 4-16 -2-13 -2-1 4-2 -3-1 2-1 -2-5 -2-2 1-1 -1-4 2 54 7 10 -3" fill="none" marker-start="url(#k22)" marker-mid="url(#k22)" marker-end="url(#k22)"/>
<path d="M1330 159l42 -3 0 33-52 19 38 7-55 12-37 4 37 17-22 15-11 -4-24 12 46 10 10 -1 5 1-67 9 71 14-71 12 9 -2 34 0-1 5-17 4-22 -4 23 5 64 9-38 2-13 -5-7 3-38 1-1 1 22 5 34 -3 9 2 11 -3 28 3 73 6-47 -2-18 3-15 -2-63 1-17 -3-14 4 46 4 57 0 191 1-101 8-62 0-10 -5-72 4-63 0 11 2 52 4 99 -2 3 9-43 -1-48 -3-10 1-34 2-4 6 29 -1 6 -2 133 -1 60 4 6 2-98 3-103 2 0 -3-4 -1-15 4-23 -1-3 -4 35 6 5 2 3 -2 62 4 35 0 2 -4 20 3 4 1 3 -1 17 8-23 -4-2 0-9 -1-30 3-10 0-11 -3-2 3-40 0-63 -2 23 9 30 -1 12 2 5 -2 55 2 4 -3 22 -2 35 0 1 1 8 1 1 3 5 -3 2 0-20 8-34 1-25 -4-36 1-15 3-36 -1 1 7 22 -2 6 2 0 -2 4 0 29 -1 21 3 2 -5 4 3 16 -3 25 3 3 2 3 -2 12 1 11 0 4 7-88 -3-9 0-43 1 49 7 6 0 11 0 32 -4 10 1 5 1 4 -2-23 11-25 -2-3 -2-28 -1-4 0-1 8 19 -2 7 0 4 5 1 -1 27 -1 26 6-4 -3-45 3-25 -3 17 7 16 2" fill="none" marker-start="url(#k23)" marker-mid="url(#k23)" marker-end="url(#k23)"/>
<path d="M1313 334l8 5 12 0 20 -1-9 4-11 3 0 1-19 -1-6 -1 20 16 40 1-53 9-40 0 69 7-42 16-47 5 50 0 40 -2 75 8-20 -2-58 23" fill="none" marker-start="url(#k24)" marker-mid="url(#k24)" marker-end="url(#k24)"/>
<path d="M1350 421l61 7" fill="none" marker-start="url(#k25)" marker-mid="url(#k25)" marker-end="url(#k25)"/>
</g>
<ellipse cx="1326.4" cy="343.3" rx="23.3" ry="12.8" transform="rotate(27 1326.4 343.3)" fill="none" stroke="#231f20" stroke-width="4.3" stroke-dasharray="0.01 8.96" stroke-linecap="square"/>
<g filter="url(#fillc)">
<path d="M1717 152l-9 9 5 -3 5 3 3 -2 3 2 6 -3 15 -1-6 8-11 -1-30 -1-28 10 27 -5 2 1 3 3 0 -4 4 2 2 3 5 -4 6 -1 4 2 2 -2 3 5 1 0 3 -3 7 -2 4 5 1 -5 3 5 1 0 1 -5 2 4 12 2-18 5-22 -4-10 3-10 0-1 0-3 -4-8 3 0 2-2 -3 0 -2-2 1-1 -1-4 3-4 -2-6 4-4 -4-2 3-20 5 11 -1 4 -1 20 0 17 1 28 0 7 -1 9 4 17 -5 2 1 4 1 3 6-28 -1-4 3-19 -2-16 -2-1 1-6 -1-22 3-4 -2-4 0 0 1-4 -2-1 4-1 -4-10 1-1 4-2 -1-9 1-1 -3-4 7 3 1 2 -2 1 -1 6 3 11 -4 9 1 2 4 2 -4 23 0 2 0 3 0 4 -1 15 4 8 -2 6 2 1 1 8 -2 8 -3 1 4 3 0 23 0 10 4-14 0-1 3-2 -2-13 2-12 -5-2 3 0 2-19 -5-19 4 0 0-8 -1-3 -2-8 1-6 1-2 1-1 1-1 0-11 -4-5 3-1 -4-13 1-13 2-9 4 24 3 11 0 5 -3 2 4 7 -3 10 2 4 -3 0 2 5 2 2 -2 2 1 8 -4 2 0 0 1 6 -1 1 0 22 2 12 2 0 1 5 -5 14 2 4 -2 2 2 10 0 8 0 8 3-5 1-4 5-2 0-12 -3-1 2-2 -2 0 3-1 -5-10 0-3 5-9 -1 0 -3-3 0-3 0-2 3-6 0-7 -4 0 0-6 0-20 2-2 -2-8 2-5 0-1 2-12 -3-6 0-11 0-1 3-6 -4-20 1-2 3 0 -1-4 -3-5 3 0 6 0 -1 7 2 1 -3 2 1 11 1 3 1 40 0 0 -1 3 -1 1 -1 0 1 7 3 1 0 7 -2 8 -3 3 0 15 4 1 1 2 -1 3 -3 11 3 4 1 0 -3 1 0 3 1 1 -2 3 -1 11 5 45 5-5 -2-4 1-6 1-6 -2-8 2-5 -2-17 1-4 1-6 0-1 -1-5 -2-2 2-1 -3-8 1 0 2-6 -1-1 -2-5 1-4 -1-4 0-7 5-9 -4-1 4-3 -2-6 -2-15 2-1 -2-1 1-4 0-21 1-13 1-4 -3-5 8 22 0 1 -2 9 0 14 3 3 -4 10 2 13 3 3 -1 7 0 2 -1 6 2 3 -3 4 -1 3 -1 10 2 2 3 0 -3 5 2 7 -3 13 1 6 2 19 -3 2 0 6 2 3 1 1 -3 3 2 13 8-4 -2-2 -2-2 -1-19 5 0 -1-1 -2-5 -1-3 4-4 -5-19 0-12 1-5 3-22 -2-5 1 0 1-1 -2-1 1-3 -3-4 4-21 -4-3 0-1 2-12 0-14 0-14 1-10 0-3 -3-1 2 0 1-2 8 5 -2 4 -2 23 -1 1 3 6 -3 24 5 2 -4 8 3 14 -2 0 -2 3 5 8 -1 3 1 6 -2 5 -1 9 0 3 2 6 -4 2 4 0 1 2 -2 1 -3 8 3 1 -3 2 5 1 -4 11 2 10 0 6 -2 3 3 2 -1 7 -3 11 8-8 2-5 0-3 -4-1 3-1 -3-4 0-10 2 0 0-5 -1-2 4-1 -2-8 2-10 -1 0 -2-1 -1-4 3-3 0-2 0-3 -1 0 0-4 2 0 0-2 0-5 0-6 -4-7 -1-7 5-4 -1-4 0-11 1-11 -5-8 3-5 -1-1 2-30 -3-13 -1-1 1-7 -1-1 8 32 2 1 -1 9 0 9 0 11 2 11 -3 12 1 0 1 4 -2 6 -2 9 2 7 -2 1 1 18 -1 7 4 2 0 14 0 6 -2 1 0 4 2 1 -2 3 -2 3 3 18 2 19 4-2 -2-2 -1-5 4 0 -2-6 3-17 -3-7 3-6 -1 0 -2-11 -1-8 4-4 0-12 -2-4 0-1 1-3 -2-5 -1-12 4-4 -1-4 -3 0 2-2 -2-9 -1-2 5-1 -2-2 -3-6 0-1 3-5 2-4 -1-7 0-1 -4-17 5-9 -5-8 4-1 -4-5 1-27 9 0 0 2 -3 12 1 5 -2 17 2 18 1 4 2 21 0 2 -1 2 -2 3 2 5 0 31 -2 12 3 9 -2 0 -1 1 -2 6 2 8 3 16 -4 2 4 8 0 4 -4 8 3 4 -3 1 1 1 -2 3 0 5 0 4 0 10 6-3 3-5 0-5 -3-9 0-8 4-11 -2 0 3-2 -2-8 0-10 0-14 -3-3 0-15 2-13 0-3 -1-5 1-25 0-23 1-13 -2-5 0-6 3-7 1-9 -5-21 11 7 -2 8 -1 11 -1 20 3 15 -2 6 0 2 2 22 0 8 0 10 -2 1 0 1 3 1 -4 2 1 58 -2 18 2 3 3 5 -5 3 2 1 0 3 -2 6 2 1 2 0 -3 4 3 9 7-13 -2-5 1-2 -1-10 0 0 -3-17 2-9 0-6 0-2 -2-6 2-1 3-10 -4-1 2-13 -2-32 1-18 -1-3 3-19 0-6 0-8 -2-3 1-7 -1-4 -1-24 1-3 1 0 5 7 3 3 -2 18 0 3 -2 19 1 6 -2 4 0 5 1 30 0 36 4 7 0 2 -5 7 0 42 2 4 0 7 0 1 0 2 -2 8 5 2 0-3 2-6 0-1 1-1 -1-3 2-4 -1-4 1-13 -2-13 0-20 -1-9 0-9 0-50 3-6 -2-1 3-5 -3-7 -1-5 4-41 -2-15 -1 2 8 10 2 5 -5 2 0 3 5 18 -2 3 -3 6 3 29 2 6 -3 11 -2 7 0 2 0 8 3 6 0 6 -3 5 1 13 -1 2 5 3 0 4 -4 20 -1 3 3 1 1 6 -4 1 1 5 0 7 1 1 0 4 2 2 0 23 1-4 5-14 -1-1 -1-15 0-8 1-20 -1-22 3-16 -1-5 1-10 -1-1 -4 0 5-7 -3-5 -1-2 0-6 2 0 0-21 -1-8 0-3 -1-12 1-6 -1-5 -1-4 2-16 2-7 -3-6 4-2 2 26 4 19 -5 8 2 15 -2 6 0 15 0 6 2 19 -2 2 5 6 -3 2 2 12 -1 11 1 4 -1 16 2 8 -4 0 0 37 3 6 1-2 3-20 -2-27 1-15 4-2 -1-32 0-2 -3-55 2-2 -1-11 -1-51 4 66 5 7 -1 72 -1 4 3 4 0 6 -3 15 1 13 1 3 -4 0 2 10 -1 10 -1 3 1-55 9-8 0-3 -2-4 3-35 -2-2 -3-13 4-37 -4 0 3-1 0-11 2-6 -1-15 -2-3 -2-20 7 2 0 13 1 8 3 3 -1 32 0 9 -3 10 0 28 4 17 -3 7 -1 5 -1 1 1 12 4 5 0 5 -4 15 1 106 1 0 1 18 6-3 0-1 1-8 -3-1 -1-4 0-1 2-1 1-65 -2-14 2 0 0-1 -4-2 2-20 -2-12 1-14 3-3 1-9 -2-52 1-36 0-33 0-12 2 11 2 3 0 6 -2 3 4 6 -3 3 2 2 0 12 2 22 -5 6 5 15 -4 36 3 9 0 12 1 23 -5 2 4 13 0 0 -4 4 2 90 0 13 0 1 1 3 0 2 -1 3 2 5 1 2 0-1 2-1 2-1 -2 0 4-1 -4-47 1-55 -2-6 0-6 3-5 -1-6 -2 0 5-5 -4-9 3-23 0-2 1-17 -4-16 4-4 0-12 -4-48 3-28 1-20 -2 49 6 41 -3 13 0 39 0 10 4 4 0 2 -4 4 3 1 0 1 -3 9 2 15 -2 0 4 7 -3 3 -1 5 3 53 0 34 1 3 1 8 -1 1 1 4 -3 2 -2 2 0-35 11-78 -1-12 -2-27 -1-8 1-4 2-6 -4-4 0-45 3-45 1-1 0-29 0-8 4 8 -1 9 -1 13 0 10 3 52 -1 29 -1 40 -1 4 0 33 0 2 4 34 0 24 -4 0 2 9 -2-35 6-1 1-5 -1-3 3-13 1-81 1-9 -1-33 1-49 -1-43 -2 50 4 15 2 55 2 9 1 14 -4 17 0 0 2 3 2 9 -1 27 -2-7 6-2 -1-5 1-3 -1-8 4-4 -2-20 -1-84 1-40 6 3 -1 37 -1 2 4 30 -3 34 3 10 -5 8 2 24 -1 15 2 8 1-4 5-19 -1-61 3-14 -5-1 4-25 -3-21 2-9 -3-10 5 7 4 42 2 8 -1 2 -4 10 3 27 -2 25 -1 6 3 36 -3 1 2 1 0-9 8-29 1-13 -2-5 -1-4 3-38 -5-5 4-7 -3-17 1 29 4 33 2 18 2 5 0 7 0 14 -2 5 1 2 1 10 7-55 0 0 -4-12 3-20 -3-2 4-16 -3 4 6 8 1 22 1 43 -3 13 0 5 2-28 6-26 -3-5 4-10 -1" fill="none" marker-start="url(#k19)" marker-mid="url(#k19)" marker-end="url(#k19)"/>
<path d="M1704 159l41 5-20 1-5 1-1 1 2 2 33 1-2 6-53 -1-7 4-49 -1 21 4 16 1 47 1 3 4-7 -1-9 2-42 1-34 -1 7 7 23 -4 53 3 14 1 1 -4 20 3-21 5-9 -2-101 11 4 -3 20 3 4 -4 7 2 1 -3 12 2 9 -2 13 5 8 0 84 2-18 1-30 1-10 -3-27 0-5 1-17 3-35 -4-17 6 33 0 19 5 4 -2 33 -3 33 0 10 4 15 -3 1 10-28 -2-7 0-39 1-34 -2-6 -1-16 0-8 2-31 4 32 0 9 0 75 -1 84 5-33 4 0 -2-5 0-70 3-86 -2 18 6 32 -1 31 2 48 -3 5 5 12 -1 12 -1 21 -2 18 7-49 -2-75 1-33 3-35 0-3 5 26 2 74 -1 27 -1 19 -1 3 1 22 -2 7 10-4 -2-23 -3-26 2-13 3-55 -5-12 1-3 -1-4 5-24 -4 5 10 69 -4 15 -1 2 4 9 -4 17 3 23 -2 52 5-69 4-3 -2-44 -2-43 5-45 6 48 0 16 -2 25 -2 40 2 22 -2 44 0 8 2 5 1-36 7-119 -2-5 -2-8 0-23 5 28 5 90 -2 45 0 3 0 12 6-45 1-11 0-31 -1-52 -1-13 3-41 3 23 3 21 -3 46 1 5 2 17 0 47 0 5 -2 8 -1 14 0-10 8-20 -3-1 3-6 0-112 -1-8 0-27 7 10 0 2 -1 2 -3 14 4 4 -4 141 1-5 6-46 3-15 1-10 0-36 -1-30 7 17 -3 23 2 44 -4 6 1 41 4-11 5-22 -3-100 4-22 -2-8 1 104 6 5 1 61 -3 1 2 0 4-50 0-13 1-103 0-14 -3 71 8 27 2 58 -2 134 -2-1 9-179 1-90 -1-26 8 14 -1 34 -4 26 5 6 -2 21 -3 50 0 5 4 0 -3 9 0 17 -1 18 1 88 3-172 5-4 -2-28 4-27 -3-3 -1-5 9 26 1 19 -2 57 -2 38 7-21 -2-43 1-16 1-25 -2-10 1-16 1-42 8 33 -3 20 4 22 -1 13 -1 31 2 27 -4 27 4 1 0-26 4-52 -2-50 1-19 -2 83 6 19 4 36 7-32 -4-3 -1-31 2-34 1-6 -2-29 3 89 3 44 -1-53 6 16 11 1 0 4 -3 39 4-45 5-7 -5-11 3-19 -3-11 2-8 -2-2 2 19 5 13 1" fill="none" marker-start="url(#k20)" marker-mid="url(#k20)" marker-end="url(#k20)"/>
<path d="M1709 158l13 -1 14 2 3 -1 8 9-1 0-9 -1-19 -3-17 -1-1 2-2 9 8 -5 2 4 6 1 13 -4 20 1 7 1 3 2 8 3-1 0-20 1-1 0-38 -3-14 2-25 -1-1 0-13 2-3 0 19 5 10 0 4 -2 1 5 12 0 5 -3 2 3 9 -1 4 -3 1 0 32 3 13 1-17 1-5 5-1 -1-42 0 0 0-11 0-1 -2-5 0-1 0-1 1-15 0-33 8 73 0 5 -1 2 -1 1 1 15 -4 0 0 0 1 16 4 2 -5 17 1-25 7-2 2-26 -3-9 2-7 0-4 0-5 1-13 -1-7 -3-1 4-6 -3-2 3-6 -4-24 0-3 5 1 1 1 4 15 0 1 -3 18 2 2 2 6 -3 9 2 2 -1 22 1 14 -4 21 2 3 1 5 -3 20 5 2 -3 9 1 1 -1 7 -1 2 9-16 -4-21 5-12 -5-8 1-2 -1-3 5-8 -1-46 -1-2 1-15 -2-1 1-17 2-12 2 3 4 0 -2 24 -2 10 -1 21 0 3 4 20 -3 20 2 16 -2 14 4 39 -2-17 7-18 -3-39 3-6 -2-19 0-8 2-11 -2-10 3 0 -2-3 -1-11 0-3 2-28 0 0 -2-7 3 0 1 0 4 19 -2 10 -1 5 0 58 0 4 2 18 -1 54 -2 9 0-26 11-6 -3-10 1-28 0-16 -2-12 4-1 -3-19 3-54 -2-8 8 27 -5 5 4 7 1 24 -4 40 -1 39 1 33 4 10 -2-2 8-12 -5-20 2-3 1-19 -1-51 0-14 1-12 2-9 -2 0 -3-27 3-12 8 59 0 20 -4 7 -1 3 5 39 -3 19 3 29 -3 17 0 5 1 13 6-21 0-13 -2-14 -1-9 2-3 0-2 0-14 2-2 -3-9 3-16 -1-23 -3-24 3-41 2-21 0-8 6 38 -3 5 0 23 -1 5 4 1 -1 33 -1 15 -3 1 5 4 0 22 -3 14 3 24 0 42 -2-23 6-3 0-5 1-29 -2-1 0 0 0-16 -1-18 -1-30 4-55 -2-12 -2-11 5-3 -1-1 0-16 2 53 5 2 -5 6 3 13 -1 7 3 4 -2 37 -1 11 3 24 -5 6 3 11 1 8 -3 3 1 0 2 18 -3 18 0-6 8-18 0-29 -1-10 2-3 0-34 -4-23 3-48 1-26 -4-3 2-16 -2 8 9 2 -1 9 1 9 -1 1 3 16 0 23 -5 24 4 78 -2 15 1 4 0 22 0-7 3-19 1-36 3-1 -3-41 1-14 1-3 0-20 1-7 1-14 -5-5 5-6 -5-1 0-1 0-17 0 0 2-18 6 0 -1 2 3 8 0 34 -1 6 -1 30 2 45 0 15 -2 73 2-32 4-10 0-67 -2-29 0-35 3-16 -1-22 1 9 6 10 -2 32 4 6 -4 5 0 19 1 97 3 31 -1-61 3-67 4-30 -5-18 4-3 0-3 -2-2 0-18 -2-5 1 18 5 7 1 4 1 5 0 54 -1 16 -1 10 4 29 -1 42 5-4 -2-42 1-16 -1-27 5-63 -2-9 -1-23 0-5 0-7 2 33 2 4 5 10 -5 7 4 6 -1 77 -2 19 1 18 3 2 -3 10 0 4 0 107 2-6 6-17 -4-78 4-4 -2-19 0-18 1-1 1-10 0-10 1-3 -5-60 2-2 -2-28 1-1 3-8 -2-11 1-7 0-14 2-2 6 67 -2 55 2 8 -1 48 0 8 0 9 -4 2 4 0 0 107 -2 2 5-116 4-35 -1-19 0-62 -3-26 2-41 5 6 -2 2 2 5 2 15 -4 1 3 2 1 3 -3 3 3 24 0 9 -4 34 1 39 3 80 -1 61 2 1 -2 5 1 8 -2-4 4-5 0-7 1 0 -1-99 3-15 1-61 -2-38 1-1 2-16 -3-17 1-1 -3-11 3-9 0-1 2-4 -3-3 -2-5 1-6 5 4 4 8 -3 5 -1 5 2 3 -1 15 3 3 -1 32 2 2 -4 3 4 8 -3 28 2 4 0 6 0 14 -4 52 2 4 3 68 -5-66 9-3 0-13 -2-52 0-34 1-9 0-16 1-15 -1-1 0-39 1-8 7 1 -2 39 -1 0 1 5 -2 20 5 12 -3 8 2 22 1 4 -3 47 2 1 0 29 -1 4 -2 4 5-28 0-5 3-13 0-7 -1-2 0-6 -1-45 3-5 -4-6 2-5 -2-5 1-13 0-5 2-7 -3-23 2-4 0-19 9 10 -2 14 -3 1 2 2 -1 7 -1 2 5 4 -4 1 -1 16 3 13 0 17 -3 0 1 21 1 26 -2 2 1 26 0 20 1 3 1 8 8-6 -5-13 4-1 1-79 -2-2 -1-14 1-22 0-9 0-10 8 4 0 52 -5 7 5 31 -1 18 1 4 -1 19 0 9 -2-5 7-1 0-3 2-7 -3-2 -1-3 4-71 -4-8 -1-1 3-9 -2 26 8 0 2 1 -3 1 3 17 -2 28 0 6 -1 19 0 15 4-4 1-10 3-3 -1-3 0 0 2-25 -3-16 2-4 -1-9 0-19 0 1 7 11 -1 5 2 4 -4 14 -1 38 1 14 2-35 5-14 -1" fill="none" marker-start="url(#k21)" marker-mid="url(#k21)" marker-end="url(#k21)"/>
<path d="M1730 158l18 2-33 3-8 8 30 8-34 -4-3 3-2 1-17 -4-16 1-3 0-9 1 6 3 14 5 7 -1 14 -3 16 0 34 0 22 0-44 5-12 2-6 -1-16 -1-44 5-7 -4-13 6 4 4 8 -5 30 0 2 1 31 4 19 -1 27 -2 22 3 5 2-56 1-11 2-1 -2-18 3-4 -4-1 2-25 -2-28 4-4 -1 15 2 8 3 2 -1 17 0 43 -1 2 2 46 1 14 -4 16 7-30 0-22 2-47 0-35 0-27 -2-1 0-5 10 7 -1 4 1 9 -5 12 4 19 0 10 1 10 -1 20 -2 7 -1 55 7-30 1-45 2-35 0-9 -4-8 3-5 0-17 1-6 -2 0 0 0 -1-10 8 29 -3 66 3 27 0 58 3-53 0-99 -1-21 5-9 6 3 -3 10 1 2 -1 4 -2 4 3 5 0 29 -1 37 2 17 -3 1 4 23 -1 47 -4-43 9-3 -2-4 0-76 3-7 -2-8 0-1 -2-35 0 23 8 16 2 2 -1 15 1 21 -4 31 0 21 5 34 -1 8 0 26 -2 0 4-50 4-12 -2-18 -2-63 2-6 1-35 -1-15 -2-4 6 12 2 21 3 4 -1 19 -1 9 -1 4 -2 69 3 69 2 10 3-42 1-61 -1-5 -2-1 1-1 0-54 0-38 0-14 10 4 -3 10 3 19 0 31 -5 17 1 17 1 46 3 70 -4 8 7-20 1-22 -2-34 1-10 2-6 0-5 0-42 1-2 -3-19 0-20 1-8 2-3 -5-9 0-2 5-10 -4 0 4-1 -3-7 3 31 6 1 -2 87 -3 24 4 19 -2 13 0 40 4-32 1-18 3-14 1-64 -5-30 4-3 1-16 0-25 -2-7 0-6 6 15 0 37 1 10 -1 21 0 94 -1 41 -2-55 9-61 -2-54 4-31 -3-18 6 1 1 5 0 2 -2 9 -1 0 2 9 1 11 1 46 0 28 -4 29 3 45 8-103 -1-35 -4-4 2-35 -1-12 1 8 5 1 2 2 1 2 0 4 -3 10 -1 2 2 26 -1 0 0 80 3 23 -2 31 1 0 3-79 2-38 -2-7 2-15 1-1 1-1 -1-1 -1-20 1-28 1-2 1 14 6 7 -5 22 2 26 0 59 3 57 -4 93 4 9 0 4 2-6 0-127 -1-17 1-4 4-2 -1-55 -4-64 4-11 -1 3 3 9 3 14 1 3 -2 3 0 17 3 4 0 22 -1 87 -1 53 0 64 -3 28 10-1 -2-99 3-14 -1-41 -2 0 -1-7 2-24 -3-50 3-2 -2-6 0-4 2 0 -1-15 1-4 0-29 0-2 3 4 1 0 0 1 -1 3 4 1 -1 16 1 1 -4 31 2 2 2 2 -4 9 1 12 2 3 2 1 -5 70 1 35 1 97 -2-10 7-109 3-14 -1-6 -3 0 1-4 1-5 0-63 1-10 -3-3 2-10 1-17 -1-8 2-6 1-3 -1-6 -1-7 -3-2 5-8 -1 10 7 23 -5 17 0 66 3 6 1 14 -4 10 3 2 -1 2 -1 1 2 10 -2 75 4 9 -1 2 -1 6 -1 4 -1-26 5-4 0-46 3-11 -2-7 2-17 1-38 -3-2 4-21 -4-7 0-15 1-31 2-12 1-2 -3-16 2 0 -2 48 9 8 -4 2 -1 27 3 9 1 30 -2 38 -1 12 4 1 -1 16 0 4 -3-10 6-3 0-1 0-88 4-4 -1-13 -4-9 5-15 -1-7 0-14 -1-12 -3-4 3-2 6 17 -1 0 -2 8 2 13 3 23 -3 1 2 15 1 54 -5 24 3 13 -3 10 4 2 6-18 1-20 -3-14 -1-26 3-3 0-9 0-6 -4-15 2-6 -1-1 -1-11 4-2 1-2 0-2 -1-9 0-2 -1-7 -3-6 1-5 4-16 -4 6 8 1 -1 1 -2 8 0 5 5 18 -2 0 -2 4 -1 21 5 13 -1 6 -1 6 0 28 0 18 -2 30 2 8 0-10 8-1 0-20 -5-6 0-4 4-10 1-13 0-17 -3-28 0-1 4 3 1 7 -1 10 5 0 -2 6 1 5 0 22 -2 4 2 9 -4 13 1 0 -1 5 3 15 0 14 -3 1 0-15 6 0 5-16 -2-11 0-18 2-25 -2-27 -2 13 8 8 -3 5 2 1 2 21 1 2 0 9 -4 3 -1 6 5 8 -1-16 3-13 3-8 -1-16 2" fill="none" marker-start="url(#k22)" marker-mid="url(#k22)" marker-end="url(#k22)"/>
<path d="M1732 162l-32 10-54 6 3 5 62 -1-78 19-14 4 121 4-25 2-70 6 5 1-32 6 167 14-173 5 5 -2 14 4 27 0-20 12 2 -4 19 6-52 5 15 14 43 9 75 1-57 10 20 6 22 2-104 3 67 3 29 1-118 15 41 0 10 -1 4 -1 56 4-22 4-9 1-5 -1-2 -1-24 5 42 3 37 -2-10 6-20 -3-77 0-18 11 59 -2 7 -1 10 -2 24 5 8 -5 47 3 143 -2 6 2-193 5-13 2-65 1 37 6 94 0-71 1-9 1 0 2-1 -2-10 4-63 -4 24 6 7 3 0 -1 4 -1 24 2 175 3-5 0-11 0-166 1-6 -1-7 0-21 4-5 -1-9 -4-15 11 3 -5 60 4 13 -1 3 -3 128 0-4 9-9 -2-9 3-17 -3-84 -1-27 1-4 0-22 0-6 10 3 -1 4 -2 15 -2 19 3 3 -3 7 2 8 0 48 2 68 6-1 -3-21 2-74 0-30 0-62 -1 15 7 62 -3 57 3 42 7-68 -4 12 8 50 -1 5 7-14 2-5 -1-69 4 52 1-16 5-1 2-14 -2" fill="none" marker-start="url(#k23)" marker-mid="url(#k23)" marker-end="url(#k23)"/>
<path d="M1768 286l-93 43 34 5-1 -2-13 -2-1 4-5 1-5 -1 0 0-5 7 13 0 14 -1 16 1-8 5-3 -1-3 2-8 -5-10 3-9 -2-4 2 21 4 0 8 55 8 46 35-136 6-31 2" fill="none" marker-start="url(#k24)" marker-mid="url(#k24)" marker-end="url(#k24)"/>
<path d="M1698 333l-17 0 4 4 16 4 13 -5-3 9-3 2-2 -3-6 3-8 -4-19 -1 22 6 18 2-11 14 66 60" fill="none" marker-start="url(#k25)" marker-mid="url(#k25)" marker-end="url(#k25)"/>
<path d="M1721 156l1 3 8 -1 1 -1 1 3 8 -3 1 2 1 2 5 6-4 -3-2 1-1 2-7 -4 0 2-2 1-11 -3-2 2-17 -1-4 7 1 1 1 1 8 -4 11 2 8 -3 4 0 1 2 4 2 13 0 15 1-1 3-1 3-2 -5 0 4-10 -4-5 3-4 -2-14 0-2 -1-2 5-16 -3-10 -2-12 3-9 -1-33 7 3 -2 5 4 8 -4 1 -1 10 4 11 0 4 1 0 -2 0 -2 11 4 9 -3 3 0 10 -2 3 3 4 0 1 0 1 -1 9 3 0 -5 25 5 2 4-24 1-1 -2-7 0-2 -1-3 4-1 -5-3 2 0 0-3 -2-19 0-22 0-7 3-6 2-2 -1-6 0-16 -3-18 10 0 -1 3 1 20 -2 2 1 8 -3 3 -1 4 5 8 -1 6 -2 2 0 9 2 11 -4 5 2 9 -1 0 2 1 -2 3 3 14 1 2 0 0 -2 6 1 14 -3 9 1 8 -1 5 1 7 9-5 -4-2 -1-15 3-8 -1-12 0-1 3-6 0 0 -1-1 1-2 0-1 -5-6 5 0 0-6 0-9 -5-3 1-8 -1-4 3 0 2-4 -1-20 -1-4 -3-10 2-2 -1-2 3-23 -3-7 5 6 3 4 1 3 0 1 0 7 1 6 -4 2 2 5 -2 4 -1 4 4 10 1 5 -1 17 0 1 -2 9 2 6 -1 3 1 8 1 2 -4 2 0 12 -1 1 1 2 1 1 0 11 -2 8 4 8 -3 11 4 9 0 4 1-1 1-7 3-8 -4-2 4-10 -2 0 2-9 0-1 1-8 -1-10 0 0 -1-2 0-13 -2-2 2-8 2-7 -2-4 -1-3 0-1 2-2 -4-10 4-2 1-3 -1-4 -4-10 5 0 -2-10 1-2 1-16 -3-5 0-1 0-4 -2-1 0 0 2 0 3 0 -1-3 1-8 -1-4 7 16 -1 5 -4 10 0 8 5 5 -1 6 -2 13 3 0 -4 10 4 11 -2 12 -2 0 -1 16 4 4 -2 9 0 2 -2 1 0 9 0 0 3 7 0 1 -2 1 3 11 -4 2 2 11 2 6 -4 0 2 1 3 16 2-1 4-2 -2 0 1-1 -2-3 0-3 2-2 -3-5 -1-2 4-2 -1-5 -1-6 0-23 0-8 2-2 1-2 0-5 -3 0 -1-12 3-6 -4-1 4-2 -1-1 -3-7 3-10 0-2 1-7 -4-2 1-6 3-1 1 0 -5-15 3-12 2-4 -3-9 2-3 1 0 -5-3 2-2 2-3 -1-5 -2-10 8 5 2 6 -3 24 2 8 -3 0 3 11 -2 17 -1 4 3 3 -4 22 5 1 -2 8 2 4 -3 0 0 1 3 0 -2 2 2 5 0 1 -1 2 -1 1 -3 10 2 6 -2 8 4 3 0 3 1 3 -1 5 1 2 -3 1 3 8 -2 3 2 0 -4 0 3 6 -2 3 1 1 -1 3 -1 6 4 0 -3 2 2 4 2-5 4 0 1-4 -1-12 -4-6 2-1 0-6 0-4 0-18 -2-9 4 0 0-10 1-15 -3-11 2 0 -4 0 5-1 -4-8 4-4 -5-21 3-8 -2-5 3-4 0-12 1-5 -1-4 1-7 -2-4 -3-4 1 0 3-4 1-1 -4-8 4-5 3 30 -1 3 -1 5 4 1 0 19 1 15 -1 12 -1 9 1 4 0 5 -1 0 0 2 -3 16 0 1 3 1 2 6 -4 1 3 3 -4 6 1 19 3 3 -3 3 0 0 1 10 -1 7 -1 0 3 4 -2 5 -1 3 4 7 -3 1 -1 3 0 1 3 0 7-4 -1-1 -3-3 2-4 1 0 -3-2 1 0 -1-2 4-5 -2 0 -2-3 3 0 1-3 -4-9 2-8 -2-5 5-2 -4-3 2-5 1-4 1 0 -2-13 2-5 -3-10 1-7 1-7 1-24 -4-15 3 0 0-10 0-1 0 0 -2-5 2-1 -2-4 1-10 0-5 0-5 -3-17 4 14 6 5 1 6 -5 5 0 11 2 30 0 1 1 10 1 2 1 9 -3 9 3 4 -4 1 1 9 1 5 -1 16 -2 2 1 1 3 10 1 2 -5 17 3 4 -2 7 4 1 0 2 -3 2 0 6 3 3 0 2 -2 4 1 15 4-1 1-7 0-13 1-2 -4-4 5 0 -2-2 1-8 -2-3 1-13 -2-1 0-9 1-1 1-1 -3-1 3-1 1-3 -2-1 3-9 -5-1 3-5 -2-2 1-1 3-1 -4-6 2-5 0-7 -2-1 1-7 3-7 -2-1 1-4 0-3 1-11 -4-5 2-10 -2-6 2-28 1-14 -2-7 0 7 6 11 1 16 1 11 -4 7 3 9 1 6 -4 16 0 1 3 10 1 13 1 9 -3 2 2 2 1 3 0 4 -1 8 -1 0 -3 0 3 3 -1 5 0 9 1 7 2 8 -3 8 0 4 1 13 -2 0 2 6 1 1 1 7 -1 0 -2 4 2-3 4-2 -2-6 1-3 4 0 -1-3 -4-5 5-21 -2-12 1-2 -1-5 -1-5 2-13 -3-1 -1-5 0-1 1 0 2-5 -3 0 3-3 -1-6 -1-7 1-8 -1-6 -1-4 5-14 -3 0 -2-9 2 0 2-17 -1-11 -3-8 3-4 -2-7 4-9 -2 12 7 0 -1 4 -3 7 1 1 -1 12 5 10 -5 7 4 22 -1 9 -3 3 2 1 -2 3 4 1 0 3 0 2 0 3 -2 3 3 0 -3 1 -1 6 3 8 -2 9 2 3 -1 0 2 1 -1 1 -4 21 2 3 -1 17 3 4 -4 17 1 0 1 11 5 0 4-7 -4-11 -1-1 0-4 0-8 4-39 0-7 1-3 -5-28 3-44 2-12 -4-3 4-3 -4-21 3-2 -2-6 1-7 1 20 7 1 -4 13 4 13 -1 27 -1 10 -2 17 2 1 -3 1 5 8 0 16 -4 20 4 14 -2 8 0 12 -2 9 0 0 2 13 -3 6 2 1 3 2 -4 1 10-2 -5-10 1-12 2-3 2-7 -4-1 1-12 2-8 -1-24 -1-1 1-1 1-3 1-4 -5-4 2-3 3-10 0-49 -1-1 -3 0 4-9 -1-2 -4-1 5-9 -3-17 -2-5 4 0 -1-1 -2 0 3-10 0-18 3 10 2 1 0 9 2 5 0 9 -3 1 -2 14 5 6 -1 10 -2 2 -1 5 -1 3 4 6 -2 2 -2 0 5 18 0 14 -4 15 0 4 -1 1 4 1 -4 19 2 6 0 1 -1 3 2 5 -2 5 -1 7 3 10 1 4 1 4 -3 0 2 11 -1 0 -1 4 2 5 1 0 0 6 -4 1 6-5 -1-6 0-9 5-5 -2-2 -1-3 -2-18 5 0 -4-4 0-6 2-8 1-27 -2-9 2-7 0-9 1-26 0-3 -3-15 -2-26 3-2 -3-3 1-13 0-8 1 18 9 6 -2 3 -1 2 1 53 2 23 -2 7 2 25 -1 5 -3 13 -1 5 0 0 5 10 -2 2 -2 2 3 2 0 18 -1 7 0 5 -3-26 10-3 -2-4 3-8 0-9 0-12 -5 0 4-14 0-19 -4-3 0-1 3-7 -3-4 1-13 0-7 4-13 0-21 -2-15 -1-26 -2-6 3-3 8 5 -1 4 -3 7 4 9 -5 37 4 17 -4 5 0 13 0 4 5 21 -2 6 1 3 -3 7 4 7 -3 1 0 3 2 12 -1 18 1 1 -2 1 -2 1 1 28 1-15 8-9 1-7 -3-13 2-5 1-10 -1-17 1-2 -2-13 -2-4 4-13 -5-46 3 0 -1-5 0-31 -1-8 4-10 -4-8 4 32 6 24 -2 15 -3 54 0 7 4 16 -2 2 0 2 -2 9 4 5 -2 15 -1 1 0 14 1 85 -1 4 4 18 1-11 5-6 -2-2 0-3 -3-1 3-3 0-25 1-59 -4-4 4 0 -1-9 -3-8 3-10 2-11 -2-7 2-23 -4-71 0-21 3-4 -3-25 3 24 5 3 2 11 -1 10 -1 27 2 9 -4 15 2 8 0 5 2 3 -1 11 -1 6 -3 12 5 8 -1 2 1 1 -4 15 -1 4 2 0 -2 12 0 16 0 25 3 39 0 28 -1 4 0 3 1 2 2 4 -3 7 9-4 -3-1 0-94 -2-16 4-2 -4-8 2-6 1-11 -2-14 4-6 -4-1 0-2 4-11 -5-4 0-49 1-45 2-5 2-5 -4-26 1-3 -2 46 8 13 0 1 -1 23 2 54 2 2 -2 3 -2 10 0 4 -1 6 4 19 -3 5 -1 108 4 0 1 6 -4 2 2 4 0 1 0-11 6-5 -1-3 -2-2 3 0 -1-4 0-87 -2-3 3-14 1-23 -1-2 -2-58 4-11 -2-24 -2-34 -1-7 4 87 6 18 -2 3 -1 4 2 2 1 8 -3 61 4 1 -5 59 3 10 -2-25 5-4 0-13 3-27 1-26 -3-33 -1-1 2-7 3-10 -4-2 3 0 -2 0 1-9 1-11 -3-3 4-4 -2-5 -1-40 1-28 0-10 -2 6 6 108 3 26 -3 20 -1 5 4 2 -3 24 10-24 0-11 -3-10 3-3 -3-37 3-36 0-1 -2-12 0-20 1-36 5 15 -2 24 -1 17 4 13 -2 46 0 45 -1 4 4 7 -1 16 0-35 2-49 3-40 2-51 -4 21 5 4 4 11 -4 1 5 7 -3 2 -1 10 4 33 -4 19 3 29 -1 18 0 13 0 0 1 1 -3 11 0-26 5-2 4-23 0-29 -2-17 -1-2 2-13 1-1 -3-11 2-4 1 20 7 18 0 77 -2 1 8-6 -1-1 -3-58 0-3 2-16 1-3 -4-3 3 21 4 20 2 7 2 1 -3 17 4-37 3-30 -2 36 5" fill="none" marker-start="url(#k19)" marker-mid="url(#k19)" marker-end="url(#k19)"/>
<path d="M1743 155l-23 0 9 4 10 0-19 7-45 6 44 1 21 -3 15 6-53 -2-52 10 7 1 30 -5 66 2 19 9-132 -5 28 9 17 -3 44 2 40 7-34 2-5 -1-49 0-47 2 31 0 25 5 43 -3 2 0 23 3-11 5-26 -2-4 1-23 1-7 -4-56 9 3 2 5 -5 8 2 78 0 39 0 24 -1 4 9-30 -3-11 1-64 1-20 0 0 0-23 -3-33 3 1 7 1 -2 28 1 3 -3 55 4 34 -4 11 5 68 5-13 -1-22 1-84 -3-55 3-1 -3-28 0 1 7 75 -2 14 4 13 -3 40 3 53 6-22 -4-142 3-8 -2-4 2 12 7 18 -1 63 -1 30 0 37 1-16 3-15 4-25 -1-52 -3-29 1-4 -1-20 1-11 6 20 2 28 -2 74 2 7 -3 1 3 2 0 69 4-4 2-4 -3-15 4-6 1-49 -5-10 2-21 -1-32 4-14 -3-1 2-10 -3-9 2-6 -1-33 -2 45 10 20 -1 44 -1 93 3 8 0-36 1-16 0-111 0-17 4-6 0-15 0 3 6 21 0 56 -4 85 4 46 -4-24 8-25 -2-129 1 0 -1-23 11 1 -3 28 2 9 1 9 -2 130 -3-12 6-63 1-1 2-18 8 67 3-58 3-17 -2-80 5 6 0 17 2 28 1 122 -3-29 4-138 0-15 3 13 5 38 3 228 0-125 1-72 2-6 2-27 -1-14 0-21 1 43 6 20 1 48 -2 14 1 1 -2 15 3 1 -5 40 9-53 -1-125 0-5 -1 79 8 56 2 13 -4 29 4 3 5-26 0-22 -2-11 1-28 0-13 -2-23 4-16 -4-61 10 81 -1 28 -2 12 3 6 -3 48 3 19 0-68 4-3 0-22 -3-15 4-1 1-20 -5-15 3-17 6 18 -3 75 3 43 -1 30 7-13 -2-43 4-79 -5 8 10 7 1 1 -4 2 2 86 4-40 3-25 -2-30 3-23 4 12 2 128 0 3 2-81 4 34 1 29 8-31 1-39 3 53 2-9 8-11 3" fill="none" marker-start="url(#k20)" marker-mid="url(#k20)" marker-end="url(#k20)"/>
<path d="M1714 161l31 -1-29 4-1 -1-3 2-1 -2-6 0-16 10 19 -2 0 -1 9 -1 31 1-7 4-18 4-1 0-9 -4-6 2-20 1-12 -1-28 8 3 -2 2 1 6 -3 6 1 5 2 40 -1 13 2 11 -4 33 4-31 3-1 -1-8 3-5 0 0 2-3 -1-6 1-18 -1-13 -4-10 4-4 1-8 0-10 -1-1 -3-2 -1-3 0 0 5 0 -4 19 8 4 2 7 -2 3 -3 16 4 10 0 10 -1 13 0 0 -2 3 -1 5 2 11 1 3 8-1 -4-27 0-9 1-17 -1-24 -1-15 5-15 -4 0 0-3 0-13 0-2 2-3 6 16 1 33 1 21 -2 9 0 41 1 30 -4 8 3-12 3-21 3-17 -2-27 4 0 -2-1 -1-24 1-6 1-7 1-9 -4-1 1-2 0-2 -2-13 0-1 5-19 6 8 -3 4 2 13 1 7 0 21 -1 1 -1 3 2 4 -1 8 -1 1 -2 9 1 4 -1 0 1 18 -2 2 2 1 3 9 -5 19 1 1 3 3 1 3 -5 54 8-91 0-7 -2-40 0-10 2-47 2-1 3 17 0 7 0 1 1 10 1 26 -2 32 -1 29 1 1 3 25 -2 48 7-22 0-13 -3-59 2-16 0-11 3-36 0-22 -5-11 4-6 -3 1 10 2 -3 15 -2 9 0 23 0 7 4 3 -4 21 0 12 2 2 0 2 3 3 -5 6 3 11 -2 5 2 21 -3 2 3 5 1 14 -3 25 1 7 -1-41 6-39 4-1 -4-30 1-9 2-9 1-8 -2-38 -1-10 0-6 3-4 -3-1 8 0 -2 6 1 19 1 13 -4 54 5 11 -3 1 2 10 -3 4 2 80 0-22 3-19 0 0 0-8 1-9 2-23 -3-18 5-5 -1-3 -2-16 -2-37 5-7 -5-10 3-10 2-12 -1 2 7 16 -5 21 5 28 0 38 -5 17 2 5 2 19 -2 15 3 46 0 7 -1 2 6-46 -3-25 1-18 0-1 0-23 -1-9 0-10 0-21 4-11 -3-30 0-3 1-9 -1-9 1 19 4 1 4 15 -5 18 3 2 1 11 -4 37 3 6 1 12 -2 21 0 0 2 63 -1 3 6-19 -2-26 -1-50 2-11 0-12 3-6 -2-1 -2-13 0 0 4-1 -1-23 1-2 0 0 -3-20 2-6 -3-15 1-7 -2 13 9 2 0 6 -2 12 1 11 -2 13 3 4 -2 18 0 9 -1 40 5 43 0 47 -5-21 7-17 0-9 2-72 -2-14 2-18 1-16 -2-3 2-30 0 0 -1-22 0 81 4 14 4 85 0 12 -5 14 7-41 0-12 3-6 -4-12 3-11 -3-61 5-8 -3-15 3-28 0-7 -4 2 9 17 -3 2 2 7 0 15 -1 23 2 13 -4 78 4 25 4-21 2-69 1-7 -5-4 0-9 5-12 -2 0 2-9 -3-19 -2-5 0-32 9 3 -1 19 3 1 -4 8 1 10 3 0 -3 42 -2 11 1 44 -1 28 0 14 3 0 -1 7 2 14 -2-22 8-9 0-6 1-11 -5-43 5-59 0-2 -4-5 4-9 -3-6 0-19 2-10 6 11 -1 4 -2 21 3 11 -4 72 4 69 -3 0 2 105 2-1 6-3 -1-4 -4-126 0-2 4-30 -3-1 0-50 2-31 1-23 -2-3 -2-10 2 1 9 22 -3 13 0 58 2 2 0 15 0 8 -3 8 2 6 -2 3 4 0 0 14 -5 128 3 13 -1 2 -2 6 10-6 -2-10 2-82 -2-14 -2-12 2-1 1-36 -2-9 1-71 3-34 -2-5 2-14 -4-15 5 22 2 0 3 25 -2 3 2 8 -5 11 0 2 1 56 2 50 0 114 -1 12 1-32 8-69 -5-24 5-7 -5-2 3-1 -1-7 -1-46 -1-3 5-20 -2-14 -2-9 1-6 0-32 -1-1 2-15 -3-5 4 0 7 13 -2 6 0 27 2 1 0 13 -3 13 3 0 -4 15 3 18 -4 59 0 11 0 6 3 66 -2-14 8-17 1-1 0-27 0-15 -3-8 4-11 0-11 -4-31 4-27 -3-10 -2-20 1-5 1-2 -1-5 -1-2 1-17 4 0 -1-15 1-8 -3-10 1 4 3 2 1 5 -1 13 1 0 0 6 3 7 1 14 0 6 -5 16 2 2 -2 0 0 5 4 24 -4 2 1 9 2 52 -3 27 4 3 7-8 -5-1 3-1 0 0 -1-6 1-47 1-65 -2-20 3-5 0-18 -5-1 0-9 3-3 -1-11 4 14 0 2 4 5 -2 12 2 2 -1 9 2 1 -4 8 4 0 0 3 -2 21 -2 3 0 54 4 18 -2 14 1 17 0 4 -1 15 0-16 3-4 2-62 2-45 -2-17 0-19 1-28 -2 28 6 4 2 53 -2 7 0 9 -1 4 3 16 2 5 -5 35 5-26 3-14 -2-6 4-27 -4-2 1-4 8 17 -1 17 -1 10 -1 55 4-51 3-2 0-1 2-27 2-9 -1-13 5 18 -1 3 0 2 2 6 -2 5 3 6 0 3 -1 4 -1 8 -3 9 4 9 -2 9 0-40 4" fill="none" marker-start="url(#k21)" marker-mid="url(#k21)" marker-end="url(#k21)"/>
<path d="M1704 158l9 4-51 11 38 -3 19 0 36 -1-13 6-12 3-20 -4-11 1-48 10 29 -5 11 4 9 0 14 1 47 1-5 5-51 -4-2 1-52 5 10 1 3 1 1 -1 6 -1 11 10-11 -3-8 3-15 -3-24 6 14 3 3 -4 52 -1 3 2 25 -1 0 3 8 -2 2 -1 48 8-18 1-14 1-3 0-7 -4-10 4-10 0-3 -4-43 1-33 0-10 -1-17 8 1 0 1 0 24 2 2 -1 1 -4 4 3 18 2 10 0 9 -4 16 3 84 1-18 3-1 0-16 -2-20 0-6 1-1 1-9 -1-18 2-2 -1-5 3-18 0-13 -5-22 2-2 -1 7 8 37 0 62 1 10 -2 7 0 35 2-37 2-99 0-2 2-8 -2-32 10 34 -4 3 1 5 -1 47 0 20 2 86 0-8 7-19 0-56 0-15 -3-2 3-2 -3-51 3-38 -2-8 4 17 6 11 -2 7 0 19 2 32 -1 31 1 83 -4-54 9-115 0-10 -2-14 2-7 7 11 -5 32 0 105 1 42 0 7 1 22 1-21 7-40 -2-28 0-33 -2-47 5-19 0-16 -4-1 -1-14 0 6 8 23 -1 17 2 138 4-5 1 0 1-77 -3-49 2-5 1-2 -1-9 -1-19 4-17 5 16 1 6 -3 23 2 7 -4 20 3 13 -3 90 10-80 1-43 -1-1 -2-24 0-2 2-7 1-14 -5 22 7 15 4 102 -5-46 6-25 0-10 1-10 1-30 3-6 -5-18 8 28 1 14 0 14 -1 1 -2 26 0 15 3 66 -1-52 6-6 3-58 -1-5 -3-5 2-18 2-4 -1-9 -3-1 3-7 2 4 5 7 -1 6 0 2 0 27 -3 50 1 34 -2 81 1-166 9-27 -3-21 1 11 6 11 -2 1 5 13 -3 7 1 67 2 9 -4 6 -1 3 0 160 2 10 9-7 0-13 -3-1 0-122 -1-111 4-41 3 52 2 73 1 37 -5 31 2 28 1 63 -2 21 -1-109 7-10 1-41 3-76 -4-5 0-3 4-6 -4-3 3-4 -1-4 -1-2 2-29 7 11 -4 8 4 7 -1 3 -1 17 0 2 0 6 2 3 -1 1 -3 6 3 11 0 32 -2 5 -2 68 4 102 -4 3 3-16 4-11 4-3 0-79 -1-16 1-56 -4-2 0-6 4-16 -3-6 1-15 -3-5 2-4 1-3 -2-3 3-8 0-19 1-6 -5 0 1-3 -1-7 2-7 -1-6 5 9 1 46 2 1 -1 0 -2 16 2 6 3 0 -5 1 3 29 -2 45 1 8 3 11 -2 4 0 1 -3 14 5 11 -4 46 3 6 -1-35 4-2 0-36 -1-12 5-8 -2-37 2-35 -1-9 -3-4 3-7 -1-4 0-26 1-32 -1-12 -3 17 6 33 1 1 4 42 -1 4 -2 52 0 2 2 23 0 5 -1 19 -2-4 5-5 1-24 2-5 -2-14 2-3 1-31 -1 0 1-8 -1-4 -2-22 1-6 -2-2 4-10 -4-4 1-4 0-10 4-35 -5 29 8 10 1 1 1 0 -3 32 3 5 -4 16 4 2 0 62 -1 28 2 11 -2 0 -3-19 9-8 -1-17 3-18 -4-16 0-17 2-27 -3-12 2-5 2-1 1-20 -2-1 2-10 -3 13 6 7 -2 4 5 1 -3 10 -2 4 2 21 -2 0 5 37 -4 30 0 19 2 26 5-5 3-10 0-8 -3-32 -1-28 0-8 1-7 1-2 0 0 0-8 1-46 -4 56 6 8 1 3 1 12 1 6 -1 5 3 24 -5 24 2 2 3-3 3-5 1-23 1-17 -1-1 -2-19 1-3 1-17 -3 19 10 12 -2 8 -2 2 3-6 3-1 4-25 -2" fill="none" marker-start="url(#k22)" marker-mid="url(#k22)" marker-end="url(#k22)"/>
<path d="M1713 167l7 6-70 3 3 8 47 9 1 -1-81 19 31 6 84 0-18 7-2 2-80 4 9 -1 4 -1 104 5-69 13 75 6-125 14 23 -2 31 0 119 7-167 1-6 -1-2 3-12 4 35 2-16 9 7 0 27 0 21 4-56 10 6 -2 58 -1-38 11-31 6 62 -2-55 4-39 3 83 7 47 6-22 -2-11 -3-10 0-1 5-5 -5-61 11 23 -4 16 0 21 1 14 3 3 -1 9 -2 175 7-147 1-27 1-14 -4-13 0-55 6 262 2-189 8-46 -4-16 0-5 4-9 -5 29 7 8 1 57 3 33 -3-8 6-34 1-25 2-2 -2-23 1-47 -3 42 10 2 -2 3 2 2 -3 16 0 172 4-98 4-35 -2-23 1-4 -3-23 3-13 0-17 -2 0 1-8 -1-3 0 29 6 28 4 108 2-20 3-5 -4-34 5-6 -3-51 0-24 2-22 1-9 -3 8 9 19 0 5 -5 8 0 27 3 1 0 37 -2 51 1 13 2-41 2-6 4-12 0-53 -1-19 -1 94 4 9 4 45 -2-47 5-88 0-4 0 37 10 3 -5 16 0 70 9-14 -1-12 -1-71 -1-3 2 5 4 33 2-8 4" fill="none" marker-start="url(#k23)" marker-mid="url(#k23)" marker-end="url(#k23)"/>
<path d="M1640 272l17 15 50 48-3 0-5 -2-2 2-12 -2-3 2-2 -1-2 0 4 2 0 2 5 1 6 -1 6 3 1 -4 9 3-5 6-6 -2-3 -1-5 -1-6 3-8 -3 27 7 19 0 4 1-44 10-74 8 196 11-146 11 77 7-58 5 95 17-11 -2-71 -2-14 3 56 14" fill="none" marker-start="url(#k24)" marker-mid="url(#k24)" marker-end="url(#k24)"/>
<path d="M1696 329l15 1-7 2-16 7 3 0 19 1 2 7-3 -5-1 0-4 1-5 4-7 -3 0 3-1 -4-10 2 29 6-35 3 18 8" fill="none" marker-start="url(#k25)" marker-mid="url(#k25)" marker-end="url(#k25)"/>
<path d="M1730 155l-12 0-13 6 8 -3 2 1 2 -3 4 0 14 5 1 -1 16 4-9 -2-1 1-7 3-43 1-17 3 48 1 4 -3 2 4 17 0 5 0 12 6 0 -4-4 1-13 -1-10 1-16 0-3 3-14 0-10 -1-17 -2-16 4-1 -5-21 9 5 -1 1 -1 1 2 13 -2 4 -1 8 5 5 -5 2 4 1 0 2 -4 6 3 2 -3 7 2 7 2 2 -4 8 4 19 -4 11 5 9 -4 7 1 4 -2 1 2 0 1 1 -1 2 0 4 4-13 5-7 -4-3 4-7 -5-4 5-2 -2 0 -2-5 1-17 2-23 -1-1 -2-2 4-2 -1-1 -4 0 4-4 -1-2 -2-5 3-1 0-1 -1 0 0-3 1-15 -1-3 2-7 -5-8 4-5 1-4 5 1 -3 2 2 1 0 10 -3 1 5 7 0 1 -2 19 -1 1 -2 23 4 1 -4 0 5 7 -3 8 3 1 -1 1 -2 6 0 0 2 7 -1 3 -1 4 1 6 0 4 -2 0 -1 17 1 14 7-4 2-31 1-11 -4-6 1-7 3-2 -4-6 3-12 -3-6 0-2 -1-1 1-7 3-1 1-5 0-12 -4-1 1-2 -1-11 0-3 4-6 -1-1 1-8 -5-2 5 6 3 28 0 14 3 6 -3 2 0 6 -1 15 3 7 1 2 -3 2 2 0 -1 7 1 5 -3 1 4 4 -1 12 -4 2 5 0 -2 12 -2 6 -1 3 3 4 2 3 -5 9 4 13 6-11 -1-9 1-2 -4 0 4-1 1-3 -3-7 -2-13 5-15 -3-3 0-2 1-4 0 0 -3-3 0-4 3-10 2-24 -5-22 0-2 0-5 5-6 -4-2 -1-8 1-8 2-3 -1-8 0-6 7 5 -2 7 0 4 0 10 3 8 0 3 0 1 -3 8 3 10 -3 2 3 34 -1 7 2 4 -5 4 3 8 -2 1 3 7 -1 0 1 2 0 3 0 4 -2 6 0 8 -1 5 4 2 0 1 -2 12 1 6 -4 7 3 4 2 0 -2 6 -3 4 11-3 -4-2 -1-3 2-1 1-1 1-3 -2-1 0-12 0-7 -2-1 3-4 2-6 -2-14 -3-1 2 0 3 0 -2-3 0-1 0-1 2 0 -2-3 -2-2 0-1 0-6 2-2 2-4 -3-2 -1-10 0-8 3-5 -2-2 0-5 -1-2 2-18 1 0 0-14 -1-3 2-14 -4-8 3-5 -3-5 4-6 0-4 -4-1 1 5 4 6 2 8 0 3 -2 12 3 7 -1 15 -2 28 0 0 5 5 -4 8 0 6 -1 20 0 2 4 0 0 13 1 5 -5 3 5 1 0 12 -4 2 1 14 -2 2 1 11 2 2 -2 8 6-6 3-7 -1-1 -2-8 4-6 0-1 -5-3 2-11 -2-8 4-1 -1-9 -2 0 0-7 0-5 0 0 4-2 -4 0 0-1 1-15 1-10 1-6 -1-13 -3-1 3-28 1-11 -1-2 -2-1 3-7 0-3 0-22 -2 5 9 2 -3 16 2 4 -4 8 5 21 -5 0 3 13 2 10 0 15 -2 5 -2 17 1 2 1 0 -2 0 1 14 0 7 1 11 2 7 -3 9 1 0 2 1 -4 1 2 9 1 6 -1 6 1 1 -1 1 -2 7 1-2 8-1 0-3 -2-6 -2-1 1-3 2-5 -2-1 1-2 2 0 -4-3 4-1 -2 0 1-6 -1-1 -2-7 0-8 2-1 0-1 3-15 -1-2 -2-1 2-2 0-6 -3-5 0-12 4-2 -1-16 -1-31 -2-14 1-3 2-4 -4-5 1 0 0-10 0-7 1-16 -1-3 2 39 8 6 -5 35 4 0 1 9 -1 1 -2 3 -2 3 3 4 0 2 2 2 0 6 -3 5 3 8 -2 1 1 1 0 2 1 14 -1 0 -4 10 4 38 -1 6 -2 0 2 5 1 2 1 9 0-4 5-8 -4-6 0-13 0-2 3-1 2 0 -3-13 -1-4 2-7 0-1 -1-6 1-6 1-4 -3-2 2-1 -3-1 0-1 0-3 1-5 3-1 -2-6 0-6 0-1 3-5 -2-1 -2-1 -1-2 1-10 2-8 -2-4 4-7 -4-3 0-11 -1-12 4-2 0-2 1-16 -4-5 4-16 1 1 1 2 3 3 -1 1 0 4 -1 6 0 32 -1 17 3 9 -2 0 -2 3 4 16 0 10 -3 1 0 6 2 1 0 4 -2 0 4 2 -1 2 -4 3 0 2 3 5 -1 2 -1 32 3 5 -2 4 -2 11 3 8 2 4 -3 7 -1 5 1 7 8-3 -4-5 5-11 -1-28 -2-15 -2-3 2-12 -1-7 1-6 0 0 1-4 0-11 -3-18 0-7 0-22 1-32 4-21 6 9 0 19 -3 6 3 28 -1 21 0 16 1 28 -1 5 1 12 -1 7 -3 9 2 9 -3 2 1 4 2 5 1 3 -3 6 3 3 -4 1 4 0 -1 4 2 1 0 3 0 1 -5 0 4 2 -3 1 3 7 4-5 1-10 2-7 0 0 -3-3 2-11 1-5 -5-2 3-18 2-8 -5-7 4-4 -2-7 -2-33 1-4 4-20 -4-7 1-26 2 0 1-7 -5-3 0-10 1-7 1-10 2-13 6 14 1 7 0 22 -4 11 2 6 -2 4 2 7 1 27 -1 2 0 15 -1 15 1 1 0 17 0 1 -1 4 1 2 2 15 -5 7 4 3 0 10 -1 17 2 2 -1 0 -1 4 -1 6 -2 1 4 1 -1 2 -3 3 4-5 2-2 0-1 5-11 -4-2 1-2 -1-3 0-11 2-5 -3-7 0 0 5-3 0-6 -2-23 2-10 -3-3 -1-10 3-11 -3-56 0-6 -1-4 5-2 0-1 0-3 0-1 -2-1 -3 0 2-12 -1-3 3-15 -3 17 7 3 3 43 -5 17 4 6 -2 3 2 2 -4 9 5 21 -2 17 2 2 0 8 -3 20 1 2 -3 2 5 6 -1 11 -2 0 3 11 0 2 0 3 -5 0 0 5 1 4 9-5 -4-5 3-9 -3-9 5-3 -1-2 -4-4 2-14 -1-12 4-3 -3-4 -2-17 0-2 0-14 3-3 -2-6 0 0 4-1 -4-3 3-6 0-2 -4-32 1-22 4-18 -5-8 1-6 3-15 3 10 -1 31 4 8 -4 2 1 11 0 5 4 16 -1 13 -4 5 2 4 -2 10 4 20 0 12 -2 1 1 6 2 6 -2 5 -3 10 2 38 -2 6 0-2 10 0 -4-8 1-21 2-17 -2-14 2-30 -1-4 2-1 1-5 -1-12 -4-7 2-3 2-8 -3-9 3-6 1-33 -3-10 2-2 -2-11 5 1 3 22 -1 15 0 8 -1 13 2 7 -2 1 -2 3 3 13 0 7 -3 2 4 2 0 22 -2 8 3 5 -2 1 -1 10 2 5 1 11 -1 3 -4 6 0 1 5 103 6-75 0-23 -5-23 1-5 -1-1 0-5 0-9 5-12 -1-12 -4-5 2 0 -1-40 0-30 3-6 -3-19 4-14 0 9 6 22 -1 0 1 21 -5 5 2 45 0 3 1 1 2 37 -4 4 4 3 -4 2 0 3 -1 12 2 11 1 4 -2 2 1 0 -2 1 3 53 0 46 1 11 6-5 -3-2 3-6 -3-10 -1 0 4-6 -2-3 -2-11 1-67 -1-4 4-4 -1-4 1-9 -3-2 0 0 4-15 -3-10 2-12 -4-1 3-62 -1-1 0-35 1-19 0-7 -2 9 10 8 -5 2 5 3 -4 2 -1 40 1 50 -1 3 2 29 -1 3 -1 1 2 13 0 1 0 0 2 2 -2 1 0 3 3 3 -5 8 0 17 2 2 0 9 2 8 -4 1 1 4 -1 5 5 3 -4 1 2 51 1 14 -1 11 5-3 -2-1 4-2 1-1 -3 0 2 0 1-3 -5-8 0-73 1-7 0-10 -1-9 1-4 -1-15 4-7 -4-4 2-3 -2-12 5-4 -4-13 0-4 1-1 2-5 -2-4 -1-22 2-4 -3-11 0-58 3-17 8 50 -1 77 1 8 -4 15 3 0 -1 4 0 13 -3 3 4 13 -4 10 0 2 5 101 -4 0 0-15 5-9 5-69 0-11 -2-21 -2-1 2-53 0-46 0-11 1-14 -2-23 -2-13 3-3 -1 16 4 14 1 28 2 14 -1 1 -1 13 1 10 -2 33 2 34 -1 21 3 57 -3 6 0 9 0-70 10-15 -5-15 4-30 0-2 -3-26 2-34 2-18 -2-13 -3-26 6 21 2 29 3 7 -4 7 -1 4 5 13 0 1 -5 16 5 5 -5 27 2 8 -1 35 -1 12 0-2 11-1 -2-22 -1-55 -2-73 3-18 -1-2 1-16 -3-3 2 12 9 7 -5 28 4 4 -2 2 2 4 1 10 -1 12 -4 17 5 58 -4 13 1 7 4-22 4-37 -3-17 3-6 0-38 -1-18 3 37 2 58 2 5 -2 7 1 22 0 7 -3 8 10-6 1-3 -5-7 0-1 2-62 3-23 -4-19 0-10 1-12 -2 96 9 48 8-41 -5-59 0 9 10 8 0 15 -3 4 1 8 -1 33 0-34 6-4 -1-28 0" fill="none" marker-start="url(#k19)" marker-mid="url(#k19)" marker-end="url(#k19)"/>
<path d="M1706 171l30 5-55 2-13 -3 26 10 15 -2 9 1 52 -1 3 4-72 3-47 -4 38 10 0 -2 13 0 2 -2 4 2 30 0 26 3-11 1-10 4-4 -4-81 1-18 2-2 -3-11 0-4 2 76 6 2 -1 12 1 16 1 21 -2 50 10-12 -1-39 -2-37 -2-30 2-17 6 50 -2 27 0 1 1 7 -1 5 2 3 0 42 9-74 -3-30 3-52 0-3 -3-11 7 54 -1 0 2 9 0 23 0 5 -1 37 0 22 -2 20 4 7 -3-25 7-90 2-31 -5-43 3 120 7 32 -2 19 3 13 3-1 2-14 -2-1 2-65 0-20 -2-6 1-30 1-45 3 4 -1 8 0 33 3 31 -1 60 -2 9 3-11 7-68 -4-14 2-34 1-4 -2-8 -1-6 7 9 1 8 -1 15 0 27 2 9 -1 5 -2 48 2 36 3 34 -3-74 5-17 3-40 -1-57 -3-12 0-2 3-7 6 106 1 58 6-17 1-8 -3-42 1-38 0-14 -3-16 0-29 7 2 0 0 2 15 -3 6 4 3 0 12 -1 5 0 5 -2 7 2 35 2 23 -4 85 1 10 6-27 2-120 0-5 1-3 -5-16 5-31 -5 6 7 68 3 52 1 49 -5 10 9-78 -1-10 0-12 3-71 2 17 4 23 0 3 -5 8 4 24 -3 53 4 13 -1 1 -2 17 1 14 -3 24 4-35 2-11 0-51 3-23 -1-42 3-30 -1-17 -3-2 3-10 -2 0 -1-1 7 32 1 53 -3 90 2 0 7-8 -2-25 1-103 1-32 3 47 0 63 2 16 2 26 6-3 0-21 -2-87 -2-7 2-3 5 22 -1 65 2 24 3 138 -3 3 -2 23 3-2 6-88 -2-28 2 0 2-17 -5-9 2-101 -1-41 -1-15 5 28 4 12 -3 35 0 92 4 8 -2 113 -2-3 7-110 0-23 4-89 -1-14 1-48 -5 8 7 25 2 34 0 4 1 121 -3 58 0-34 7-66 3-50 -2-31 1-13 -4-38 6 161 7-74 4-29 -3-8 2-19 1-5 -1-35 -3 98 8 7 0 48 0 3 0 25 4-22 -1-21 1-25 -1-39 4-26 0-51 -2 27 7 6 0 13 -2 2 0 66 3 48 5-41 -1-2 3-46 -2 65 3 9 5 16 -4 5 5-24 0-20 1-28 8 5 1 12 -4 20 4 0 -1 28 -2-19 5-56 1" fill="none" marker-start="url(#k20)" marker-mid="url(#k20)" marker-end="url(#k20)"/>
<path d="M1740 159l2 1 11 7-6 -4-5 1-14 2-60 5 14 -1 15 -1 12 4 21 -1 1 1 36 5-7 -2-1 0-21 -1-5 3-67 -3-10 0-3 3-6 5 0 -2 11 3 21 -1 37 -3 2 4 13 0 7 -1 21 1 7 6-40 1-12 -2-13 2-4 -3-14 2-1 1-32 0-5 -2 0 -3-7 2-11 9 29 0 2 0 5 -5 7 2 11 -1 18 -1 9 0 11 3 5 -3 5 3 40 5-6 -2-22 3-22 -1-24 0-20 -2-17 1-13 0-13 3-4 -1-9 7 1 -2 3 2 40 1 7 -5 3 2 5 0 0 -2 7 3 8 1 11 -1 10 1 14 -1 33 -2 12 -1-8 11-56 -1-13 1-7 -3-4 -1-12 3-40 -4-5 5-4 -4-10 3-1 7 3 -5 10 3 7 0 11 0 6 1 25 -1 4 -1 24 -1 13 1 2 -2 9 3 2 -2 3 1 5 3 9 0 36 -3 6 -1 20 10-44 -5-3 0-2 3-2 2-30 0-48 -4-5 2-8 -3-4 0-12 2-32 -2-1 0 4 9 10 -2 13 4 31 -5 43 4 24 1 39 0-1 2-8 -1-15 3-25 -2-2 0-38 -1-7 3-4 0-29 -2 0 1-13 1-29 6 5 1 3 -2 35 0 9 3 10 -1 25 -1 19 2 18 -3 64 7-15 -2-5 1-27 -2-21 3-12 2-5 -3-1 -2-2 5-5 -4-8 -1-18 2-10 -1-5 0-52 9 15 0 7 -4 5 0 12 4 1 -4 15 1 4 1 28 -1 37 4 20 -3 5 -2 15 2 9 1 12 -3-2 11 0 -5-2 5-41 0-2 0-3 -2-8 -1-10 0-5 3-1 -5-8 5-27 0-38 -4-3 1-8 -1-4 4-15 -5-12 5 3 3 4 0 5 -2 22 2 4 2 1 0 11 -3 39 1 5 1 103 -3 20 6-9 5-35 -3-53 -2-4 5-1 0-2 -5 0 1-3 1-18 3-24 -1-38 -2-14 3-5 -3-14 8 12 -1 8 0 1 -2 6 3 1 -4 19 4 1 -2 7 -2 67 5 1 -4 71 3 11 -4 14 4-7 3-65 2-34 -2-7 -1-36 1-8 3-11 -3-28 -1-2 4-4 1-14 -2-3 8 2 -3 11 -2 31 1 49 4 8 -1 0 -1 36 -3 18 0 71 0-27 7-22 -1-14 3-8 -3-4 1-33 3-17 1-20 -2-13 2-23 -2-11 2-1 -1-32 -2 2 7 2 0 25 -3 32 2 26 0 0 2 23 -2 45 1 48 -1 15 9-6 -5-24 2-43 0-45 1-26 2-19 -1-15 -2-18 0-2 0-4 1-13 -1-7 5 2 -1 4 0 6 0 15 5 14 -2 5 -3 91 0 1 5 4 -3 11 -2 18 3-13 6-75 -1-36 0-11 -1-1 1-1 1-2 2-23 -1-10 -4 35 10 18 -3 4 0 10 2 3 2 24 -5 58 2 53 0-13 9-9 -4-54 1-9 -1-43 -1-23 3-12 -1-7 1-3 -3-12 5-5 -2-7 0-5 6 21 -3 2 1 12 -1 14 1 11 2 5 -2 83 -1 125 5 12 3-12 -1-106 -1-10 2-8 -1-32 1-88 3-10 -3-1 -1-18 4 13 6 1 -4 11 4 6 -1 1 -4 27 3 23 0 39 1 9 -1 18 1 11 -1 27 -3 4 4 105 -3 13 6-1 2-1 -3-5 2 0 2-1 -2-88 3-37 -2-25 1-6 0-3 1-43 0-26 -2-10 1-5 -3-2 4-25 -1-2 -4-1 5-2 -5-16 8 0 -2 15 3 26 0 14 -3 14 0 11 0 2 0 12 2 12 0 3 -1 32 4 1 0 4 -1 45 -1 1 2 29 -3 60 2 8 -4 2 4-143 4-1 2-60 -4-57 4 0 -2-18 0-1 1-3 1-14 2 3 5 9 -5 9 0 12 0 1 2 20 0 3 0 26 3 2 0 73 -2 76 2-4 1-31 2-16 3-1 -1-2 -1-52 2-13 -5 0 0-21 0-17 1-12 4-3 -5-27 1-8 4-3 -1-3 -3-3 4-5 -5 3 8 1 3 2 -2 2 -2 0 1 9 2 14 0 7 1 11 -2 22 0 11 0 1 1 3 -3 45 2 10 1 4 -3 31 7-8 -1-11 3-4 1-3 -5-4 2-15 2-19 -1-41 0-14 -2-12 4-15 -1-9 1-22 2 2 -1 14 4 9 -4 4 1 37 4 1 -4 7 3 4 -3 9 3 2 -3 4 4 1 -5 0 3 46 0 2 -1 26 0 17 9-25 -4-14 1-6 0-65 2-16 1-8 -4 0 2-7 2-6 -3-4 -1-22 1-10 -2 19 6 15 5 14 -1 32 1 7 -2 19 1 2 -3 8 3 18 1 34 -3-1 7-6 -1-8 -2-29 4-9 -1-9 1-12 -1-18 1-3 -4 5 11 8 -5 10 4 31 -3 8 4 15 0 10 -2 14 7-17 0-15 -1-5 -3-54 8 15 -1 6 0 8 1 22 3 21 -4 12 3-25 2-26 4-11 -3-17 2" fill="none" marker-start="url(#k21)" marker-mid="url(#k21)" marker-end="url(#k21)"/>
<path d="M1743 154l-21 2 5 4 2 -3-62 15 92 5-47 1-69 0-2 7 10 -4 15 4 4 -4 30 4 4 -5 39 5-19 1-2 5-4 -5-40 5-7 -4-10 -1-26 3-5 5 3 2 8 -2 12 -1 28 0 1 2 13 -2 21 0 5 -1 15 5 30 -2-6 3-2 3-18 2-40 -1-15 1-27 -3-31 -2 11 9 61 -3 32 5 5 -5 51 1 6 3-34 5-54 0-5 0-2 2-39 -2-10 -2-4 2-28 0 8 3 0 1 7 2 16 1 29 1 20 0 34 -3 13 0 44 -2-22 6-18 2-35 3-58 0-44 2 8 0 4 -1 1 4 8 -1 13 1 9 -1 4 0 8 0 1 2 18 -2 2 0 14 -2 2 3 15 -1 44 -2 14 0-5 9-24 1-17 -1-19 -4-13 1-3 4-65 0-1 -1-12 -1-5 -3 3 7 15 0 22 2 1 0 19 1 30 1 5 -2 9 2 20 -3 26 1 37 4-20 -1-69 5-61 -5-5 2-4 3-9 -3-2 3-11 0-7 4 8 2 8 -2 10 0 6 1 79 1 17 0 60 0-61 4-94 -3-3 5-1 -2-1 -3-7 3-1 -3-8 2-6 1 0 7 1 1 6 -4 11 3 3 -4 31 1 7 4 3 -5 42 5 4 0 39 0 63 -5-11 7-28 3-85 -4-10 3-72 6 4 2 1 -3 5 0 7 -2 4 3 5 -2 17 3 20 0 41 -2 46 3 4 -3 8 2 4 0 40 -4-74 11-41 -2-20 0-51 -3-15 0-5 3-1 -2-6 1-6 1-2 -3 7 6 3 2 11 2 19 -1 8 2 12 0 8 -1 13 6-10 -3-11 -1-6 1-8 1-7 3-11 -2-7 0-9 0-5 1-10 1 7 3 32 -2 66 2 9 3 2 0 56 -5 28 9-7 2-10 -5-38 2-30 -1-4 3-77 -2-5 3-28 5 7 -1 14 0 17 2 9 -3 33 2 58 0 43 -2 5 6-99 1-43 2-11 -2-1 -1-16 -2-11 7 37 0 7 4 45 -3 17 0 11 -2 60 4-59 3-16 3-44 -1-14 1-13 -4-17 4-13 -4-4 1 0 3-1 6 6 -3 11 3 24 -3 6 4 34 -4 41 0 38 -1 19 0 65 4 34 1 18 5-6 -4-5 2-8 2-85 -1-20 -3-20 3-112 -1-2 0-18 -2-7 1-4 3 1 5 7 1 2 -2 7 1 3 0 1 0 20 -1 2 2 11 0 14 -1 18 2 1 0 26 -3 2 3 168 -5 9 3 6 5-86 -2-54 3-22 -1-23 3-39 -5-12 3-41 0-2 2-7 -1-3 1-5 -4-12 5 2 4 11 -1 9 1 14 1 19 -1 29 1 9 -2 6 -2 10 0 41 -1 18 2 32 2 91 4-97 1-2 0-2 -1-1 2-18 -1-29 -3-26 4-6 0-5 -3-22 2-11 -3-16 2-8 2-18 -2 0 1-24 2 4 1 13 2 23 0 17 2 24 0 4 -4 40 1 18 -1 13 5 36 -3 17 5-66 2-7 2-7 -5-2 5-38 -4-5 0-2 2-20 0-26 0-7 -3-1 5-21 0-1 -5-2 4-3 -4-10 2 13 5 0 2 5 1 4 -3 0 0 4 4 1 -4 19 2 9 2 88 0 37 2-2 4-21 -4-1 1-11 0-3 -2-19 0-4 0-4 1-2 4-2 -1-16 -2-9 -2-1 4-9 1-12 -2-1 0-14 -2-14 2-6 -2-3 1-18 0 32 6 5 1 12 1 1 -1 4 -3 12 3 4 -1 1 -1 11 3 9 -3 19 4 22 -2 29 1 4 0 10 1 6 -2 14 6-10 1-14 -1-12 0-20 -2-5 -1-1 0-2 2-35 1-3 -1-14 -1-24 3-7 -3-11 4-1 -4-1 3-2 0-8 0-5 -2 14 8 20 0 9 -3 3 1 7 3 28 -3 5 0 15 0 10 -1 52 9-12 -2 0 0-53 0-22 3-3 -3-6 -1-10 -1 24 11 14 -3 4 2 11 -1 12 -1 7 -2 5 2 5 3 12 -3 7 0 8 2 2 1-27 3-12 3-3 0-13 -2-30 5 34 -1 27 2-24 6-28 -1 24 4" fill="none" marker-start="url(#k22)" marker-mid="url(#k22)" marker-end="url(#k22)"/>
<path d="M1717 154l-30 25-28 1 42 0 2 6-29 3-19 8 113 -4-84 5-27 0-32 11 50 0 37 4-19 -1-28 0-14 15-17 2-10 8-6 -1-6 0-2 5 39 3 42 1 120 1-186 0 54 16-26 -3-9 2-5 14 104 5 41 -2-174 9 38 2 3 1 14 -1 86 5-150 11 179 4-171 7 23 -2 99 7-99 0-4 7 15 -2 14 -1 33 1 4 2 70 5-59 1-7 -4-15 2-44 3-2 -4-5 1 16 8 24 1 17 -2 9 -1 181 3-179 1-34 4-43 0 106 8-51 3-52 2-4 5 1 0 7 -2 3 3 98 -1 160 0-139 6-124 -1-9 0-10 4 8 1 16 -1 43 3 1 1 2 -3 23 3 82 -5 2 4-30 2-76 1-17 -1-4 0-56 9 76 -3 7 3 56 1 43 2-110 1-6 2-11 -2-10 4-9 0-6 6 46 -5 67 5 15 -1 5 -3-16 10-5 -4-50 0-11 1-1 0-10 2-2 -4-20 4 40 4 57 0 4 3-42 2 24 9 3 -4 42 11-11 -3-4 -2-1 2-30 4 23 10-27 -4-19 2" fill="none" marker-start="url(#k23)" marker-mid="url(#k23)" marker-end="url(#k23)"/>
<path d="M1616 270l-8 39 22 7 78 16-4 3-7 -3-11 7 8 -3 1 4 4 -2 8 -1 1 3 5 0 23 2-23 5-4 -3-4 0-5 2-10 -4-9 1-1 4-62 -1 80 4 31 0-78 14 36 -4 22 2 23 13-128 13 180 -1-140 10 6 10 47 6" fill="none" marker-start="url(#k24)" marker-mid="url(#k24)" marker-end="url(#k24)"/>
<path d="M1699 331l-7 3-9 1-1 -3-5 -2-2 3 9 4 2 2 7 -2 1 2 6 2 7 2-1 0-15 -1-11 4-7 -3 19 5-13 6" fill="none" marker-start="url(#k25)" marker-mid="url(#k25)" marker-end="url(#k25)"/>
</g>
<ellipse cx="1696.5" cy="341.5" rx="23.3" ry="12.8" transform="rotate(27 1696.5 341.5)" fill="none" stroke="#231f20" stroke-width="4.3" stroke-dasharray="0.01 8.96" stroke-linecap="square"/>
<g filter="url(#fillc)">
<path d="M1379 646l-7 0-2 0-3 0-1 -3-1 4-3 0-2 -5 0 3 0 1-1 -2 0 -1-1 0-1 4 0 -3 0 1-2 -2 0 1-1 3-3 -2-9 1-8 6 2 -1 1 -2 2 2 1 2 1 -2 0 2 1 -3 1 2 0 0 0 -2 1 -1 5 3 0 -4 0 4 1 0 0 -1 1 2 0 -4 0 4 1 -4 4 2 0 0 1 -1 1 0 2 -1 2 3 4 -3 1 1 0 -2 0 5 3 -4 0 0 3 -1 0 4 0 1 2 0 1 -5 0 0 1 3 1 -1 2 2 0 -3 1 3 1 -2 1 0 1 3 4 3-1 3-5 -5 0 4-2 -4-2 5-1 -4-1 4-3 -5-3 5-4 -5 0 5-2 -4-2 3-2 -1-2 1 0 -3-2 4-1 -2-1 -3-2 4 0 -1-1 1-1 -1 0 0-1 1-2 -1-1 1-1 -4-4 2-3 -1-3 4-2 -5-1 3 0 1-1 -3 0 4-1 -1 0 -2-2 1-4 1-4 1-1 0-14 6 1 0 2 -2 1 2 3 0 0 0 2 -2 0 0 6 -3 0 0 1 5 4 -5 3 0 0 4 1 -2 2 2 1 -3 2 2 0 -3 3 1 0 1 1 1 3 1 0 1 1 -5 2 0 0 1 0 3 8 -2 2 -2 0 5 2 -1 1 -3 0 2 1 2 0 0 1 -3 1 2 1 1 4 -1 0 0 2 -3 1 -1 2 2 0 -2 0 0 1 5 0 -1 2 -4 3 0 0 2 3 -2 0 3 2 -3 2 3 1 1 2 -4 0 5 1 -4 0 4 0 -1 0 0 1 -4 0 3 4 -3 2 4 0 0 2 0 1 1 0 -2 1 2 6 5-2 -1 0 -2-4 1-4 -2-2 2-1 0-3 3-1 -1-2 -2-3 1 0 1 0 -1-1 0 0 0 0 2-2 -2-2 2-3 0-4 -5-3 0-1 5-2 -1-1 -4 0 3-2 -1-1 0-1 3-1 -5 0 4-1 0 0 -4 0 4 0 -4-5 1 0 3-1 1-1 0 0 0-3 -2-2 -2-1 4-1 -3-3 3-1 -1-1 -4-1 3-1 -1-1 3-1 -5 0 1-4 2 0 -2-2 0-1 4-4 -4-1 0-1 3-1 0-4 0 0 -3-1 1-2 1-1 1-2 1-1 -1 0 -3-2 3-2 1 0 -1 0 -1-1 -1 0 -1-2 0-4 3 0 0-1 1 0 -2 0 -1 0 2-1 -4 0 2 0 3 0 -3-1 0 0 2-1 -1-2 1-2 0-1 0-2 1-13 6 3 -1 0 -1 2 2 3 -3 2 3 1 -1 1 0 0 -3 2 2 0 -3 1 3 0 -1 2 2 0 1 1 0 1 -2 1 1 4 -4 2 2 5 -1 1 4 1 -3 1 2 0 -3 0 3 6 -1 2 1 0 -2 2 3 0 -5 3 3 4 -3 1 2 0 3 0 -4 0 0 1 4 0 -2 1 -1 1 3 0 -3 0 2 0 -2 2 3 3 -3 1 1 1 -3 5 3 4 0 2 -3 3 4 2 1 1 -4 1 1 1 0 3 -1 0 4 0 -3 1 -2 0 2 1 2 0 -2 0 3 2 -5 0 3 4 1 1 -4 0 3 1 -1 0 2 0 -3 0 1 1 3 0 -4 1 1 0 1 0 -3 0 3 0 0 1 1 1 -1 0 -2 1 3 1 -2 0 2 1 0 0 -1 4 2 0 -2 1 -3 2 0 2 0 0 5 1 -4 0 4 1 -3 1 3 0 0 3 -2 0 -2 1 4 1 -4 1 1 1 1 1 -3 1 2 0 0 1 -1 2 2 1 0 0 -1 0 1 4 0 1 2 0 -3 0 -2 9 11-3 -2-1 0-7 -3 0 4 0 1-1 0-2 -4 0 4-1 0-2 0-2 0-1 -2-1 -1-2 1-1 2-1 -4 0 4-4 -4 0 1 0 0-1 0-1 -1-2 4-1 -4-1 -1 0 4-1 -2-2 2 0 -1-1 -1-1 -2 0 0-1 4-1 -3 0 2-1 2-1 -3 0 1 0 2-1 -1 0 0-3 -4 0 4-1 1-3 -1 0 -1-4 2 0 0 0 -3-2 -1-2 1-1 -2-1 5 0 -4 0 3-1 -1-1 -2-2 0-1 3-2 -3 0 1 0 1-3 -1-1 1 0 -2-1 0 0 -1-2 3-4 1-1 0 0 -3-2 4-2 0 0 0-1 -4-1 2 0 2-1 -1 0 -2-1 2 0 -4 0 1-1 4-2 -1-1 -4-1 1-4 -1-1 5 0 -2-2 1 0 -2 0 3-2 -5 0 0-1 0 0 5-1 -5-1 0-1 5-1 -1-1 0-1 1-1 -5-1 2 0 1-4 1-1 -1-3 -3-2 4-1 -2 0 2-2 -3-3 -1-1 4 0 -4-1 5-1 -1 0 -3-1 4-1 -5-1 2-3 0-4 2-1 -4-1 4 0 0-4 1-7 4 1 -1 1 -1 0 4 3 -3 2 -2 0 5 3 -4 0 4 4 -3 1 -1 0 3 2 -1 0 2 0 -5 0 1 1 0 0 -1 1 2 1 3 1 -4 1 4 0 0 5 -2 1 -2 0 0 0 0 0 2 1 1 1 -4 1 5 1 0 2 -4 2 2 1 -3 1 1 3 0 1 2 0 2 0 0 1 -3 1 0 1 0 0 2 2 -1 1 1 3 -2 0 -1 4 3 2 -2 4 -2 0 3 0 -3 1 2 2 -1 1 4 3 -5 1 2 1 -2 5 1 0 3 4 -1 0 1 1 1 2 -3 1 -2 1 4 0 -4 5 4 0 -4 1 2 1 -1 0 0 1 3 0 -3 2 3 3 0 1 0 0 -1 1 1 0 1 1 -1 0 -2 0 -1 1 -1 0 2 0 0 1 -1 0 -1 3 4 1 -1 4 -2 1 3 1 -3 0 1 1 -2 2 1 0 4 1 -3 0 -2 1 0 1 2 0 2 1 -1 1 -1 0 2 0 1 1 -5 0 0 1 4 1 -4 1 0 1 4 0 -4 1 5 1 -4 2 3 1 -4 0 3 3 -3 2 1 0 3 3 -1 1 2 2 -3 2 -2 6 2 2 1 0 -2 1 -1 2 4 0 -2 1 1 0 0 2 6-5 0-1 -1-1 -2-1 2-1 3-1 -2-2 -1 0 0-1 0-1 0-1 -1 0 0-4 2-2 2 0 0-2 -3 0 3-2 -2-2 -3-1 2 0 0-4 3-1 -1 0 -2 0 0-1 -1-2 1-2 3-3 -1 0 1 0 -4 0 1-1 0 0 2-6 1-2 0 0 -4-1 2-2 1-2 -2-1 -2 0 5 0 -3 0 2 0 -2-1 -2-3 1 0 1-2 -1-1 1 0 -1-1 1-5 -2-1 3-1 -3 0 0-1 2-1 -2 0 0-4 4-2 -2 0 -1 0 -1 0 5-1 -2-1 -2-2 1-1 0-3 3 0 -3-1 -1-1 -1-1 0 0 4-1 -4 0 2 0 3-2 -4 0 4-1 -5 0 1-2 -1 0 5-1 -4-1 2-1 2-1 -2-2 2 0 -3-1 3 0 -3-1 -1 0 2-2 -1-1 0 0 0-1 2-1 -2-1 -1-2 1 0 -1-4 1 0 -2 0 2 0 -2-2 3 0 -1 0 1-1 0 0 0-1 0-1 -2-1 -1-1 0-1 2 0 1-1 1-2 1-1 -5-1 2-2 -1-2 2-2 0 0 -1-1 1-1 -3 0 3-3 2 0 0-1 0-1 -3 0 -2-1 4-2 -4 0 4 0 -1-1 -2-2 -1 0 5-3 -1-2 -1-1 1-1 -1-2 -3-2 1-4 3-3 6 1 0 1 -3 3 3 3 -1 0 1 0 -2 8 2 2 1 0 -5 1 0 1 2 0 -1 3 3 0 -3 0 0 1 0 1 0 0 2 1 -1 1 2 0 -4 0 5 1 -5 1 2 1 1 1 1 0 -3 1 2 1 -1 0 1 1 1 1 -2 0 0 3 2 2 1 2 0 0 -1 1 -2 1 -1 2 1 1 3 0 -2 2 2 0 -3 0 -2 1 4 2 0 0 -1 2 2 1 -5 0 4 2 -3 0 1 1 -1 0 -1 0 3 0 -3 2 5 2 -3 0 0 1 -1 0 -1 3 1 0 1 0 0 1 3 1 -4 1 3 0 -3 0 2 2 1 1 0 0 -1 1 0 0 -2 0 3 6 -2 2 -1 1 1 1 1 0 1 1 -1 0 0 0 -1 1 1 2 -1 2 1 1 -2 0 3 1 -4 1 1 0 1 1 0 0 0 4 -2 1 3 1 0 1 0 1 2 0 -2 0 -2 4 2 0 -3 1 0 1 5 0 0 1 -2 0 1 2 -1 0 1 0 -4 0 4 1 0 1 -1 0 -2 2 1 0 1 2 2 0 0 1 -5 1 1 0 4 1 -2 0 2 3 0 1 -3 1 3 0 -5 2 4 1 -4 2 4 3 -2 1 1 1 -2 1 0 3 1 5 2 1 1 1 -5 2 3 4 0 2 -3 2 5 2 -4 0 1 1 -1 1 2 0 -1 9 0 0 3 2 -2 0 2 0 -2 3 2-1 3-2 3-1 0 0 -1-3 -4-1 2-5 1-3 -2-2 4 0 -1-2 -3-1 2-1 0 0 -1-1 -1-1 1-2 2-2 -2-2 1-2 -2-1 -1-1 3-1 -3-2 1 0 4 0 0-2 -4-2 1 0 -2-1 1-1 3-2 1-1 -1-1 -2 0 -1-1 4-1 -1-3 1-1 -3-3 3-1 -4-3 0-1 2-1 2 0 0-1 -2-2 -2-2 4-1 -1-1 1-1 -3-1 3-1 -2-1 1-1 0 0 0 0 -1 0 0 0 1-1 1 0 -5-1 2 0 2 0 0-1 -4-1 4-3 0-1 0-1 0 0 -1-1 -2-5 1-1 3 0 0-1 -5 0 0-1 5-2 -3 0 -1-2 1 0 -2 0 4-1 -1 0 2-2 -2-2 1-1 1 0 -5-1 2-1 1 0 -3 0 0-1 3 0 -2-2 1 0 3 0 -1-1 -2-1 -1 0 2-1 -2-1 4-3 -1 0 0-4 0-1 -1-3 -3-1 5-1 -3-4 2 0 0-3 -1 0 0-2 -2 0 3-1 -3 0 -1-1 1 0 0-1 -1-3 1 0 1-1 3 0 -5-1 0-1 2-2 0-1 1-1 0-3 -3 0 1-1 2-2 2-1 -1-1 1 0 -3-2 -1-1 1 0 1 0 -3-1 4 0 1-2 0-1 0-1 -3-1 0 0 2 0 0-2 -3 0 -1-5 4-1 -4-1 5-1 -1-1 -1-1 0-5 3 0 4 1 -2 1 -2 1 2 2 1 0 -3 3 2 0 0 1 2 0 -2 1 3 0 0 1 0 0 -1 1 1 1 0 6 -2 3 -1 0 3 1 -1 0 -1 2 1 3 -3 0 3 0 1 2 -1 2 -3 0 4 0 -2 1 -2 1 3 3 -1 1 -3 1 5 1 -5 2 5 1 -4 0 4 2 0 1 -4 0 3 1 1 0 -2 2 -1 2 3 0 -5 2 1 0 3 2 -4 1 2 1 2 0 -4 0 4 1 -3 3 0 1 -1 0 4 1 -4 1 5 1 -1 0 -2 0 2 2 0 0 -3 1 3 1 -2 1 0 1 0 0 2 0 -4 0 1 3 4 2 -3 1 -2 0 2 2 3 0 -3 1 2 0 -1 1 -2 0 1 3 -1 0 2 1 -3 0 4 0 -2 2 -2 1 0 0 4 1 1 1 -4 0 2 0 1 0 -2 2 -2 1 3 0 0 0 -3 1 5 1 -2 0 1 0 0 2 -1 2 0 0 2 1 -1 4 -1 0 -1 1 3 3 -1 1 -3 1 2 0 0 1 1 1 -3 0 4 1 -4 0 0 2 1 1 -2 2 3 1 -3 2 2 0 0 1 1 1 2 4 -2 0 -1 1 -1 2 2 1 0 0 -2 1 0 0 2 1 2 1 -4 0 2 1 2 3 -1 1 0 0 -3 1 4 2 -4 4 3 0 -1 0 2 1 0 4 -3 1 -1 0 1 2 -1 0 -1 1 3 4 -1 2 1 1 0 1 -2 1 1 0 -1 1 -1 2 5 1 -4 1 2 0 2 0 -3 3 3 2 -2 1 1 0 -4 1 4 2 -4 0 3 3 2 0 0 0 0 2 -2 0 -2 2 0 0 2 4 4 0 3-5 0-2 -3-2 1-1 3 0 0 0 -2 0 1-1 1 0 -3-1 2-1 -1 0 1-2 -4-2 3-1 -2 0 -1-1 3-1 -3-1 0-1 1-7 4 0 -1-2 0 0 -2-2 -2 0 3-2 0-1 -2-1 1-1 -1-1 3 0 1-1 -2-1 -2 0 3-1 -4-5 3 0 2 0 0 0 -4-2 2-2 -3 0 1 0 -1-1 2-3 3-1 0-2 -1-3 1 0 -3-2 1-1 -3-1 4 0 -3 0 0 0 2 0 2-2 -3-1 2-1 1-1 -1 0 0-1 1 0 -1-1 -4-1 2-2 1-1 2-3 -4-3 1-2 -1 0 2-4 -3-1 2-4 3-1 -5 0 3-1 -2-4 -1 0 0-3 2 0 0-8 0-4 -2-1 1 0 2-1 1-1 -2-1 -2-2 0-4 1-2 4-2 -3-2 0 0 2-1 -1 0 1-1 -3 0 4-3 -1-2 -2-1 -1-1 1-3 2-1 1-1 -1 0 -3-1 0-2 1 0 -1-1 4-1 -1 0 -4-2 4-1 -3 0 2 0 2-2 -4-3 4-1 -1-1 0-1 -1 0 -2-2 4 0 -4-1 0 0 0-3 -1-1 1-2 1-1 0-1 3 0 -4 0 0-1 1 0 3-1 -2-1 -2-1 3-1 -4-2 4-1 -2-1 2 0 -3-1 2 0 -1-1 3-1 0-2 -1-2 0-1 -2 0 2 0 -3-1 2 0 -3-1 0 0 3-2 2 0 0 1 3 2 3 3 -5 3 0 1 5 4 0 0 -5 2 5 0 -3 1 3 1 -2 1 -1 1 -1 0 1 0 2 1 -3 0 2 1 -3 1 1 0 3 4 -2 0 2 2 -3 0 2 1 2 1 -5 0 1 2 -1 1 1 1 2 0 0 1 -3 1 0 2 4 1 -4 0 2 1 1 1 0 0 0 0 0 1 1 1 -1 0 -3 1 3 3 -1 1 -1 3 0 1 0 1 1 0 -2 1 1 5 2 0 1 0 -3 0 3 1 0 1 -3 0 2 0 -1 2 -1 0 3 2 -2 0 0 0 0 1 1 2 -3 2 3 1 -1 0 3 4 -4 1 3 1 -1 1 -1 1 1 1 -3 3 1 0 0 1 1 3 1 3 1 2 -4 0 5 2 -4 0 4 1 -2 1 1 1 1 1 0 0 0 0 -5 3 1 2 1 0 0 1 2 0 1 1 -1 2 -4 0 3 0 2 1 -5 3 2 3 2 1 -1 1 0 2 0 0 -2 2 3 3 -4 1 5 0 -3 1 2 6 -1 1 -1 2 2 2 -1 0 -3 2 0 0 3 2 -3 1 1 2 4 1 -1 0 -2 0 0 1 2 2 0 1 1 2 0 1 0 0 -2 0 0 5 -2 1 2 4 0 0 1 1 -2 1 -2 1 3 1 1 1 -2 0 1 0 1 1 -1 1 -2 0 4 1 -5 5 5 2 -4 1 2 0 1 2 0 0 -1 1 2 1 -1 2 1 1 0 0 0 1 -4 0 1 3 2 5 -1 1 -3 1 5 0 -2 2 2 3 5-2 1-5 -5-3 4-2 -4-1 2 0 0-2 0-1 -2-1 2-1 0-1 0-1 3-1 -3-4 0 0 1-2 1 0 -3-1 3-1 0-1 1-1 -1 0 -3-1 0-1 0 0 3-2 -3 0 1-1 2 0 -3-1 0 0 4 0 -3-2 3 0 -3-1 1 0 1-1 -4-2 2 0 -2-2 0-1 0 0 1-2 0 0 1-1 1-2 2 0 -1-1 0-1 -4-1 1 0 4 0 -4 0 -1-7 3 0 1 0 -3-3 -1-5 2-3 3-1 -4-1 1-1 3-1 -3 0 -1-1 3-1 -2-4 2-1 -2 0 -2-1 3 0 -1-2 2 0 -4 0 3 0 1-1 -1 0 -1-2 -1-1 3-2 -3 0 -1-1 2-2 3-3 0 0 0-1 -2 0 -2-2 2-3 -1-1 1-1 -3 0 4-1 0-1 -2-2 2-2 -4-1 3 0 1 0 -3-2 0-3 0-3 0-1 4-1 -1 0 1-2 -5-2 2-1 -2-4 5 0 -1-2 1-1 -2-1 -2-2 1 0 2 0 -3-2 -1 0 5 0 -1-1 -2-1 3 0 -5-2 1-1 0-1 0 0 1-1 3-1 -2 0 -1-2 -1-2 2 0 -3-1 4-1 -1-2 -3 0 0-2 4-1 -2-1 -2 0 1-1 0-2 0-2 4-1 -1-1 -1 0 2 0 -2 0 1-1 -3 0 3-2 -1 0 -2-2 -1 0 5-3 -4 0 1-2 -1 0 2 0 1 0 0-1 1-1 -5-1 3 0 -1-2 -2-1 4-2 -3 0 2-1 -3-1 2 0 -2-1 2-2 -2 0 1-5 4-2 -3-4 2-1 -1-2 2 0 5 5 0 2 -3 0 1 2 3 0 -5 1 0 0 5 1 -4 1 1 1 2 2 -1 1 -3 2 2 1 -1 0 1 1 1 0 1 1 -3 3 1 1 2 1 0 1 -4 0 4 0 -4 1 3 1 2 1 -5 0 0 0 4 1 -2 1 1 2 -1 3 -2 1 5 0 -4 1 -1 0 3 1 -3 2 5 6 -2 1 -3 0 3 1 1 0 -3 0 0 3 3 2 -2 1 1 0 -1 1 2 1 -1 2 -1 2 1 2 2 4 -4 0 2 1 1 0 0 1 -4 1 0 1 0 2 3 1 0 2 2 4 -4 5 1 4 0 0 1 1 1 0 -4 3 1 0 2 1 -3 2 4 1 1 0 0 1 -5 1 5 0 -4 1 1 1 1 0 -3 0 4 1 1 0 -5 1 4 1 -4 0 4 1 -1 1 -2 0 1 0 0 1 -1 0 4 1 0 0 -5 1 0 0 2 4 2 1 -4 1 3 0 1 1 -3 0 4 1 -5 2 4 0 1 1 -2 0 0 0 0 0 -3 5 3 1 1 4 1 0 -1 2 -3 2 -1 3 5 1 -2 1 2 0 0 1 -3 1 2 1 -2 2 1 0 1 3 -2 0 -1 1 1 1 3 4 -4 3 2 1 -2 1 0 1 -1 0 4 3 0 1 1 0 -5 1 0 1 2 2 1 0 2 1 -3 0 1 0 1 1 -2 1 -1 0 -1 1 0 4 0 3 4 0 -1 2 1 1 -3 1 3 3 -3 1 3 1 1 1 -3 0 -2 0 5 1 0 0 -5 2 1 1 1 2 3 0 -3 0 -1 1 -1 1 5 1 -2 0 2 0 -3 1 -2 1 1 5 3 1 -3 0 3 8 7-1 -1-4 1-1 -3-1 3-3 -1-2 1-3 0 0 -2 0 0-1 -3 0 3-4 1-1 -4 0 5-1 -4-1 0-1 0 0 3-2 -3-5 2-3 -2-1 0-2 2-7 0-1 -2 0 -1 0 1-4 0-1 1 0 1-2 -3 0 0 0 2-1 -1-1 3 0 1-1 -5 0 5-1 -1-2 1 0 -1-3 -4-2 5-1 -5-1 0-1 2 0 -1-2 1-3 1-1 1-1 1-1 -1-3 -3-2 4-1 -1-1 1-1 -1 0 1-1 -3-2 -1-1 1-1 0 0 -2-2 3-2 1 0 -3-1 4 0 -1-1 -4-1 0 0 3-5 1-2 1-2 -4 0 3 0 -4-2 4-1 1-1 -3 0 1-2 0-1 -3 0 0 0 1-1 3-1 0-1 1 0 -5-1 3-1 1 0 -2-1 2-2 -4 0 2 0 -1-2 -1 0 3-1 0-1 0-3 2 0 -5-2 4-1 -4 0 4-1 -1-5 -1-3 0 0 1 0 -1-4 -2-4 3-2 -3 0 5-1 -1-2 0 0 1-3 -5-1 2 0 -1-1 4-2 -2 0 2-2 0 0 -5-1 2-1 -2-2 5-3 -3 0 2-1 -1 0 1-2 -2 0 3-1 0-1 -1-2 -1 0 0 0 0-2 -3 0 2-1 -1 0 3 0 -2-1 -2 0 2-1 2 0 1 0 -5 0 1-1 1 0 3-2 -5 0 5-1 -3 0 -1-1 -1-4 1 0 1-1 0 0 3-1 -3-2 2-1 1 0 0-1 -5-2 4-1 -4-2 3-1 1 0 -1-1 -2-1 -1-3 4 0 -4-2 0-1 4 0 0-1 1-2 0 0 -1-6 -4-1 2 1 7 1 0 1 -2 1 0 2 3 1 -2 0 3 3 0 1 -3 0 2 1 -3 0 4 0 -1 3 -1 1 -3 3 1 1 3 1 1 1 0 0 -2 2 1 2 1 0 -3 1 -1 1 -1 1 2 0 3 2 -5 1 5 0 -3 2 0 0 0 1 -1 1 3 2 1 0 -3 0 2 1 -4 1 5 0 -4 0 1 1 3 1 -1 4 1 0 -4 1 3 1 1 1 -1 5 -2 2 3 3 0 1 0 2 -5 1 3 0 -3 2 1 2 1 0 3 3 -4 1 4 0 -1 2 -1 1 0 0 -2 1 2 7 0 1 -2 2 1 3 0 2 2 1 -4 1 1 1 1 3 -1 1 4 1 -1 2 -4 0 2 1 -2 1 5 0 -4 2 4 5 0 2 -5 1 3 1 -2 0 2 0 2 5 -4 0 1 2 3 3 0 2 -4 1 2 0 -2 3 4 3 -1 0 0 1 -4 2 5 0 0 0 0 1 0 1 -2 2 -2 0 4 0 -3 0 2 2 0 0 1 1 -5 1 0 2 4 1 -1 1 1 0 -4 1 2 1 -1 1 3 0 -4 2 3 2 0 0 -3 1 5 1 -2 0 0 6 0 0 0 2 1 1 0 2 -3 2 3 1 -1 1 -2 1 1 0 -2 2 4 1 0 0 -1 1 2 0 -5 0 4 1 -2 2 1 0 -2 1 0 2 1 0 2 1 -4 2 3 0 1 3 -4 2 2 2 3 0 -1 0 -4 2 5 0 -1 2 -2 3 -2 2 3 8 2 0 0 1 -2 3 -1 0 -2 0 5 2 0 3 0 3 -1 5 6-2 0 0 -2-1 2 0 -4-2 3-2 1-1 -2 0 3-1 -4-1 2-3 2 0 0-3 -1 0 -4-1 5 0 -1-4 0-5 0 0 -1 0 1-1 0-2 -1-2 -3 0 4-1 -2-1 3 0 -2-2 -3-1 3-1 -2-1 1-2 -2-1 0 0 1-2 3-2 -2-1 -1-8 0 0 2 0 1-3 -2-1 -1 0 1-1 2-2 -1 0 1-1 -4-1 5-2 -5-1 4-1 -2-1 2-1 -2-3 -1 0 3-1 -4-2 4-1 1-1 -5-3 0-1 0 0 1-1 4-1 -5 0 3-1 -3-3 2 0 1-1 -1-1 1-1 2 0 0 0 -3 0 2-3 -4 0 5-1 -3-1 2-2 0 0 -1-1 -2 0 3-1 1-1 -5 0 2-2 -2-1 2-4 2-1 -4-2 5 0 -4-1 4 0 0-1 -4-1 3-1 1-1 -3-1 2-1 -4 0 1-1 1 0 0-1 3 0 -2-1 -3 0 0 0 5-1 -1 0 -3-1 0-1 2-1 0-1 0-1 0-2 0 0 0-4 0-1 1-3 1-5 -4 0 3-2 -3-2 4-4 -4-1 0-3 2-2 1-2 -4 0 1-3 3-1 0 0 -4-1 3-1 2-1 0-1 -5-1 4-2 -1 0 0-2 -1-1 -2-3 4-1 -1 0 -2-1 4 0 0 0 -1-1 0-2 1-2 -5 0 4 0 -4-1 0-2 3-1 -1-1 -1-1 0-2 3 0 0-3 -3 0 3 0 -3-1 4 0 -4-1 -1-1 5-2 0 0 -3-3 3-1 0 0 -1-1 -2 0 1-3 -1 0 0-1 3-1 -2 0 1-2 -4 0 2-1 3-1 -2 0 -2-1 1 0 1-1 -2 0 3-1 -4 0 4-3 0-1 -1-2 2-3 -2-1 -2-1 3-1 -4 2 10 2 -1 2 1 0 0 2 -4 1 5 1 0 1 -5 2 3 0 2 4 -1 3 1 1 -5 3 3 1 0 0 1 2 -4 0 3 1 -2 1 2 2 -1 6 3 2 -3 1 -2 2 3 2 0 0 -2 4 -1 1 3 0 -3 1 2 0 0 1 -1 0 3 1 -1 1 2 0 -4 0 2 1 2 7 -1 2 1 0 0 1 -4 2 4 0 -2 1 1 0 -4 1 3 0 1 1 -2 3 3 0 0 3 0 6 -1 1 -1 0 2 1 0 3 -5 1 0 1 1 0 -1 1 5 1 -4 0 4 4 -5 1 2 1 -2 2 4 1 0 4 -1 0 0 1 -3 0 1 1 4 0 -4 1 3 1 0 0 -1 0 0 0 -1 2 3 1 0 3 -1 2 -2 1 -2 1 5 1 -4 0 -1 0 4 1 -1 1 1 0 1 1 -4 6 2 1 -3 0 2 0 2 3 -1 1 -1 1 1 1 -1 1 0 1 3 0 -5 1 1 0 -1 0 4 1 -1 0 -3 2 3 1 0 4 1 0 -4 1 5 4 -5 1 3 1 0 0 -1 1 0 0 1 1 -1 2 2 2 0 0 0 2 0 0 -2 2 -2 0 2 1 3 2 -3 2 3 0 0 1 -2 3 1 1 -3 0 3 2 -1 0 -3 2 0 0 5 1 -4 1 4 2 0 2 -3 0 -2 0 0 1 5 3 -3 1 2 3 1 1 -3 1 -2 0 4 1 -3 3 3 1 -3 3 2 0 1 0 -3 1 1 0 -1 0 0 1 -1 3 4 0 0 0 -1 1 2 0 -2 2 1 1 -2 1 1 1 -1 2 -2 1 4 2 -4 0 4 2 -1 0 -3 1 4 1 -3 1 3 1 -3 1 2 0 -1 0 0 0 3 1 -5 0 5 1 -5 1 4 1 -3 2 8-1 1-2 -3 0 0-3 1-2 -1-1 0-2 4-2 -3-2 0-2 -1-4 0 0 3-3 0 0 -3-2 2-1 -1-2 3 0 -2-2 -2-1 -1 0 2-1 1-1 1-3 -1-5 -2 0 2-3 -1-1 1-1 -2-1 1-1 -1-3 4-1 0 0 0-4 -1-1 -3-1 2-1 -1-2 2-2 -3-3 2 0 -3-1 4-1 -1-1 -1 0 -2-1 5 0 -5 0 0-1 3 0 -2-1 1-1 2-1 -1 0 2-1 -2-2 -3-1 1 0 -1-2 2 0 3-2 0-3 -5-3 1 0 3-2 0 0 1-1 -3-3 -2 0 0 0 0-1 1-1 2-1 0-1 -2-3 4-1 -1-1 -1 0 2 0 0 0 -4-3 0-1 0-3 -1-1 3-4 -2-1 3-1 -1-1 0 0 -1-2 2-1 0 0 1 0 -5-2 3-2 2-1 -4 0 0-1 2 0 -1-1 2-1 -2-1 1 0 1 0 -1-1 1-1 0-3 -3-1 3 0 -3-1 -1-1 0-1 3 0 -3-1 5-1 -4 0 4 0 0-2 -4-1 0 0 3-1 -4 0 4-1 1-1 -1-1 1-2 -4 0 2-2 -3 0 0-1 5 0 -1-3 -3 0 2-1 1 0 -4-2 4-1 -1 0 1 0 -1-2 0-1 -2-3 4-1 -3-1 2-1 0-2 -4 0 3-2 -2-1 -1-2 3-1 -1 0 1 0 2-1 -1 0 -3 0 1-2 1-2 -3-1 0-4 1-1 2-1 -3 0 0-1 5 0 -3-2 -1 0 0-1 3-1 -4-2 3-1 -1 0 -2-1 1-1 2-1 0-1 -3-2 5-3 -2-1 -1-2 3-3 -3-1 1 0 0 0 1 0 -3-2 3 0 -1-2 1 0 -2-2 2 0 -2-1 3-1 -3-1 -2-3 1 0 -1 0 5-2 0 0 0 1 3 2 2 2 -3 0 -1 0 1 1 2 1 2 2 -3 0 0 1 -2 0 3 1 1 1 1 0 -5 1 5 1 -1 1 -1 0 0 0 1 0 -1 2 2 1 -4 0 0 0 3 1 -1 0 1 5 -2 0 -2 2 5 0 -3 0 0 1 -2 0 2 0 1 2 0 2 0 1 -1 3 1 1 -2 4 1 2 3 0 -5 1 2 0 -1 1 1 1 -1 1 0 0 3 0 -1 1 1 2 -1 5 2 2 -3 1 1 0 -1 3 -2 0 5 3 -3 0 1 2 2 1 -1 3 -4 1 4 3 -2 2 -2 0 3 0 0 0 2 2 -5 1 5 0 -2 1 -2 1 0 3 0 2 0 4 0 2 4 0 -4 1 0 2 -1 1 5 0 -2 1 1 0 -1 2 0 3 -1 1 -1 0 2 3 -2 2 0 1 4 1 -5 1 0 0 2 2 1 1 2 1 -4 1 -1 0 0 0 2 2 -1 1 1 3 -1 1 -1 0 5 1 -3 0 0 2 1 2 1 1 1 0 0 1 -2 0 0 0 2 3 -3 2 1 2 -2 0 -1 0 4 1 -4 0 5 1 -5 1 5 0 -5 0 0 1 0 0 3 0 -2 1 1 1 -1 4 2 2 -1 3 2 2 1 1 -4 3 3 2 -3 1 2 0 -3 1 1 0 0 0 -1 1 0 1 4 0 -4 1 5 0 -4 1 0 2 4 0 -3 2 2 3 -3 1 1 2 3 8 -2 2 2 1 -5 0 3 3 1 2 1 1 0 2 -3 2 2 3 0 3 0 2 -3 0 3 0 1 1 -4 0 -1 6 2 0 1 0 1 3 -1 3 -1 5 0 0 2 0 1 1 -3 1 2 0 -2 0 1 2 -1 5 7-2 -2-2 2-3 -2-1 -1 0 0-5 4-2 -4-1 4-2 0-2 -1-2 -1-3 3-1 -4-3 -1-10 3-2 -2-1 -1-1 1-1 2 0 -3-1 4-8 1-1 -5-2 2-2 3-1 -4-1 0-3 0-1 4-1 -4 0 -1-1 3-2 -2-1 2-1 -2-2 -1-1 5 0 -5 0 0-1 5 0 -4 0 -1 0 5-1 -5 0 2 0 1-1 1-3 0-2 -2-1 1-1 0 0 0-1 2 0 -2-1 1-5 -3-3 1-1 -1-2 3-1 -1 0 -3-1 4 0 0-2 -4-2 3 0 -2-2 0 0 -1 0 1-2 4-1 -4-1 4-2 -4 0 3-3 -2-1 1 0 2-3 -1 0 -4-2 1 0 2-2 0-1 1-4 -3-2 -1-1 0-2 5-3 -5 0 0-1 2-1 1-4 1 0 1-1 -1-2 -2-1 3-2 -5 0 5 0 -2-3 -2-2 2-2 -3-2 0 0 0 0 3-1 1 0 1-3 -5-1 1-2 0-3 4-1 -2-1 -1-1 2-1 -3 0 2-1 -3 0 2-1 -1 0 2 0 -3-1 5-3 -3-1 3 0 -1-1 0 0 -1 0 2-2 -1 0 -2-1 0-2 0 0 3-1 -2 0 0-4 1-3 -2-3 2-3 1-1 -1-3 0 0 1-1 -2-4 -3-1 2-1 1-2 0-2 -3-1 2 0 -1-1 1-1 -1 0 -1-1 1 0 1-1 -2-1 3-3 0-5 0 0 1-1 -1-2 2-2 0 0 -3-1 0 1 6 0 2 0 -2 1 -2 5 2 0 -2 1 5 0 -3 2 2 1 0 4 0 1 -4 1 5 0 0 1 0 1 -2 1 2 0 -3 2 0 1 -1 0 4 3 -3 0 -2 2 5 0 -5 1 2 4 0 0 -1 1 3 1 1 0 -4 1 4 0 -3 1 3 4 -3 3 0 1 -1 1 3 1 -4 0 2 0 -2 1 2 0 1 0 -3 2 0 7 5 1 -2 1 -2 0 3 1 0 0 1 0 -3 0 -1 1 1 1 -1 1 2 0 1 1 -4 3 0 1 4 0 1 0 -1 1 -3 1 2 0 -2 1 3 1 -1 1 1 3 -4 1 1 3 4 3 0 0 -3 3 3 1 -3 1 3 0 -5 3 3 0 0 0 -3 0 1 1 3 3 0 0 1 1 -5 0 1 1 4 3 0 0 0 2 -1 4 -1 0 -3 2 0 2 1 1 2 4 -1 1 2 0 1 1 -1 0 0 1 1 1 -1 1 -1 2 1 5 -4 2 2 0 2 1 -1 0 -3 1 4 1 -4 3 2 7 1 1 -3 2 2 1 -2 2 4 2 1 3 -4 1 1 0 2 2 -2 0 2 2 -4 3 4 2 -2 0 0 0 2 0 -1 1 -3 1 5 4 -3 1 0 1 2 2 -3 3 4 1 -3 1 1 0 0 1 -2 0 4 7 -1 1 -1 2 -2 1 0 0 0 0 2 1 -1 1 -1 1 4 3 -5 1 0 5 2 1 3 1 -5 0 2 1 0 2 1 3 -1 1 3 2 -5 3 2 0 1 0 -1 1 -1 2 4 1 -3 1 1 0 -1 4 -2 4 2 1 2 0 -2 0 9-4 -4-1 3 0 -4-1 4-1 0-1 0 0 1 0 -3-1 -1-2 -1-5 2-1 0-1 0 0 -1-5 0-1 -1 0 0-1 1-5 -1-5 4 0 -3-5 0-1 0-1 -1 0 3-1 -3-1 1-1 2-2 1-3 0-3 0 0 -3-1 0-1 1-1 -1-1 4-1 -5-3 5-4 -4-1 0-1 -1 0 4-3 0 0 0-1 -3-1 1-1 1-1 -2-2 4 0 -4-1 3 0 -3-2 3-1 -1-7 -3-2 1 0 4-1 -5-2 2-3 1-1 2-1 -2-1 1 0 -2-1 0-1 0-1 0 0 2-1 -3-1 4-1 0-2 -5 0 4-5 -4-1 1-2 1-1 0-1 -2 0 1-8 -1-1 0 0 5-6 -1-1 -1-2 -3 0 1-1 2-1 -2-1 3 0 -4 0 2-1 1-4 0-1 2-3 -2-1 -2-3 3 0 -1-2 1-1 0-1 -1 0 0-1 -1 0 -1-3 2-1 1 0 -3 0 0-2 2-1 0-2 -1 0 -1 0 3-3 -1-1 -1 0 3 0 0-4 -5-1 0-2 1-1 1-3 0 0 3 0 -2 0 -3 0 3-2 0 0 0-2 1 0 -3-1 4-1 -5-1 1-1 1-2 2 0 0-3 0-1 -3-3 0-1 4-3 -3-1 2 0 -2 0 -1-2 4-1 -4-8 2 0 -3-1 1-3 4-1 -3 0 -2-1 4 0 -1 0 -2-2 3-2 -3-1 0 0 1-1 3-1 -4-1 1 0 0-3 0 3 9 3 -2 0 1 0 -3 1 1 2 0 5 -1 2 3 0 -2 1 1 1 -3 1 4 5 1 1 -1 1 -4 0 3 1 -3 4 3 0 -1 0 3 0 0 1 -2 1 1 3 -4 1 0 0 3 0 -3 4 1 4 4 1 -5 0 1 2 1 2 0 4 -1 1 4 1 -5 2 2 1 -2 1 1 0 -1 2 0 1 3 1 0 1 1 0 -1 1 -2 1 1 4 2 7 -4 0 0 0 4 0 -2 2 -1 3 -1 0 5 1 -5 2 4 1 -1 2 2 3 -2 0 -2 1 1 0 0 5 0 2 -1 3 -1 4 3 0 -2 1 0 1 -1 4 4 1 -4 0 2 1 3 3 -3 2 -2 1 2 1 1 1 -2 2 3 0 0 0 -2 1 0 0 -1 1 3 0 -4 0 1 2 0 1 4 1 -4 2 1 3 2 3 0 0 0 0 -1 1 -1 2 0 2 2 0 -2 0 0 1 2 3 -2 0 0 4 2 0 -1 0 1 4 -4 0 0 3 0 2 2 0 -2 1 5 1 -4 0 2 0 -1 4 -2 2 1 2 0 1 4 1 -4 0 -1 1 4 2 -3 2 2 3 -2 3 2 5 -3 9 3 0 -3 3 0 1 0 2 2 1 1 2 -1 0 -2 2 4 1 -2 4 0 1 -2 1 4 0 -4 1 4 0 -1 1 1 0 -2 6 -2 4 3 0 8-2 -3 0 1-4 2-1 -5-2 0-1 3-1 -1 0 3 0 -4-2 1-1 -1-2 1-24 2 0 0-1 -1-1 -1-1 2-1 -1-2 -2 0 1 0 -1-3 1 0 2 0 -3-2 -1-1 0-1 1-3 0-4 3 0 0-1 -3-3 4 0 -1-1 1 0 0-4 0-2 -4-5 1 0 1-1 2-3 -3-2 3-5 -1-1 -4 0 2-1 -2-1 5-1 -2-1 -1 0 1-3 -1-3 2-2 -4 0 2-6 -2-2 2 0 -1-3 3-4 -1-4 -1-3 0-1 0 0 2-2 -3-1 0-1 4-2 -3-1 0 0 1-1 2-2 -2-3 0-1 1-1 1-1 -5-1 0-2 5-5 -5-1 0-3 0 0 2-6 3-2 0-1 -4-1 4-2 -2-2 -2-4 2 0 -2-1 2 0 -2-1 3-3 -1-1 2-2 -1 0 0-1 -4 0 1-2 -1 0 5-1 -2-3 2-1 -2 0 2-5 -1 0 -1-2 -1-1 1-1 2-1 -4-5 4 0 -2-2 1-4 1 0 -3-1 3-3 -5 0 0-1 5-1 -3 0 -1-1 2 0 2 0 -2 0 -2-2 -1 0 2 0 1 0 2 0 -3 0 2-6 -4-3 3 0 -3-1 2 0 -2-2 2 0 0-2 -2 0 8 2 -2 4 1 0 4 1 -1 1 1 0 -2 1 -3 1 3 0 1 4 -2 1 -2 0 2 1 0 1 0 6 3 1 -1 4 0 0 -1 1 0 0 -2 5 1 3 2 0 0 2 1 0 -2 3 -1 0 -2 7 0 2 5 0 -4 2 4 0 -2 1 -3 2 1 3 4 1 -4 0 2 1 0 0 0 2 1 0 0 1 -1 1 2 3 -1 3 -2 0 0 2 0 0 3 1 -4 1 3 0 -4 1 5 1 -4 3 1 2 -2 0 2 0 2 4 -2 1 0 0 -2 2 3 6 0 2 -2 0 2 1 -2 3 -1 0 0 2 3 0 -2 0 -1 0 5 3 -1 0 -4 1 3 0 -2 3 4 1 -2 3 -3 1 4 2 -3 5 -1 0 3 0 0 1 -1 2 2 2 1 0 -2 2 -2 2 1 0 2 2 1 1 -5 8 5 7 -2 1 -2 1 2 0 -2 2 2 0 1 2 -2 1 -1 0 2 2 1 3 -1 2 -3 2 0 0 4 0 0 1 0 0 0 2 1 1 -5 1 4 1 -2 0 1 0 2 3 -2 3 0 2 1 1 0 0 -4 1 0 0 1 1 -1 0 5 2 -5 1 2 0 0 1 -2 2 1 5 2 5 2 14 -2 0 -2 4 1 7 -2 1 1 0 1 1 2 0 -2 2 1 0 0 0 -2 0 -1 1 3 2 2 0 0 0 -4 2 6 0 4-1 -3-1 -1-1 0-1 -1 0 3-2 2-1 -5-2 4 0 -4-2 3-8 -1-15 -2-8 0-1 0-1 3-1 2-1 -1-2 -3-6 -1-1 0-1 0 0 5 0 -5-1 2 0 -1-2 1-2 -1 0 3-1 -3-2 1 0 3-2 -3-2 -2-4 4-1 -2-2 -1 0 -1-1 2 0 -2 0 0-2 1-5 1-8 -1-1 -1-3 3 0 -1-5 1 0 1-3 0-5 -1-1 1 0 1-1 -3 0 2-1 -4 0 1-1 4 0 -2-1 2-2 -5-1 5-3 0-1 -5 0 2-1 -1-2 3 0 1 0 0-1 -5-8 1-5 0 0 0-2 0 0 0-1 1-6 -1-1 -1-1 0 0 5-3 -2-2 -2 0 2-1 -3-2 4-1 -2-2 0-3 -1 0 2-2 0 0 -2-3 3 0 0-1 -4 0 2-2 1-1 2-1 -1 0 -1 0 -1 0 -2-1 2-1 -1 0 3-3 -1-1 -3-4 5 0 -4 0 0-2 3-2 1 0 -2-5 0-1 1 0 -4 0 4-1 -1 0 -1-2 -1-1 4-1 -5-1 0 0 1-1 4-1 -5-1 3 0 -3-1 4-1 0-5 0-1 -2-1 -1-2 1-2 -1-2 1-2 2-1 -2-1 0-1 -2-3 3-2 2 0 -5-4 4 0 -3 0 4 3 3 1 -1 7 2 3 -3 0 2 3 1 0 1 3 1 0 0 2 -2 1 -3 2 5 0 0 1 -5 0 3 0 -3 1 5 3 -2 2 2 0 -5 3 1 1 4 2 -2 2 -1 1 -1 0 3 1 -2 3 2 2 -4 0 3 2 2 1 -2 2 -3 1 5 1 -4 0 4 5 -2 0 2 1 -5 1 1 2 3 3 1 1 0 0 -5 1 4 5 -2 2 1 1 -1 3 -2 3 3 1 0 1 0 0 -3 1 5 4 -4 1 0 1 2 0 2 3 -1 1 -2 1 3 0 -1 2 -1 0 2 1 -1 0 1 1 -2 1 -2 0 -1 1 1 1 -1 2 1 0 4 0 -4 2 4 2 -4 3 3 0 -3 1 -1 1 4 2 0 2 1 2 -4 1 2 8 -2 2 1 1 2 4 -1 0 -3 3 3 2 1 2 1 1 -3 0 2 0 1 3 0 2 0 2 -1 0 1 2 -3 1 0 1 -2 2 3 1 -3 0 1 2 4 3 0 5 -4 0 -1 1 4 1 -4 6 2 0 2 1 0 1 -2 2 3 1 0 3 -1 2 -2 1 -2 0 1 2 -1 0 5 13 -4 3 3 6 -3 0 -1 13 4 2 -4 2 3 1 0 1 2 1 -2-1 3-1 4 0 -4-1 0-1 4 0 -1-1 1 0 0-2 -3-1 -1 0 4-1 1-4 0-10 -2-18 2-1 -3-1 0-3 3 0 -1-1 -2-2 2 0 -2-2 -2-1 3 0 -2-2 -1-1 5-2 -4-1 0-2 4 0 -2-4 -2-2 -1-2 1-2 2-6 0-2 -2 0 1-3 0-1 -1 0 1-1 0-1 1-3 -1 0 -2-2 4-1 -4-3 3 0 1-3 -2-1 2-1 -4-1 4-1 -2-1 2 0 -1-1 0-1 1-2 0-1 -4-3 0 0 4-1 -1-1 2-10 -3-2 -1-1 -1-3 1 0 3-4 0 0 -1-1 -1-1 -2-2 3-1 0-3 -2 0 0-1 0-2 1-1 0-1 0 0 0-2 -1-1 1-5 1-1 -3-1 0-7 5-2 0-1 0-1 -2 0 0-1 1 0 -2-4 3 0 -5 0 2 0 1-1 -1 0 0 0 0-1 3-1 -1-1 -3-1 2 0 -3-1 5-10 -5-1 0-5 3-1 0-2 -3-1 4-1 -4 0 0-2 0-1 2-2 -1 0 3-1 -1 0 -3-1 2 0 1-2 -3-1 1-2 4-5 0-2 -5-3 2-2 2-5 -4 0 4-1 -1-1 -3-2 0 0 4-2 0 0 0 0 0 0 4 1 1 2 0 1 -1 0 0 2 -1 1 4 1 -5 3 5 1 -3 0 3 1 -3 1 1 1 -3 5 5 1 -5 0 2 0 2 1 -4 1 0 0 3 5 -2 1 4 0 0 0 -2 2 2 1 -1 1 -1 2 -3 0 1 4 1 1 2 2 -4 4 0 2 2 1 -1 1 3 1 -2 0 3 3 -3 1 -1 1 -1 2 0 1 0 2 5 1 -3 3 0 0 1 3 -2 2 4 2 -1 1 -3 2 4 0 -1 1 -2 15 3 2 -5 1 5 0 -3 2 1 3 -1 2 0 0 -2 4 4 2 -3 5 -1 0 3 2 -2 0 3 1 -2 1 1 2 -1 2 2 2 -4 1 1 0 -1 2 1 2 0 3 4 1 -3 1 3 1 -5 2 3 1 0 1 2 1 -4 1 4 0 -3 6 -1 0 3 1 -4 1 1 2 1 1 1 0 -3 1 3 2 0 1 -3 0 3 1 -3 0 3 2 -3 1 2 1 1 1 2 0 -4 1 2 0 2 1 -3 0 1 0 0 2 1 0 0 0 -1 2 1 2 -4 0 4 0 -1 7 -2 0 1 0 2 0 0 1 -1 1 1 0 -4 0 2 0 3 1 -4 1 2 1 -1 3 1 4 -2 1 -1 3 5 4 -3 2 2 11 -2 4 3 2 -1 6 0 1 -2 2 0 1 -2 3 4 13 1 4 0 7 0 7 0 4 -1 1 1 2 -1 1 -1 1 2 1 0 1 0 3 0 1 -2 3 1 0 1 7 0 10 5-1 1-1 -3 0 1 0 -1-1 1 0 2 0 -1 0 0-1 0-2 -1 0 0 0 0 0 1-1 0-2 -3 0 1-1 3 0 -1-2 -2-1 1-1 2-2 -2 0 -3-1 1-2 0-2 3 0 -4 0 2-1 -1-1 -1-1 0-1 0-3 0-3 1 0 2-6 -1 0 0-1 -2-1 2 0 0-1 -2 0 0-1 4 0 0-1 -4 0 3-1 -3 0 0-2 4-1 1 0 -4-3 2-6 -1-1 -2 0 4-1 1 0 -1 0 1-1 -1-1 -3 0 1 0 3-3 -3 0 1-1 2 0 -2-1 -1 0 1-1 2 0 -2-1 0-1 -1 0 3-1 -3 0 2 0 0-1 -1-2 2 0 0-1 -2 0 1-1 -2-1 -1-2 4-1 -2 0 0-1 1 0 0 0 -1-1 2-2 0-1 -4-2 3-10 0-2 -1 0 2 0 0-5 -5-2 4 0 0-3 1-1 -5-1 4-1 -2 0 -1-1 2 0 0 0 -2-2 2-1 1 0 -4 0 2 0 2-2 -2-1 2-2 0-1 0 0 -1-2 -1-2 -1-2 2 0 1 0 1-2 0-1 0-2 -2-2 2-3 0-2 0-1 -1-1 1-1 -2-3 -3 0 5 0 -4-2 3-1 1-1 -3-1 -2-2 0-3 5-1 -1 0 -3-2 3 0 -4 0 2-4 -2-3 1-2 -1-1 4 0 1-1 -1 0 -3-3 3-1 1-2 -3-3 -2-3 4 0 -1-2 -2-3 1 0 -1-1 -1-3 5-4 -4-2 0-1 1-1 0-3 1-7 0-1 -3-15 5-3 0-2 0-5 -2 0 0-4 -1-1 -2-2 4-1 1-1 -2-1 -1-2 2-1 1 0 -1-2 0-3 -1-1 -1-4 2 0 1-1 0 0 -1-3 -2 0 1-1 -1 0 -2 0 2 0 3-2 -5-2 3-1 -2-4 -1 0 1 0 -1-2 3-3 -1-1 2-1 0 0 -4-2 4 0 0-1 -2-1 3-4 -2-2 1 0 -1-2 0-1 -3-1 3 0 0-1 -3 0 5-3 -4-1 3-1 0-5 3 0 4 0 0 1 -5 2 0 3 5 0 -1 0 1 2 -4 0 0 0 -1 1 5 1 -2 3 -3 1 5 0 -2 1 -2 1 3 0 -3 1 4 1 -1 0 0 1 1 0 0 1 -3 2 0 0 -2 1 2 1 1 2 1 1 -4 1 2 1 -1 0 3 1 0 1 -4 0 5 1 0 1 -2 1 -3 3 0 1 2 1 3 2 0 1 -5 4 1 1 4 0 -5 1 5 0 -3 2 2 4 1 1 -1 2 -2 3 3 2 -2 4 -3 2 0 0 0 3 2 1 -1 1 -1 0 5 1 -2 1 2 0 0 2 -1 4 1 3 -2 2 -1 2 3 3 -4 1 1 0 -2 0 0 3 2 2 3 0 -4 4 4 4 0 0 -1 2 0 0 -3 1 1 2 2 2 -2 2 -2 0 2 0 0 6 1 1 -2 3 4 3 0 0 -4 0 3 2 1 2 -1 1 1 3 -1 1 -3 4 0 7 1 2 0 2 1 1 2 1 -4 1 1 2 2 0 -2 5 1 1 -2 0 3 2 -1 0 -2 4 4 0 -3 0 -2 1 5 0 0 3 -5 2 4 2 -4 2 5 0 -2 6 -2 3 -1 5 3 2 2 0 -3 1 1 1 0 0 1 3 -3 0 4 3 -1 2 0 1 0 0 -1 2 -3 0 3 0 -1 1 3 1 -1 3 1 0 0 0 -4 1 2 1 1 0 -1 1 -1 1 -1 1 0 1 0 0 2 1 -1 1 1 0 -1 0 0 1 0 2 -1 0 1 6 -2 0 2 1 -1 0 -1 1 0 11 0 2 1 1 0 4 3 47 -1 1 -3 2 2 3 -1 0 -1 0 4 2 0 1 1 0 -4 0 1 2 1 1 0 1 2 0 0 2 0 0 0 4 -3 0 2 1 3-1 -1 0 5 0 -1-1 -1-2 0-2 1 0 1-1 -2 0 0 0 -2-1 -1 0 3-2 -2-2 4-2 -5-84 4-1 0-1 -1 0 -3 0 2-1 0 0 -2-1 2-1 -2 0 1-1 3 0 -1-1 -3-1 1 0 0-1 1 0 -1-1 0 0 4-1 -1 0 -1-3 -2 0 3 0 0-1 -1-5 2-4 -2-1 -1-2 0-1 1-1 -2-1 2 0 1-1 0 0 -2-2 1-1 -3-2 1-1 -1-1 1-1 -1-1 1 0 2-1 -2 0 3 0 -1-3 -3-1 5-2 0 0 -5-3 4-3 -1 0 0-2 -2-2 -1-1 0-4 2 0 0-1 1-3 -3-1 1-1 0-2 3 0 -4 0 2-5 0-1 2 0 -1 0 2-4 -2-1 -1-1 1-1 1-1 0-2 -2 0 0-2 0-3 3 0 -1-2 0-1 1 0 0-1 -4-2 4 0 -1-7 1-4 -2-2 1-4 -2-1 1 0 -3-1 2 0 0 0 3-1 -5-1 4 0 -2-1 -2 0 2-3 3-1 -4-2 1 0 3 0 -5 0 0-10 5 0 -3-3 2-2 -3-4 4 0 -3-1 3 0 0 0 -5-1 0-2 2-2 -1-1 2 0 1-2 -2-3 3-2 -1-4 -1-2 -2-3 -1-2 4 0 0-3 -3-1 1-1 3-2 -3-3 -1-1 2 0 -3-3 2-2 2-1 -1-1 -2 0 2-2 2-2 -1 0 0 0 -2-1 0 0 1-2 1-1 0-1 1-1 -4 0 0-1 -1 0 2-2 -2-1 2 0 1-2 -1-1 3 0 -3-4 3-1 -1-2 -1-1 2-3 -5 0 4-1 1-1 -4 0 1-2 1-2 1-3 -1-1 -3 6 7 0 1 3 1 0 -1 1 0 1 2 1 -4 0 3 3 -2 0 -1 1 3 0 -1 4 2 1 1 1 -5 0 4 4 -3 1 0 1 -1 1 0 0 5 1 -5 1 1 3 0 0 1 1 3 0 -1 3 -4 1 0 1 4 2 -1 1 2 2 -3 0 2 1 -1 5 2 1 -3 1 0 0 -2 1 1 7 0 1 3 3 -1 2 -3 1 2 0 -1 2 1 2 2 2 0 0 -1 0 -1 1 -1 1 2 2 -2 0 -1 1 4 1 1 4 -4 0 0 2 2 0 2 0 -4 1 1 4 3 1 -1 0 -4 3 5 0 0 1 -3 4 3 0 -3 1 0 1 -1 7 2 0 2 5 -4 1 0 2 -1 0 2 1 0 1 -1 0 -1 1 3 1 0 1 1 0 -2 0 2 3 0 0 -3 1 2 2 0 2 0 5 -1 1 2 0 -2 1 3 0 -2 3 2 1 -2 1 0 0 1 1 -2 1 0 2 0 0 -1 1 2 3 -3 1 1 1 4 1 -5 1 3 4 -1 1 0 2 1 0 2 1 -4 1 2 1 -3 1 3 1 -1 1 3 1 -4 1 1 1 0 0 2 2 -2 3 -1 2 3 2 -4 3 4 1 0 0 -4 1 4 0 1 1 -4 1 1 4 2 3 -3 0 2 5 2 1 -1 0 -2 2 -2 2 3 1 -1 3 2 3 0 2 -3 1 2 1 1 6 1 5 -5 74 5 0 -1 1 1 2 -2 1 2 1 0 2 -2 1 1 0 -2 0 -1 2 1 1 -2 0 3 0 1 1 -1 0 0 1 0 0 -1 0 1 1 -1 0 1 0 -1 0 -1 3 0 2 1 0 0 0 0 1 -1 1 -1-7 6 0 0-2 2-1 1-3 -3 0 0 0 0-1 0 0 0 0 1-1 -1 0 2-4 0 0 -2 0 1-2 1 0 -2-2 1-1 4 0 -3 0 -1 0 3-1 -1 0 -1 0 2-2 -1 0 0 0 2 0 0-2 0-1 -2-3 1-1 1 0 0-5 -1-60 -3 0 -1-1 4-1 1-1 -5-12 4-1 -2-2 3-2 -2 0 -3-1 0-1 0-11 2-3 2-4 -2 0 1-1 -2-1 2-1 1 0 -4 0 3 0 -1-2 -2-3 5 0 -2-1 -2-2 4-1 0 0 -1-3 0 0 1-1 0 0 -3-2 -1-1 0-1 1-1 -1-2 2-1 -2 0 1-3 0-1 -2-4 3-1 1-1 -3-1 2-1 -1-5 -2-2 3-1 0-1 -3-2 3 0 -2-7 3-1 -2 0 3-1 -1-2 0-2 -3-1 4-2 -3-5 2-1 -3 0 -1-1 2 0 0-1 2-1 -1 0 -2-4 1 0 2-1 -3-1 4-1 -5 0 0-1 0-1 1-1 0 0 2-2 1-1 1-1 0-1 0-1 -4 0 0-2 4-2 -4 0 4-1 -4 0 4-3 -1 0 -1-1 1-2 -4 0 2 0 -2-2 0-2 4 0 -3 0 3 0 -4-1 3 0 0-2 1 0 -1-1 1-1 -3 0 3-1 0 0 0-1 -4-2 1-3 3-3 -4-1 3 0 -3-1 2 0 1-1 2-1 -3-1 -2-1 4-1 1 0 -2-2 -3-1 3-1 -1-4 2 0 -2 0 1-1 -2-1 -1 0 3-1 2 0 -1-2 0 0 -2-1 1 0 -2-1 -1-2 2-2 2 0 -3 0 -1-1 1 0 2-1 -3-1 1 0 3-2 -3 0 -1-1 3-1 -2-1 4-1 -1-2 -1-2 1 0 -2-1 0 0 2-2 1-1 -1-1 -2-4 -1 0 -1-1 2 0 3-4 0-1 -2-3 2-5 -5 7 8 0 0 5 0 2 0 2 2 0 -3 1 4 1 -4 2 3 3 -3 0 -1 0 1 1 1 3 -2 0 0 0 3 1 -1 1 2 0 0 1 -4 1 4 2 -3 0 0 2 3 1 -1 0 1 1 -3 0 2 1 -3 2 3 0 1 1 -4 0 1 0 1 2 1 1 -2 3 4 0 -3 1 -2 2 5 0 -3 0 -2 1 2 0 3 0 -3 2 2 0 -4 0 2 0 -2 1 5 1 0 1 -5 2 3 2 -3 0 3 1 -3 0 0 2 3 0 -2 0 4 0 0 1 -4 4 0 3 2 1 0 2 -3 1 2 0 2 1 -4 2 5 0 -4 1 1 1 -2 1 0 1 1 1 2 0 1 1 -3 1 -1 0 4 1 0 0 -3 1 2 3 2 1 -5 0 0 0 2 2 0 0 -2 1 1 0 1 0 -1 1 -1 1 5 1 -1 0 0 10 -4 1 1 2 4 3 -4 2 3 0 -2 1 3 1 -1 1 1 3 -5 0 0 2 4 2 -4 0 5 0 0 1 -5 2 4 2 -4 0 2 1 1 1 -2 0 4 0 -1 3 -1 1 -2 0 4 4 -4 0 4 1 -1 0 0 1 -3 1 0 6 1 1 1 1 -1 1 3 1 -5 3 1 1 4 1 -2 6 -3 4 4 4 -3 0 3 8 0 1 -4 0 1 3 1 0 0 0 -1 2 4 2 -3 5 3 3 -4 4 2 1 1 0 -4 1 2 1 1 0 -1 1 -1 3 -1 1 0 1 3 1 1 3 0 0 1 1 -3 1 -2 2 3 2 -2 33 3 0 0 1 1 3 -1 0 1 2 0 1 -1 0 1 0 -1 3 1 3 -1 5 -1 5 1 0 -1 0 2 1 -3 1 -1 2 2 2 1 1 -3 1 1 0 0 2 0 14 -2-36 6-2 3-2 0 0 -2-1 0-3 0 0 1-1 1-2 -1-8 1-1 0-1 0-1 -1 0 2-2 0 0 -1 0 -3 0 2 0 3-1 -1-1 0-1 1-5 -3-2 3-6 -1-1 0-5 -2-1 -2-5 1 0 1 0 -1-7 3-1 -4-2 2-1 -2-1 0-7 1-2 4-2 0-9 -3-2 -1 0 3-8 -2-2 1-2 0-3 2 0 -1-2 -2 0 2-7 -4 0 5-1 -2-2 -1 0 -2-1 5 0 -1-1 -1-2 1 0 0 0 -4-3 4-1 0-5 -2 0 -1-5 4 0 -4-4 1-2 -2-1 3-1 -2-1 -1-1 1-2 2-2 -1 0 1 0 -1 0 3-1 -2 0 2 0 -2-1 2-1 -2-2 -2-2 4-3 0 0 -2 0 -1-2 -2 0 5-3 -2-1 2 0 -4-1 3 0 -2-4 -2-1 3-2 2-1 -3 0 -1 0 1-1 1-4 -2 0 2-1 0 0 -1-1 -2-3 1-1 3 0 -3-1 0-1 3-2 -3-1 2-2 -2-6 -1 0 3-1 -3 0 3-3 1-1 -3 0 3 0 1-1 -5-1 5 0 -5 0 5 0 -4 0 0-1 3 0 -4 0 5-1 -3 0 3 0 -4-1 0 0 4-1 -4-1 -1-2 3 0 0 0 2-3 -2 0 -3 0 5 0 -1-1 0-3 -2-5 3-1 -2 0 -2-3 4 0 -4-1 1 0 -2-1 1 0 2-2 -2-1 4-3 -3 0 -2 0 5-4 -1-1 -1-2 -1 0 -2-4 3-1 -1-3 -2 0 0-1 4-1 1-1 -4 0 -1 0 4-1 -3 0 4-3 -1 0 -2 3 5 1 0 2 -1 0 2 3 3 3 -5 0 2 6 -2 4 2 1 -2 2 4 1 -4 2 0 1 0 0 2 1 3 2 0 3 -1 2 -1 2 1 0 -2 2 0 1 3 1 -5 0 0 0 2 0 -2 1 5 1 0 0 -1 0 0 3 -4 0 0 0 1 1 3 1 -1 0 1 1 0 0 -1 1 1 0 0 2 -1 0 0 2 1 1 1 2 -2 0 -3 1 2 1 -1 0 1 1 3 2 -3 0 1 0 -1 1 3 1 0 1 -4 1 -1 4 5 2 0 3 -1 1 -4 1 3 1 2 0 -1 1 -2 0 -1 0 4 0 -1 2 -2 2 0 1 1 0 -1 1 -1 3 4 0 -4 1 1 2 -2 1 2 0 -2 1 4 1 -4 0 2 1 -2 0 5 1 -2 0 1 0 0 1 -3 1 3 2 -3 1 4 2 -3 0 0 0 -1 2 0 3 1 0 -1 3 2 2 -3 0 1 2 4 1 -1 1 1 1 -3 3 2 1 -4 6 5 7 -2 1 -3 1 5 1 -4 1 3 2 -1 0 1 1 -1 1 0 3 0 0 1 1 1 1 -5 4 5 1 -3 3 3 3 -5 1 3 1 -2 1 3 2 0 1 0 3 -1 3 2 2 -5 6 1 2 1 0 2 1 -4 0 3 0 -3 1 4 0 -2 1 2 1 -3 1 -1 4 1 2 -1 1 0 4 5 0 -1 2 0 1 -3 2 1 0 1 1 1 0 -1 1 2 0 -4 1 1 1 3 1 -3 2 0 3 -2 1 1 1 -1 6 1 0 -1 2 0-22 9-8 1-6 -4-12 3-2 1-2 -3 0 4-3 -5-2 2-2 2-1 -3-3 2 0 -3-8 0-6 5-1 -1-10 -4-3 2-1 0 0 1-1 1-2 -1-1 1 0 0 0 0-2 -1-2 -2-2 3-1 -4-3 4-1 1 0 -4 0 4-1 -4 0 2-1 -3 0 0-1 2-1 -1 0 0-1 1-2 1 0 -3-1 5 0 -5-2 3-2 -1-2 2 0 -2-2 2-1 -2-1 3-2 -2-2 -1 0 1 0 2-1 0-2 0-1 -3 0 0 0 2 0 -3-1 1 0 2-1 1 0 -2-3 -3-1 1-1 -1-1 1 0 2 0 -3-1 0 0 1-1 2-1 -2 0 0-1 2-1 -3-1 0-2 1-1 1-5 -2-1 0 0 1-1 2-1 2 0 -1-1 -3-2 3 0 -1-1 -3-1 1-3 0 0 -1-3 5 0 0-1 -2 0 1-1 -4 0 1 0 -1-3 4 0 -3-1 -1 0 2-2 2-2 -3-1 4-4 -2 0 2 0 -3-1 -1 0 4-2 -4-1 4 0 -4 0 1 0 1-1 -1-2 1-1 -2 0 0-2 0-1 -1-6 0-1 0-1 2 0 -2-1 5 0 -2-1 -2-2 4-3 -1-1 -3 0 1-1 3-1 -1 0 -3-4 -1-3 0 0 0-2 5 0 0-1 -3-1 0-1 -1 2 5 4 0 2 4 2 -2 2 0 1 0 3 -2 4 5 2 -2 1 -2 2 4 1 -4 0 2 2 0 0 -1 1 0 0 1 1 -3 2 4 1 -1 1 1 3 1 0 -1 2 1 3 -5 1 3 1 2 0 -5 4 4 3 -4 1 2 0 0 1 1 1 0 1 1 2 -1 1 1 0 -2 0 0 1 2 0 -2 0 -2 1 4 1 0 0 0 1 0 0 -2 2 0 0 -1 0 3 1 -4 3 4 2 -1 0 2 2 -4 0 -1 3 2 1 1 2 -1 1 -2 0 5 4 0 3 -4 1 -1 0 1 2 -1 3 2 0 -1 2 3 0 -4 0 2 1 -2 1 0 1 4 1 -2 0 -2 1 5 0 -5 0 5 1 -5 1 4 1 -4 2 1 1 2 0 -3 1 3 3 0 1 -3 1 0 1 1 1 0 4 1 6 2 4 -1 2 2 1 -5 0 4 1 -3 0 1 2 -2 1 4 1 0 2 -1 1 0 0 1 7 0 0 1 1 -2 4 2 1 -2 0 2 2 -4 1 4 4 -3 3 0 6 0 0 -2 16 3 3 0 2 -3 6 3 2 -2 0 4 1 -4 1 -1 0 4 3 -3 1 4 5 5-1 -2-6 3 0 -2-1 1-4 -2-1 0-6 1-9 -1-1 -2-6 4-1 -4-1 1-2 4-2 0-1 -4-1 -1-3 0-4 1 0 3-1 -2-4 3-2 -2-5 -3-5 5 0 -1 0 -1-2 -1-1 2-6 -2-1 3-3 -1-1 1 0 0-1 -1-4 -3-2 2 0 1-3 0-4 -1-1 -2-4 4-1 0-2 -5 0 4-1 -3-1 1 0 2-1 -1 0 -1 0 -1-1 4-2 -3-1 -2 0 1-1 3-2 1-1 -5 0 1 0 0-2 2-1 1-1 -1-2 1-1 -2-1 0 0 -2 0 4-1 -1-6 2-1 -2 0 2 0 -2-1 0-2 -1 0 -2 0 0 0 2 0 2-1 -4 0 5-2 -1-2 -2 0 -2-1 5 0 0-3 -2-1 1-4 -4-1 0 0 3-1 -2 0 3-2 -3-1 -1 0 1-4 3 0 -2-1 3-4 -4-1 2 0 0-2 -1 0 -2-1 0 0 3-1 -1-2 -1-1 4-1 -1 0 -2 0 0-3 2-3 -2 0 -2-1 1-1 1 0 -1-1 -1 0 2-4 -1-1 2-1 -3-1 5 0 0-1 -4-1 -1-1 4-3 1 0 -1-6 -4 11 6 9 1 1 1 9 1 3 -2 0 2 2 1 2 -4 1 3 1 2 1 -1 1 -1 0 -2 2 1 1 -2 0 1 1 1 1 0 0 1 0 0 1 1 4 -1 1 1 1 -3 1 2 0 0 1 -3 1 2 3 3 0 -2 0 -3 0 5 2 0 1 0 0 -1 0 -2 4 3 0 -2 0 0 2 -1 1 0 1 1 1 0 0 -1 1 -2 1 4 2 1 2 -5 1 0 0 5 2 0 2 -3 1 0 1 -2 0 0 4 4 1 -2 0 2 2 -3 0 3 2 0 2 -2 1 0 0 1 0 -1 2 0 1 -2 0 4 0 -1 0 -3 1 5 0 0 4 -3 0 2 1 -2 2 1 0 -2 0 4 4 -5 0 2 4 3 1 0 1 -3 1 -2 1 0 1 0 1 4 0 -3 1 3 0 -2 5 -2 1 5 16 -1 2 0 2 1 1 -1 4 1 5 -1 5 -1 0 -1 2 0 7 1 1 -1 2 3 7 -2 4 -2 1 3 5 -1 2 -1 0 -2 4 4 2 -1-2 3-5 4-1 -2-2 3-2 -2-2 2-2 0-2 -5-6 5-6 -1 0 0-1 -1-1 2-6 -3-1 -2-1 1-3 1-14 3-2 -4 0 4-3 -2 0 -1-1 1-6 -1-2 0-1 2-1 1-1 -2-1 -2-1 4 0 -4 0 3-1 -4 0 4-2 -4 0 5-1 -2 0 -3-1 3 0 -3-2 3-1 2 0 -2-2 0-2 2 0 -4-2 4-1 -3-1 0-4 -1 0 0-1 2-4 -2-2 0-2 4-4 -4-3 4-2 -3 0 -1 0 3-4 -2-1 -2-5 2-3 -2-1 2-3 -2 0 1-2 1-2 1-6 -1 0 0-2 0-1 2 0 -1-5 1-2 -3 0 2-5 -1-3 -2-3 1-5 1 52 5 2 0 0 3 2 -4 0 5 3 -4 3 0 4 0 1 1 1 3 0 -4 2 1 1 -2 1 5 0 -2 1 1 1 -4 0 0 4 5 0 -3 1 1 2 -3 2 4 0 -3 0 -1 1 5 1 -5 2 2 1 2 1 -1 2 2 0 -2 0 -3 1 2 0 -1 9 1 2 3 1 0 1 -3 3 -1 0 2 0 2 4 0 3 -5 11 5 16 -1 6 -4 1 2 3 0 1 1 1 -1 2 -1 3 6-1 2-2 1-1 -3-2 1-1 -1-1 3-6 0-3 -3-3 4-6 -4-1 1-4 2-5 -3-1 4-2 -2-6 1-1 -2-7 1-2 -3-6 3-2 2 0 -5-1 3-3 -3-2 4-1 -3 0 1-2 -1-8 2-1 -1-1 1-1 0-1 2-1 -5 0 3-4 -3-1 5 0 -5-1 5-1 -2-1 -2 0 1 0 0-2 3-1 0-1 0-1 -5-1 4-4 1 0 -3-2 0-2 3-2 -5-1 2-3 -2 1 8 4 -1 1 4 2 -1 2 0 0 -3 0 0 1 0 6 1 1 0 2 1 1 2 2 -2 1 -3 0 5 5 -2 0 1 1 0 0 -1 0 -1 2 1 1 2 1 -3 2 3 1 -1 1 -2 1 3 0 -1 0 1 1 -4 0 3 1 0 1 -2 0 0 1 0 0 3 3 -3 5 3 9 -3 2 -1 3 3 3 -4 2 2 2 -1 1 2 2 -3 1 2 2 0 6 2 4 -1 1 -1 17 0 1 1-4 4-11 1-6 -1-1 -1-1 3-4 -3-1 4-1 1-8 -5-1 0-7 4-1 -4-3 3-3 1 0 -3-4 3-1 1 0 -1-1 -3-1 -1 0 2 0 2-1 -3-1 1-1 2 0 -1-4 2 0 0 0 0-2 0-2 -5-2 4-3 -3-1 -1-3 1 0 2-1 -3-2 3-1 -3 0 2-4 0 0 -1-6 1 18 4 2 1 3 0 1 0 3 -1 5 1 1 0 0 0 6 1 0 1 1 -1 14 -2 3 4 9 -1 6 -1" fill="none" marker-start="url(#k19)" marker-mid="url(#k19)" marker-end="url(#k19)"/>
<path d="M1424 803l96 35-64 1-192 10-37 6 0 -2 21 4 197 -1 87 -1-304 10 82 0 170 3 17 0-54 7-168 -4-1 6 11 4 71 -2 82 4-35 -1-16 3-108 4 86 1 21 -2 13 1 15 1 22 7-23 -3-139 1-3 8 3 1 44 -1 46 -2 70 1 3 1-52 3-59 3 19 4 10 -1 58 0 16 9-3 1-5 -4-31 4-1 -2-71 3 50 10 18 7" fill="none" marker-start="url(#k20)" marker-mid="url(#k20)" marker-end="url(#k20)"/>
<path d="M1368 673l-53 31 56 9-21 15 17 21 92 27-29 4-55 35-110 0 41 6 23 4-85 6 74 2 28 0 11 -3 163 6-5 -1-13 1-5 -2-40 2-7 3-9 0-31 -3-105 -2-18 0 46 7 110 -1 98 8-113 -1-19 3-174 -1 45 7 9 0 72 -2 167 -2 9 1-6 5-14 4-12 1-1 0-268 4 23 2 0 -2 3 1 24 -2 29 2 83 0 38 0 56 0-22 3-9 3-34 -2-18 -2-79 0-15 2-9 3-21 -5-9 2-3 3-29 -1-12 -4 62 6 70 2 21 -2 21 2 22 2 1 6-4 0-28 1 0 -5-6 5-13 -1-32 -3-1 4-1 -5-2 5-14 -4-36 -1-22 0-30 10 10 1 24 -1 49 -4 2 5 36 -1 0 -2 30 2 3 -2 4 2 13 -4 4 2 1 3 0 -3 4 -2 18 7-6 -1-8 2-8 -1-2 -1-8 0-4 1-24 1-10 -1-21 2-12 -1-1 -1-13 -1-36 4-30 -1 97 6 55 1 2 -3 14 3 3 0 10 3-7 2-10 0-18 -2-5 -1-2 3-15 0-29 1 0 1-51 -4 29 6 5 2 2 -2 10 4 2 -5 13 5 5 -1 4 -3 10 3 9 1 14 -5 1 0 7 2 12 8-8 -1-9 -1-9 -2-24 2-2 3-18 -4-11 4 0 3 18 0 13 -1 6 4 7 -1 5 -2 2 2 5 -4 3 0 0 0 1 5 16 -4 1 2-4 4-5 4-12 -3-9 3-10 0-6 0-20 -4 8 6 4 2 17 -3 21 1" fill="none" marker-start="url(#k21)" marker-mid="url(#k21)" marker-end="url(#k21)"/>
<path d="M1370 666l-33 19 72 16-60 39-35 -1-18 -1-32 21-4 12 134 -1 12 0-69 26 42 -2 22 0-72 8 68 14 28 10-76 -1-32 1-4 1-33 -1-36 1 64 4 17 0 12 0 1 0 0 0 1 0 2 0 108 -2 60 2-21 6-2 -3-1 1-5 1-14 3-2 -4-38 -1-66 4-11 1 0 -1-6 -1-11 2-5 -3-25 0-24 1 83 7 20 -1 55 0 1 2 4 -3 7 -1 1 -1 11 3 75 -1 7 6 0 0-3 3-1 -1-93 -4 0 5-64 -1-12 -3-3 0-20 0-26 1-34 3-60 2 35 2 1 0 15 -2 0 2 3 1 9 -4 136 4 11 -1 10 0 85 4-16 4-1 -1-3 0-91 1-1 0-49 -2-22 1-58 -2-7 -2-49 1-2 4-5 2 47 -1 6 3 36 1 8 -4 9 5 9 -1 38 -4 25 1 6 1 76 1 7 2 3 -1 0 -3 10 0 1 1 1 -1 2 0-19 7-27 -1-10 3-3 1-2 0-34 0-12 -4-4 4-4 -2-1 -2-3 0-16 3-18 0-76 1-7 -4-17 3-9 -3-10 10 26 -2 42 -3 51 3 17 -1 2 3 2 -1 9 0 1 -1 2 1 14 -1 1 0 19 0 4 2 3 -4 2 2 7 0 1 0 1 -3-12 9-5 -1 0 -1-2 1-2 0-3 2 0 0-4 -1-1 -3-1 0-9 1-6 2-4 -3-1 1-3 -1-2 2-1 -2-3 0-3 3-4 -1-1 3 0 -5-11 3-3 -1-5 0-46 2-29 1-5 -2-14 -3-8 0-3 4-10 -2 14 7 9 2 2 -3 2 0 40 0 7 3 4 0 0 -1 10 -4 5 3 3 -2 12 -1 15 4 3 -3 4 3 1 -1 1 -2 0 4 0 -3 3 0 7 -1 3 4 0 -5 3 3 2 2 1 -2 6 -2 1 0 8 1 1 0 4 1 6 2 3 -5 1 1 1 1 1 -2 0 1 5 0 0 4 6 -4 1 8-4 0-2 1-8 -3-2 0-1 1-4 2-4 -3 0 2-8 2-9 -5-5 3-2 0-4 2-4 -5-6 3-4 0-10 -3-14 4-4 -3-6 1-13 -2-7 2-12 -2 27 6 13 3 2 2 2 -3 2 -2 12 2 15 1 1 1 1 0 7 1 1 -4 5 1 3 3 5 -2 5 0 1 1 3 -2 1 0 1 0 3 3 1 -5 0 4 6 0 2 -3 1 1 5 0 9 -2 1 3-1 7-1 -2-4 1-4 -2-6 -1-8 4-12 1-8 -1-1 1-2 -2-11 -2-4 0-2 -1-2 4-1 -4-3 3-9 -3 0 1-17 -1-4 2-15 -1-5 2-29 -3 32 6 28 3 24 -1 4 -2 0 2 0 2 1 -2 2 0 5 3 3 -3 2 -1 2 1 0 2 16 -3 7 0 7 3 11 0-5 4-1 2-1 -2-3 1-2 -3-4 4-1 1-7 -1 0 -2-1 3-6 -4-2 -1-3 4-1 -3 0 1-8 1-5 1-10 1-1 -1-17 -2-5 3-10 -5-7 2-8 -2-7 10 26 -1 13 2 4 -3 15 1 1 -1 2 2 1 -3 1 -1 5 2 5 0 4 -2 1 5 6 -2 5 0 1 2 2 -1 1 -2 1 0 5 2 2 -4 1 0 1 4 5 -3-16 5-6 4-3 -2-1 -2-20 2-5 1-1 -1-2 -1-10 0-3 -1-17 3 14 3 2 1 8 1 1 -1 11 2 2 -1 12 1 4 -2 9 0" fill="none" marker-start="url(#k22)" marker-mid="url(#k22)" marker-end="url(#k22)"/>
<path d="M1316 688l26 45 10 14 90 6-82 19-114 9 154 28-80 12 140 4-129 2-16 -3-79 9 67 -1 121 -1 67 -1 9 2 19 1 7 5-24 -2-1 -2-2 1-4 0-44 4-37 -3-55 1-16 1-2 1-3 -3-1 1-1 -2-2 1-5 -2-11 3-6 -1 55 4 77 3 4 -2 5 0 81 1 12 5-101 1-3 -1-37 2-73 2-23 -3-43 -1 150 8 21 -3 3 5 91 -1 1 -1 7 0-31 7-117 0-163 3 4 -1 33 2 53 1 72 -1 11 2 8 1 78 0 16 -4 2 0 2 0-20 5-8 0-3 1-3 0-61 -1-6 4-13 0-12 1-83 0-42 -2 88 8 33 -4 7 4 3 -1 3 -1 1 1 1 -1 1 1 10 -1 6 -1 18 3 7 -1 12 -4-11 11-7 -1-8 1-10 0-11 -3-7 -2-1 5-4 -4-5 2-7 -3-3 5-3 -5-4 1-11 -1-1 2-1 2-4 0-7 -3-23 3-72 2 86 0 2 2 15 2 6 -2 5 2 12 -4 6 3 11 -1 6 0 1 -2 4 3 4 2 1 -4 8 4 2 -2 9 -3 8 2 0 3 2 0 5 0 0 -3-2 4 0 3-2 1-5 0 0 1-6 -3-1 0-14 3-2 0-2 -5-4 3-3 0-1 1-6 -3-1 0 0 4-2 -1-2 -1-1 -2-9 1-84 0 19 8 25 -4 15 1 16 3 8 -1 1 2 2 -5 5 3 6 2 0 0 6 -1 6 1 8 -3 5 2 3 1 1 -2 2 2 1 -2 1 1 4 -3 2 2 6 -3 2 4 1 -2 3 1-4 7-1 -1-1 -2 0 -1-13 4-9 -4-3 1-4 0-1 -1-1 2-3 2-1 -2-5 2-4 1-6 0-5 -4-3 4-2 -3-19 0-24 3-1 -1-51 -4 48 9 3 2 21 -1 30 0 2 1 0 -3 2 1 6 -3 12 3 1 -3 3 1 2 0 7 -1 7 5 3 -1 4 -3 5 0-7 7-9 3-4 -4-8 0-5 4-2 -1-3 -1-7 2-4 -2-11 -3 0 3-3 -1-1 1-6 0-3 -3-7 5-11 -3-2 0 4 4 11 5 2 -3 1 1 18 -2 1 3 3 -2 2 -1 6 2 3 -1 1 -1 1 0 14 1 4 1 0 -2 4 1 0 -1 5 -1 5 1-9 8-1 0-2 2-1 -5-2 2-5 0-3 2-1 -2-1 0 0 3-4 -2-1 1-13 1-5 -4-15 2 0 -1-13 2-17 -4 46 6 7 2 9 0" fill="none" marker-start="url(#k23)" marker-mid="url(#k23)" marker-end="url(#k23)"/>
<path d="M1346 644l0 8 2 0 4 -1 15 0-25 4 6 179-11 3 112 4 83 2-96 7-210 4 311 -2-104 10-38 -2-128 -2-37 0 30 18 110 3 5 -2 10 4 47 0-2 2-36 2-36 1-6 -1-6 2-1 -3-13 4 20 4 28 -3 40 1 1 -1 5 3 2 1 3 -4 6 0-7 6-1 2-5 1-14 -3-1 -1-22 0-6 4-8 -3-25 3-3 0 27 6 5 1 27 -5 9 4 15 -1 10 1-3 5-17 -2-9 3-1 -2-9 3-16 -5-46 4 36 3 4 1 4 -2 7 0 3 4 9 -2 34 1-4 5-13 0-38 -2-2 1-17 2-33 -3 12 11 3 -5 22 0 22 0 5 0 6 4 28 0-9 3-32 2-12 1 12 2 17 1 2 -1" fill="none" marker-start="url(#k24)" marker-mid="url(#k24)" marker-end="url(#k24)"/>
<path d="M1345 651l2 0 0 4 34 231 40 3-53 25 9 -1 18 1-21 7 31 10-8 7" fill="none" marker-start="url(#k25)" marker-mid="url(#k25)" marker-end="url(#k25)"/>
</g>
<ellipse cx="1334.2" cy="836.3" rx="23.3" ry="12.8" transform="rotate(27 1334.2 836.3)" fill="none" stroke="#231f20" stroke-width="4.3" stroke-dasharray="0.01 8.96" stroke-linecap="square"/>
<g filter="url(#fillc)">
<path d="M1740 647l-23 0-3 0-1 -2-13 7 1 -1 4 2 0 -2 4 0 1 0 1 0 2 -3 2 0 3 1 0 3 0 -3 0 -1 0 0 1 4 4 1 3 -3 0 2 0 -2 0 0 1 0 0 -2 1 1 1 3 3 -1 1 1 2 -1 1 -1 1 0 0 2 1 0 0 0 1 -4 2 5 1 -3 3 2 4 5-5 2 0 -3-2 1-2 -2-1 2 0 -1-1 -2 0 2-1 1 0 2-2 -1-1 0-2 -4 0 5-2 -3 0 1-1 -3-1 5-3 -2-1 2-2 -1-1 -4-4 4 0 0 0 -2-1 3-1 -5 0 2 0 1-2 -1-1 0 0 -1-1 -1-1 0 0 5-1 -1-1 -3-6 1-1 -2-3 0 0 2-2 0-1 0-31 9 1 -1 2 1 4 0 1 -2 6 0 11 -3 4 2 1 -1 0 2 1 2 0 -1 1 -2 1 2 0 -2 2 2 0 -4 4 0 0 3 0 1 1 -1 0 -1 1 3 0 -1 5 -3 0 4 4 -4 1 2 1 -3 0 2 2 0 1 1 0 0 3 -2 1 -1 0 1 1 1 1 3 0 0 0 0 2 -4 0 3 1 -2 0 3 1 -2 2 2 5 -5 1 3 4 -2 2 -1 0 3 0 2 1 -5 1 2 0 2 1 -4 2 4 0 1 2 -3 0 -2 1 4 1 -2 2 3 6 0 4 6-3 -2 0 -1-1 -2-1 3 0 2 0 -4-2 1-1 -1 0 3 0 -1 0 0 0 -2-4 1-3 0-3 -2-1 0-1 0-1 0-1 5-2 -1 0 0 0 -4 0 4-1 -3-1 0-2 0-1 0-1 4-1 -3 0 0-3 3-3 0-5 -3-2 0 0 3 0 -4-1 3-2 -2-1 -2 0 0-3 4-3 1 0 -5-1 5-2 -4-1 -1-1 0-1 2-1 1-1 -3-2 4 0 -2-1 3 0 -4 0 4-2 -1-1 -3 0 0-1 0 0 -1-2 0-3 3-1 2-1 -2 0 -1-2 1 0 -2 0 -1-2 1 0 3 0 1-1 -5-2 4-3 0 0 1-1 -4-2 1-2 0-1 0 0 1-4 2-3 -3-1 0-1 0 0 3 0 -3-1 1-1 -2-2 1 0 -2-3 1-3 0-3 2 0 1-1 -1-2 0-1 0-4 2-2 0 0 0-5 4 4 1 0 -2 2 -1 1 1 0 2 1 0 1 0 0 -1 0 -1 2 1 1 2 0 0 0 -3 1 3 0 -4 1 2 1 2 3 -2 2 -2 0 0 0 3 0 -3 1 0 0 -1 0 0 1 0 1 1 1 0 2 1 1 3 3 -3 0 2 0 0 1 -2 4 3 2 -5 2 4 1 -1 0 1 1 0 1 0 0 0 0 1 0 -5 0 0 1 1 1 -1 2 5 0 -2 0 -1 2 1 1 -2 1 0 3 -1 0 4 3 -3 1 4 0 0 0 -2 3 -1 0 -2 1 5 1 -3 1 -1 1 4 2 -3 0 -1 0 -1 3 3 2 -1 0 1 1 -1 1 3 0 -3 1 3 2 0 1 -4 1 0 0 0 1 0 1 4 0 -1 2 -1 1 2 3 -2 1 1 1 -2 0 1 1 1 4 -3 0 4 1 -4 1 0 2 0 3 3 3 1 2 -3 5 2 2 -2 3 1 5 0 1 -3 0 5 1 -4 0 4 1 -5 1 0 1 3 0 1 1 -2 0 1 1 0 1 -1 0 3 3 -1 4 4-1 3-2 -5-2 3-2 1-4 0-1 -4 0 0-5 5-6 -4-3 4-3 -4-2 -1 0 0-2 1 0 0-1 4-1 0-1 0 0 -2-1 2 0 0-1 -5 0 2-1 -2 0 4 0 -2-4 1 0 -1-2 1-1 -2-1 2 0 2-1 0-1 -5 0 0-1 1-2 -1 0 3 0 1 0 -2-1 3-2 -4 0 3 0 -3-1 1-3 2 0 -1-2 2-2 -2-5 -2-1 0-1 1-1 -2 0 1-1 -1 0 5-1 -3 0 -2-1 0-2 2-1 3 0 -1-2 -3 0 4 0 -5-5 3-1 -2 0 0-2 4-1 0-1 -3 0 3-1 -5 0 0 0 4 0 1-2 -4-2 1 0 1-1 -1-1 -1-1 1-2 1-2 1 0 -1-1 1 0 1 0 -3 0 3-1 -2 0 -3-1 4 0 0-1 -2-1 3 0 -1-3 -2-1 0-1 1 0 2-1 -5-1 0-1 4 0 1-1 -5-1 0-1 5-2 -5-2 4-3 1-1 -3 0 -1 0 4-1 0-1 -4-1 2 0 -2-1 4 0 0-1 -5 0 1-1 0-1 -1-1 2 0 -2-2 4 0 -2-1 0-2 2-1 -1 0 1-12 6 2 -2 0 3 1 0 0 -4 3 4 0 -5 0 3 1 0 1 -1 1 2 2 0 1 0 2 -4 0 3 0 -3 1 2 1 -1 1 4 1 -3 3 2 0 -4 1 5 1 -1 1 1 1 0 1 -1 1 -4 2 1 2 1 1 -1 1 1 0 3 1 0 2 -5 0 5 3 -3 1 -1 0 2 1 1 0 -4 1 0 0 3 1 2 0 -5 1 5 1 -4 0 -1 0 3 1 -2 0 2 0 -3 1 5 1 -2 1 -1 2 1 3 0 0 -3 2 3 0 -3 3 2 0 -1 1 -1 0 4 3 -4 2 5 3 -4 1 4 0 0 1 -3 0 3 0 -4 0 4 0 -2 3 -2 0 1 3 -2 1 5 0 -5 0 0 0 3 1 -3 0 2 1 2 0 -4 1 5 1 -2 2 0 1 2 1 -4 1 -1 0 5 1 -1 0 -2 1 2 1 -2 1 -2 0 3 0 -2 0 2 1 -1 1 3 1 -2 0 1 1 0 0 -3 2 3 1 0 2 -1 0 -3 0 1 1 1 0 1 2 -2 0 2 0 -3 1 0 0 1 0 1 0 0 2 -1 1 3 0 0 1 1 0 -2 0 1 2 -1 1 -1 3 3 0 0 0 -1 1 -4 1 4 1 1 1 -4 0 -1 2 2 1 -2 2 2 0 1 1 -3 0 5 4 0 2 -4 5 2 0 -1 1 -2 2 2 2 0 5 3 0 0 0 -2 2 -2 1 0 2 4 2 -2 9 5-1 3-5 -3-2 -1-2 1-2 0-1 2 0 -2-4 1 0 1-3 -3-2 -1-1 3-2 0-1 -3-5 3-6 -2 0 4-3 -5-1 4-1 -4 0 0 0 5-1 -3-1 2 0 1 0 0-3 -3-1 1-1 2-1 -5-1 4-2 0 0 -4-1 5-1 -5-1 1-2 1-2 3 0 0-3 -5-1 1 0 2 0 0-2 0-5 2-1 -3-1 -1-2 1 0 -2 0 0-2 4-1 -1 0 -1-1 2-3 1-1 0 0 -1-2 -1-1 -2-1 2-2 -1-1 1 0 0-1 -2-1 2-1 -1-1 2-1 -1-2 2 0 -4-1 -1-1 1-1 1 0 3 0 -4-1 1 0 2-1 1-5 -2-1 2 0 -4 0 4-2 0 0 0-1 -3-2 1 0 -3-1 4-4 -4-1 5-1 -4 0 -1-2 5 0 -4-3 0 0 0 0 -1 0 3-1 -1 0 0-1 2 0 -3-1 -1 0 2 0 -1-1 3 0 1-1 -3-2 2-3 -3 0 2-3 -1-1 2 0 -3-2 0 0 -1-2 1 0 0-3 0-2 4-1 -1 0 1-1 0-2 -4-1 -1-1 5-1 -2 0 -1 0 -2 0 0 0 3-1 -1-2 2 0 -4-1 1 0 4-1 -5 0 0-1 4-4 6 2 -3 0 0 0 4 1 -5 0 1 0 2 1 -3 1 4 1 0 1 -1 1 2 0 0 1 -1 3 -1 0 -1 1 2 3 1 1 0 0 -4 0 3 3 0 1 -2 0 1 1 -3 1 0 1 1 1 3 5 0 0 -2 2 3 0 -3 0 1 4 -2 1 3 0 -3 1 3 2 -4 0 2 1 3 1 -4 1 2 1 2 0 -5 0 4 3 -1 1 -3 1 2 1 3 1 -2 1 -3 1 0 0 1 1 4 1 0 0 -2 1 1 0 -2 2 2 1 -2 1 2 1 0 0 -2 0 -2 1 2 3 0 0 -1 0 2 0 -3 2 4 1 -3 1 -1 1 5 1 -1 1 0 1 1 1 -1 1 -4 1 0 0 5 1 0 1 0 0 -2 0 0 2 2 0 -2 2 -2 0 0 1 3 1 -4 0 1 1 2 1 2 0 -1 1 0 0 -2 3 -1 1 0 1 0 0 1 1 1 0 0 1 -3 0 4 0 0 2 0 1 1 2 -5 0 2 2 3 2 -1 1 1 0 -4 1 0 1 0 1 4 1 -3 3 3 0 -1 1 -2 1 1 1 -1 0 -2 0 5 1 -3 0 -2 0 4 1 -2 1 0 1 1 0 -3 0 0 1 1 1 -1 1 5 0 -4 1 0 1 -1 0 5 0 -3 1 2 0 -1 0 2 1 0 0 -2 5 -3 0 0 4 0 2 2 1 -1 2 3 4 -2 0 3 0 -1 0 -4 1 2 1 0 0 2 3 -3 2 -1 0 3 0 -2 1 0 2 -1 1 1 0 3 1 -2 1 -2 3 3 1 -1 2 -1 0 4 6 -3 2 3 0 -4 6 4 0 -1 9 7-10 -5 0 4-1 -2 0 2-3 -3-1 0-1 0-2 3-1 1-1 0-1 0-1 -2-1 1 0 -4-3 1-2 4-2 0-2 -3 0 -2 0 4-1 -2 0 3 0 0-2 -3-1 3 0 -5 0 0 0 2-1 -2 0 5-1 0 0 -5-1 2-2 2-2 -3 0 2-1 -3-1 1-2 -1 0 4-2 1-1 -2-5 2 0 0-1 0-1 -1-1 1 0 -1 0 -3 0 4-1 -2-2 -2-2 3-2 -2 0 -1-1 3 0 0 0 0-1 -1-2 1-1 -3-2 4 0 -2-1 -3-1 2-1 3-1 -4-1 3-2 -3 0 0-1 -1 0 1 0 3 0 -3-1 1-1 -1-1 4 0 -1 0 -4-2 0-1 3-1 1 0 -4-1 2 0 -1-2 2-1 2-1 0-1 -1-2 -4-2 5 0 -2-1 1-2 -4-2 2 0 1-1 2-1 -3 0 1-1 0 0 -1-1 -1-1 -1 0 5-1 -4 0 4-1 -2-5 0 0 -1-1 0 0 -1-2 1 0 0-1 2-2 -2 0 3-1 0 0 -4-1 3-1 1-4 -4 0 -1-1 3-1 2-2 -3-3 0 0 2-3 0 0 -1 0 0-2 -2 0 -1-1 5-3 -1 0 -4-3 0-1 5-2 -2 0 2-1 -4 0 0-1 4 0 -3-2 1-1 -1 0 -1-1 2 0 -3-2 1 0 0 0 3-1 -4 0 0-3 0-3 2 0 -2-1 2-1 -1-3 -1 0 0-1 2-2 0-2 0 0 1 0 2-1 -5-1 2 0 -1 0 1 0 2-1 -3 0 0 0 1-2 2 0 -1 0 -1-1 3-2 -4-1 -1-2 3-1 0-1 1-1 0 0 0-3 5 0 2 0 -1 1 0 1 -2 0 2 0 1 1 -2 1 -1 1 -2 2 1 2 3 1 0 1 -2 0 0 0 0 2 1 1 -2 0 1 1 3 0 -5 0 3 1 1 0 1 0 -4 1 0 2 -1 1 3 0 -3 1 0 0 4 1 0 2 0 2 0 1 0 1 -3 0 3 0 1 1 -5 0 1 2 -1 1 3 1 1 1 -3 0 0 0 3 1 1 1 -2 0 1 1 1 1 -2 0 -2 1 4 1 -3 1 2 0 -4 3 0 0 5 2 0 3 -5 1 0 0 2 4 -2 1 5 1 -4 1 3 0 -2 0 2 2 0 2 1 2 -4 1 3 0 0 1 -4 1 5 1 -2 1 1 0 -1 1 2 1 -3 0 3 0 -3 1 -1 0 1 0 1 1 2 0 -4 1 2 6 1 3 -2 2 1 1 -3 1 3 0 2 0 -4 0 2 1 -3 1 2 4 -1 0 3 2 -4 1 0 1 0 0 1 3 4 1 -3 3 -2 1 0 1 3 1 -3 0 2 0 1 0 -3 1 3 0 2 0 -5 0 3 0 -3 4 4 0 0 2 1 1 -1 0 -2 1 0 0 -1 1 0 0 4 0 -1 2 -2 0 -1 2 1 0 0 3 0 0 2 0 0 1 -2 1 0 0 3 1 -4 0 4 1 -4 1 3 1 0 3 -2 1 3 0 -3 0 0 1 0 0 3 0 -4 0 -1 1 1 1 2 1 -1 0 1 0 -3 1 5 0 -3 1 -2 2 1 1 -1 0 0 0 0 1 4 2 0 0 -3 1 1 1 0 2 2 0 -1 1 2 2 0 1 -3 0 3 1 -2 3 -3 2 2 5 0 2 2 3 0 1 -2 2 -1 4 -1 0 3 1 0 0 2 0 -4 0 -1 0 2 2 1 4 2 0 -2 6 -3 8 11 0 0-1 -3-4 0 0 -1 0 4-2 -2 0 1 0 -2-1 1-1 0 0 -3-2 2-1 0-2 2 0 0 0 -1-1 1-1 -3-1 4 0 -2-1 -1-3 0 0 -2-3 5-1 -2-3 -3-2 4 0 -1-1 -1-1 3-3 -3 0 0-1 0-1 -2-1 4 0 0-4 1 0 -5-3 0-1 2 0 0 0 0-1 -2-1 4-2 -1-2 0-3 -1-1 2-2 -1-1 -3 0 2-1 1 0 -1-1 2-1 -1 0 -3-1 0 0 3 0 2 0 -1-2 0-1 -1-1 1 0 0 0 -1-1 -2 0 2-1 1-1 -4-2 1-1 1-2 -1-1 1 0 -1-2 0-1 2-1 -1 0 1-1 2-1 -5 0 5-2 -3-2 -2-1 2-1 -1 0 0-1 2 0 1-2 -3-1 1 0 1-1 1-1 0 0 -4 0 0-1 5-2 -2-1 -3 0 0 0 1 0 1-1 -2-1 2-5 1-1 1 0 0-5 -4 0 2-3 -1 0 1-1 3 0 -2-1 0-1 1-1 -4 0 3 0 0 0 -2-1 -1-1 2 0 1-2 1-1 1-1 -5-1 2-1 0-1 2-3 -3-1 -1-1 4-1 1 0 -5-1 0 0 3-3 -3-1 3 0 2 0 0-1 -2 0 -3-2 2 0 0 0 1-1 2 0 -2 0 -3-3 2-1 0 0 -2 0 0-2 5 0 -1 0 -1-1 -1-2 0-2 3 0 -2-1 -1 0 -1-4 -1-1 2-2 3-1 -3 0 3-1 -4-1 0 0 1-1 2 0 -2-1 1-2 1-1 -3-1 3-1 -4-2 4-1 -4-2 2-1 -2 0 1 0 3-1 -2-1 3 0 -2-2 1-1 -3-1 0-1 2-3 -3 0 5-1 -5-1 1-1 2 0 -1 0 1 0 -1 0 -2-1 0-2 5 0 -3-1 -2-2 4-1 -2-1 1 0 0-2 2-1 2 1 3 0 -4 0 5 1 -1 2 -2 0 2 0 -3 2 1 1 3 1 -5 0 0 4 1 1 2 0 -1 0 0 0 1 3 -3 1 0 0 4 2 -2 2 -1 1 2 1 -2 2 -1 0 3 0 -2 1 3 1 -3 0 0 1 2 1 -1 1 -1 0 0 0 2 2 -2 2 2 1 0 0 -2 1 0 0 -1 1 4 0 -3 0 2 0 2 1 -1 1 -1 2 -2 0 -1 0 0 3 1 0 -1 0 2 1 -1 0 3 1 -4 1 3 3 1 6 -4 0 2 2 -2 1 4 0 -1 1 2 2 -5 3 1 2 2 1 -3 4 2 1 0 3 2 2 0 1 -1 1 -3 0 3 0 1 5 1 1 -5 1 5 1 0 0 0 3 -5 1 1 0 3 0 -2 2 -1 1 3 1 1 0 -5 0 4 1 -1 0 0 0 -3 3 2 3 3 0 -2 3 -1 0 -2 0 0 4 1 1 4 0 -1 0 -1 1 2 1 -5 2 1 0 1 0 0 0 1 1 2 0 -2 0 0 6 1 0 -1 1 2 1 -2 0 1 1 -3 1 0 0 3 0 -2 1 -2 0 4 0 0 1 0 1 0 0 0 1 -4 2 0 1 0 2 5 2 -3 0 0 2 0 2 3 2 -4 3 2 0 -2 3 4 1 -3 0 3 0 -5 1 4 1 -2 1 3 1 -2 1 1 0 -3 5 4 2 -4 2 4 0 -3 3 0 1 3 1 -5 0 2 4 3 1 -3 1 1 1 -2 1 0 0 -1 1 1 1 4 0 -3 0 2 1 -3 1 4 2 -2 2 1 0 -2 2 0 0 1 2 0 1 1 0 -1 1 -1 1 -1 4 -1 1 5 0 -5 1 3 1 1 4 -2 1 8-1 1 0 -4-2 1-1 -2 0 3-1 1 0 1-1 -2-1 -2-2 -1 0 0-1 4 0 0-2 -1-4 0-1 -2-4 -1-2 1-3 3 0 0 0 -1-1 -1-1 2 0 -1-1 0-2 -2 0 4-1 -5-2 1 0 3-1 -2 0 1-2 2 0 -1-1 -3 0 1-1 -2-1 0 0 4-1 -4-2 2-3 -1-1 -1-5 5-2 -2 0 1-2 -4 0 4-3 -2 0 -2-2 0 0 0-3 1 0 0 0 4-1 0 0 -1-2 -4-1 3-4 -2-1 1-2 3-1 -4 0 0-2 3 0 -3 0 0-1 -1 0 1 0 1-2 -1-1 3-4 -4-4 2-4 1-2 0-2 -1-1 0-1 -2-1 4 0 -4 0 5-1 -3 0 -2-2 4 0 1 0 -1-1 -1-2 0-2 -3-1 4-1 1-1 -1 0 -3-1 3 0 -3-1 -1-1 2-1 3 0 0-3 -4 0 -1-4 0-1 3-1 0 0 2-1 -2-4 0-4 -2-1 2-2 -3-1 2-5 0-1 3-4 -1 0 -4-2 2-2 2 0 1-7 -5 0 3-1 -2-1 1-2 1-1 -1-1 -1-1 4-3 -1 0 -4-4 5 0 -1 0 1 0 -2-1 -2-1 -1-1 4-2 -1-2 0-1 2-1 -1-1 -4-1 1-3 2-1 0 0 -2 0 3-3 -4 0 3-1 0-1 -1 0 -1 0 4 0 -3-1 1-1 2-3 -3 0 1 0 -1-1 -2 0 2-1 0-1 3-1 -4-4 10 0 -3 1 3 3 -3 1 0 0 3 0 -4 0 2 2 0 0 2 2 -3 1 -2 0 1 0 4 1 -4 1 4 0 -3 1 3 1 -2 1 0 1 -1 1 1 3 -3 0 1 3 2 1 -3 1 2 1 0 1 -2 2 3 1 -2 1 3 1 1 1 -5 0 1 2 -1 3 5 0 0 1 -4 0 3 2 -3 1 -1 0 5 1 0 1 -5 1 3 0 -3 2 0 0 4 1 0 0 -2 3 -2 2 5 3 -5 1 1 0 4 1 -3 0 3 5 -4 0 3 1 -4 0 3 2 -3 1 4 0 0 5 0 3 1 2 -3 0 3 3 -5 2 0 2 3 1 2 1 0 1 -4 1 2 3 0 2 -3 1 4 0 0 1 1 1 0 2 0 1 -3 0 -2 0 2 2 0 1 3 0 -2 0 0 1 -3 0 3 0 0 2 -3 1 0 1 1 0 0 3 3 1 1 0 0 1 -4 0 4 0 -2 1 2 1 -3 5 1 2 -3 1 1 0 2 1 2 1 -3 0 0 2 1 0 -2 0 1 1 1 2 -2 0 1 1 3 0 -5 1 2 2 0 0 -2 3 4 0 0 0 0 1 -4 1 1 2 2 1 -2 0 -1 1 5 2 -1 0 1 2 -1 0 0 1 -3 0 3 2 -3 2 2 2 1 2 -1 0 -3 1 5 0 -2 1 2 1 0 0 -4 0 3 3 -3 3 0 0 1 1 0 1 1 1 -1 2 2 1 -2 3 1 1 -2 1 4 0 -4 1 2 2 -3 2 3 0 -3 1 0 0 3 2 -2 1 2 1 -1 0 2 1 -3 1 0 0 4 2 0 1 -5 0 3 1 0 1 1 3 -1 2 1 1 -4 0 3 0 -2 2 0 0 1 1 -1 1 0 2 -1 1 3 1 -1 3 6-3 -2-1 3 0 2-2 -1 0 1-3 -1 0 0 0 -4 0 3 0 -1-1 0-1 2-1 -2-1 3-2 -4 0 -1-1 1 0 2-1 -3 0 3 0 1 0 -3-1 0 0 2 0 -2 0 -1-2 4 0 -1-2 -3-2 1 0 2-1 1 0 -1-1 2 0 -3 0 -2-1 0-1 4 0 0-1 -1-2 -3 0 0 0 2 0 2 0 -1-1 0 0 -1-1 0-2 -2 0 0-1 3 0 0-2 -2 0 1 0 -2-1 0 0 5-1 -3-1 2-4 -3-3 4-1 -3 0 -2-4 0 0 5 0 -3-1 0-1 -1 0 4-3 -1 0 -1 0 -1 0 1-1 -2-3 2-1 1 0 0-1 -4-2 5-1 -2-1 1 0 1-1 -2-1 2-1 -2 0 0-1 -2 0 1-1 2-2 1 0 0 0 -1-1 -3-4 1 0 3-2 0 0 -4-2 2-1 -1-1 -1-2 0-1 0-2 3-1 -1-3 0-1 -2-1 4-1 0-2 -1-1 -2-1 -2-1 4-2 1 0 0-1 -1-1 -4-1 1-1 4 0 -1 0 -2-1 2-1 -2-1 -2-4 3 0 1-2 -4-1 2-3 -2-5 5-1 -3-3 0 0 -2-1 0-1 2-2 0-1 3-5 -2-3 1-1 -1 0 0 0 -1-1 2 0 0-1 -3-1 4 0 -1-2 -3-2 3-5 1-1 -1-1 -1 0 1 0 -2-2 3 0 -3-1 1-2 2 0 -1-1 -2 0 -2-1 4-1 -4-1 2 0 -2 0 0-1 3-1 -1-3 1 0 -2 0 0-3 0-4 2-1 -2-1 1-1 0 0 -1-1 -1 0 3-1 0 0 2-4 -5 0 0 0 1-1 0-1 1-1 0-1 1-3 1-1 -4-1 5-2 -4-2 1-2 -2-2 4 0 -3-3 2 1 3 5 4 0 -2 0 1 1 1 3 -1 1 -1 1 1 1 -3 1 5 3 0 0 0 1 -4 4 3 0 -1 0 -3 6 0 1 2 0 1 0 -3 1 0 1 4 0 0 2 1 0 -5 0 0 2 1 0 2 0 -3 1 5 0 -1 2 1 0 -1 5 -1 0 1 1 -4 0 2 1 3 0 -1 0 -4 2 3 0 -3 6 3 1 0 7 0 0 1 0 -3 1 3 4 -2 7 3 0 -3 2 2 4 1 1 -1 3 -4 0 1 1 1 1 2 2 -4 0 5 0 -1 2 0 1 -3 0 1 2 -1 1 4 1 -4 0 1 2 1 0 2 0 -3 0 1 2 2 2 -3 0 1 3 2 2 0 1 -4 1 -1 2 1 0 1 0 1 1 1 0 0 0 -2 4 -2 0 2 1 3 2 -3 0 3 1 0 1 -2 1 -1 1 -2 1 0 1 1 0 2 0 0 1 -1 0 3 0 -1 3 1 4 0 1 -5 0 2 2 3 1 0 2 -2 3 -2 0 -1 0 0 1 4 1 -3 1 3 4 -2 1 2 2 0 0 -2 0 2 1 1 2 -4 0 4 1 -5 1 0 1 2 0 -2 3 3 4 0 1 1 5 0 0 -2 2 0 0 0 1 1 3 1 1 -2 0 3 0 -4 3 -1 1 2 0 -1 0 2 2 1 1 1 0 0 1 -2 2 -1 1 0 2 1 3 -3 2 5 0 -2 0 2 1 -4 2 1 0 3 2 -2 1 2 0 -1 1 -3 1 2 1 -1 0 2 1 -1 7 2 8 4-1 -1-1 1-1 -2-1 -1 0 3-5 1 0 -1 0 0-3 1-4 1 0 -5-1 0-3 0-2 4-2 -4-1 3-1 -3-2 5 0 -2-1 2 0 -5-1 4-1 1 0 0-2 -3-2 1-2 -3-1 1 0 1-1 3 0 -5-2 3-1 0 0 2 0 -3-3 2 0 -2-6 -2-1 1-3 0 0 0 0 0-1 0 0 -1-1 0-1 0-2 3-1 -1-3 0-1 0 0 3 0 -4-1 4 0 -2 0 1 0 -4 0 3-1 -1 0 1 0 -1 0 2-1 0-1 1-2 -2-1 1 0 1-1 -2 0 2 0 -2-1 2-3 -2-1 -1-2 1 0 1 0 0-2 -3 0 -1 0 3-1 -2-1 1-1 2 0 -1 0 0 0 -1-1 1 0 -3-1 1-1 1 0 -1 0 -1-2 5 0 -3-1 2 0 -3 0 2-3 -2-1 1-1 -2 0 1 0 4-1 0 0 -3-1 1-2 2-1 -5-1 3-2 0-1 2-2 -2-2 1 0 -3 0 1 0 3-1 -3-1 3-2 -2-1 2-1 -4 0 2-1 -2-1 4 0 -5 0 0-2 4 0 -3-3 1-2 -2 0 4-2 0-1 1 0 -2-2 -2 0 3 0 -1-1 -3-3 5-2 -5 0 0-1 3 0 2-1 -4-2 -1-2 5 0 0-2 -5 0 1-2 4 0 -1-3 -3-1 2 0 -1-2 -1-1 3 0 -4-2 3 0 -3-2 0-2 1-1 1-3 -2-2 1 0 -1-1 1 0 2 0 0-2 -3-3 5-1 0-1 -4-1 0-1 3 0 -2-1 3-1 -5 0 4-2 1 0 -3-2 -2 0 3-1 -2-1 -1-1 3 0 2-1 -1-1 -4 0 1-2 3 0 0 0 -3-1 -1-1 5-3 0 0 -2 0 0-1 -2-1 0 0 0-1 1 0 3 0 -4-1 1-1 0-1 -2-1 5-1 -3-1 0-1 3-2 -5-2 2-1 1-4 1-2 -2-1 2-1 -4 0 0-1 5-1 0-7 6 4 -1 0 0 1 -3 0 -1 1 5 1 -4 1 -1 2 1 1 1 1 3 0 -1 3 -1 0 -1 1 1 1 -1 0 -2 0 1 0 3 1 -2 0 0 0 3 2 -5 0 2 2 -1 1 -1 0 1 3 1 2 -2 1 4 3 -2 0 0 2 3 1 -1 2 -1 1 -1 0 3 0 -5 2 2 0 -1 2 3 0 -2 0 0 3 2 1 0 1 0 2 1 0 -5 6 1 1 0 0 -1 2 1 0 0 2 2 2 2 1 -2 2 -2 1 0 3 0 1 1 1 3 0 -1 1 0 1 -4 2 4 1 1 1 0 1 -5 1 0 3 3 1 2 1 -2 0 -3 1 4 2 -2 0 -2 0 4 2 0 2 -2 3 -2 1 4 0 -1 1 -2 1 1 4 1 2 -2 0 3 2 -1 0 1 8 -3 0 0 2 0 3 -1 0 5 1 -1 1 -3 0 2 1 2 0 -2 4 2 0 -4 0 4 0 0 1 -3 0 2 1 -2 2 -2 0 4 0 -4 2 5 0 -3 1 -2 2 5 0 -2 3 1 1 1 0 -1 0 -2 1 1 2 -2 2 2 0 -1 3 1 0 -1 0 1 0 -3 0 3 0 -3 1 0 0 3 0 -1 0 1 2 -1 0 1 4 -1 0 0 0 -1 3 1 5 3 2 -2 0 2 5 -3 2 3 1 0 2 -1 4 -2 1 -1 0 1 2 3 0 0 2 -5 3 5 1 -3 2 3 1 -2 3 -1 1 1 3 -2 4 4 0 0 2 -2 1 -2 0 1 1 -1 0 -1 0 2 1 0 0 -2 3 0 1 4 1 1 2 -4 2 0 0 1 2 0 1 3 0 -1 0 -2 1 -1 3 3 3 0 1 -1 1 0 0 -3 1 6-2 3 0 1 0 -4-1 4-3 -2 0 -2-1 3-2 -2-1 1-1 3 0 0 0 -4-1 -1 0 0-1 3-3 -3-1 1 0 -1-3 5 0 -1-1 -4 0 1-2 2 0 1 0 -4 0 4-3 -1-2 2-2 -1-1 0-1 0-6 1-2 -3 0 3 0 -1-3 -1-3 -1-1 -1-1 2-1 0-1 0 0 -1-10 1 0 -1-1 2-1 -2 0 0-1 1-1 -1-1 -2-1 0-2 2 0 0-5 2 0 -2-1 -2-1 4-3 -2 0 -1 0 -1-2 1-6 0-1 -1-1 0 0 1 0 1-2 0-1 0 0 0-1 0-1 -1 0 1 0 1-1 0-1 -3-2 2 0 1-1 0-1 -3 0 0-2 2-2 3-1 -1 0 1-1 -3-1 -2 0 1-1 0 0 -1-1 2 0 -1 0 -1-1 2-4 1-1 -2-1 0 0 1-3 -1-4 -1 0 1-1 0-1 -1 0 0-1 4-1 -4-1 5-1 -5-4 5-1 -4 0 -1-1 3-4 -1-6 1-3 -1-3 3-2 -1-2 1-1 -4-1 1 0 2-5 -1-3 0-1 2 0 -3 0 2-4 -3-2 4-1 -2-2 -2-1 0-4 0-2 1-2 -2-1 3-1 1-2 -2 0 3-1 0-1 -3 0 0-1 0-1 3 0 -2-1 -3 0 5-2 -4-1 1-1 -1 0 3-3 -1-2 -3 0 0-1 5-1 0-1 0-2 -1 0 -3-1 0 0 0 0 1-1 2 0 -2-3 1 0 -3-2 0-2 3-1 0-5 -3-2 0 0 6 1 5 0 -2 0 1 1 1 4 -3 2 1 0 -1 5 3 0 -2 1 2 1 -3 1 3 0 -3 1 1 1 -1 3 -1 0 2 0 2 1 -3 1 2 1 -1 0 2 1 -4 2 0 0 4 0 -3 1 -2 0 4 1 -4 2 1 3 4 0 -5 1 1 1 -1 2 3 4 -3 1 2 0 -1 1 3 3 0 0 1 1 -2 0 1 1 -2 0 3 1 -1 3 1 2 -5 1 0 2 0 1 3 0 1 1 1 1 -2 1 -1 0 2 3 -4 0 4 0 -1 3 -1 2 2 3 -2 0 -2 3 4 1 -1 3 1 1 1 2 -4 2 2 2 0 5 1 4 -4 1 4 2 -2 0 0 0 -2 1 4 2 -3 1 3 1 0 3 0 0 0 2 0 0 -2 1 0 0 1 1 -1 0 3 1 -4 0 1 2 3 1 -3 0 3 0 -3 1 -1 0 3 5 -2 1 0 0 2 0 1 2 -4 4 1 1 0 3 3 7 -1 0 0 3 -1 0 0 0 2 0 -1 1 0 1 -4 2 5 3 -3 0 2 8 -4 2 4 4 -1 1 -2 1 1 0 0 2 -1 0 4 4 -3 2 -2 1 4 1 -1 4 1 1 -2 1 -1 2 3 1 -2 0 -2 1 4 0 0 1 -3 2 -1 2 2 0 1 4 2 1 -1 0 0 3 -3 1 -1 2 5 1 -3 0 0 1 -1 1 3 2 -4 0 1 0 1 0 -2 1 0 1 1 0 3 0 -1 1 2 3 -3 0 -1 0 2 0 2 1 -1 0 1 2 -4 1 2 0 2 1 -1 0 -4 0 4 2 -3 1 0 0 3 0 0 1 0 2 -4 4 8-2 3-1 -3-3 0-2 3-2 -4 0 4-2 -2 0 0-2 -2-1 2 0 2-2 -4-2 3-2 -1-1 2 0 -3-2 1-1 1-3 -4-2 3 0 -3-1 3 0 -3 0 1-2 -1-3 5-5 -4 0 -1-1 5 0 -1-1 -1-2 -2-1 1-1 1-1 -1-9 -2-1 2-2 0-1 3-1 -1-1 0 0 -2-2 -2-4 4 0 -4 0 0-3 2 0 2-1 1-3 -1-2 1-1 -3 0 3 0 -2-1 1-1 -2-1 -1-1 2-4 2 0 -5-1 2-1 3-1 -1-1 -4-4 4-1 -3-4 3-6 -4-1 2-6 -1-6 2 0 -1 0 1-1 -3 0 1-3 -1-1 5-4 -3-1 1 0 0-1 2-7 -4-2 2-3 2-2 -3-1 -1-2 0-2 3-1 -3 0 3-1 0 0 -2-5 -1-5 2-1 2-1 -3-1 2-2 1 0 -4-1 2-2 1-4 -2-1 2 0 -3 0 4 0 -4 0 4-1 -4-1 4-1 -1 0 -1 0 2 0 0-1 -1-2 -2 0 -2 0 1-1 -1-1 2-1 1-1 -3-1 3-2 -3-1 1-2 -1-1 5-1 -3-3 -2-1 1 0 3-1 0 0 -4-1 1-3 3-1 -3-1 -1 0 0 0 2 0 2 0 -4-1 2-1 3 0 -1 0 -4-1 2-1 3-2 0-1 -2 0 0-2 -2-2 3-1 -3 0 4-1 -3 0 2-1 -2 0 0-1 2-3 -2 0 3-2 -3 0 -2 0 5 0 -2 0 0-1 -3-1 0-2 10 1 -3 0 4 1 -4 1 3 0 -2 0 1 1 -1 3 3 2 -5 2 5 1 -1 0 -2 1 1 1 0 0 -3 0 5 1 -3 1 1 2 0 0 -3 1 5 2 0 2 -2 0 -2 0 3 1 -2 0 2 3 0 2 -4 1 5 2 -2 0 -2 1 1 0 2 1 1 0 -4 1 4 0 -4 1 2 0 -1 3 1 1 -2 1 2 2 -2 1 2 0 -2 0 0 1 4 2 -5 0 2 1 2 0 -4 2 5 0 0 4 -3 0 1 1 -3 0 3 3 2 0 -1 1 -3 1 -1 0 3 1 -2 1 4 2 -4 0 1 4 -1 1 0 1 3 1 -1 2 -3 2 3 7 -2 3 2 3 -3 0 5 1 -5 1 5 1 -5 3 4 1 -3 1 3 2 -1 1 -2 1 2 2 1 0 -1 9 0 2 -3 1 5 0 -4 1 1 7 3 1 -5 7 3 1 2 0 -2 4 2 1 -5 2 1 4 4 2 -5 2 4 2 -1 0 0 1 -1 2 -2 2 3 2 1 1 -4 2 5 7 -3 4 -2 3 3 2 1 0 1 1 -3 2 2 2 -2 0 1 0 1 11 -1 0 0 2 -2 1 1 0 1 1 0 1 0 2 -1 1 0 3 -1 0 2 2 -1 2 0 1 -2 0 5 3 -1 0 -1 4 -3 0 2 1 3 2 -2 1 2 2 -3 1 -2 0 4 1 1 0 -5 0 3 1 -2 1 -1 3 4 1 -4-3 11-3 -5 0 0-2 0-1 5-4 -4-2 0-3 0-1 -1 0 3 0 -3-1 2 0 -1-1 0-1 0-2 2 0 -2-3 2 0 -2 0 0 0 0-1 1-3 0-1 1-6 -3 0 2 0 -2 0 3-3 -2-2 -1-1 1-1 0-1 4 0 -1-3 0 0 -4-1 4 0 -4 0 5 0 0-3 -2 0 2-4 -5-1 4 0 -3 0 2-1 0-4 0-1 1-7 -4-1 5-1 -1-1 -3-1 3 0 -3-4 -1-1 0-2 2 0 3-1 -2-1 1-3 -4 0 5-5 -5 0 2-3 0 0 -1-1 -1-2 5-7 -1-1 -1-2 2 0 -1-7 -2-1 -1-9 4-1 -4-3 2 0 2-4 -2-3 -3-3 2-6 1-1 0-2 1-4 0 0 -3-2 3-1 -3-2 3-1 -2 0 -1 0 3 0 -3 0 4 0 0-2 0-5 -5-1 4 0 -4 0 4-1 0-2 0 0 -4-1 5 0 0-1 0 0 -1-1 0 0 -3 0 0-1 -1 0 1 0 0-1 -1-2 4-2 1 0 -5-1 2 0 0-2 1-1 2-2 -5-1 0 0 5 0 -4 0 -1 0 5 0 -1-1 -4 0 5-2 0-1 -2 0 2-1 -5 0 2-2 3-1 -1-3 -4-1 2 0 1-2 1-2 0 0 -1-1 -2 0 3-1 -2 0 -1-1 -1 0 3-1 1-1 0 0 -1-1 2 0 -1-2 1-2 -2 0 -1-1 2-1 -1-4 0-1 1-2 -4-1 1-5 0-2 2 0 2-2 2 0 4 5 -2 2 0 0 0 1 -1 1 -1 0 2 0 -1 1 2 0 -2 1 1 5 1 0 -3 2 1 1 2 1 1 2 -2 1 -1 1 3 2 -1 1 -2 3 3 2 -4 2 1 0 -2 1 0 1 3 5 2 0 -4 0 -1 3 3 3 -3 2 5 2 -1 2 -1 0 0 2 1 4 0 0 -2 3 0 3 0 0 0 2 -1 2 2 0 0 3 -3 1 0 2 3 6 -1 1 3 0 -5 1 5 0 -5 1 4 4 -2 1 0 0 1 1 1 1 0 1 -2 4 0 1 3 2 -5 0 4 1 -4 0 0 1 4 1 0 3 -4 2 2 1 1 0 -3 2 5 2 0 3 -4 0 1 1 1 0 2 2 0 4 -2 6 -3 1 1 1 4 1 -2 2 1 0 -3 1 -1 1 4 1 -4 0 4 10 -4 1 5 0 0 2 -3 0 -2 1 5 1 0 3 -4 1 1 3 0 2 1 1 -1 1 -2 3 3 5 -2 3 -1 2 0 0 0 2 4 1 -2 1 2 2 1 0 -2 1 0 0 1 1 -2 2 -2 1 1 2 3 2 -2 0 -1 1 3 3 -4 2 5 1 0 1 -3 0 -2 0 5 1 -3 0 0 1 -1 0 3 3 -2 0 2 1 0 4 -2 2 3 1 -2 0 -1 0 3 3 -1 1 -4 0 0 4 5 0 -4 1 3 2 0 3 -4 0 1 3 4-2 2-3 2 0 2 0 -1-1 -4-3 0-3 0-1 0-2 3-3 0-1 -1-2 -1-1 4-2 -5-2 3 0 0-2 -2-4 4-1 0-1 -1 0 -2 0 0-2 2 0 -2-1 -2-2 2-2 -2 0 2-1 1-1 -3-5 2-1 3 0 -5 0 3-4 -3-1 0-2 3 0 -2-2 2-1 0-1 2-1 -1 0 -3-1 1-5 2 0 1-3 -3-3 2-1 -4-5 0 0 1-2 1-3 3-7 -2 0 -3-3 0-1 2-5 2-2 -4-1 4-1 -4-1 3 0 -2-1 3-1 -2-3 2-1 -3-1 1-3 -2 0 4 0 0-1 -4 0 5 0 -4 0 4-2 -4-1 4-1 -4 0 3-1 -2-2 0 0 1-2 -3-1 4-2 -3 0 -1-2 1-3 4 0 0-3 -2 0 0-5 2 0 0-3 -5-1 5-3 -3-1 2-1 -4-7 2-3 -1 0 0-3 4 0 -5-2 2-1 3-3 -4 0 3-1 -2-1 -1-2 3 0 -2-6 1-1 -1-1 3-1 -2 0 2-1 -4-3 0 0 4-3 -2-2 -3 0 0-1 2-2 -1-1 0 0 1-2 3-3 0 0 -5-1 2-2 0-2 0-1 -2-1 1 0 1-1 1 0 -2-4 3-2 1 0 -1-1 -2-2 1-1 -2-2 0-1 0-1 2-7 4 2 0 0 -1 2 2 0 2 0 -4 3 2 0 -2 1 3 1 0 1 1 0 -4 1 3 2 0 1 -2 0 -1 7 4 0 -1 3 -3 0 2 1 -1 0 2 1 -2 3 4 0 -2 0 2 1 -4 0 3 1 0 1 1 0 0 0 -3 1 1 0 0 0 0 1 -3 1 3 3 0 3 -1 0 3 0 -2 1 1 1 -1 0 -1 1 2 3 -1 1 0 0 -3 1 0 2 1 0 0 0 1 1 -2 3 2 6 0 0 -1 1 -1 1 5 1 0 2 0 2 -5 1 1 1 -1 3 1 1 3 2 0 1 -4 5 4 1 0 4 -4 3 4 2 -4 1 2 0 3 1 -2 2 1 2 -3 2 0 1 1 2 1 2 -3 1 5 9 -1 2 -4 0 0 0 1 2 4 0 -2 6 -1 0 3 2 -2 8 0 4 -1 0 -2 1 5 2 -1 2 -2 3 1 0 -1 1 1 2 1 1 0 2 0 0 1 1 -3 1 -1 0 -1 5 3 5 1 0 -4 0 4 2 -2 2 0 1 2 3 -4 0 3 1 2 1 -3 3 -1 6 2 0 0 0 -1 2 -1 2 3 2 1 0 -1 4 -4 4 0 10 3 5 -3 1 3 1 1 3 -4 2 5 0 -1 0 -4 2 4-3 4-3 -2-4 5-4 -5-9 0-5 4-2 1-1 -3-1 0 0 0-1 -1-1 2-1 2 0 -5-6 5-2 0-3 -5-4 1 0 1-1 -1-1 4-2 -1-8 -1-2 -3 0 4-1 1 0 -2-2 0-11 1-10 1-3 -2-3 2-1 -3-2 -2 0 3 0 2-2 -1 0 0-1 -4 0 5-1 -2-1 -2-2 4-1 -3 0 2-2 1-1 -5-4 5 0 -4-5 -1-3 2-3 3-1 -3-1 -2 0 3-3 0-1 1-2 -1-1 1-1 0 0 -4-2 1-2 1-1 3-1 0-1 -1-2 1-2 -2-1 2-5 0-4 -2 0 1-2 -1-2 -1-1 -2-3 5-1 -3-3 1-2 -3-1 1 0 2-4 -2-1 0-1 4-3 -1-1 -1-1 1-1 -2-1 -2-1 2 0 -1 0 1-1 -1-1 2 0 -1-1 0 0 1 0 -2-1 -1-1 4-2 -1-2 1-1 0-2 -2-2 2-5 -1 0 -3-1 0-4 1 0 -1-2 1 0 -1-1 1-1 2 0 1-1 0-1 -1-5 2-1 -3-1 3-1 -5 0 2-1 2 0 -3-1 9 1 -2 3 1 3 2 0 -3 2 3 1 -4 2 0 0 3 1 -1 2 1 1 0 0 -3 0 0 1 3 1 0 1 -3 2 0 1 3 1 0 1 -1 0 2 1 -3 1 3 1 -4 2 2 2 -3 1 0 0 0 1 2 0 1 2 -1 2 1 3 -2 0 2 1 1 1 0 2 -2 0 0 0 0 1 3 2 -4 2 1 1 -1 1 2 1 1 2 1 1 -3 0 1 0 -2 3 0 1 0 0 -1 0 1 4 1 5 1 1 0 0 1 1 -2 0 2 2 1 4 -2 0 1 7 -2 3 -2 1 0 0 3 3 -3 1 1 2 3 2 -4 0 4 3 -3 0 1 2 1 1 -2 1 0 2 -1 3 0 1 5 1 -1 2 -1 5 -2 3 -1 10 3 0 0 4 -2 2 3 2 -4 1 1 1 2 2 2 1 -5 1 1 2 4 0 -3 2 0 1 0 4 2 0 -2 1 0 0 0 2 2 1 1 1 -2 0 1 3 1 2 -3 0 0 0 3 1 0 5 -3 2 -2 3 4 2 -4 1 2 1 1 6 2 1 0 0 -2 0 -1 2 1 0 -1 1 -2 0 4 1 -4 2 4 1 -2 0 2 1 -1 1 -3 10 1 2 1 2 -1 8 0 1 0 1 0 69 10-84 -1-2 -2-4 -2-2 4-1 -4 0 5-5 -5-2 1-1 -1-2 4-7 -1-2 1-1 0 0 0-5 -3-1 3 0 1-2 -2 0 -2-4 3-2 -4-1 4-2 -4-2 1 0 -1-2 3 0 2-1 -4-1 0-5 3-2 -3-2 3-3 -4 0 3-5 0-2 2 0 -3-4 -1-2 0-3 4 0 -5-2 0-4 2 0 -1-2 1 0 3-3 -2 0 2 0 -5 0 3-2 -3 0 0-13 4-16 1-1 -5-4 1-6 0-6 1 0 0-4 -2 0 3-1 0-1 -1-1 1-1 2-1 -2-1 1 0 -3 0 3-1 -1-1 2 0 0 0 -3-1 2-2 0-1 -1-1 1 0 0-2 -3-3 -1-1 3 0 1-1 -3 0 0 0 0 0 2-2 -2-1 2-2 -3-1 2 0 0-2 0-2 1-3 -2 0 -1-3 3-1 -3 0 1 0 4-1 -1 0 1-2 0-2 -2-1 -1-2 2-3 -2 0 -2-1 3 0 -1-1 -1-1 4-1 0 0 -5 0 4-3 0-1 0-2 1 0 -4 0 4 1 2 1 2 2 -2 0 2 1 1 5 -3 1 4 1 -3 1 1 1 2 0 0 3 -4 1 0 2 4 1 -5 1 1 0 4 0 -1 1 1 0 -5 1 0 1 5 2 -1 0 -3 5 4 4 -5 0 3 1 -2 0 4 2 -1 0 -4 1 4 2 -3 1 0 1 2 2 -2 2 1 0 2 2 -4 2 5 1 -4 1 -1 2 3 1 1 1 -4 1 1 1 2 0 2 2 -2 1 -1 1 1 4 -1 1 -1 0 -1 2 0 7 0 7 1 21 3 2 -2 3 3 0 -2 6 -2 3 0 1 2 3 1 0 -2 0 -2 2 0 1 1 1 4 1 0 2 -4 1 3 1 -1 1 2 1 -5 2 1 3 -1 8 2 1 3 0 -5 1 2 2 -2 1 5 0 -1 2 -4 3 2 0 -2 1 0 2 4 0 -4 1 5 3 -5 1 2 7 -1 0 0 4 3 2 -2 1 3 1 -4 1 0 2 2 1 -3 2 1 2 1 0 0 1 0 0 0 0 -2 1 3 0 -2 0 2 2 -1 2 0 49 1 32 2 1 0 1 0 1 0 1 -2 0 1 1 -4 0 5 1 -1 2 1 3 0 1 -1 1 -2 1 2 6 1 3 -2 4 3-2 4 0 0-3 0 0 1-2 -5-1 4 0 1-1 -5-1 4 0 0-1 1 0 -1-1 -4-2 2 0 0-1 -2 0 1-2 0-1 0 0 1-1 -1 0 4-1 -3-1 2-1 -3 0 2-1 -1 0 0-1 1 0 -1-1 -1 0 3-1 -1 0 -3-1 0-5 1-2 -1-11 1-6 2-39 -1-13 1-1 -3 0 4 0 0-2 -2 0 1-2 -1-2 -2-2 1-1 -1-2 3 0 0-1 1-5 -1-3 1-2 -4 0 0-1 1-4 2-1 -3-2 1-1 -1-1 4-2 -4-2 0-1 4-1 1 0 -4-1 3-2 -4 0 2 0 2-1 -1 0 -1-1 -1-4 1 0 -1-1 2 0 0-4 1-1 -1-2 1-2 0-1 -2-1 -1-1 1-2 2 0 1-2 -2 0 -1-4 3 0 -5-1 3-1 -3-1 2-7 -1 0 0-1 4-9 -2-1 2-1 -4-1 4-2 -3-1 0-5 2-7 -3-3 0-3 3-2 0-5 -4-1 3-1 2-4 0-1 -3-1 -2-5 2 0 0-1 2-8 -1-8 1-1 -3-1 2-1 -3-2 4 0 -3-1 0 0 2-2 1 0 -2-1 0-6 0 0 3-2 -1-1 -1-3 1-4 -2 0 0 0 -2 0 0-1 3-1 0 0 -1 0 2-1 -3-2 -1-2 4 0 -1 0 -2-1 2-1 1-2 0-1 -1-1 -2-4 4-2 0 0 -4-2 1 0 3-1 -1-3 0 0 7 1 0 0 0 3 -4 9 4 2 -2 0 2 1 -3 1 -1 0 4 1 -4 2 1 2 1 1 0 0 -3 0 2 2 -1 0 4 1 -5 0 4 2 -3 1 3 0 0 0 1 1 -5 1 4 0 -1 3 -2 0 1 1 -1 0 1 0 1 0 1 2 -3 0 1 1 1 0 -2 1 2 9 0 0 -2 4 4 1 0 2 -1 0 -2 2 2 1 1 1 -5 2 3 2 0 3 1 2 -2 0 -1 0 2 2 -2 5 3 5 0 0 1 1 -3 1 -1 1 4 1 -5 2 5 0 -2 2 2 6 0 1 -4 4 1 1 3 1 -1 5 -1 0 -1 1 1 2 1 3 1 2 -1 8 0 0 -3 1 3 2 -1 0 -1 1 0 1 -1 2 4 1 -4 1 3 0 0 3 -1 0 0 4 -1 0 3 2 -2 4 2 0 -4 4 3 0 0 0 1 1 -3 0 2 3 1 0 -1 0 0 0 -4 1 5 1 -5 1 0 0 2 2 0 5 1 2 1 1 -4 0 0 1 1 1 2 2 -1 1 -2 0 1 0 3 2 -3 1 0 1 0 0 -1 1 0 1 3 0 1 3 0 0 -4 7 0 0 0 1 4 3 -1 0 -3 0 0 3 3 1 -1 2 -2 0 1 2 3 0 0 1 1 1 0 2 -5 2 1 1 4 1 -3 1 3 7 -1 1 1 8 -5 1 1 1 2 2 0 1 -3 5 5 3 -5 1 2 29 1 18 -1 3 1 0 -2 1 -1 0 3 2 0 0 -3 4 1 3 1 0 -2 1 3 0 -2 1 0 1 0 0 2 1 -3 1 1 0 0 0 2 1 2 2 -4 0 2 0 -3 1 4 0 -3 0 2 3 -3 1 5 3 -1 0 -2 1 9-2 -4 0 3-1 -2 0 1 0 -1 0 1 0 -2-1 1 0 2-1 -4 0 1 0 4 0 -4 0 -1-1 4-1 -4 0 5-1 -2 0 2-1 -4-1 0 0 1 0 0 0 2-2 -4-2 3 0 2-1 0-4 -1 0 -4-33 2-36 -2-4 1 0 0-7 3-1 -3-2 1-1 3-6 -2-5 -3-1 3-1 2-1 -1-1 -4-1 2 0 -1 0 1 0 2-3 -4-1 4-1 -3 0 1-1 0-2 0-1 1-2 -3-1 5-1 -2-3 -2 0 2-2 0 0 -3-3 5-2 -2-1 -2-2 3 0 -4 0 2-3 0-2 3-1 -5-5 5-1 -4-1 0-1 3-2 -1-1 -3 0 1-1 3-1 -1 0 -2 0 0 0 1-1 2-1 0 0 0-1 -4-1 4-1 1-4 -3-4 1-3 -3 0 1-4 0-1 2-1 -2-1 3-1 -4-2 2-3 2-1 -3-7 1-1 2-5 1-5 0-3 -1-1 -1-2 -3-6 5-5 -5-4 5-3 0-1 -3-1 1 0 0 0 0-1 -2-1 0-1 0-3 4-2 -4 0 -1 0 1-2 3-2 -1 0 -1 0 2-3 -3-2 0 0 4-3 -1-3 1-1 -2 0 -2 0 4-3 -2 0 0-1 -2-3 1-6 1-3 2 0 -2 0 -2-1 4 0 0 0 -2-1 1-2 -4 0 4-1 -2 0 2 0 1-1 -4 0 4-3 -4 0 -1-1 5 0 -2-1 0-3 -3 0 0 0 5-2 0-1 0-2 -4 0 -1-2 2-2 3-1 -1-8 -3-4 1 2 4 4 0 2 2 0 3 0 -1 5 -3 0 4 1 -5 0 0 2 2 1 2 1 -3 0 3 0 -3 1 2 2 2 0 -2 1 1 0 0 1 -1 0 0 1 -1 0 2 3 1 1 -5 0 3 0 1 2 -2 3 2 3 1 1 -3 2 2 0 -4 0 4 1 -1 2 -3 0 4 1 0 2 -1 1 -1 1 0 2 1 0 0 1 -3 2 4 2 -1 4 0 1 -1 1 -1 0 -1 1 1 0 2 2 -1 2 0 3 1 0 -3 2 0 0 5 1 -3 1 3 1 -1 0 -3 2 -1 0 0 1 5 3 0 1 -1 1 1 0 -5 3 1 1 1 2 -2 3 5 2 -2 0 -3 3 0 1 2 2 3 1 -2 1 -3 0 5 1 -3 2 -2 2 0 0 1 2 1 5 -2 3 0 1 5 3 -3 3 -1 2 0 4 -1 0 3 3 1 4 1 1 0 1 0 3 0 0 -2 2 -3 1 0 0 1 6 1 1 1 2 0 0 2 1 -4 1 4 1 -5 0 4 0 0 1 0 0 -4 1 0 1 0 0 3 0 0 0 0 2 -2 1 3 1 -2 1 1 0 2 0 -1 3 1 4 -4 0 0 0 -1 2 2 1 3 1 -3 4 0 0 2 0 -1 4 -3 4 0 1 0 0 0 0 2 1 1 2 -3 5 1 1 4 1 -2 2 1 2 -4 2 3 0 2 1 -4 0 1 1 -2 0 5 1 -2 25 0 2 -2 55 4 2 0 0 -2 0 0 2 2 0 -4 1 2 0 1 0 -1 1 1 1 0 0 1 3 -1 3 0 0 -3 0 1 1 3 0 -1 0 -4 0 0 1 3 1 -2 0 0 0 2 2 -1 0 0 0 0 1 -2 1 2 2 -2-13 6-1 0 0 2-4 -1 0 0-2 -1-1 0-3 1 0 1 0 0-4 0-3 3-4 -1-3 0 0 1-62 -1-4 1-2 -5-4 2 0 1-2 -1-1 2-1 -2-1 1-2 0-1 1-2 -1-2 2-1 -4-3 0-1 3-1 1-3 -1 0 -1 0 -3-2 3 0 0-1 1 0 0 0 1-1 -2-2 2-3 -4 0 1-1 3 0 -2-5 2-1 -4 0 -1-3 4-1 -3-1 0-2 1-2 -1 0 0 0 -1 0 5-2 -2-2 -2-3 4 0 -5-1 4-3 1 0 -3-18 1-4 0 0 -3 0 3-2 -3-1 5-1 -4 0 -1-1 4-1 -3 0 2-2 1 0 1-6 -2-5 -3-5 1 0 4-1 -1-1 -4-2 3-2 -1 0 0 0 0-2 3 0 -3-4 -1 0 2 0 -1-3 3-2 -3-1 -2 0 5-1 -4 0 2 0 -3-1 3-1 2-1 0 0 -1-4 -3-1 0-2 2 0 1-1 -1-2 -1-1 -1-1 0-1 1 0 -1-1 -1 0 4 0 1 0 0-1 -3-1 -1-2 2-3 1-1 0 0 -2-2 0-5 2-1 -1-2 1 0 -2 0 1 0 -2-2 -1-1 5-3 0 0 -1-1 -2 0 1-2 2-1 -5-1 2-1 -2-1 3-2 -1 0 -1 0 1 0 3-3 0 0 -5 0 2-1 1-3 1 0 -2 0 2-2 0 0 -1 0 -1-1 -1-1 0 0 2-1 0-1 -1-3 -1 0 2 0 2-1 -2 0 -2-1 -1-1 0-2 2-3 3-1 0-1 5 5 -4 1 1 1 4 0 -4 3 3 2 -3 1 -1 1 1 0 -1 1 2 0 3 2 -5 1 5 1 -5 3 1 1 2 3 -3 1 2 2 1 0 -3 2 1 3 0 5 0 1 2 1 0 0 1 1 -4 1 0 1 3 0 0 1 -1 1 1 3 -1 1 3 2 -2 0 -1 2 3 1 -1 1 0 1 1 0 -3 1 0 1 -2 0 1 0 1 2 3 1 -3 4 1 1 2 0 0 2 -2 1 -2 1 1 2 -1 1 1 0 2 0 1 2 0 1 -4 1 3 2 0 0 1 1 -2 0 -3 1 3 0 2 0 -2 1 -3 2 2 0 -2 2 5 0 0 2 -3 1 2 1 -1 6 0 1 -1 0 2 0 1 1 -1 0 -3 2 4 3 -2 5 -2 0 -1 2 0 5 4 3 1 1 -1 0 0 2 -2 3 0 0 -2 1 1 1 3 0 -2 3 0 0 1 1 0 1 1 3 -3 5 -1 2 1 12 0 0 4 1 -4 1 0 3 -1 1 2 3 3 0 -2 2 1 5 -3 1 4 3 -1 1 -2 1 -1 3 2 5 1 8 -2 0 1 2 2 0 0 3 -1 3 1 2 -5 0 1 0 0 2 0 1 2 27 2 3 0 1 0 2 0 2 -2 2 2 3 -1 0 1 5 -2 4 0 0 -3 1 3 2 -1 1 -1 2 2 0 -2 2 0 1 -1 1 2 1 -2 1 1 3 -1 4 0-29 9-1 -3-4 0 0 0-1 0-1 0-8 2-1 1-1 -3 0 4 0 -2-1 2-5 -4-2 1-3 3-11 1-1 -4-2 2 0 -3-3 2 0 2-1 0-3 -2-2 3-3 -3-2 2-3 -2-1 -2 0 0-1 1-4 0-3 3-3 1-1 0-3 -2-1 2-4 -1-1 -1-3 1-6 -3-2 2-6 1-1 1-2 -5-1 2-3 -2-1 4-1 -3-1 3-1 0-1 1-1 0-3 -4-2 0-1 3-1 0 0 -2-3 1 0 -1 0 0 0 3 0 -3-3 -2-4 0-1 5-1 -1-2 -2 0 0-1 0-1 1-4 2-3 -5-2 5-2 0 0 -5-3 1 0 1 0 0-2 -2 0 0-1 5-1 -1 0 -1-2 -2-2 0-1 0-1 -1-1 4 0 1 0 -5-2 1-1 0-2 3-3 -4 0 5 0 0 0 -4-1 3-4 -2 0 1 0 0-1 0-1 2-2 -3-2 -1-1 -1-3 3-1 -1 0 0-1 0-1 3 0 -5 0 2-2 -1-1 -1 0 1-2 4-2 -5-1 3-1 -1-1 -2 0 3-3 -1-2 1-2 0-1 0-1 -2-1 -1-1 4-3 -1-1 1-2 -2 0 3-1 -5-2 5 0 -1-1 0-1 -2-1 -2-2 0-1 4 0 -2-1 2-1 -3-2 4-2 0-1 -2-2 0-1 2 0 -4-1 1-1 0 0 -2-1 3-8 2-1 -3 0 0 0 0-2 8 2 -1 1 0 4 -3 2 4 0 -4 1 2 4 1 1 -2 1 -1 3 4 1 -3 0 2 1 -3 2 5 1 -4 0 -1 1 2 2 -2 0 1 0 -1 0 2 1 3 0 -5 0 4 1 1 0 -5 4 4 1 -2 2 2 4 1 1 -3 6 3 1 -5 0 3 2 -3 0 4 0 0 1 -4 0 1 2 -1 0 5 1 0 2 0 1 0 0 0 2 0 1 -1 2 0 5 -3 0 0 1 1 2 -2 1 5 2 -1 2 -2 1 -1 2 -1 1 0 0 4 3 -1 3 -3 0 2 2 0 1 3 1 -1 1 -2 2 1 3 1 0 0 0 -2 2 1 4 -1 1 3 0 -2 2 -3 2 3 2 0 0 -3 10 3 2 2 1 -3 1 1 2 -3 3 2 1 2 3 0 5 -3 8 0 0 4 0 0 4 -4 2 2 1 -1 8 -2 2 2 1 3 2 0 2 -4 2 3 2 -3 3 2 1 -2 0 3 4 -1 2 -3 3 2 3 2 7 1 1 0 6 -3 7 -1-5 10-2 -1-1 -2-4 -1-2 -1 0 0-1 0-1 0 0 2 0 -2-2 3-2 -2 0 -1 0 0 0 0-2 4-1 -3 0 -1-3 4 0 -3-1 3-3 -4-1 5-4 -2-4 -3 0 2 0 -2-1 3-2 -2-1 1-4 0 0 2-1 -4-2 1-4 0-1 0-1 1-1 1-8 1-5 -1-6 0-3 2-2 -5-6 5-3 -4 0 4-1 -5-1 4-2 -1-1 2-7 -1-2 -2-3 2 0 0-1 -3-2 0-2 -1-1 5-1 0-3 -2-1 -2-1 0-1 3 0 -4-3 0 0 4-1 -2-3 1-1 -3 0 5-1 -1 0 1-2 -3 0 -1-2 -1-2 2-1 1 0 -3-1 1-1 2-1 -1 0 1-2 -2 0 1 0 1-1 -3 0 2-1 1 0 2-1 -1-2 -1 0 1-4 -3 0 2-1 0 0 -3-1 0-1 5-1 -4 0 2-1 2-1 -1-1 -3 0 0-1 2-2 2 0 -2 0 2 0 0-4 0-1 0-1 -1-1 0-2 0-1 -2-2 0-2 0 0 3-1 0-1 -5 0 1 0 -1 0 0-3 2-1 1 0 -2-3 4-3 -5-1 5-1 0 0 -2-2 -3-1 2 0 -1-2 1-5 -1-3 -1-1 6 3 4 6 -1 4 0 0 -3 2 3 0 2 4 -1 0 0 1 -1 1 -2 0 3 2 -1 0 0 1 -2 2 0 1 1 0 2 1 -3 0 2 2 -3 0 2 3 1 2 0 1 -3 1 2 1 2 0 -4 1 4 1 -2 0 -2 1 3 1 -2 0 -1 0 2 1 -2 1 0 0 4 1 -3 0 0 6 -1 2 4 0 1 1 -1 1 -1 0 -1 1 1 1 1 3 -1 0 -2 1 2 1 0 1 -3 1 0 1 4 1 1 2 -2 3 -2 0 2 2 0 0 0 2 2 0 -5 1 0 0 3 1 -1 0 1 0 -3 1 2 0 -2 0 4 1 -3 1 -1 0 1 1 0 1 2 5 1 0 -1 3 -3 1 1 3 1 0 2 1 1 0 -2 1 -3 1 4 3 -1 4 2 2 -1 5 -2 14 -1 4 4 0 -5 0 5 4 0 4 -2 2 -3 0 5 0 -1 8 -2 4 0 3 2 1 -3 3 1 5 -2 2 1 1 2 1 -1 2 0 1 -2 0 4 4 0 6 0 3 0 2 -2 1 1 0 2 7 -1 1 -1 3 0 1 0 2 5-3 -2-7 3-1 0-6 -3-2 5-1 -1-2 1-1 -2 0 -1-1 2 0 -2-3 -1-2 0-1 0-6 0 0 1-2 -1-1 2-2 -2-5 -1-3 5-4 -5-3 0-5 0 0 0-3 2-1 -2-11 0-1 4-2 0-2 -4 0 3-5 -2-1 2-3 1 0 -1-3 0-5 -1-1 2 0 -2-2 0-2 1-2 1-1 -3-4 2-1 -3-1 1 0 2-4 -3-3 2-1 0-2 0-1 -1-2 1 0 -2-1 1-1 3-1 1-1 -2 0 -3-1 0-1 2 0 2 0 0-1 -1-1 1 0 -1-2 -3-1 3 0 -3 0 2-1 3 0 -4 0 2-2 2-1 -2-1 0-1 -2 0 2-1 0 0 1 0 1 0 0-3 -2-2 -3-1 1-1 2-1 -1 0 0-2 -1-1 4-1 -2 0 0-1 2-1 0-1 -1-1 -3 0 -1-1 0 0 3-1 -1-1 2-1 -1-1 2 0 -1-1 1-2 0-3 -1 0 0-4 1 0 -4-1 1 0 -1-3 -1-2 0-9 0-4 1 15 7 4 0 1 -1 1 -1 9 2 2 -2 0 1 0 2 1 2 0 -2 1 2 1 -3 2 2 0 1 0 -5 2 2 0 1 0 2 1 -2 2 1 1 0 1 -3 7 4 0 -1 1 -2 0 -1 0 0 0 3 2 -4 2 3 2 -2 1 0 2 0 0 -1 3 1 7 4 0 -1 0 0 4 -3 0 4 1 0 1 0 1 -4 1 4 1 -1 1 1 1 -5 7 0 0 3 1 2 1 0 1 -3 2 1 2 2 0 -3 0 -2 3 1 5 0 1 -1 9 3 1 -3 1 1 2 4 1 -4 0 1 3 1 5 -2 2 -1 1 3 4 -1 1 -1 1 -1 2 2 1 3 3 -1 2 -1 1 1 1 -3 3 2 3 -1 9 3 4 -2 5 -1 3 3 4 -3 1 0 0 3 4 -2 1 0 3 -3 2 2 7 -2-9 10-4 -1-1 -3 0 3-2 1-3 -1-1 1 0 0 0 -1-1 1-2 -1-1 0-2 -2 0 0-1 3 0 -2-1 1 0 -1-2 -1-4 0-2 0 0 3-3 0-1 1-1 -5-6 2-11 1-2 2 0 -5-3 1 0 2-4 1-6 0-7 -2-2 1-8 -2-2 4-1 -3-4 -1-2 2 0 -3-4 5-1 -3 0 0 0 3-1 -5-6 4-1 -1 0 0-1 -3-2 1-1 1-1 -1-1 -1-1 2 0 3-6 -3-3 -2 0 3-5 0-1 -2 0 0-10 0-1 1 29 4 0 5 4 0 3 -5 0 2 0 2 1 0 0 0 1 1 4 -1 1 -2 1 0 1 2 0 -2 0 3 1 0 6 -2 1 -2 0 0 1 2 1 1 7 -2 4 0 3 -1 1 -1 1 3 1 -1 7 -1 3 2 2 -3 6 3 0 -2 5 0 1 2 4 2 3 -2 2 0 0 -3 3 5 2 -2 5 -2 2 0 1 1 1 -2 0 1 1 -1 2 3 1 0 2 -1 2 2 1 1 6 -2 1 0 1 1-3 6-1 -1 0 2-5 -3-1 -1 0 2-1 -2 0 3-6 -2-5 -1-5 3 0 -2-3 0-6 0 0 -1-5 2-1 1-4 1-3 0-3 -4 0 -1-1 2-2 -2 0 3-2 1 0 -2-8 3-1 0-1 -2 0 2-1 -5-1 4-2 -2-1 0-8 0-1 0-8 -2-2 4 0 -1-2 -1-6 1-2 -2-6 0-2 -1 0 1-2 0 7 5 5 0 1 4 2 -2 1 0 0 -1 1 2 2 -3 5 2 1 -1 0 2 1 -1 0 -1 2 1 1 2 0 0 1 -4 2 1 0 2 5 -2 1 3 1 -3 0 0 1 0 1 4 3 -5 1 1 2 3 0 1 2 0 1 -2 1 -3 2 0 1 2 4 0 4 -1 2 0 0 2 0 -1 1 2 1 -3 6 1 6 1 1 -2 2 0 3 4 2 -3 2 -2 4 1 2 -1 5 2 0 0 1 1-29 5-3 1-5 -3 0 3-1 0-3 2-6 0-4 -2-1 -2 0 2-3 -3-5 3-6 -2-11 0-1 0-1 1-2 -2-2 0 0 0" fill="none" marker-start="url(#k19)" marker-mid="url(#k19)" marker-end="url(#k19)"/>
<path d="M1684 790l57 37 148 12-219 17 12 3-6 7 38 14-6 13 15 -3 40 -2-23 11-124 -4 118 9 8 0 13 5-30 -2-22 2-3 -2 23 7 29 3 18 4-61 2 9 2 0 2" fill="none" marker-start="url(#k20)" marker-mid="url(#k20)" marker-end="url(#k20)"/>
<path d="M1674 682l69 31-14 38-22 0 111 11-126 15 127 9-174 11 112 14-65 10 9 5-30 0-8 -2 16 6 12 1 17 2 72 -5 110 11-213 -4 220 8 13 5-265 2-14 11-13 8 59 -4 118 3 24 2-37 0-11 2-17 1-104 2 87 6 30 -2 10 0 7 2 10 -2 1 0 0 -3 6 8-10 -2-9 2-11 1-2 1-1 -2-14 3-11 -4-1 3-19 -4-14 3-70 4 43 2 35 -1 23 3 32 -5 6 3 5 0 8 0 0 -3 2 5 4 2-42 3-4 -4-26 3-23 -2-16 -1-2 0 14 6 14 2 6 3 1 -3 18 1 18 0 4 2 41 -3-23 6-48 2-25 1-39 -5 44 10 8 0 15 -3 12 4 9 0 32 -3 1 -1 13 -1-23 10-1 0-7 -3-11 1-17 2-15 -2-7 -1-3 1-1 2-5 -1-16 4 22 2 40 1-20 2-9 2-8 -2" fill="none" marker-start="url(#k21)" marker-mid="url(#k21)" marker-end="url(#k21)"/>
<path d="M1718 671l-57 4 103 17-106 0 7 23 30 5 37 42-21 0-1 1-58 13-49 12 17 8 156 -1-60 4-114 4 211 10-73 1-93 -2 142 6 18 9-99 -5-4 2-2 2-1 1-5 -4-6 4-1 -1-3 0-2 -4-3 4 0 -1-2 1 0 -3-10 10 8 -3 4 -1 2 2 5 -1 0 3 1 0 3 -1 5 -3 6 2 7 1 1 -4 13 3 122 1-93 6-20 -4-6 0-13 3-6 0-4 2-1 -4-2 3-4 1 0 -5-1 4-1 -2-8 -2 0 0-9 1 0 -1-8 1 6 10 30 -2 13 -2 189 7-213 2-53 -1-41 8 10 0 37 -2 42 -1 9 2 154 -1 49 0-103 7-42 -2-49 -2-111 11 6 -2 10 2 4 -5 27 5 12 0 98 -2 27 -3 62 5 27 -5-80 7-102 2-10 1-2 1-56 2 28 0 34 4 34 0 23 -2 8 1 13 -4 1 1 40 3 4 -4-3 11-1 -3-6 -2-3 1-6 -1-30 1-13 1-3 3-31 -2-68 0 27 6 10 -2 32 2 18 -3 2 3 16 0 10 -1 9 3 9 -3 5 -1 8 1 3 1 9 -1 5 0-3 9-3 -2-22 -1-29 3-46 -3-33 2-9 -1-10 -3 40 6 5 5 4 0 37 -1 25 -2 14 2 12 -2 10 0 5 5-16 3-6 -4-3 0-22 5-2 0-8 0-7 -3-4 0-16 -2-8 2-5 2-10 0-7 -3 19 10 5 -5 23 0 2 5 0 -1 2 -1 11 -2 2 2 10 -1 0 3 1 0 5 0 16 0 6 0 2 -3-7 6 0 -1-9 3-2 -1 0 -2-3 1-5 -1-5 -1-3 4-17 -4-53 0 5 8 12 -2 22 4 3 -3 15 -1 8 4 4 -1 2 2 11 -4 4 0-37 5-4 2-9 -2-8 2 21 4" fill="none" marker-start="url(#k22)" marker-mid="url(#k22)" marker-end="url(#k22)"/>
<path d="M1705 662l44 33-71 67 69 11 28 1-117 23 14 23 8 1 46 6-20 -1-1 -1-1 2-8 -2-1 0-1 -3-1 1-3 2-5 1-2 0-3 0 0 -3-1 4-1 -2-1 -3 0 4-2 0-3 -4 0 3-3 0 7 7 5 -3 2 1 0 1 3 1 3 -2 1 3 0 -4 4 1 3 3 1 -1 5 -3 1 0 1 3 1 0 5 6-2 1-4 -5-1 5 0 -5-3 1-4 -1-4 0-2 5-2 -4 0 0 0 4-1 -5-1 3-6 0-3 0-1 1 0 0-3 -2-1 -2-1 11 23 -4 0 1 5 -2 10 2 13 0 3 0 0 3 91 -2 90 2-165 6-47 -3-81 9 70 -5 75 2 135 6-23 3-133 -4-113 -1 235 6-75 10-10 -3-51 -1-115 2 63 9 80 -4 48 0-8 7-4 -1-8 0-6 3-17 -3-13 0-24 0-2 9 1 -4 23 0 6 5 21 -1 9 1 6 -4 4 4 11 5-14 1 0 -3-29 0-20 1-14 1-35 2 27 0 16 3 28 -3 19 3 1 0 16 -3 3 2 2 9-38 0-4 0-3 -2-1 -2-18 -1 0 4-18 1-17 0-5 -4 31 8 14 -3 4 5 0 -3 11 3 37 5-7 -4-42 5-2 -3-4 -1-17 7 13 3 3 -1 3 -2 21 3 10 -4-21 6-14 2-4 0-15 -3" fill="none" marker-start="url(#k23)" marker-mid="url(#k23)" marker-end="url(#k23)"/>
<path d="M1655 759l10 21 110 25-82 16 11 3-10 3 0 -5-20 0-4 11 9 -5 5 3 1 -1 9 1 2 2 0 -4 10 4 1 -2 11 1 13 6-39 -3-3 4 10 6 27 -1-45 11 24 -2 52 27 46 6-98 2 79 3 19 6-44 13-10 -2-39 2-16 -3 45 11-25 7 16 1 8 2-27 6" fill="none" marker-start="url(#k24)" marker-mid="url(#k24)" marker-end="url(#k24)"/>
<path d="M1798 791l-98 33 10 14 94 43" fill="none" marker-start="url(#k25)" marker-mid="url(#k25)" marker-end="url(#k25)"/>
</g>
<ellipse cx="1693.0" cy="834.8" rx="23.3" ry="12.8" transform="rotate(27 1693.0 834.8)" fill="none" stroke="#231f20" stroke-width="4.3" stroke-dasharray="0.01 8.96" stroke-linecap="square"/>
<g filter="url(#fillc)">
<path d="M1391 1163l-8 -4-41 9 6 -3 35 0 9 3-89 12 16 -2 19 0 35 -1 7 -1 22 3 10 1-94 7-2 0-12 0-9 6 63 -4 5 0 28 4-11 3-12 3-80 -3-16 0 37 8 11 -1 51 -3 49 0 1 3 8 6-10 2-66 -2-3 0-7 0-31 2-18 -2-3 1-3 1 45 6 5 -2 19 -2 28 -1 32 5 22 3-8 3-8 -1-6 -2-16 3-16 -3-2 0-15 0-10 1-14 -1-21 1-7 2-13 -2-21 -1-3 -2-14 6 118 3 52 -3 5 11-22 -2-30 -2-16 -1-13 0-9 0-21 4-58 6 35 -3 62 3 24 0 8 -3 17 1 23 1 5 -2 5 -1-22 11-8 -4-2 3-38 -4-26 0-35 1-11 2-24 -2-7 4 1 2 1 2 17 0 13 -2 33 0 11 0 22 2 4 0 1 2 33 -3 25 0 5 3 0 -5 14 6-2 0-4 0-4 4-16 0-3 -3-8 4-56 -3-48 3-1 -3-6 0-51 6 0 3 19 -4 5 4 24 -4 10 4 27 -1 20 -3 17 -1 2 4 46 1 11 -5 2 1 30 10-1 -4-1 0 0 3 0 -1-11 -3-3 3-16 -1-78 -2-4 0-17 3-7 -1-1 -1-5 3-33 0-9 -3-11 9 2 -1 38 2 29 -1 13 0 2 -4 23 0 26 5 5 -5 13 0 15 5 28 -2 3 -1 3 3-1 4-41 -2-23 4-27 -3-12 3-17 -3-33 -2-50 0-19 2 13 8 34 1 23 0 20 -5 44 0 9 4 4 1 4 -4 9 -1 54 5 11 -3-14 7-9 1-11 -2-2 0-36 -2-5 2-22 3-44 -2-19 2-1 -4-66 2 67 7 8 0 7 -2 10 -1 4 -1 2 5 16 -2 17 2 41 -4 13 3 3 -3 1 6-37 4 0 -1-10 -1-8 -2-7 4-1 -3-1 3-2 -3-63 0-4 -1-26 3-4 -3-12 1-1 5 30 3 15 -2 1 2 0 -2 30 -1 137 2 3 3-3 4-4 -3-37 0-1 0 0 2-15 2-5 -5-4 4-3 1-60 -5-25 3-65 -2-1 4-7 -1 39 7 31 -1 23 -2 83 -1 22 1 30 -1 2 1-17 6-35 1-22 0-40 -2-5 1-4 0-23 3-41 -3-4 2-33 -2 64 4 16 3 8 -1 7 -2 1 5 30 0 11 -5 6 1 2 -1 2 3 3 -1 7 2 16 -4 47 2-10 9-24 -5-3 5-24 0-9 -4-17 2-24 2-12 -1-31 1-6 -2-3 -2-7 2-22 1-5 -2-22 -2 1 7 13 -1 14 3 27 1 7 -3 13 -1 5 1 15 2 8 -3 8 1 5 3 1 1 4 0 16 -4 5 4 24 -2 9 -2 3 4 1 -2 7 -2 19 1 9 0 0 2 1 0 16 1 1 -2 6 1 4 -2 1 0 1 -1 8 2 12 -3 3 5 2 -3 3 2 1 -2 6 1 2 1 1 0 7 6-3 -1-2 -3-6 1-55 -1-6 4-1 -3-10 3-8 0-8 1-2 0-17 -3-23 0-6 3-20 -2-6 -2-17 0 0 -1-9 3-9 0-9 1-55 -3-9 2 0 0-14 -1-8 0 20 7 1 -1 2 3 44 -1 8 -4 16 3 10 -2 1 2 0 0 1 1 7 1 14 -4 19 2 9 -3 4 4 5 -3 7 0 10 1 16 2 16 -1 3 -3 0 1 4 0 93 3 4 -1-1 4-1 2 0 0-6 2-1 -5-1 5-96 -3 0 -2-14 1-6 3-13 1-12 0-6 -1-5 -4-6 1-39 1-7 -2-15 5-12 -5-67 0-4 0 0 5-4 -3 0 1-4 4 34 1 8 -1 0 2 5 1 0 1 10 -5 15 2 5 3 2 -5 0 1 5 4 3 -2 1 -1 4 0 0 0 25 1 16 2 4 -1 3 -3 5 3 11 -2 17 3 122 -2 4 -3 6 3 2 -2 1 1 1 -1 1 2 3 -2-13 6-4 -1-7 3-3 -3-1 3-7 -1-4 3-9 0-8 0-54 -5-7 2-29 1-9 2-30 0-2 -3-17 -2-21 0-27 1-1 3-1 -3-12 -1-4 0-5 1-5 1-6 -1-4 1-16 1 24 5 5 -2 11 1 3 0 4 4 5 -2 2 2 1 -3 20 3 1 -3 14 -2 16 3 2 -3 2 4 6 -3 3 0 27 4 15 0 36 0 27 -2 22 -3 7 5 3 -5-40 8 0 -2-8 3-63 -1-45 3-3 0-2 -4-7 4-5 -2 0 -1-29 -1-4 0-13 4-30 -5 0 0 0 1-1 1-1 0-2 7 8 -3 10 2 4 -1 22 0 0 3 15 -3 2 -1 1 5 0 0 19 -4 1 2 8 1 12 -3 0 4 10 -4 2 0 6 2 12 0 24 0 9 -3 6 3 9 -2 15 0 10 -1-12 6-1 1-11 4 0 -2-3 -2-6 1-7 -2-36 3-4 2-13 -4-2 1-5 0-12 -1-47 4-27 -5-7 2 11 4 3 3 2 0 9 -1 4 -2 0 4 18 -4 13 3 10 1 11 -4 2 0 6 3 9 -1 3 3 3 -5 11 0 10 3 10 -2 1 0 4 1 3 0 2 2 2 -4 32 5 7 0 6 0 1 -1 1 -1-11 7-9 1-6 -1-8 -1-34 -3-7 2-12 0-3 2-4 -4-1 4-5 1-17 -1-5 -3-33 1-3 3-3 0-27 -4 36 5 2 1 0 4 7 0 3 -2 10 -1 6 -2 11 3 17 -2 12 -1 4 2 16 -1 4 3 1 1 1 -2 5 -3 3 1 8 1 19 3 4 -5 3 1 5 4 8 -1-5 5-5 2-1 -4 0 2-1 2-3 -4-79 8 21 2 26 0 0 -2 8 0 9 0 9 -1 7 0 0 3 12 -5-5 6-11 4-1 0-3 -1-5 -2-14 -1-17 4-27 -4-8 2-2 -1-11 1-11 4 15 2 13 0 21 2 6 -2 3 3 38 -4-12 7-2 1-3 -1-28 -2-4 3-6 -2 0 0-1 2-1 -3" fill="none" marker-start="url(#k19)" marker-mid="url(#k19)" marker-end="url(#k19)"/>
<path d="M1404 1203l12 9-89 6-2 3-67 1 108 2 13 1-74 8 110 5 11 -2-9 9-65 -1 49 4 62 6-21 3-182 7 40 -1 28 -1 60 -1 77 10-75 0-93 -1-45 5 33 1 13 -3 168 1-25 7-81 -1-12 0-39 1-47 6 189 6-14 0 0 -1-69 3-16 -1-20 2 38 1 4 1 13 9-126 5 54 -2 20 -1 128 2-64 7-36 -1-37 0-47 4 22 4 4 -2 78 1 9 5-30 -3-55 4-28 5 46 0 57 2 97 -4-131 8-28 -1-7 3-44 -3-8 -1-7 4-6 -1 14 7 16 -4 68 1 24 3 22 -4 28 2 61 -1 1 3 9 -5 9 5 2 -1 29 -4-47 9-21 -3-11 4-14 -2-4 -2-182 1-21 6 50 3 33 -4 90 5 52 -1-9 6-87 -4-11 2-8 2-23 0 23 7 174 6-232 -2-9 -1-5 2-3 -1-29 -1 5 6 17 2 4 -1 57 0 114 0 10 1 65 -4-106 7-1 3-36 1-27 -4-45 4-26 -3 13 9 129 3-9 3-60 -5-30 4-42 4 30 1 38 2 9 -2 39 2 12 -4 41 -1 3 5-3 6-24 -4-153 0 154 8 5 2 27 -5-44 11-5 -3-22 2-47 4 24 15 50 5" fill="none" marker-start="url(#k20)" marker-mid="url(#k20)" marker-end="url(#k20)"/>
<path d="M1308 1180l124 30-45 1-43 -1-17 -2-16 3-21 4 123 1 5 -2 15 5-48 3-20 1-3 0-3 -5-52 1-45 2-5 -1 26 8 97 0 50 0 4 -1-3 8-10 -3-51 2-76 1-9 5 54 0 0 1 49 -4 18 1 40 8-21 -3-60 1-12 3-8 0-27 -5-43 5 59 2 64 0 33 3-10 3-7 4-53 -5-4 4-16 -2-96 2 12 7 21 -3 18 2 47 0 11 -1 56 -2 23 2 6 0 17 2-6 6-13 -4-15 1-38 -1-1 3-31 1-43 -3-20 2-15 0 24 2 19 2 4 -1 49 3 6 0 7 1 16 -1 37 -4 32 9-16 -1-30 -2-1 0-15 4-54 -4-10 4-18 0-12 1-17 -1-20 0-11 -2-3 2-10 6 55 -2 31 3 5 -2 18 2 8 -5 35 3 1 -2 4 1 6 -2 34 1 15 0-1 9-55 1-26 -2-48 -3-11 1-28 2-38 2-9 0 34 1 82 0 16 4 31 -3 55 0-14 8-2 -2-28 1-5 -2-30 5-12 -4-13 0-87 0 11 10 13 0 40 0 76 -3 1 3 16 -1 5 1 38 -1-45 3-12 2-49 1-21 -3 0 1-40 2-6 -2-26 2-6 2 17 5 20 0 0 0 16 -5 33 5 32 -3 14 0 1 1 28 -1 5 2 24 -1 17 -3-40 7-33 0-23 4-25 -5-44 5-9 -3-38 2 8 4 0 -2 41 5 22 -2 4 1 5 -4 3 1 5 4 6 -2 53 -1 1 -2 9 2 12 3 45 0 35 6-44 -2-26 0-9 -3-10 5-5 -5-44 2-12 2-21 -4-26 0-7 3-13 -1-32 -2-13 3 0 5 11 3 8 -4 26 4 26 -4 27 1 4 3 3 -2 21 -3 20 1 106 0 12 -1 17 2 9 6-5 2-41 -4-11 1-16 2-9 0-4 1-31 -4-9 2-8 1-48 -3-44 1-30 1-7 6 15 -2 39 3 15 2 17 0 15 -3 12 -1 25 1 0 2 28 -4 6 2 99 3 1 0-6 5-129 1-13 -1-19 -2-71 -2-34 4-7 0-9 -2-3 1-22 1 18 7 28 -5 21 0 3 5 11 -5 14 0 78 1 23 0 93 4 12 -4 1 0 0 0-21 7-10 0-1 3-85 -2-4 0-4 -1-9 -1-29 1-11 0-41 -1 0 0-43 0-6 2-6 2-7 0-24 -2 101 4 14 3 5 -4 26 4 32 1 4 -3 0 -2 2 1 23 2 5 -2 33 1 4 -1 5 -1-38 7-18 0-26 4-9 0-14 -3-46 -2 0 2-22 3-22 -5-5 0-7 1-10 3-5 -2-6 0-23 7 11 0 19 -1 16 0 45 -1 5 3 2 0 33 -4 7 2 19 -2 45 0 7 0-14 11-6 -5-1 1-4 3-20 0-21 -2-1 2-1 -2-17 -2-14 2-15 -1-28 0-3 1-2 3-3 0 0 -2-8 -3-28 2-15 4 33 4 14 -3 4 1 14 -1 12 2 0 0 8 -2 4 1 40 1 30 -3 8 1 31 3 2 4-1 2 0 0-14 -2-20 -1-37 4-10 -5-6 3-1 -2-17 4-22 -1-20 1-3 -5-4 2-12 0 27 5 22 0 10 1 33 0 13 -2 2 3 7 -3 15 3 3 -1 29 2 5 1-2 4-6 0-27 1-9 -1-15 0-3 -2-3 1-5 -2-12 1-6 -1-15 3-1 2 11 1 23 5 7 -4 14 0 33 1 5 -2 1 4 1 0 2 0 0 0-11 3-8 -1-12 2-9 0-29 2-3 -1-11 1-6 -4-6 3 7 5 62 0 12 3-27 6-3 -4-18 -1" fill="none" marker-start="url(#k21)" marker-mid="url(#k21)" marker-end="url(#k21)"/>
<path d="M1369 1154l7 0 14 3 3 4-1 -1-6 -1-6 1 0 -1-28 7 10 3 35 2-1 0-2 3-28 -4-15 5-45 2 8 2 5 2 21 -1 21 1 15 0 5 -5 1 10-2 -2 0 2-4 1-38 -1-2 -1-28 -2-27 10 39 -4 1 0 16 2 52 -3 7 2 24 1-30 7-20 1-20 -2-23 0-31 1-28 4 13 -1 24 -1 6 1 26 2 62 0 10 7-43 0-15 -2-48 3-16 -5-16 8 55 1 1 2 16 -4 31 3 1 -2 29 2 2 -1 16 0-47 6-9 -1-13 2-42 1-55 -4-2 0 10 8 4 -1 2 1 2 -1 2 1 22 0 23 -1 9 0 20 0 20 2 9 -1 17 -3 31 2 3 -2 9 2-3 9-52 -5-14 4-1 0-1 1-20 -3-31 0-23 2-7 -2-14 0-2 2-16 2 11 3 18 1 16 0 1 1 1 -1 12 -3 36 2 3 1 12 -2 3 3 12 -2 28 -3 7 4 12 1 14 -2 2 -2 13 10 0 -3-6 0-4 -1-7 2-15 -3-4 3-2 1-2 -1-1 -3-19 4-3 -1-17 1-21 -3-37 1-11 3-9 -1-35 1-4 -4 0 5 6 5 17 -4 4 4 1 -4 1 -1 3 4 25 1 10 -3 24 -2 4 1 25 2 22 2 8 -4 10 1 9 2 10 -2 5 -2 6 6-16 5-9 0-1 -1-4 -1-15 1-10 1-11 -5-4 5-7 -3-12 0-12 -1-18 0-1 3-53 -1-13 -2-4 1-12 5 12 0 34 -1 3 5 17 0 39 0 4 -5 27 0 4 3 14 -2 4 2 2 2 13 -3 4 -2 12 2 2 2 2 -4 22 0-15 10-42 1-3 -2-2 1-9 -4-9 3-1 0-2 0-11 -1-2 0-1 -1-3 -1-8 4-1 1-3 -1-53 -4-19 3 30 6 11 -3 13 2 52 1 11 0 3 -2 4 3 3 -3 2 3 21 -2 28 0-4 6-38 0-7 0-2 -2-6 5-28 -4-13 2-14 -3-5 2-11 0-19 -2-4 5-10 0-7 -2-5 1-26 -1 17 3 12 5 22 -1 12 -3 6 -1 63 2 14 3 7 -1 4 -2 7 0 4 -1 15 -1 10 0 21 1 1 2 3 1 3 5-98 -1-3 1-4 -3-34 0-65 3-3 -1-1 1-18 5 8 2 5 -4 12 5 9 0 9 0 4 -2 15 0 5 2 6 0 11 -1 6 -2 24 0 22 -1 3 0 32 2 1 -3 8 5 12 0 5 -4-44 6-16 2-4 2-29 0-4 -4-5 2-11 1-1 1-3 -3-47 -1-5 3-18 -4-7 5-7 2 14 2 4 -2 14 -1 14 0 5 1 1 4 12 -3 52 -2 15 0 7 4 26 -4 14 1 5 2 30 7-33 1-13 0-14 -5-31 1 0 3-25 -1-29 -3-7 5-12 -4-4 -1-10 0-7 4-1 1-11 -5-10 2-5 -1 7 9 45 -3 5 1 0 3 7 0 5 -3 16 1 14 -1 13 -1 9 2 5 -3 16 0 36 1 12 0 34 0-39 10-16 -2-105 -3-19 0-4 3-10 1-26 -4-1 8 2 -1 15 -1 0 0 12 1 2 1 66 3 44 -2 11 1 27 1 5 0 3 -1 81 6-114 0-8 1-5 -2-20 -1-2 0-9 0-2 -1-41 -1-15 0-14 1-8 1-13 -1 0 2-7 2-2 -2-1 -3-3 1 24 9 18 -4 40 3 47 -2 37 4 7 0 2 -1 2 1 12 -1 19 1 4 -5 8 4 3 0 6 -3 15 3 0 -3 5 2 6 -1 27 3 0 2-82 2-9 -2-1 4-10 -1-21 -4-2 1-21 4-4 -5-27 3-53 -2-19 4-15 -3-6 1-4 1-23 4 19 -1 7 4 11 0 3 -5 14 0 23 2 3 -1 18 1 39 2 0 -1 10 -1 36 0 4 3 6 -4 15 1 7 1 1 2 88 -5 7 9-5 0-101 1-33 -3-2 -1-17 4-12 -4-13 5-1 -1-9 0-17 -3-9 2-10 -2-3 -1-35 3 0 0-19 -1 67 6 1 -1 5 2 30 -2 18 2 6 0 26 2 35 -5 66 5 8 -1-76 2-8 0 0 5-5 -3-4 2-16 0-3 -3-17 -1-25 3-4 -1-17 -2-11 2 0 0-13 -1-1 1 0 2-2 1-6 0-11 -1-12 1-4 -5-2 4-2 -4-2 1-2 3-14 1-11 -4-7 0-14 0 19 9 3 1 24 -4 1 3 1 -4 2 4 9 -1 14 -3 7 0 2 4 6 -1 25 0 6 0 1 2 24 0 3 0 9 -1 8 -1 11 1 20 -2 39 2 20 -4-30 6-10 4-54 1-16 -4-2 1-6 2-9 -3-8 0-10 3-7 0-31 -1-1 -3-16 4-2 -3-6 1 11 9 12 -5 3 1 10 0 5 3 27 1 4 -2 9 -1 3 3 3 0 0 0 32 -2 0 -3 4 2 1 3 7 -5 12 0 13 5 9 -5-6 8-3 0 0 1-2 -3-19 4-12 -4-7 4-10 -3-12 1-3 0-23 0 0 -2-19 1-3 0-2 1-23 1-12 1-8 -2-7 -1-4 3-5 -1-6 2-12 -2-1 2-6 -4 16 5 3 5 11 -5 10 3 21 2 9 -3 12 0 14 -1 5 0 27 2 9 2 5 -5 12 4 2 -2 1 1 7 1 4 -1 3 -2 24 4 0 -5 8 2 3 -2 0 11-26 0-1 -1-31 -4-35 0-9 3-30 0-9 1-4 -2-1 3-25 -4-24 0 28 8 16 -1 17 -2 24 5 26 0 3 -1 22 -1 9 -3 4 4 40 1 2 -2-6 3-14 5-17 -4-8 4-7 -4-3 1-3 1-22 2-9 -4-15 1-10 8 34 -1 6 -1 38 3 5 -2 13 0 5 4-10 3-15 -4-2 1-5 1-2 2-3 -2-6 1-9 -2-2 -1-4 4-5 0-19 -4 5 7 4 0 23 4 3 -1 3 -1 6 1 4 -2 8 2 5 0 2 3-30 -1-6 3-15 0" fill="none" marker-start="url(#k22)" marker-mid="url(#k22)" marker-end="url(#k22)"/>
<path d="M1371 1153l-10 10-2 0-7 -2-1 1-5 -1-6 8 17 -4 30 1 7 -2-5 7-2 -1-12 4-6 -1-22 -1-40 7 0 0 15 2 3 -2 28 0 9 -1 6 -2 24 4 4 -4 2 0 7 6-5 3-8 -2-21 4-9 0-42 -5-10 3-9 2-2 -1 0 -1-7 7 26 -3 3 0 15 3 1 -4 1 2 1 -2 12 2 6 3 22 -5 1 3 9 -2 8 -1 5 0 22 6-5 3-24 -3-9 3-22 2-49 -2-1 0-2 1-12 -3-1 4-11 -4-1 3-18 3 18 -1 4 4 1 -4 10 0 1 2 1 -2 4 4 26 -2 1 -2 2 1 11 1 46 3 14 -1 6 -1 5 0 2 6-2 0-1 -1-4 -1-25 -1-5 2-11 2-20 -3-20 3-4 -2-5 0-6 0-15 3-8 -1-2 -1-8 -1-27 8 20 -2 1 -2 6 0 40 2 2 1 2 1 11 -1 11 1 10 1 1 -5 2 3 13 -1 4 1 48 -3-13 6-35 4-9 -4-3 3-2 -3-4 2-5 2-14 -4-3 1-22 3 0 -1-2 -2-5 1-18 -2-2 0-16 5-20 6 35 -3 6 -2 2 5 6 -5 7 4 3 -1 13 -3 5 0 8 3 32 2 4 -5 19 4 14 -3 2 4 31 -3-10 4-19 0-4 4-14 -1-8 1 0 -4-1 0-39 5-6 0-27 0-2 -3-1 3-1 -1-1 1-11 -2-7 1-7 0-4 -4-3 3-4 -1-4 -2-9 0-10 0 18 11 6 -3 2 0 2 -1 3 1 23 3 12 -1 33 -4 70 2 10 9-23 -3-39 3-5 -4-1 4-8 -5-11 1-31 -1-2 4-6 0-3 0-3 1-24 0-27 -5 8 7 27 2 20 0 6 0 7 -2 10 3 26 -4 22 4 17 1 8 -5 8 5 12 -4 41 8-39 2-2 -4-3 3-13 0-66 -3-24 2-9 -3-9 5-10 -5-13 2-6 3-13 -5 12 10 2 -1 1 -3 1 3 17 -3 25 5 4 -4 8 1 8 0 18 2 3 -3 14 -1 6 1 7 0 33 3 1 1 5 -1 15 -3 22 5-1 5-6 -2-19 0-7 -2-13 -1-18 1-8 1-1 -2-15 5-5 -4-12 0-8 0-35 4-8 -3-3 1-17 -3-4 0 19 10 6 -4 3 1 6 -1 26 0 3 5 8 0 7 0 1 0 12 -5 37 4 0 -1 3 0 3 -3 3 2 3 1 14 -3 35 9-21 2-47 -2-2 1-7 -3-30 0-14 4-1 -1-1 -2-17 -1-41 1-9 0-1 1-12 2-14 4 12 -3 21 5 21 0 28 -3 3 -1 6 -1 6 1 91 1 37 5-56 2-13 1-13 -3-28 2-5 0-14 -2-23 4-14 -3 0 -2-12 1-14 2-14 1-13 -1 6 8 6 -1 58 0 17 1 57 -1 3 1 40 -5 11 0 7 0 1 4 3 -1-65 6-16 0-6 -3-41 0-2 1-6 0-53 4-7 -4-2 4-11 -1 30 5 3 1 9 -3 11 4 72 0 49 -2 4 -1 44 8-1 -2-41 1-5 -2-16 0-12 4-6 -5-43 5-2 -4-25 1-6 2-11 -2-6 0-12 1-13 -2-11 -1-2 3-1 0-14 8 35 -3 4 -1 52 2 28 1 12 0 8 -3 10 2 39 -2-71 10-27 -3-30 -2-44 7 12 2 33 0 29 1 3 -2 3 3 4 -5 5 3 76 -2 1 0 41 4 1 4-36 -2-19 0-8 3-32 -4-11 4-78 1-37 0-4 -5 3 8 21 0 0 -1 15 4 49 0 40 0 29 0 25 -2 32 -2 7 2 1 2 10 -1 60 2-120 4-88 -2-12 -2-42 3-11 2-10 4 3 -3 5 5 6 -5 5 4 154 -2 11 0-21 7-5 -2-5 2-34 2-20 0-26 -2-27 -3-8 2-27 1-13 -3 2 9 14 2 6 0 34 0 34 -2 1 -1 25 -1 42 4 2 -2 104 6-65 -1-5 1-46 -3-11 1-15 2-1 2-20 -4-17 -1-9 4-10 -2-5 0-39 0-25 5 2 2 19 1 15 -2 3 -2 64 0 13 0 9 0 75 9-1 1-22 -1-24 2-17 -1-5 0-4 -4-7 5-22 -1-8 -2-11 2-64 -4-4 1-19 8 21 0 24 -3 17 3 5 2 0 -4 18 0 32 4 23 -5 13 0 10 4 34 5-2 2-6 -5-22 3-18 -1-8 -2-39 0-23 1-67 0 7 6 12 2 43 -1 3 2 24 -4 2 2 63 3 16 -3 4 3 7 -1 2 -1-15 6-54 1-18 -2-16 1-12 1-25 -1-16 1 132 6 6 -4 11 4 13 0-29 3-26 1-9 -2-4 0-25 2-8 -1-3 3 16 5 3 -2 4 3 1 -4 23 5 4 -1 23 1 3 -2 13 2 11 -1-7 4-28 0-12 1-19 0-14 2-20 -5 11 7 7 4 11 -5 40 4 13 -1-30 3-1 4-2 -4" fill="none" marker-start="url(#k23)" marker-mid="url(#k23)" marker-end="url(#k23)"/>
<path d="M1365 1157l1 5-7 -3-29 10 74 6-27 -3-9 0-1 2-13 -3-6 3-7 0-6 -4-28 11 1 0 4 -3 10 -2 10 2 17 -1 19 0 21 2 15 -2-2 6-12 0-12 2 0 -3-27 4-14 -4-6 4-16 -4-17 4 25 7 12 -4 37 3 8 0 2 -2 12 1 9 0 10 -3 11 11-25 -1-9 -1-4 -1-14 -1-4 -1-6 5 0 -3-30 1-40 2 0 -5-1 2-20 4 7 1 7 2 7 1 17 -1 2 0 8 2 12 -4 2 0 21 0 20 4 2 -1 40 -1 4 6-7 1-33 0-4 -1-7 1-7 -2-32 3-6 -4-40 4-16 -1 8 6 1 -1 14 0 2 -2 5 0 3 1 5 3 4 -3 14 -1 34 2 3 1 7 -4 27 2 2 0 5 0 9 0 3 0-28 6-37 2-7 -4-3 1-4 0-1 4-11 -5-7 1-19 1-22 1-22 7 9 0 2 -4 44 5 33 -2 8 -2 29 4 0 -3 14 -1 30 -1-1 7-31 0-22 -1-75 3-21 -1 0 2-12 -3-9 -1 41 7 2 4 33 -4 73 -1-36 10-66 -2-23 -1 50 8 27 -1 16 -1 40 4 1 6-64 -4-53 -1-11 5-26 1 7 1 9 -1 12 0 6 1 16 -1 9 2 2 -2 35 1 94 4-18 2-30 3-24 -3-47 4-75 0 45 4 24 -3 1 1 140 2-44 3-153 2 0 -2-9 1-4 9 123 -3 37 3 60 -4-4 10-98 -4-122 1 7 5 9 0 54 3 1 1 3 0 103 1 28 -4-78 8-82 -3-33 21 107 3-83 7 19 -1 127 0-4 8-14 3-119 -4-44 17 61 3 35 0 43 2 30 -1 26 -2-64 8 29 3-19 8-5 0-114 -1-24 6 73 -1 153 4-87 6-91 0-19 6 42 -2 78 -1 41 1 5 -3 4 4-86 2-3 1-59 -1 123 8-51 5-92 -1-18 0 58 10 58 -1 13 4-22 1-16 8 57 7-58 0 45 8-17 3-7 -1" fill="none" marker-start="url(#k24)" marker-mid="url(#k24)" marker-end="url(#k24)"/>
<path d="M1357 1155l-7 9 7 4 17 -3 18 0-39 6-8 3-16 -4-30 10 16 1 65 -4 11 3 1 0 0 -1 3 0 21 8-13 -3-31 -1-82 6 45 4 9 -1 7 0 28 1 11 -3 31 2-16 2-12 1-5 2-8 -3-12 5-43 0-41 -2 27 6 25 -2 29 0 21 2 16 1 26 -1-38 8-28 -1-20 -2-17 -2-36 10 17 1 104 -2-124 5-24 2 15 3 119 10-93 -3-3 -2-28 0-7 6 2 2 109 -2-79 7-11 7 3 2 56 12 91 5-129 -3-45 20 122 1-103 9 10 1 178 4-63 2-145 12 8 8 126 13 22 21-60 10-14 13 67 2-88 13 104 7" fill="none" marker-start="url(#k25)" marker-mid="url(#k25)" marker-end="url(#k25)"/>
<path d="M1372 1163l-6 -1-9 0-6 2 17 5 8 -5 0 5 22 -2-1 8-19 -4-10 9 24 -1-7 8-17 -3-13 2-11 -1-48 2 0 -3-7 4 23 3 16 -3 40 5 17 -4 11 1 17 5-23 4-2 0-26 -5-23 2 0 -2-14 0-40 2-1 2-2 7 0 -1 12 0 8 0 28 -3 10 4 16 -4 15 4 35 2-21 0-14 4-53 -3-11 1-22 1-1 -2-15 3 15 4 4 1 11 -2 2 -2 14 0 10 3 63 0 5 -2 33 2 7 7-14 -3-1 2-10 -2-8 3-36 0-17 0-8 1-5 -1-47 -2-11 6 16 3 14 -3 72 1 9 -3 14 0 0 0 7 4 23 1 3 0-16 5 0 0-28 0-13 1-57 -4-55 0-15 9 57 -2 7 3 31 0 15 -2 5 0 10 2 16 -3 5 -2 20 5 6 -3 2 3 10 -2 0 0 13 -3 5 5-6 6-9 -5-18 2-7 -1-11 -1-11 5-15 0-17 -4-29 1-42 -2-12 1-13 7 24 -1 9 3 26 -3 20 3 10 1 17 -5 18 0 32 4 18 -4 11 0-39 6-1 4-99 -3-21 4-7 -3 17 9 6 -1 2 1 12 -1 13 1 43 -3 1 -2 56 1 25 -1 7 4 1 -4 2 8-2 2-13 0-4 -2-4 0-32 1-47 2-12 -5-16 2-39 0-48 5 11 3 41 -2 8 -1 19 -1 2 2 18 0 3 2 8 -2 4 -2 2 1 15 0 6 1 22 2 1 -3 21 2 9 1 12 -2 16 0-9 7-11 2-65 -1-2 -1-16 -1-38 -2-4 4-12 0-3 -3-3 2-20 -3-23 10 16 0 12 -3 20 1 51 0 15 0 5 3 53 0 28 2-8 -1-9 1-6 3-3 0-17 1-7 -1 0 -2-1 1-6 -3-10 0-17 5 0 -4-39 0-6 -1-8 2-7 3-1 -3-1 3-4 -3-1 3-19 -2-28 -2 13 7 20 2 11 -4 20 0 20 0 6 1 8 1 5 -1 11 2 12 -1 16 1 28 -1 20 -1 13 0 7 4-9 6-63 -5-26 2-7 -1-61 0-11 2-3 -2-8 0-20 6 38 -1 34 0 13 2 26 -1 12 0 47 3 31 0-37 5-17 2-14 0-1 -2-46 -1-1 -1-6 3-4 -4-2 1-5 2-4 -2-76 5 14 3 4 2 21 -1 15 -1 4 -2 11 2 46 -2 0 1 43 -1 4 -1 56 5 2 6-12 -4-34 2-18 -2-6 2-54 1-9 0-12 -3-29 3-2 -4-14 0-7 1-13 0 0 3-11 6 24 -4 7 1 25 -1 2 3 21 -3 3 0 2 3 18 -3 3 2 4 -2 19 4 20 -4 28 4 9 -1 21 1 15 -2 2 3-59 6-19 -1-4 1-23 -4-20 3-1 0 0 -3-2 2-31 -1-9 -1-8 2-3 0-9 0-26 0-14 -3-2 11 1 -4 19 4 12 -5 36 3 5 -3 22 1 2 3 3 -1 1 0 8 1 14 -1 19 -1 0 -2 31 3 13 -1 7 -1 27 3 8 0 1 -1 2 1 2 -1 23 -2 1 0 1 2 10 -2 4 0 2 0 16 4 3 0 2 -2 5 5-2 -1-57 1-2 -2-2 1-17 1-3 -2 0 3-15 1-1 -4-60 0-11 0-21 1-4 4-18 -4-18 3-1 -3-27 -1-16 5-11 -1-4 -2-15 8 2 -3 12 0 6 2 5 0 7 1 13 -1 2 -2 2 4 28 -5 16 1 12 0 22 0 4 3 20 -1 17 2 1 -4 13 0 5 4 4 -2 12 2 8 -2 4 -3 1 4 1 -3 85 0 2 -1 3 2 1 -1 1 1 1 2 1 -3 2 2-2 4-5 3 0 -1-1 1-1 -2 0 3 0 -1-1 -1-4 -2-82 -1 0 4-81 -1-4 0-11 -3-7 0-45 5-6 -1-17 -2-13 3-1 -4-30 3-5 -2 4 5 22 2 16 -2 15 1 10 -1 11 1 13 -1 16 2 14 2 23 0 9 -2 6 -1 2 2 1 1 39 -1 13 -3 76 4 1 0 2 -2 5 0 4 -2-13 5-2 0-3 2-3 1-24 2-43 0-2 -4-2 4-3 -1-1 -3-5 3-21 -1-7 2-41 -1-5 -1-36 0-1 -2-19 0-13 0-8 2-9 -3-1 4-12 1-7 -2-10 0-5 -3 15 8 1 0 10 1 6 0 20 -2 8 1 19 0 5 1 3 1 32 -1 22 -2 20 2 12 -1 5 -2 6 0 6 2 4 -1 9 1 5 1 7 2 9 0 6 0 1 -4 1 4 2 -1 2 1 8 -2 3 -1 1 -1 1 1 1 -2 3 4 3 -4 7 1 4 -1-42 8-10 0-5 1-7 2-11 -3-7 2-83 -4-11 3-6 0-21 2-6 -1-6 -4-1 5-1 0-20 -5-5 0-22 0 17 11 10 -5 6 2 22 1 16 -3 5 5 11 -1 7 -4 16 4 2 -2 18 1 23 0 3 -3 15 5 8 -4 1 3 17 5-11 0-17 -2-15 3-7 1-4 -5-1 3-15 0-6 0-2 2-19 -1 0 0 0 -1-6 1-26 -2-15 3-1 -5-2 5-1 -1-2 -3-9 0-2 -1-3 5-31 -4 39 9 10 -4 22 5 6 -5 2 5 7 -4 5 1 19 2 18 -4 6 5 16 -1 5 -3 5 1 17 -1 0 0 13 -1 7 1 7 9-6 -1-4 -3-7 5-15 -2-26 2-22 -5-10 2-15 3-5 -2-3 2-20 -5-4 0-19 4-12 0-13 -1-14 -3 32 8 27 2 8 -2 13 0 11 0 3 -2 0 0 20 4 3 -3 14 3 8 -2 3 -2 4 5 9 -5-5 9-7 0-1 -2-7 1-3 1-10 0-3 2 0 -2-4 -3-10 0-1 5-4 -2-11 -1-6 -1-2 1-5 0 1 5 4 0 12 1 19 -1 7 1 12 -2 7 5 12 -4 22 4 9 -2 2 3-2 5-4 0-6 -2-3 -1-85 0-9 1 9 3 15 5 4 -5 6 5 13 -2 3 -2 3 1 8 -1" fill="none" marker-start="url(#k19)" marker-mid="url(#k19)" marker-end="url(#k19)"/>
<path d="M1370 1155l13 32-75 22 130 13-24 -1-145 7 132 -3 6 2-14 5 23 6 21 -2 0 1-68 9-30 1 25 6 76 -3-56 6-92 3 158 12-175 3 5 3 165 -1 26 5-201 -2 139 16-91 -1-39 -2-33 7 29 0 12 2 73 -3 10 3 96 6-105 -2-81 2 32 6 163 5-165 0-32 3 78 -1 51 5 37 -5 28 6-199 7 66 -1 135 5 50 6-99 -4-71 1-84 -1-1 0-24 10 201 0 66 -2-38 3-14 2-3 2-49 -3-16 2-2 1-23 -2-80 4 3 1 29 2 76 0 59 1 94 0 5 0-13 7-92 -5-31 2-147 3-29 5 5 0 68 -1 17 1 64 -1 133 1 9 -3-24 7-11 3-191 -3-48 -1-3 3-14 0-1 -4 0 3 45 4 40 0 71 -1 75 2-211 11 87 1 22 3 35 3-22 2-45 -3-42 1 17 8 9 -3 6 4 26 0 38 -5 31 3 20 2 3 5-18 0-33 -4-11 5-40 -5-59 7 60 3 18 0 16 1 28 -3 20 4-47 3-35 6 62 -1 8 8-13 11-24 0" fill="none" marker-start="url(#k20)" marker-mid="url(#k20)" marker-end="url(#k20)"/>
<path d="M1379 1184l30 10-48 2-30 2-16 4 22 3 49 0-9 1-32 3-21 -3-61 2 77 6 18 3 72 0-1 6-33 -3-65 -1-31 1-12 3-24 1 25 2 10 0 57 -1 66 -1 14 0-17 10-5 -1-6 -1-10 2-87 1-38 -4 50 5 8 1 13 2 16 -1 38 0 4 3 5 -5 20 4 8 -1 5 5-4 2-2 -2-23 3-5 -3-4 0-47 1-13 -1-8 1-67 -1-20 3 17 5 29 -1 57 2 62 -2 4 -3 37 5 5 2-88 -1-116 11 84 0 38 0 8 -1 3 -3 58 4 9 -5 0 5 5 1-18 5-3 -5-33 5-23 0-43 -3-25 1-65 1 9 7 21 -4 4 2 63 0 9 1 3 1 27 0 19 -4 28 1 16 2 9 -2 13 8-1 -1-50 -1-33 2-3 -3-92 1-21 2 0 -1-5 1-18 -1 12 3 12 3 6 2 10 -2 13 1 95 0 1 -1 13 -1 47 1 11 6-16 -2-32 -1-16 5-37 0-3 0-57 -1-12 0-45 -4 9 8 11 -2 45 1 12 4 12 -1 43 0 31 -2 22 2 36 1-80 4-4 1-14 -4 0 3-3 0-4 0-102 1-11 -4 8 10 44 1 35 -1 28 -1 2 -2 14 3 83 0-31 2-58 3-1 -1-7 1-24 0-4 1-6 0-7 -1 0 2-10 -5-35 5-9 -3-15 9 5 -3 6 -2 55 2 52 -2 26 3 7 -2 5 2 3 2 16 1-12 0-38 4-19 -4-3 5-12 -3-61 3-16 1 19 1 12 3 5 -3 31 1 53 -1 22 1 4 2 53 1 38 6-55 -2-46 1-11 1-20 -2-96 0-15 2 71 1 8 2 29 -1 12 4 50 0 19 0 7 -1 10 -1 37 -3 31 5-10 1-5 0-37 5-22 -5-8 0-11 5-22 -4-22 0-25 1-2 -1-33 4-2 -5-11 3-45 -2-2 -1-27 5-19 5 4 1 2 -1 12 0 20 -2 1 0 59 -2 3 3 37 0 11 1 38 0 4 0 19 -4 4 0 6 5 97 -4-5 9-134 -3-40 2-10 -3-9 2-10 1-15 -3-46 3-23 0-27 1 7 4 15 -2 3 1 7 4 3 -2 8 -1 15 -2 10 5 13 -1 14 -2 3 0 38 0 27 -2 6 2 26 0 4 -2 3 5 1 -5 13 5 94 -4-21 5-79 5-5 -3-6 -1-33 0-76 -1-3 1-3 -1-8 3-2 -3-5 5-1 -1-8 -2-12 1-7 -1-9 2-19 -1-12 0 9 5 26 1 9 1 5 -3 12 4 3 -4 10 1 12 -1 2 3 48 -3 13 0 49 -1 40 4 11 0-21 4-14 3-6 0 0 -2-8 -1-2 3-8 -4 0 2-1 -1-31 -1-4 0-1 4-30 0-57 -2-40 1 10 3 5 1 4 1 13 -3 1 5 8 -4 10 -1 7 4 12 0 21 -3 12 1 1 1 3 2 5 -2 16 1 57 -2-2 6-11 -1-8 3-9 -1-7 2-7 -2-5 0-5 0-10 1-24 -3-19 0-8 3-5 -4-15 3-14 2 0 -2-10 -3-8 0-15 2 17 5 4 1 10 0 18 -1 15 -1 12 4 3 1 27 -5 12 0 13 1 43 4-20 5-3 -4-3 5-43 -3-9 3-5 -2-16 -2-2 4-18 0-5 -1-7 -4-13 4-7 2 47 4 18 -2 16 0 1 0 11 2 2 0 3 -1 0 -3 32 5 6 -5 2 0 12 2 0 2-46 5-4 2-10 -2-22 -2-8 8 38 -2 9 4 7 -1 0 6-8 1-3 -3-18 -1-8 4-20 -4-3 8 59 -3-4 6-2 5-13 -2-22 -3" fill="none" marker-start="url(#k21)" marker-mid="url(#k21)" marker-end="url(#k21)"/>
<path d="M1361 1156l16 3-1 0-14 1-9 3 8 6 7 5-13 -2-17 -1-14 3-24 7 6 -2 24 2 37 -4 48 9-31 -1-2 -1-12 3-25 -1-6 -2-13 2-8 -3-12 -1 26 11 54 -2 17 4-3 0 0 -1-7 5-2 -4 0 0-16 3-6 1-35 -4-3 0-57 9 72 -3 12 3 51 -4 8 4-21 3-10 -1-12 1-13 3-1 0-1 0-1 -3-18 2-4 -3-2 2-15 -1-3 0-45 10 9 -2 21 2 15 0 22 -4 18 4 4 0 0 -1 0 1 18 -5 1 0 14 3 41 -3-45 6-14 3-28 1-26 1-62 -4-1 10 54 0 36 -5 31 2 2 -2 42 0 15 8-9 2 0 -2 0 3-12 -1-14 0-40 -1-46 0-13 -1-18 -1-36 10 31 -5 30 3 1 2 2 -2 26 -2 6 0 0 4 20 -4 0 3 36 -4 1 0 25 3 8 -3 2 3 6 6-3 0-21 -2-51 0-12 -1-1 2-1 0 0 1-5 1-30 -3-1 -1-1 1-38 -1-8 3-5 1-5 0-4 7 9 0 45 0 21 -1 11 -3 2 -1 3 4 8 1 2 -3 10 -1 10 -1 15 3 16 -1 0 -1 18 1 10 -2 18 10-19 -3-24 1-9 -2-15 0-3 5-4 -1-5 1-19 -1-11 -2-14 1-3 0-10 1-21 -1-8 -1-45 9 23 -1 5 -4 11 2 2 2 14 -4 46 0 7 1 2 2 3 2 10 -4 8 2 4 -3 7 4 12 -4 18 5 8 -3 16 2 3 1 5 0-13 6-21 0-18 -2-17 -3-3 0 0 4-5 0-29 1-83 -5-3 4-2 -3-8 7 6 3 2 0 9 -5 7 1 19 0 25 4 4 0 14 -1 3 -2 6 3 4 -1 25 1 45 -3 4 -2 5 3 17 -1 4 1 4 -3 0 5 19 -5 5 4-30 2-24 0-13 1-25 4-1 -4-11 3-10 -3-13 -1-27 1-29 4-19 -2 17 8 17 -4 8 1 34 -1 10 3 11 -1 29 -3 3 4 1 -2 47 -2 1 2 9 3 1 0-25 3-17 0-19 2-63 1-31 0-2 -1-17 -1-16 -2-15 4-4 -4-5 2 0 -2 2 8 10 0 15 -3 23 5 4 -3 7 1 22 1 12 -3 20 -1 37 2 6 0 19 0 12 0 16 0 24 4-8 0-11 5-12 0-23 0-7 -4-7 0-16 2-16 -1-4 3-32 -2-30 1-1 -3-1 -1-1 1-11 -1-43 2-2 8 10 1 10 -5 9 2 14 2 7 0 44 0 39 -1 2 -1 1 1 29 2 44 -2 6 -2 5 10-13 -3-32 -1-3 3-6 0-6 -3-8 3-1 -2-7 2-22 0-21 1-19 -5-24 5-14 -5-7 1-3 3-37 5 39 1 23 -4 32 2 15 0 61 0 3 1 57 7-43 -2-19 -1-24 4-46 -1-2 1-6 -3-17 1-6 -2-41 0-4 4-22 2 31 0 4 4 22 -3 10 -2 31 0 13 4 11 -3 3 0 13 4 6 -5 83 5 1 -4 2 0 0 0 35 9-89 -1-2 -1-52 -1-11 3-80 1-27 -3 7 4 7 3 11 -1 3 0 28 2 33 -4 11 0 70 4 3 -4 3 4 11 -4 36 2 7 1 14 2 1 -4 16 2 11 0 4 1 6 0 4 1-68 1-8 1-2 2-1 -1-1 1 0 -1-61 -2-4 4-40 0-7 -2-14 -1-22 2-45 -3-4 1-28 9 13 0 9 -3 15 1 2 3 2 -2 38 -2 0 -1 28 0 31 3 4 2 6 0 19 -4 2 1 14 3 4 -2 26 2 1 -3 108 4-3 2-10 3-7 0-89 0-3 0-18 -3-20 1-14 1-17 1-1 -1-24 -1-16 0-9 -2-6 1-2 0 0 0-5 3-5 0-9 -1-11 -2-10 1-7 -2-25 0-8 2 7 3 4 2 11 3 1 0 5 -3 3 -1 6 3 5 1 7 -1 5 -2 19 3 1 -3 31 -1 4 4 10 0 3 -2 1 2 22 -1 3 -3 9 2 12 0 5 2 4 -1 17 -3 101 2 2 -2-12 5-13 5-129 -5-15 5-2 -4-4 1-33 1-6 2-1 -2-4 -1-19 2-36 0-4 -3-1 2-14 -3 4 8 30 2 11 -1 7 0 3 -2 0 -1 12 2 8 -2 20 5 4 -3 39 3 11 -5 20 5 4 -5 39 9-6 0-24 -1-6 -1-2 4-10 -2-5 1-1 0-12 1-5 -3-32 -2-3 3-11 1-20 -4-10 3-9 -3-9 0-7 5-11 -4-15 8 7 1 1 -3 1 0 17 2 3 -2 7 0 4 0 12 1 12 -1 4 -1 2 1 6 3 6 0 10 0 5 -3 3 2 3 -1 17 2 12 -3 9 0 0 -1 11 0 2 3 21 -1 15 4-7 3-3 0 0 -1-32 1-32 -2-1 -1-20 4-3 0-1 0-67 -1-29 4 28 0 24 3 8 -1 2 2 8 -5 7 3 16 0 9 0 9 2 25 -5 1 4 4 0 6 0 16 -2 13 -1 8 1 15 3-5 2-4 0-1 2-14 2-22 -1-16 0-1 1-14 0-6 -5-9 5-2 -2-1 2-15 -1-5 -2 0 -1-12 0-2 3-11 -3 0 0-19 4-3 -4-12 -1 26 11 1 -5 9 0 1 0 18 1 23 4 17 -4 9 2 43 -2 15 -1 8 3 0 1 2 0-15 5-12 1-1 -2-7 0-24 1-31 -2-12 0-6 8 12 -3 6 5 18 -4 12 1 7 -2 3 4 10 -1 0 2 2 -5 11 5 18 4-1 -3-10 0-16 2-3 2-3 -1-1 -2-3 3-1 0-3 -2-4 2-2 -2-2 3-18 -1-4 -1-11 -1-1 2-8 -4 0 3 26 4 3 2 1 -1 3 3 31 -5 1 1 2 -1 18 3-25 6-16 0-21 -3" fill="none" marker-start="url(#k22)" marker-mid="url(#k22)" marker-end="url(#k22)"/>
<path d="M1352 1156l14 -2 23 7-12 0-18 2-1 -1-11 -2 18 8 18 -4 15 7-4 4-3 -4-1 3-2 -4-1 3-1 -2-6 0-54 9 44 -1 37 5-1 1-10 -2-9 -1-3 5-6 0 0 -3-6 2-8 -1-1 -1-24 3-1 -2-41 -3 2 8 16 3 5 0 16 -2 7 2 19 -1 6 -1 11 2 9 -2 11 -1 3 2 11 1 8 5-16 -2-23 -1-11 2 0 -3-2 3-9 0-6 2 0 -4-15 -1-13 5-5 -2-4 0-13 -1-6 0-9 0-9 -1-3 -1 9 11 10 -3 4 3 11 -4 6 1 6 0 24 2 8 -1 9 0 5 -3 2 0 29 1-4 5-25 4 0 -4-4 1-33 -1-4 2 0 2-7 -1-10 1-3 -1-18 -1-4 -1-3 0-8 4-15 6 1 -4 0 4 8 0 10 0 4 -4 10 1 0 1 17 -3 8 5 8 -5 1 2 1 -1 0 0 1 2 38 -1 23 0 5 3 34 -5-3 9-22 -2-13 3-5 -2-1 -2-17 1-3 1-3 2-15 1-3 -4-2 3-6 -2-1 -2-13 3-42 2-1 -5-4 4-24 6 2 -1 7 2 6 0 13 -3 2 0 10 -2 1 5 2 -3 2 0 6 1 7 -1 2 1 10 -3 6 1 21 3 11 -1 3 -1 28 -1 31 0 3 3 0 -4-10 7-2 3-18 -4 0 3-13 1-9 -4-2 5-15 -1-10 0-3 -3-9 1-8 0-4 1-10 1-20 0-2 -1-21 0-10 -3 2 7 4 0 2 -1 4 3 32 1 21 -1 4 2 5 -3 19 2 12 0 9 -1 17 2 9 0 9 -2 13 2 21 3-11 -2-5 4-10 1-12 -1-16 -2-19 2-13 1-7 -4-1 2-19 -3-8 4-5 1-13 -2-1 0-6 0-17 1-20 -1-15 6 10 2 6 -4 10 4 15 0 5 0 4 0 8 -4 2 3 7 -4 30 4 2 -1 2 -3 1 3 9 0 12 1 55 5-13 2-11 -1-3 1-12 -5-13 4 0 -2-8 1-14 -3-11 3-1 -3-22 0-7 4-25 -1 0 -3-2 0-2 3-9 -3-6 2-13 1 23 6 4 -1 1 3 7 -5 14 1 21 1 31 2 7 -2 0 -2 2 2 7 1 3 0 3 2 16 -4 15 2 8 -1 1 1 31 1 22 4-11 2-38 1-1 -3-4 2-10 1-2 0-16 -1-3 -3-9 2-13 -3-8 4 0 -4-3 2-62 2-36 3 3 2 1 0 11 0 15 -1 3 -1 10 1 1 3 10 0 6 -1 2 0 0 1 4 -5 6 2 12 -2 40 2 20 0 0 -1 9 0 65 10-6 -5-5 4-29 0-13 1-8 -3-17 -2-5 1-14 -1-2 0-6 3-3 -2-28 -1-62 3-25 -3 6 11 11 -2 32 0 14 2 8 -3 9 2 37 0 10 -3 0 1 32 -1 72 10-21 -2-20 -1-11 -2 0 2-1 2-86 0-9 -1-33 -2-15 0-25 10 7 -5 2 1 7 1 17 1 11 1 29 -4 55 3 27 -3 9 2 47 0-42 8-13 -1-4 0-16 2-22 -1-15 -2-16 2-21 1-7 -1-27 0-6 0-15 0-7 0-6 5 0 -2 13 2 64 -2 3 -1 22 3 47 1 75 3-3 1-51 2-11 -3-38 4-38 -2-33 -3-31 0-13 4 21 6 31 0 6 0 0 -1 0 -3 11 4 16 -2 8 -2 13 0 1 1 58 1 8 -2 39 4 10 -1-41 5-37 3-15 -5-17 0-8 0-44 5-8 -4-14 0-18 7 8 -2 17 0 69 4 16 0 3 -3 8 2 28 -2 2 1 44 4-12 2-37 1-9 2-19 -3-11 2-126 3 31 3 2 0 240 -4 9 5 15 5-98 -1-21 2-23 -5-53 5-46 -5-2 2-10 2-6 -4-19 1-17 -1-18 1-1 0 5 5 12 1 0 0 47 3 3 -2 56 1 3 2 4 -5 1 3 18 0 6 0 14 -3 8 4 4 -2 33 -1-64 9-4 0-35 -2-77 2-13 -3-1 1-11 -2 2 11 0 -2 3 -3 2 5 38 -1 85 -2 30 -2 117 6-11 0-80 3-24 2-13 -5-34 4-8 1-8 -1-22 1-9 -3-1 2-32 -3-35 4 61 6 11 -1 4 1 25 0 5 -2 24 2 51 2-4 -1-13 4-16 0-12 0-5 1-45 -5-6 3-8 2-1 -4-40 3-34 3 77 -1 4 2 28 0 4 1 2 -2 39 1 3 -1 1 3 0 -2 32 0-6 4-4 4-30 -3-10 0-55 -1-12 3-10 2-23 -5-27 1 2 5 11 2 5 1 1 0 53 -2 38 4 11 -1 25 -2 37 0 3 3-12 6-17 -1-7 1-37 -2-1 2-22 0-3 -2-42 1-1 -2-32 2 14 2 22 4 2 -4 13 3 13 0 26 2 13 0 75 -3-32 6-26 3-23 -3-14 0-3 6 2 0 18 -2 10 4 6 -2 16 8-16 1-5 -2-22 1-1 0-7 -3-7 -1 4 10 0 -1 19 -2 2 0 15 2 5 -3 8 1 9 0 17 1-16 4-11 4-5 -3-2 1" fill="none" marker-start="url(#k23)" marker-mid="url(#k23)" marker-end="url(#k23)"/>
<path d="M1380 1156l7 6-4 1-30 -1-12 3 11 2 8 1 48 7-3 0-2 -4-20 0-44 2-9 -2 0 0-6 3-19 5 11 -3 28 2 7 -2 4 2 2 2 3 1 7 0 31 1-33 3-5 2 0 -5-14 0-10 2-1 -1-40 5 7 0 14 5 20 -5 5 0 7 4 7 -2 12 0 10 -2 18 2 9 2 7 -2 0 7 0 -3-4 0-10 2-36 0-12 3-18 -5-17 0-6 2-31 -1-4 10 8 -3 33 1 7 0 22 0 13 -2 2 -1 9 2 4 0 22 0 1 1 19 0 5 3-19 2-4 0-2 1-5 -2-17 0-2 4-18 0-2 -2-26 0-31 2-11 -2-13 0-8 2 39 3 9 -2 2 0 5 4 15 0 7 0 14 -2 15 3 12 0 40 3-25 0-17 2-22 1-22 -5-2 3-5 2-14 -4-20 3-12 1-27 2 2 0 10 4 18 -5 17 0 28 5 32 -3 43 0 8 2-11 7-63 -3-6 1-12 1-7 -2-5 0-1 -1-10 3 0 -3-4 -1-1 1-28 6 22 1 2 3 5 -3 4 -1 11 2 18 -2 15 1 31 3 13 -2 31 4-5 0-13 2-19 -3-8 4-3 -3-7 2-12 -2-49 1-11 -1 21 7 20 1 19 2 30 -3 19 1 17 -3 24 11-43 -3-2 -1-14 0-35 4-84 -1-3 -1-2 -3-6 2 56 4 65 0 25 1 2 4 8 0 6 0-3 2-95 4-18 -4-22 0 0 3-2 0 7 6 55 -2 34 1 61 -1-96 6-68 6 0 -1 3 0 56 0 12 2 59 1-18 7-23 -4-31 -1-39 3-7 0-22 5 11 -1 39 1 101 2 19 5-111 2-15 -2-9 -1-23 3 80 4 30 0 44 -1 16 4 0 2-8 3-168 -5 26 6 12 0 8 0 22 4 42 1 55 6-131 0 21 5 82 0 28 2-14 3-8 -1-40 1 60 8-76 6-23 -1 15 5-28 5-56 -1 139 5-123 14 81 -2 96 0-85 9-10 1-56 1-28 -5 4 8 93 -2 65 7-97 1 29 6 43 -1 14 0 17 7-11 0-90 -2 67 15 12 21" fill="none" marker-start="url(#k24)" marker-mid="url(#k24)" marker-end="url(#k24)"/>
<path d="M1369 1154l2 3-12 12 3 -1 18 5-35 -3-27 4 15 3 11 0 27 2 2 1 37 6-5 0-11 -3-12 3-2 -3-10 1-87 9 11 -5 2 1 12 4 11 -4 44 1 20 5-8 -1-3 1-12 4-15 -3-75 2 55 5 25 2 36 -1-7 3-6 3-39 0 10 3 16 2 40 1-16 6-73 1-56 -2 36 7 34 -3 34 -1 27 11-33 -3-83 1 3 4 65 8-28 -3-33 1-8 1-7 8 4 -3 71 7-30 -2-8 0-29 0 137 15-137 -3-19 5 26 11 134 22-139 9-19 36 41 1 238 19-112 38-9 15" fill="none" marker-start="url(#k25)" marker-mid="url(#k25)" marker-end="url(#k25)"/>
<path d="M1390 1160l-13 2-22 -2 9 5 34 10 0 -1-83 2 47 5 2 -5 13 1 31 1-12 7-11 1-40 -4-6 3-52 6 75 2 7 -5 17 5 3 0 36 5-30 -4-48 2-13 -2-11 0-12 2-4 -1-1 3-22 7 18 0 47 -4 38 2 26 -1 2 1-11 3-56 0-3 5-17 -5-41 0-3 2-12 7 3 2 87 -1 21 -4 2 5 17 -5 3 0 7 3 16 -2 2 4-21 5-44 -4-32 2-8 0-70 6 18 1 11 2 1 0 16 -5 12 5 30 -5 30 5 31 0 20 -1 11 -4 9 5 1 5-68 -1-38 1-44 -4-29 10 36 -2 57 -2 39 1 13 0 1 4 8 -3 5 3 30 6-9 -2-8 -3-41 3-1 -1-17 3-29 0-8 -1-56 -2-7 1 61 7 6 1 7 -1 3 -4 14 4 26 -2 9 3 8 -1 26 -4 17 3-17 8-15 -1-33 1-4 -4-3 4-38 -2-73 -2-14 8 3 0 4 -3 11 0 5 5 4 -2 3 -2 7 1 13 2 38 0 3 -2 4 0 20 2 16 -2 2 -1 34 2 26 1 11 -1 6 2 1 -2 2 2-8 1-19 5 0 -3-49 -1-10 3-5 -3-38 4-32 -1-40 -4-3 4-13 2 3 0 18 1 20 3 8 1 6 -3 38 0 6 -2 13 2 12 -1 63 2 12 2 15 -5-94 10-2 1-25 -1-19 -2-40 0-28 2-7 -1-5 2 51 1 24 1 36 0 5 2 2 -1 48 0 6 -1 1 3 13 -3 23 3 10 -4 8 9-13 0-90 -2-25 4-2 -5-12 1-41 2-12 -1 12 6 28 1 18 0 37 0 20 -3 1 5 9 0 4 0 43 -3 6 1 9 0 3 2-6 6-11 -2-34 -2-1 -1-31 0-10 2-22 -1-9 4-7 -2-1 -1-14 3-20 -2-12 -1-44 5 13 1 15 -2 5 4 42 -3 0 2 29 0 11 2 31 -2 37 2 30 -3 7 -1 8 7-5 1-2 0-7 0-57 -3-4 3-50 -2-31 1-12 3-26 0-3 -2-24 2-2 0 3 3 18 3 2 -4 19 1 26 3 62 -2 18 -2 9 -1 64 5 1 -3 4 8-4 0-42 0-27 -3-29 -1-1 2-9 0-18 -1-1 1-6 1-11 1-1 1-41 -1-11 -4-3 7 30 4 8 -1 13 1 20 -2 27 2 6 0 2 -4 15 2 25 -1 11 1 43 1 26 5-68 0-19 1-5 0-6 -3-2 3-4 -3-12 3-2 0-17 -1 0 2-32 -1-23 0-9 -2-26 -2-8 5-18 -2-4 1 0 -4 5 11 4 0 5 -2 7 1 29 -3 1 2 6 0 18 0 25 1 10 -1 2 -1 14 0 7 -1 4 2 13 -1 4 2 8 -4 13 0 3 3 2 2 10 0 40 -1 1 1 13 -1 6 -3 6 2 9 -2 4 0 3 1 0 0 1 -2 0 4 5 -3 6 2 0 2 8 -2 16 8-7 -1-3 0-1 -1-74 0-1 -3-9 2 0 -1-1 2-2 -1-3 2-1 -3-2 2-7 -3-11 3-26 -1-5 3-14 -2-2 0-35 0-15 -1-43 -2-6 3-6 -2-14 3-12 1 0 -3-8 0 0 -1-2 4-7 1 47 2 57 -1 29 -1 4 4 30 0 33 -4 11 2 4 0 0 0 95 -2 4 4 3 -2 2 0-7 4-5 3-6 2-84 0-12 -5-18 4-5 -4-57 0-1 5-8 0-55 0-9 0-3 -1-20 1-15 0-5 -2-3 1 9 2 10 4 6 -1 17 -2 3 4 5 -4 1 0 6 1 22 -2 7 5 40 -1 7 -1 56 1 1 -2 19 -1 61 4 5 0 3 0 7 0 5 -3 2 -1 7 3-25 4 0 -1-8 2-11 2-9 0-59 -4-2 -1-23 2-5 -2 0 0-47 2-8 0-26 0-19 0-28 3-1 0-11 -5-8 5-12 -3 44 5 15 3 34 -1 7 1 29 0 16 -4 12 4 72 1 3 -2 16 0 1 -2 13 2-41 3-2 0-3 1-4 -1-10 5-27 -2-4 1-20 -3-9 4-32 -5-13 3-2 -2-9 0-2 2-12 -3-3 2-12 3-5 -4-3 2-11 1-12 1-13 -4-5 7 4 0 21 0 13 -2 0 0 4 4 0 1 1 -2 7 -3 17 4 8 -2 9 0 16 2 10 -3 1 4 3 -4 15 0 9 -1 4 0 19 4 1 -2 21 7 0 -1-22 0-7 3-2 -5-22 5-27 -5-9 2-2 0-1 -1-5 0-29 0-13 2-28 1-8 -3-4 2-1 -3-8 0 31 6 20 5 5 -4 15 2 0 2 16 0 4 -5 35 0 6 0 8 2 2 0 26 0 1 3 1 -4 5 1 12 2 13 1 5 6-5 -1-1 1-7 -3-17 0-2 3-7 -1-22 -3-6 4-10 -2-4 -2-1 -1-13 5-9 -2-2 -3-2 1-22 -1-7 5 0 -2-16 2-4 -5-1 3-7 3 6 1 19 3 10 -1 7 0 6 0 22 0 4 0 1 0 6 0 0 2 41 -5 13 4 1 -2 1 3 4 -4 4 1 7 -2 10 5-9 5-10 -3-4 0-5 0-14 -1-29 1-13 -1-6 5-18 -2 14 4 7 4 1 0 10 -3 5 2 13 -4 9 1 17 1 3 0 8 1 10 0 2 6-29 -2-14 2-6 -1-19 1-1 2-3 -5-14 4-23 -3 7 5 39 5 2 -2 20 -3 19 5 2 -1 3 -3-1 6-3 2-22 -3-11 4-1 -4" fill="none" marker-start="url(#k19)" marker-mid="url(#k19)" marker-end="url(#k19)"/>
<path d="M1284 1188l12 21 137 5-79 13 60 2-38 10 0 -1 39 1-22 8-39 -1-66 -3-29 1-3 -1 19 8 62 -2 110 0 14 4-34 4-20 -3-132 1 80 10 113 4-49 1-46 1-40 -4-49 6 177 10-48 -2-9 0-156 -3 13 7 91 1 2 -2 50 1 29 3 3 -2-127 9 162 8-9 2-14 -1-29 0-122 6 103 2 70 3-210 2 25 6 15 -2 24 0 55 -1 26 3 7 -3 65 1-108 5-18 1-28 3 4 6 6 -2 22 -2 99 0 67 11-50 -4-40 4-181 6 4 -1 74 0 16 -1 128 2 36 -4 2 1 19 1-52 3-15 3-11 -2-5 3-190 1-7 -5 16 10 1 0 33 1 114 -3 38 3 1 0 96 2-3 4-88 -4-76 -1-82 1-35 7 10 1 84 2 181 -3-36 8-18 1-151 -4-25 0-59 1-1 5 4 4 90 -4 6 -1 33 5 110 -3 5 -1-51 9-51 -2-5 2 0 1-88 -2-57 5 10 2 23 1 33 -4 47 3 40 1 4 1-14 4-42 -3-19 1-54 3-8 5 65 1 45 -5 3 5 14 -5 19 4-41 9 44 2 12 5-88 -1-2 6 100 8-18 1-1 0-20 -1-58 -1 35 9 47 -5" fill="none" marker-start="url(#k20)" marker-mid="url(#k20)" marker-end="url(#k20)"/>
<path d="M1372 1157l-23 5-15 6 46 3-18 2-21 -3-19 6 72 12 11 10-5 -4-47 0-78 3 23 6 26 0 39 0-17 7-1 -1-26 1-3 1 42 6 15 1-31 1-4 3-29 -3 35 6 41 4 4 -5 5 4 40 0 12 3-15 3-11 1-41 -5-4 1-16 3-42 -4-37 4-5 7 2 -2 27 0 40 -3 87 3 17 4-33 -1-16 0-35 5-7 -4-18 0-1 3-32 0-51 7 20 -3 50 1 57 2 9 -1 20 -1 35 1 2 0-15 3-8 1-26 -1-10 -1-3 5-2 -2-3 -3-62 4-12 -3-55 5 5 0 9 3 13 -1 5 0 26 -1 29 3 10 -4 106 1 4 -1 9 1-6 10-15 -3-20 -1-30 2-84 2-21 -5-8 3-10 1-8 -3-13 0-3 -1 10 9 35 0 21 -2 10 4 2 -4 8 1 2 0 24 2 51 1 3 -1 16 0 11 -2 29 0-36 9-33 0-3 -5-16 1-14 2-3 -1-35 -2-5 0-12 1-27 0-36 3 0 -4-1 1 6 9 8 -2 37 1 8 0 1 -2 5 -1 6 4 9 0 10 0 42 -4 34 2 14 -2 7 0 10 9-23 1-22 -3-39 4-59 0-52 4 1 0 55 1 3 -2 0 3 22 -5 7 0 10 1 13 -1 11 5 27 -3 8 0 16 3 38 6 0 -4-2 0-9 3-22 0-2 -2-26 -1-78 0 0 3-41 -3-5 -1-25 3-6 6 11 2 69 -4 76 1 22 3 39 -3-55 4-52 4-37 1-59 4 32 2 2 -3 14 1 60 1 33 -3 15 -1 2 3 54 5-57 3-30 0-3 -4-54 -1-35 4-15 -3-15 4-6 -1 16 6 12 1 3 0 3 -4 4 -1 7 1 21 0 19 3 11 -3 11 -1 4 6-1 0-18 4-4 0-24 -3-1 4-76 3 4 3 29 -1 10 -1 9 -3 1 4 48 1 12 -4 0 4 2 0 16 -3 55 0 30 2 10 1 3 -5 25 5 15 -5 8 0 15 5 2 1-69 1-6 -1-19 4-93 -1-48 -2-53 3-4 7 29 -5 50 0 5 2 36 -2 7 0 72 5 8 -2 95 -3-1 8-2 1-104 -3-8 4-3 -1-9 2-7 0-43 -5-19 4-3 -2-9 -1-8 1-16 1-8 -2-11 0-31 -1-27 3 52 7 21 -2 2 3 11 -4 7 0 10 1 66 1 2 -1 0 2 8 -1 31 -3 2 2 75 3 2 -2 9 0 3 -3-27 8-79 1-31 2-19 -4-56 4-6 -1-33 0-11 -1-7 2 0 -1 11 7 9 -2 3 -2 19 2 19 2 41 0 4 -3 14 3 11 0 1 -3 33 1 34 2 5 -1 10 0-18 2-10 1-21 4-10 0-18 -4-15 -1-51 3-27 -1-14 2-2 -2-5 3-5 0-6 -4 0 2 0 -2-31 2-7 0 27 4 26 1 9 2 19 -3 10 1 17 0 43 0 9 0 28 1 5 -3 2 5 7 4-25 2-18 -3-11 0-17 2-43 0-3 -4-2 5-29 0-12 -3-5 3 0 0-14 -1-1 -1-3 1-12 0 10 5 6 0 16 1 14 1 5 0 5 -4 1 -1 31 3 3 1 17 -4 60 3 0 2 7 -5 12 3 2 -3 1 0-12 11-55 -4-49 4 0 -5-5 5-17 -1-15 -4-10 4-19 -4 32 10 34 -4 28 0 1 0 16 5 9 -4 11 1 25 2 13 -4 13 10-39 -4-4 1-10 2 0 2-7 -1-9 0-3 0-6 -3-2 0-3 4-8 -1-16 6 7 -1 0 -2 11 -1 7 4 10 0 0 -2 9 2 4 0 7 -3 15 2 27 2 0 -5 4 3 1 -1-21 8-6 -4-29 0-11 4-11 0-27 -1 3 3 24 2 7 -2 7 5 37 -1 13 2-13 0-37 4-4 -4" fill="none" marker-start="url(#k21)" marker-mid="url(#k21)" marker-end="url(#k21)"/>
<path d="M1365 1154l2 1 0 0 24 8-6 0-17 -2-24 2-1 2 12 0 6 -1 8 2 9 -2 2 6-10 5-6 -4-57 10 24 0 37 0 6 0 35 -5 5 5-17 6-20 -2-27 -3-63 4-6 7 20 -2 1 2 33 -3 29 1 61 6-12 -3-17 4-79 -4-27 7 2 1 14 -1 1 3 1 0 30 -3 1 1 28 1 10 -1 54 8-86 0-18 -1-23 0-10 1-4 -1-3 -1-7 -1 45 9 28 1 24 -5 62 9-9 -2-22 0-11 -1-25 4-9 -4-12 4-2 1-5 0 0 -2-23 -1-6 0-15 3-6 -4-8 4-32 6 8 -2 1 -1 3 -1 5 1 101 3 4 -1 15 -1 12 1 0 1 2 -3 2 0 5 1 19 1 1 -1 1 0 5 6-5 -3-30 4-6 -4-26 2-21 -1-15 0-13 3-5 -1-4 0-33 -2-10 4-18 -2 13 4 2 -1 3 1 15 3 3 -2 22 -1 6 1 4 3 17 -3 25 3 4 0 3 -2 29 -2 6 2 5 -2 4 2 7 2 6 -3 7 -2 9 5-10 6-49 -4-31 0-4 1-25 2-6 1-30 -1-19 1-1 -2-1 0-14 8 6 -5 29 3 30 1 17 1 1 0 9 -3 12 2 4 -1 12 2 13 -3 3 -2 1 0 10 1 18 1 11 0 10 3 29 6-23 -4-2 -1-6 3-12 -1-8 0-19 2-3 -1-38 -2-21 4-17 -1-33 -2-14 1-14 2-10 -1-1 4 1 2 12 0 1 -2 10 3 20 0 0 -4 3 -1 49 0 4 4 4 -2 3 1 21 2 3 -5 7 0 15 5 14 -2 23 -2 2 3 24 -2 2 3 8 3-5 3-3 -4-3 0-1 4-8 -1-19 1-14 -4-21 3-26 -4-8 4-56 -4-13 0 0 3-6 -1-19 3-8 0-16 0 12 5 1 -2 8 2 15 -4 14 4 17 0 21 -3 10 2 8 -2 3 2 22 1 1 -2 1 -1 12 -1 21 0 16 4-12 5-5 -1-4 0-1 -1-6 2-15 -2-2 -1-13 4-15 -3-8 2-22 0-4 1-2 -1-28 -1-1 1-1 0-28 1-8 2 10 0 5 4 4 -3 22 3 12 -1 0 -2 5 3 32 -3 5 0 7 4 19 -5 1 4 0 -2 4 3 1 -1 12 1 20 -4 26 3 12 -4 19 1 1 2-32 6-6 2-8 -2-11 -2-4 3-9 1-9 -2-25 1-9 0-3 -3-12 1-5 -1-25 -1-5 3-7 -3-5 0-1 1-2 4-1 -3-30 3-2 3 21 0 3 0 0 -2 7 2 6 0 1 2 5 -4 22 5 2 -1 15 0 3 0 3 -4 79 0 9 2 7 0 29 -1-14 8-2 -2-10 0-46 4-7 0-65 -3-40 -2-39 9 2 -3 10 3 2 -1 80 3 8 -3 30 2 8 1 32 -5 2 2 1 -1 4 1 2 0 4 1 31 3-25 4-28 -4-31 1-20 1-7 2-33 -1-4 -2-17 3-9 -4-22 1-14 5 4 3 10 -1 12 0 74 -1 21 4 37 -2 5 -1 7 -1 45 1 9 0 0 4-46 0-14 2-3 -1-46 3-8 -1-6 -3-1 2-22 -1-8 2-15 -1-26 0-9 3-1 -4-2 0-20 3-3 7 5 0 6 -2 27 1 21 -1 2 1 4 -1 23 0 47 0 7 2 1 -4 10 2 25 7-18 -2-2 2-4 1-2 -1-59 -1-1 -2-25 -1-8 1-2 0-4 2-37 4 12 -1 0 4 8 1 16 0 3 -4 52 0 6 3 23 -3 27 3 11 -4 62 5 15 -1 0 -4 11 4 1 -4 36 10-1 -1-4 2-65 -4-8 0-56 4-8 -5-1 5 0 -2-4 1-120 -4-13 5-2 -4-26 6 5 -1 9 3 18 -3 24 5 4 -5 14 3 9 1 97 -3 8 2 1 2 4 -1 15 -4 102 0 2 3-5 6-7 1-95 -2-7 -2-6 5-33 -2-3 -1-32 -2-3 4-10 0-37 -4-6 2-1 3 0 -5-6 3 0 -1-4 -2-8 0-5 0-22 0-13 4-1 -3-1 2 1 4 9 2 10 -1 1 0 2 -1 8 1 7 1 3 1 6 -1 11 2 3 0 34 -3 184 3 7 -5-13 10-3 -3-1 1-2 2-91 -1-4 -1-21 -1-14 3-25 -4-23 0-8 0-13 1-6 4-3 -5-8 2-8 0-3 -1-3 0-15 4-28 -1 2 7 23 -1 26 -2 4 1 7 1 12 -2 15 -1 12 3 7 0 3 0 14 -2 3 3 1 -5 1 2 55 1 73 -1-26 4-8 1-43 -1-2 4-2 1-12 -1-19 1-20 -4-9 1-5 1-3 -2-17 2-39 1-8 -2-3 1-6 -3-5 3-1 -1-25 -2 4 7 25 1 6 0 14 -1 16 1 12 -2 1 5 22 -1 11 -2 6 2 23 -3 2 2 1 2 4 -1 2 -3 9 0 15 3 14 -1 8 0 7 5-6 1-7 -1-2 -1-11 0-13 1-11 -1-5 -1-19 0-14 4-5 -1-15 -2-2 -1-4 0-5 2-9 1-2 2-1 -1-11 1-2 -1-26 0-6 -2-2 3-26 -3 17 6 3 -1 20 4 9 -1 42 -2 0 0 5 1 1 -3 14 5 16 -3 12 -2 7 3 40 1 5 -1 0 1 1 0 0 6-16 0 0 -3-10 0-8 0-4 2-2 -3-1 5-45 -4-2 -1-1 2-18 -1-23 9 36 -4 6 5 16 -3 15 -1 10 2 2 -3 9 0 8 3 2 0 15 -3 21 1-18 7-8 1-5 -2-1 -1-3 3-19 -2-20 3-6 -3-10 4-4 -3-14 3-2 -3 8 9 27 -5 0 4 9 -2 3 2 8 -3 6 -1 4 5 24 -1 18 -2-12 5-2 1-14 3-9 -3-3 2-1 -3-32 1-11 -1-5 8 16 -3 4 3 1 0 4 -1 13 2 22 0 1 0 1 -1 6 -1 2 1 3 -1 2 2 0 -4 8 0-27 11-2 -5-30 0-1 2-9 -1 0 1" fill="none" marker-start="url(#k22)" marker-mid="url(#k22)" marker-end="url(#k22)"/>
<path d="M1382 1157l4 2-11 -1-8 2-5 1-1 -1-5 2-1 0-2 -2-15 8 22 0 1 -4 10 3 19 -2 17 8-1 2-8 -5-17 4-34 -2-5 -1-4 3-23 6 11 -3 20 1 52 3 3 -2 14 4-5 3-1 0-25 -4-6 2 0 1-9 -3 0 3-1 0-11 -2-31 1-8 3-3 -3-17 -1-16 6 25 3 6 -4 10 3 2 0 1 -2 4 0 1 0 12 1 8 0 4 1 0 1 5 -2 22 2 4 0 7 -2 2 -2 19 5 7 2-13 3-8 0-13 -3-1 4-4 -2-6 1-5 -1-12 -2-18 -1-1 1-19 1-3 3-3 0-18 -1-10 -2-16 1-7 8 26 -5 11 0 11 0 8 3 9 1 19 -3 23 1 8 3 7 -3 9 1 11 3 0 0-2 5-10 -2-19 1-8 -3-15 0-18 4-3 -5-13 3-13 -1-9 1-7 -2-10 0-14 4-5 4 28 -3 5 1 10 3 0 0 18 -4 12 0 2 4 3 1 7 -2 6 1 1 1 28 -5 11 5 8 -4 9 4 24 0 5 3-14 1-1 -1-6 2-10 -1-24 -3-1 3-8 -3-29 0-1 5-4 -2-17 2-11 -5-1 3-3 2-2 -4-31 -1-10 5-1 -2-1 0 4 3 10 0 18 1 2 -1 30 3 2 1 31 0 11 -1 22 -2 5 1 24 0 4 -1-9 9-3 1-9 -5-11 1-9 2-24 -2-4 4-1 -2-23 -2-15 1-6 -2-27 1-2 1-4 3-4 0-7 -2-10 -3-2 9 20 2 9 0 1 0 7 -3 1 1 3 -2 4 0 8 1 6 0 28 3 4 -5 3 0 1 0 3 2 6 1 1 -2 8 2 1 -2 10 1 25 0 31 -2 16 6-43 5-27 -3-52 -2-13 4-34 -1-5 -2-1 3-3 1-17 -5-1 2-1 1-8 4 11 0 12 0 4 2 7 -1 4 -1 2 2 3 1 7 1 5 -4 4 0 20 -1 25 1 9 0 6 -1 6 2 4 -1 13 4 23 -4 29 1 8 2-21 7-32 -4-4 3-29 0-6 -4-44 0-7 0-20 3-2 2-4 -2-2 0-3 -3-5 5-3 -1-17 -2 132 9 2 -2 24 -2 23 1 36 2-7 3-11 0-16 2-56 1-16 -1-10 -1-2 2-12 -4-5 1-18 3-16 0-4 -3-20 1-8 -2-5 10 0 1 13 -1 12 -2 5 -1 12 3 9 -4 6 4 11 -4 1 5 13 0 1 0 27 -3 18 -1 13 4 2 -3 20 -2 37 3-3 8-6 -4-19 3-13 -1-12 -2-14 -1-5 2-1 0-11 2-15 -1-3 1-7 -2-19 -2-30 3-10 1-19 0-8 1-2 0-7 0-5 -3-6 -2 0 10 24 0 24 0 4 -1 1 0 3 2 7 -1 13 -4 1 1 34 3 5 -2 6 3 8 -5 2 1 3 0 2 4 2 -3 10 3 11 -4 28 0 44 3-11 5-2 -1-14 1-34 0-22 2-2 -4-50 4-4 0-22 -3-10 0-5 -2-24 1-4 1-8 2-10 -2-1 1-4 6 30 -3 35 4 2 -2 0 -2 61 3 22 -1 6 3 27 -4 25 1 18 8-10 0-49 -1-7 1 0 0-19 -1-39 -3-38 3-1 -1-41 2-18 4 15 1 6 1 77 1 5 -2 3 -3 0 4 8 -2 17 4-32 2-20 -1-16 2-11 1-9 -1-34 0-11 4 29 0 25 0 13 3 0 -4 11 1 1 0 8 1 19 1 65 -2 28 7-44 0-2 2-63 1-42 -4-24 -1-28 0 28 10 32 0 6 -3 12 0 51 3 1 0 30 -4 5 1 18 2 6 -3 29 6-21 5-17 -2-5 1-42 -3-58 2-48 2-1 3 34 -2 85 3 22 2 73 -5 18 0 27 5-51 1-47 5-19 -5-21 3-48 1-47 -4-4 3-25 2-22 -1-14 7 19 -1 11 1 5 -1 23 -1 18 -1 23 0 22 0 15 -1 184 5-15 2-139 1-1 -1-4 -1-14 0-13 4-1 -1-14 0-2 1-17 -5-29 3-29 2-11 6 7 -4 18 3 7 1 2 -2 6 2 4 -3 26 1 31 -1 18 -1 147 -1-150 10-32 1-22 -4-66 4-13 2 22 0 14 1 41 1 9 -1 16 2 7 -4 48 4 74 -2-38 7-13 -1-4 3-39 -5-31 5-13 0-2 0-18 0-16 -1-11 -4-10 0-2 0-27 11 20 -2 1 0 18 -1 27 0 29 -1 11 4 11 -2 40 -1 2 0 21 4-57 4-8 1 0 -2-12 -3-16 1-6 0-3 0-35 3-29 6 10 -4 3 2 13 0 46 1 18 2 38 0 33 -3 9 -2 8 11-4 -4-31 3-6 -3-14 0-23 0-24 2-54 1 17 5 20 1 7 1 13 -3 17 -2 10 5 3 0 25 -5 1 0 1 5 6 -3 20 -1-31 6-6 3-1 -4-33 3-11 0-11 4 1 -1 22 2 20 1 15 2 37 0-12 4-38 -2-14 4-7 -1-11 1-17 -4 14 5 4 0 9 2 1 -2 2 0 2 2 22 -1 20 1-1 4-33 2-8 0-6 -1" fill="none" marker-start="url(#k23)" marker-mid="url(#k23)" marker-end="url(#k23)"/>
<path d="M1369 1154l1 5-3 -1-27 8 16 3 17 -1 3 6-74 7 3 -1 9 -2 5 -2 4 3 8 -3 16 4 2 1 18 -4 1 -1 3 0 20 5 25 4-6 0-4 -1-16 2-9 -1-1 1-25 -4-31 4-21 0-13 5 11 -3 3 1 68 3 4 0 8 -3 41 7-43 3-30 -3-7 3-7 -5-26 3-14 -1-1 0-10 -2-15 10 4 1 1 -5 8 1 14 0 13 -1 6 3 5 1 17 -1 10 -3 4 0 10 2 8 1 19 -1 5 -2 3 3 13 -1 11 2-4 3-48 4-17 -2 0 0-21 0-1 2-5 -2-8 -2-20 4-18 -3-2 -2-17 5-1 6 8 -3 0 -1 31 1 0 -2 20 5 39 -4 9 -1 44 4 4 6-24 1-4 -2-53 -1-4 1-6 -2-6 4-18 -1-15 0-3 1-8 -5-2 0-19 5 13 1 13 2 0 -1 21 4 3 -3 14 -2 15 3 11 -2 9 -1 19 1 67 4 8 5-91 1-1 -2-24 1-41 1-2 -4-2 -1 0 4-4 -3-21 5 13 4 129 -1 15 0 13 5-44 2-35 1-67 -5-7 5-5 -5-9 1 10 8 9 -1 2 1 122 7-114 -4-9 1-29 4-2 5 10 1 40 -1 9 -4 53 5 16 -2 0 -3 18 2 42 3 27 0-11 4-62 -3-43 3-26 -3-30 5-20 -5-23 6 28 2 42 2 12 -3 15 -1 5 0 86 4-31 3-22 2-50 -1-3 0-7 -2-32 0-18 3-18 2-2 -4 146 12-16 3-25 -4-26 2-29 0-15 -1-30 7 13 2 19 0 47 -2 35 2 45 -2 51 1-78 6-47 -1-40 -2-7 2-28 -1 73 9 69 3-18 1 6 5-24 8 32 13-18 -3-50 3-24 1-38 5 98 -4 28 0 8 4 10 -1 8 -1 29 6-31 3-29 -5-7 0 15 7 26 8-39 2-19 -2 0 -1-120 1 95 6 37 2-148 11 12 1 16 -1 25 -3 0 2 128 3-74 2-11 -1-34 1-12 -2 50 10 26 1 7 4-74 2 141 5-123 5-3 1 120 9-74 4 59 4-54 9 50 9" fill="none" marker-start="url(#k24)" marker-mid="url(#k24)" marker-end="url(#k24)"/>
<path d="M1377 1157l-17 5-18 7 12 6-10 -5-38 9 11 2 23 -3 72 0-12 6-31 -1-33 1-8 -1-11 2-22 2-3 -2-5 2 6 3 8 3 11 -1 38 -3 2 2 31 1 39 3-34 0-7 -1-10 3-1 -1-33 -2-43 0-14 6 10 4 19 0 18 0 6 -2 11 1 46 -3-12 6-68 1-33 6 94 3 16 -2 1 3 18 4-20 1-39 -3-74 3 55 13-28 -4-4 3-32 5 83 1-95 7 38 1 69 5-40 3-68 3 44 6 110 4-93 -2 58 11-26 4-88 0 50 2-3 13 59 2-8 5-42 2-26 19 21 26 59 5 50 12 25 23-27 51" fill="none" marker-start="url(#k25)" marker-mid="url(#k25)" marker-end="url(#k25)"/>
</g>
<ellipse cx="1331.5" cy="1349.5" rx="23.3" ry="12.8" transform="rotate(27 1331.5 1349.5)" fill="none" stroke="#231f20" stroke-width="4.3" stroke-dasharray="0.01 8.96" stroke-linecap="square"/>
<g filter="url(#fillc)">
<path d="M1731 1156l29 5-7 0-3 1-14 -2-4 5 10 2 26 6-5 -2-10 0-6 2-14 -2-11 4-62 6 6 -1 39 0 57 -4 10 0-24 8-7 3-79 4 14 1 2 -1 4 0 15 -2 21 1 19 0 38 -1-4 9-11 1-25 -1-36 -4 80 10 13 5-6 -2-19 -1-6 1-58 4-66 6 30 -1 10 1 24 -5 16 0 20 1 43 0 21 1 1 0 1 8-20 -4-15 1-18 1-17 2-48 1-53 -3 0 7 44 0 32 -1 20 -1 57 4 8 0 14 0-2 5-6 -2-28 1-13 -1-101 0-28 -2 62 7 21 4 37 -3 4 1 12 -2 34 4 20 -3 3 -1-17 7-3 0-2 2-14 0-20 -2-10 -1-37 2 0 -2-18 0-50 4-5 -4-11 2 83 8 3 -5 11 0 25 4 0 0 19 -3 12 4 2 -4 17 0 16 8-24 0-1 -2-7 2-2 2-13 -2-6 2-19 -4-18 0-4 4-4 -3-44 2-23 3 27 0 1 4 26 -5 3 0 27 1 12 -1 0 3 6 0 14 0 27 -1 5 1 8 1 5 -4 4 8-40 1-79 2-7 -5-22 4-54 -2-3 3 22 2 32 1 68 -2 40 3 22 0 1 -3 12 4 3 0 18 -1 0 8-5 -3-1 1-10 1-11 -1-9 -1-8 3-1 -4-9 1 0 2-53 -1-11 0-30 2-15 -4-8 4-39 -1-7 2 5 3 7 -3 31 4 17 -4 20 2 17 2 14 -4 15 5 4 -3 7 3 8 -3 1 -2 1 3 8 0 2 2 6 0 0 -2 6 0 9 0 16 -3 9 4 5 1 4 -1 13 2-21 3-1 0-14 1-35 -4-4 1-4 4-24 -4-24 1-2 3-36 -5-1 1-46 3-14 4 43 -1 7 -1 4 1 7 4 8 -3 5 3 1 0 0 -3 6 2 31 -1 9 1 14 -4 14 1 3 4 1 -3 1 3 33 -3 3 0 9 1 9 0 1 -1 0 -1 6 -1-15 11-4 -2-9 0-4 -2-2 2-1 1-5 1-23 -3-21 3-1 -3-5 -1-12 3-8 -3-6 4-13 -1-18 -4-2 4-16 0-1 -4-30 4-4 -1-9 -1 17 4 7 3 15 0 15 0 8 0 11 -3 2 1 8 3 0 0 6 -2 7 1 4 -1 4 -1 0 4 12 -4 5 -1 18 0 19 3 0 2 6 -1 1 -2 7 1 14 2 14 -2-15 5-17 0 0 0-24 2-8 -4-7 4-13 -1-8 -2 0 0-1 1-27 3-13 -4-3 1-72 0 11 6 2 0 14 -2 35 3 2 1 16 1 37 -5 2 2 34 3 35 -3 9 -1 16 7-13 0-9 1-1 -3 0 4-31 -1-4 1-10 -1-8 1-3 -3-7 4-1 -5-10 0-16 2-33 1-1 2-25 -2-23 -1-18 -2 1 11 7 -2 20 1 8 -2 8 3 12 -4 14 3 2 1 1 -5 0 1 6 3 3 1 1 0 3 0 1 0 6 -4 3 3 10 -3 1 4 1 -1 3 -1 24 -2 46 -1 13 1 4 2 80 8-86 -2-4 0-1 0-10 0-20 -1-32 2-13 -3-4 -1-4 4-21 -2-6 0-10 1-6 1-36 1-23 -3-4 -2 4 10 7 -4 9 1 5 3 48 -3 4 3 2 -4 1 1 1 1 6 3 3 -1 0 -4 2 0 8 1 6 2 1 -3 4 4 0 0 3 1 4 -1 4 -4 6 3 0 -3 1 0 6 1 4 2 8 1 2 -4 2 4 3 -4 5 3 17 0 1 -3 15 3 5 0 3 -2 14 2 63 -2 2 -1 1 5 1 -2 4 -1 1 0 0 1 2 -3 6 5 2 0 3 0 15 6-7 0-1 -1-3 -2-1 -1-1 3 0 -2-2 2-1 -1-4 -3-10 1-93 4-4 0-20 -3-10 1-19 -3-1 0-24 3-3 -2-1 4-1 -5-7 0-3 2-3 -1-15 4-6 -4-6 3-31 -2-17 1-4 1-16 6 1 -4 30 4 18 0 15 -1 10 -1 24 2 4 -4 26 2 10 3 18 0 2 -3 21 0 6 -1 5 1 1 3 7 0 3 -4 6 0 56 2 45 -1 2 -1 1 -1 1 3 0 1 1 -2 0 3-2 2-1 -1-2 1-6 4-8 -1-3 1-35 -1-24 0-43 1-2 -4-3 -1-14 2-6 -2-2 3-1 2-3 -4-2 0 0 4-11 -5-3 1-30 -1-6 1-4 4-2 -4-15 2-1 -1-6 -1-5 4-4 0-16 -5-4 4-9 -3-1 4 0 0-2 -1-2 -4-12 4-3 -4-2 2 0 0-4 -1-6 2-4 3 5 1 5 0 20 3 25 -2 3 1 6 1 10 -1 3 -2 5 1 9 -1 4 -1 18 2 43 0 3 -1 3 -1 3 4 14 1 8 -1 99 -3 3 1 0 -2 1 0-18 7-8 0-1 2-2 0-7 1-15 1-35 0-35 -3-11 1-1 -2-32 4-28 -2-10 0-2 -3-14 0-14 1-14 2-3 -2-8 1-15 -2-1 1-4 6 13 2 17 1 12 -1 16 1 4 -4 1 2 4 -2 6 2 7 0 18 1 14 2 3 -3 44 1 6 -1 12 1 1 -1 4 2 3 -1 29 -1 5 -1 5 1 0 -1 6 1-37 6-5 0-29 0-8 0-50 -2-9 5-10 -1-2 1 0 0-19 -1-9 -1-4 2-8 -5-3 1-23 -1-29 6 27 3 4 -2 0 2 12 1 14 -2 3 -2 4 4 4 0 5 -4 2 0 9 1 17 4 15 -3 15 -2 14 2 8 0 15 0 16 0 8 0 2 0 10 2-1 6-9 0-3 0-1 -1-13 -3-6 2-15 -1-4 2-8 -2 0 1-2 -2-63 0-1 4-10 -3-2 3-17 -3-2 0-5 2 0 -2-9 1-1 1-1 -1-6 2-13 5 12 -3 1 1 10 4 10 -4 1 1 4 3 2 -4 2 2 5 1 3 1 2 -1 6 1 0 -5 2 5 2 -1 1 -2 12 -1 1 0 13 -1 1 4 0 -4 7 1 6 4 4 -3 5 3 3 -1 7 -4 16 0 3 2 23 1 20 1 0 -3 5 4 0 0 0 4-2 0-1 -2-8 3-1 -1-6 -3-21 4-6 -3-52 2-15 -2-15 -1-10 4-22 -1-1 -3-9 3-1 -3-4 3 46 6 16 -3 1 2 19 -2 40 4 8 -4 27 4 7 1 11 2-1 0-15 4-7 -2-2 -1-4 2-5 -4 0 4-1 -2-2 3-7 -2-4 -3-1 4 0 0-21 -2-18 2-6 0-1 1-2 -1-3 -3-11 1-3 -2 9 9 2 1 18 -1 12 2 2 -1 7 -3 9 -1 13 3 8 1 10 1 9 -2 0 2 1 -3 8 3-24 3-14 3-7 -3-30 0-10 1-5 -1-2 1-1 1-3 1 18 5 19 1 13 -3 2 1 7 1" fill="none" marker-start="url(#k19)" marker-mid="url(#k19)" marker-end="url(#k19)"/>
<path d="M1741 1172l57 46-31 8-41 13 71 2-8 6 33 11-6 -1-154 1 11 4 29 2 139 6-23 -2-46 -2-79 0-60 11 34 -3 109 -1 63 3-18 5-118 1-69 -1 43 8 24 -2 83 6-134 1-28 -4 127 7 11 -1 27 2 46 0-31 6-28 -2-10 3-129 7 132 -4 18 4-73 5-29 -1-38 3-7 -2 65 8 34 0 20 0 49 2-164 9 30 0 36 0 80 5-29 -3-66 0-5 9 27 -3 35 5 29 -3 12 -1 129 7-85 2-25 -3-88 -1-26 3-21 1-55 -3 39 9 31 0 24 1 201 -1-2 7-5 0-82 -5-14 1-47 3-106 0-27 1-6 3 9 1 7 0 15 1 29 -4 81 0 24 5 8 -2 118 -3-37 7-18 4-89 -3-79 0-4 -2-39 0-21 2 9 9 39 -2 26 -1 141 2 11 -3 0 1-37 9-42 -4-26 -1-15 3-68 -1-3 0-19 5 22 1 1 -2 7 4 90 -1 14 -3 9 4 12 1 1 -2 8 -1 4 8-50 1-44 -5-5 3-45 7 6 1 43 -1 59 5-3 -1-58 3-71 -1 66 7 43 0 4 -2 43 3-4 2-15 -2-50 10 24 1 39 2-86 1 25 6 7 2 13 -4" fill="none" marker-start="url(#k20)" marker-mid="url(#k20)" marker-end="url(#k20)"/>
<path d="M1727 1162l10 12 21 3-97 24 126 8-20 10-9 -1-5 11 24 -5 11 3-42 7-22 2 24 5 10 -1 31 1 0 1-14 1-11 4-21 -2-5 1-9 1-98 1 21 2 10 -1 38 2 33 -1 26 2 7 1 30 -2 1 1 3 4-11 -2-33 4-13 -2-36 -1-5 1-31 5 2 3 58 0 41 -1 11 -1 39 -1 12 0-1 7-72 1-17 -2-10 4-33 -2-21 -1-8 2-51 -4 35 11 29 -5 34 1 27 0 18 0 3 4 1 -4 13 2 18 1 36 -3 4 7-5 0-124 3-9 -3-6 2-65 4 19 0 1 -1 10 3 3 -1 8 -1 13 2 66 1 13 -1 51 -3 19 3 10 -1-18 4-9 2-2 1-3 0-8 -4-6 3-4 0-31 -2-90 2-39 0-2 1 21 2 23 5 12 -2 135 1 5 0-33 6-3 -3-30 0-40 0-7 0-9 2-31 2 0 -2-12 -2-2 -1-22 1-13 4 6 1 21 1 76 -1 81 3-47 7-24 -4-10 0-21 3-1 -2-21 0-23 0-14 0-13 4-8 -1-6 -1 32 6 121 -1 12 0 47 1-29 8-29 -2-19 -1-24 -1-26 4-17 -1-25 0-10 1-9 -4-32 4 21 6 48 -3 40 1 42 0 2 2 148 5-108 1-7 -4-26 2-35 0-74 -3-32 11 6 -1 48 -3 20 1 5 -1 44 1 17 3 0 -4 38 2 86 -1 9 -1-6 8-87 2-4 -2-3 -2-12 4-2 0-10 -1-19 -4-8 5-8 0-1 0-105 -4-9 2 36 3 15 2 12 -2 16 2 26 3 1 -5 24 5 3 -1 20 1 140 -3-4 7-3 -2-98 1-1 2-31 -1-3 -1-6 2-61 -3-32 2-29 -1-20 3-1 0-7 -4-3 10 5 -1 3 1 24 0 3 0 31 -1 44 0 170 -3-23 7-99 -2-70 4-86 5 46 -1 60 0 38 3 51 2-33 4-12 -1-68 -4-15 1-11 1-38 -2 17 6 48 1 65 3 27 -4 7 2 3 -1 2 10-23 -3-43 3-17 -2-21 -2-19 2-11 1-15 -1-2 -1-13 -1-7 4-10 -1-10 2 68 5 3 -3 15 1 6 2 83 0-37 5-15 -2-23 2-7 -3-7 0-2 4-51 -4 4 5 4 0 35 0 33 3 13 -3 31 1 1 4 10 -3 16 2 0 2-1 4-100 4 3 0 1 0 14 -2 3 1 1 1 37 -2 1 2 29 2 16 -4-26 11-50 -2-3 8 4 -5 21 0" fill="none" marker-start="url(#k21)" marker-mid="url(#k21)" marker-end="url(#k21)"/>
<path d="M1744 1161l9 7 6 -1 20 12-20 3-29 2-5 1-31 1-31 0 95 4-8 4-92 0 63 14-6 -1-41 3-22 -1 59 3 60 2 12 1 13 3-15 0-17 1-2 3-4 -1-3 2-18 0-74 -1-34 5 39 -1 36 2 34 -4 0 3 6 -1 11 0 16 2 30 -1 17 0-10 6-57 2-7 0-7 -3-1 1-2 -2-16 3-85 6 4 0 82 0 2 1 64 -4 3 1 4 0 25 -1 3 3 4 2-14 4-6 0-31 -4-12 1-30 1-23 2-12 -1-15 -3-33 4-3 -1-21 4 8 4 7 -4 5 0 16 2 0 -2 22 4 6 -1 16 -4 18 5 18 -3 16 0 38 -2 16 2 2 -1 8 4-5 1-13 5-7 -2 0 2-14 -5-3 4-27 -1-17 0-8 -2-17 1-7 -1-21 4-33 -2-25 4 20 2 31 -1 8 -1 2 3 25 -2 6 -1 9 1 1 0 31 0 14 -2 23 5 10 -1 26 1 5 -1 2 -2 3 2-16 2-4 3-13 0-6 -3-26 0-14 4-20 -1-5 -1-3 -1-13 3-7 -4-3 5-23 0-2 -2-16 -3-16 3-9 -3-6 1-18 0-5 5 38 0 9 3 15 -3 50 2 1 0 1 2 5 -2 4 1 27 0 11 -3 6 4 10 0 19 1 5 -5 20 4 7 -3-7 9-8 -2-3 -1-6 0-14 4-44 -1-26 -1-6 0-8 -1-41 2-34 -2-7 -2-14 3-4 4 9 2 5 -3 5 4 13 -4 1 3 18 2 8 -3 17 3 43 -4 34 4 13 -2 15 -1 14 2 19 6-21 0-46 0-64 -4-16 2-39 -1-19 5 5 3 19 -3 6 1 17 -1 4 1 30 0 3 3 3 0 42 -3 23 4 20 -3 35 -2 1 1 0 10-17 0-6 -2-8 -1-69 2-34 -1-26 0-1 -3-42 5-11 -2 2 5 1 2 5 1 17 -3 8 -2 1 2 86 3 59 -1 3 -1 24 8-88 0-79 0-4 0-11 -1-25 0-3 -4 14 7 23 4 3 0 18 -4 149 6-36 3-122 -1-2 2-4 -2-16 0-16 2-2 0 36 4 1 1 1 1 5 -1 38 1 57 -5 1 2 2 -2 5 5 13 0 19 -4-52 6-3 1-1 -1-12 4-55 -3-12 3-7 -5-2 3-12 -2-15 0-20 1 13 4 3 4 25 1 2 -3 7 3 149 0 1 0-26 2-80 1-17 -2-44 3-3 2-2 0-28 1 14 3 34 1 3 -4 23 2 52 -1 68 2 112 6-101 -2-10 1-8 -1-27 1-53 -2-33 1-39 0-20 2 5 4 21 0 18 2 19 -3 6 2 1 2 5 -1 24 -1 22 -1 10 4 3 -2 47 2 79 0 22 -4-125 6-15 3-11 -4-20 4-4 1-4 0-65 -1-6 0-2 0-3 1 0 0-1 -1-5 -3-9 1-13 0-7 1-5 -2-1 8 10 1 31 0 8 -3 7 1 22 -2 19 2 74 -2 26 0 20 5 20 -4-37 8-3 1-29 1-47 -1-13 0-22 -1-17 -2-20 0-40 2-1 2-6 -4 24 9 30 1 9 -2 13 -1 9 -2 1 3 11 2 17 -5 22 0 14 3 15 0 5 1 5 -3 17 2 11 -3-25 10-51 -3-35 0-9 1-2 0-15 -1-27 -1-10 0 12 6 19 0 23 4 14 -2 53 0 14 0 11 1 4 2 3 0 20 -1-7 6-10 -4-48 4-26 -1-46 -2-35 0 13 5 42 4 1 -4 0 3 8 -1 5 -2 18 0 38 4 9 -3 7 2 10 1 0 6-4 -4-22 4-7 -1-3 -3-3 5-4 -3-6 1-11 1-26 -3 9 10 20 -2 14 -1 31 2 15 -3 3 0-3 9-1 0-18 -2-15 -1-4 1-3 -2-21 5-14 -4-12 1 30 8 3 -3 2 3 1 -2 2 0" fill="none" marker-start="url(#k22)" marker-mid="url(#k22)" marker-end="url(#k22)"/>
<path d="M1744 1161l-8 2-13 -1-5 1 16 6 13 -4 4 4 10 5-1 -3-21 1-12 0-6 2-1 -3-4 4-2 0-3 -4-27 5 17 2 2 2 0 -3 10 0 1 4 5 -4 23 -1 1 0 23 3 11 -2 3 7-1 1-4 -1-24 -2-11 3-44 -2-4 2-12 -3-2 4-8 0 23 5 17 2 5 -4 13 4 4 -2 22 -1 2 -2-4 11-13 -3-15 3-18 -2-56 -2-12 1 3 8 28 -2 1 0 6 0 25 2 2 -1 16 2 11 -2 25 -2 26 -1 5 2-15 9-27 -1-31 -2-21 3-5 -2-1 -3-6 3-6 -3-13 5-28 -3 25 5 1 0 16 -1 27 4 7 -4 20 3 2 -2 7 1 6 3 5 -1 1 1 4 -5 2 0 14 1 12 2 14 3-63 0-14 1-8 3-6 1-9 -2-1 0-5 -2-15 0-31 0-9 4 8 6 2 -4 7 3 2 1 2 -1 26 -2 2 1 8 -3 3 0 29 1 8 1 5 -1 15 0 6 3 1 -4 2 5 1 -1 26 -1 25 1-2 7-4 0-8 -3-3 1-6 -3-13 5-60 0-1 0-9 -5-24 1-6 0-21 3 0 -2-18 -2-4 4-12 1 0 -5-1 2 1 4 4 4 1 -1 7 -2 27 2 39 1 9 -4 4 5 3 -4 4 3 76 0 2 3-20 1-13 3-10 0-3 -2-89 -2-24 0-9 1 5 8 23 -4 11 4 14 0 13 -3 1 2 17 -3 39 2 8 -2 0 5 2 -5 7 5 0 -1 21 -2 18 -2 2 4 14 0 4 -1-27 3-13 3-27 -3-2 2-6 -2-8 0-43 3-73 0-1 1-6 3 15 2 12 -2 14 -1 15 3 7 -2 17 0 5 0 3 3 18 1 16 -3 2 3 7 -1 4 1 19 -2 16 0 36 1-1 4-21 -2-15 2-24 1-7 1 0 -1-4 1-15 -4-25 2-29 -1-31 2-1 2-2 -2-35 -1-1 3 17 6 13 -5 1 1 13 1 18 2 23 -1 25 -2 5 2 16 0 3 -3 28 3 14 -3 0 4 32 -3 14 10-37 -2-63 0-9 -1-13 3-26 -1-8 -3-4 2-31 -3-13 3-14 4 20 0 26 4 31 -5 52 1 29 0 36 3 8 0-13 5-120 -2-9 0-28 -1-1 2-2 1-10 1-1 -4-10 0-8 3 6 7 14 -1 55 2 91 0 26 -1 10 -2 17 5-22 2-96 1-49 -4-15 4-23 -3-16 3 18 5 23 1 3 0 6 0 45 -2 12 -1 112 3-4 7-71 0-62 -4-32 -1 0 3-3 -2-23 1-16 0-11 7 33 0 17 -1 1 -1 9 -1 108 0 20 0-98 6-35 2 0 0-19 0-9 -1-19 1 10 5 4 2 14 2 7 -1 64 -3 170 9-149 -2-71 3-43 -2 18 6 164 2-1 6-130 -3-28 2-2 -1-3 -1-27 -2-6 0 46 11 10 -5 6 4 50 -1-2 5-16 2-77 -3-2 7 14 2 14 1 6 -2 40 1 49 -4 14 2 149 -2-46 10-51 -3-11 2-38 -1-23 2-5 -2-58 2-46 -3-19 4 12 5 3 -4 42 3 11 0 15 -2 96 1-15 9-24 -3-126 3 47 3 18 -2 109 0 1 0-1 7-165 3 57 5 115 -1-19 8-42 -2-60 6 55 4-15 5-13 -2-17 4 38 2 46 2-1 1-31 0-7 1-17 3" fill="none" marker-start="url(#k23)" marker-mid="url(#k23)" marker-end="url(#k23)"/>
<path d="M1715 1165l7 -1 7 3 9 -3 30 10-3 1-3 -5-4 2-22 0-3 -2-13 4-44 5 4 0 12 0 4 2 9 -2 7 -3 1 2 9 -1 6 -1 33 0 17 4-16 7-4 -2-33 2-11 -2-2 -2-6 -1-1 0-10 2-1 3-12 -2-34 7 10 1 16 -4 12 4 0 -1 5 0 1 -1 6 0 11 -3 5 3 22 -2 28 10-5 -2 0 -2-9 0-1 4-10 -3-3 1-4 2-9 -1-10 -3-9 1-22 0 0 -1-2 0-3 1-9 0-11 3-6 -2-3 2-6 1 13 2 4 -2 9 1 6 1 5 -2 4 4 6 0 6 -1 1 -1 0 3 17 -5 6 4 2 -4 0 2 19 0 3 -2 6 3 3 2 2 -4 45 8-6 -1-7 3-4 -5-1 3-5 0-1 0-19 2-10 -2-21 -2 0 3-2 -3-8 1-1 -2 0 0-18 4-9 -4-5 4-4 0-3 -3-2 1-6 0-11 3-3 -4-2 4-9 -5-9 2-5 9 11 -3 0 0 22 2 1 -1 1 -3 3 2 6 -2 7 5 4 -2 19 0 7 -2 2 3 26 -3 0 1 7 -1 3 1 5 1 1 2 21 -5 5 1 29 -1-19 9-14 2-12 -2-4 0-16 0-3 2-8 -2-1 -2-6 -1 0 3-3 -2-9 1-17 0-4 2-33 -2-7 3-11 0-7 0-6 -1-1 -1 5 7 0 0 2 -3 26 2 0 -1 11 1 3 2 3 -2 6 1 11 -4 1 5 3 -2 5 -2 0 2 1 -2 25 4 15 -1 11 1 5 -1 30 3-46 3-13 -2-3 1-11 -2-3 1-2 -2-32 5-6 -5-8 2-6 -2-20 3-18 -2 25 9 28 -1 13 -2 18 -1 7 2 16 2 17 -4 21 3 16 -1 19 0 15 5-42 3-2 1-17 0-34 -4-1 -1-39 2-5 1 0 -1-7 -1-6 3-25 -2-3 2-3 0-4 -3-3 3-3 -1-4 3 12 1 7 1 24 3 14 0 7 -2 11 -3 38 0 16 3 21 -1 2 1 12 8-16 0-14 -5-11 1-70 3-1 -4-5 4-4 1-17 3 6 3 1 -5 3 0 37 0 33 4 28 1 5 -1 28 -2 10 -2 24 7-50 -1-8 1-29 -1-34 5-32 -5-36 3 66 3 19 5 19 -5 29 2 36 -2 12 5 8 -4 9 0 2 10-10 -3-19 -2-27 1-89 2-10 -3-54 10 20 -3 40 2 35 0 37 4-100 3-20 6 7 -3 19 0 134 10-126 -1-46 0 204 6 17 -4-196 10-9 -3-3 3 29 5 171 -3-64 6-155 11 51 -1 97 -2-107 6-27 9 125 -2 11 9 5 2-5 8-62 -4 69 8 4 0-20 4-119 3 109 5 55 9-100 12 55 11-27 -4-51 2 44 16 63 4-52 4" fill="none" marker-start="url(#k24)" marker-mid="url(#k24)" marker-end="url(#k24)"/>
<path d="M1763 1163l-51 3 2 1 18 0 7 2-23 2-3 2-50 7 4 0 12 -2 0 2 3 -1 13 -1 5 -1 17 4 1 -3 19 1 21 1 0 0 16 3-45 1-2 -2-3 3-8 -3-4 3-3 -1-23 -2-11 2-2 0-13 2-3 -4-6 9 1 2 20 -4 1 4 5 -3 9 -2 15 1 6 1 2 3 6 -5 8 4 20 -1 38 1-8 4-17 -1-4 -1-1 0-10 5-3 -4-30 1-28 0-20 -2-11 1 0 3-5 0-9 3 2 4 5 -5 4 5 20 0 2 0 26 0 10 -1 2 0 5 0 4 -4 12 0 5 1 16 2 33 0 4 -3 10 3-16 4-26 0-2 -1-2 4-3 -4-24 2-18 3-5 -5-4 2 0 0-7 3-2 0-2 -4-15 3-2 1-5 -2-20 1-7 1-1 -4-1 -1-1 7 4 3 2 -4 1 3 37 -1 17 3 1 0 1 -2 15 -1 5 -1 39 1 3 0 1 3 26 -2 17 -2-104 9-5 1-24 -4-3 4-1 -5-6 2-5 -1-5 4-7 -4-4 3-2 -1-4 6 3 -2 4 1 18 3 24 -2 1 0 34 2 6 -2 42 -2 3 4 56 1-105 4-25 -1-31 -1-9 0-2 0 0 0-19 7 18 -2 37 2 119 5-45 0-119 2-22 2 47 5 5 -5 95 4 11 -4-59 9-3 1-62 -2 97 7 29 -2-148 8 2 5-16 5 53 5 4 26-49 20 3 5 10 9 15 0 97 45" fill="none" marker-start="url(#k25)" marker-mid="url(#k25)" marker-end="url(#k25)"/>
<path d="M1755 1162l-9 1-3 0-7 -1-7 4 16 3 10 -1 1 -3 5 5-7 3-21 0-20 4 25 1 2 1 23 -2 6 2-22 5-49 2-37 1 24 6 50 -1 0 0 5 0 48 5-13 0-23 -3-12 0-28 1-30 3-9 -4-34 6 143 8-27 2-47 -3-6 3-39 0-22 3 3 2 92 -3 14 5 10 0 18 -4 21 4 7 -3-28 4-7 5-2 0-9 -3-47 -2-17 0-7 5-63 0 19 2 38 0 40 0 2 3 6 -1 1 -3 2 5 12 -2 15 -3 4 4 37 -4 5 2 1 3 8 -1-3 4-4 2-41 -1-8 0-14 2-22 -1-6 -3-77 7 83 -1 0 0 15 0 59 3 1 -1 20 -3 4 7-2 0-2 1-10 -1-29 1-32 0-17 2-18 -3-44 8 8 -3 88 5 35 -1 3 -3 6 4 1 -4 14 4-19 4-10 -1-4 2-19 -2-13 -1-18 0-40 -1-7 5-2 -5-68 11 3 0 14 -2 5 1 64 1 39 -2 8 -2 9 4 6 0 0 -4 0 -1 10 1 1 0 1 1 4 -1 14 -1 28 4 9 7-3 0-19 -3 0 2-54 -1-3 -2 0 3 0 -3-8 4-43 -1-23 1-40 -2-3 2 2 6 1 -2 1 -1 72 1 21 0 8 -1 20 3 1 -2 25 -1 24 3 0 -4 12 0 2 1-64 9-21 -2-7 2-18 0-1 0-38 0-7 -5-8 5-2 -1-27 -4-18 7 7 2 16 2 4 0 17 -3 6 0 2 1 21 2 33 -1 6 -4 5 3 22 -3 6 5 26 -4 7 3 29 -2 13 6-31 0-20 2-33 -2-26 -1-1 3-24 -3-3 3-21 -2-4 2-7 -4-35 4-2 0-4 1-13 5 8 -3 18 1 1 3 16 -4 3 -1 9 3 0 0 6 2 72 -2 4 -2 33 3 8 1 2 0 4 -3 6 1 1 -1 11 0 21 -1-13 9-11 -4-6 1-25 1-8 1-12 -2-13 0-4 -1-18 2-14 -2-1 1-17 1-8 3-6 -1-14 1-19 -1-12 -4-13 4 10 4 16 -1 12 -1 19 2 10 -1 5 -1 35 5 6 -3 3 -1 10 3 18 1 7 0 7 -1 13 -4 15 0 0 1 11 1 12 -2 0 0 7 2-8 5-30 4-16 -4-18 1-37 2-15 0-8 1-2 -1-6 -3-4 -1-10 5-8 -5-4 1-1 2-14 1-18 -4-25 3 8 5 41 3 53 -5 8 1 3 2 5 -2 3 0 33 4 16 -5 17 3 25 6-29 -2-3 2-1 1-13 -4-3 4-12 1-3 -2-15 -1-2 -2-32 1-3 -1-10 1 0 -1-4 1-9 -1-9 0-27 5-10 -4-16 4-7 3 14 -2 3 0 27 2 5 1 12 -3 9 5 3 -4 0 4 2 -5 2 4 2 -3 9 -1 1 1 2 3 9 0 0 -4 3 1 14 1 16 3 15 -4 1 4 5 -4 12 4 116 4-8 -1-89 -2-10 2-1 0-15 -2-1 3-14 -2-2 2-2 0-15 2-3 -5-5 1-3 3-12 0-4 -1-2 -3-4 2-3 3-4 -2-2 0-3 1-1 -1-5 -2 0 2-2 0-9 -2-15 3-2 -4-10 4-5 1-21 -3 7 6 7 -2 13 5 5 -3 10 -2 16 1 5 3 9 -3 1 0 2 1 1 -2 1 2 4 3 5 -3 5 -1 13 1 8 -1 26 1 16 2 105 0 3 -1 2 1 3 -4 1 4 3 -3 4 4 4 -5 7 1 6 6-3 2-1 -2-3 1-2 2-2 -4-5 2-1 -2 0 0-3 4-2 0-62 0-39 -3-21 0-2 4-2 -4-7 1-6 3 0 -2-1 2-17 -3-5 2-3 -2-16 -2-1 5-3 -3-11 -2-26 5-31 -2-35 4 4 2 9 -3 4 2 10 1 19 2 18 0 11 -5 10 1 66 1 1 -1 0 2 2 -3 29 4 4 0 0 -1 2 0 2 0 9 -2 0 4 13 -2 2 -2 81 4 9 -3 5 0 1 3-2 5-2 0-1 0-2 0-8 1-3 -2-96 1-15 -2-3 2-16 1-4 -5-6 2-4 -2 0 3-6 -2-3 3-11 -3-36 2-9 1-2 -4-9 2-2 -1-10 1-1 1 0 -2-9 0-2 3-3 -1-16 -3-2 2-4 3-17 4 11 -1 1 2 9 -3 0 1 4 1 32 -1 1 1 2 1 4 -1 0 0 23 1 3 -1 5 -1 12 3 27 -2 2 1 11 -1 0 -2 16 2 1 1 5 0 1 1 2 -1 26 -3 84 -1 4 2 4 2-22 2-3 0-11 2-2 1-6 2-46 -3-2 -1-10 3-6 -4-7 0-2 0-48 3-3 0-16 -3-2 2-4 2-7 1-15 -3-13 1-11 -3-1 3-26 -3-3 4-6 0-21 -3-4 5 3 4 9 -1 11 -1 2 1 1 -1 11 3 19 -4 12 1 2 1 11 2 4 -5 2 1 12 2 6 -2 20 3 2 -3 17 2 1 -2 4 4 28 -5 1 2 8 0 15 3 3 -1 25 1 3 -1 13 -4-63 8-8 -2 0 5-3 -2 0 -2-4 -1-42 0-23 0-9 4-14 -4 0 1-2 1-42 1-1 2-6 -3-7 0-6 -2-5 2-2 -1-1 6 22 0 19 4 3 -5 1 5 3 -5 5 0 6 1 4 4 2 -1 1 -1 5 0 6 1 1 1 38 -2 23 1 14 -2 3 -1 2 2 3 1 3 -1 19 -2 1 3 3 -3 14 9-7 -4-14 4-11 -3-47 -1-44 3-1 -2-22 3-11 -2-2 -1-3 3-4 -4-3 4-9 -2-5 -2-5 1-5 3-9 -3 11 6 8 -1 3 2 4 1 11 1 1 -4 30 4 3 -3 31 2 11 1 8 1 3 0 9 0 2 -3 5 -1 13 4 9 -5 12 0 4 4 8 -4 16 7-11 4-14 -1-4 0-30 -3-5 0-5 4-21 -4-16 1-23 -2-5 2-22 2-7 -2 0 0 31 9 8 -2 6 -1 2 -2 3 2 8 -1 1 3 1 -3 1 3 5 -2 17 1 4 2 24 -3 22 -2 14 0 3 9-5 2-17 -5-25 1-28 -1-3 3-3 -1 0 -2-10 1-5 3-9 4 19 -2 13 2 6 2 3 -2 9 -2 2 3 3 -1 31 1 6 0 5 0 3 2-30 4-1 1-9 -4-3 4-5 0 0 -3-21 4-3 -5-11 1 4 8 24 1 19 -4" fill="none" marker-start="url(#k19)" marker-mid="url(#k19)" marker-end="url(#k19)"/>
<path d="M1753 1211l25 4-16 7 2 2 46 9-22 0-53 6 87 1-118 6 39 12-7 -1-7 2 36 5 75 6-181 1-23 -5 33 10 54 -2 57 3 12 -1-75 5-63 -1 122 5 44 -1 12 7-40 4-92 -3-51 5 71 1 43 1 34 7-110 -3-5 1-35 0 48 7 88 -1 7 -1 27 3-23 2-14 5-123 -1-14 0-19 1 38 3 50 2 117 4-130 -1-23 8 24 2 86 0 14 -2-66 5-11 3-12 -5-17 8 4 2 7 -1 7 0 11 -2 25 4 17 -1 12 -4 26 5 63 0 28 -2 4 1-56 6-63 -3-33 0-22 3-88 3 37 1 9 0 70 -1 166 -1-2 10-115 -3-17 1-72 -2-35 4-61 -3 15 6 68 2 88 -2 113 1-12 6-1 -2-10 4-105 -1-24 2-76 0-21 6 22 -5 29 5 15 -4 63 -1 0 4-58 2 5 10 26 1 22 1-77 4-29 -3 142 13-1 2-60 1-73 -5-6 3-8 -2-7 -1 26 8 45 1 67 1 3 -3 12 1-6 4-46 1-8 2-35 3 46 3-3 7-48 -1 78 4-33 6" fill="none" marker-start="url(#k20)" marker-mid="url(#k20)" marker-end="url(#k20)"/>
<path d="M1724 1178l14 8-59 11 114 15 9 0 0 7-129 8 138 0-39 8-19 -4-46 7 37 -2 31 0 15 0 9 4 26 -2-4 6-1 1-20 1-6 -2-11 1-41 -1-9 1-9 -3-24 0-76 3 45 8 48 -5 32 0 12 4 19 -2 23 1 16 2 5 5-17 -1-59 -3-55 3-61 6 58 1 5 -2 75 3 67 -1-6 5-39 0-68 -3-93 2 21 8 6 -3 37 2 0 -2 13 1 35 -1 1 2 5 -2 5 0 1 1 30 -2 0 0 24 5 11 -3 5 -2 7 3 0 -3-25 7-39 2-7 2-34 -2-18 -3-18 1-13 4-8 -5-17 2-7 -1-4 3 0 5 1 -1 6 3 16 -4 58 0 4 3 28 -3 49 4 9 -4 2 1 3 -1 15 3 5 4-40 2-85 -2-4 -1-36 0-8 0-19 10 2 -2 1 -3 39 5 19 -5 54 5 15 -5 42 4 25 2-94 1-4 1-8 -2-41 3-9 -3-33 10 59 -4 26 4 25 -3 30 1 22 1-14 8-78 -5-23 1-24 -1-49 0 26 7 16 3 12 0 21 -3 4 0 4 1 24 2 48 1 23 -2-1 6-1 2-3 -5-8 0-10 1-17 2-37 -3-4 0-43 5-34 -2-8 -1-1 -2-1 3-1 2-2 0-17 -4-2 3 6 2 1 4 4 1 19 -2 72 0 79 2 18 0-5 4-5 -1-61 -2-9 0-39 0-45 3-37 -3 0 11 22 -5 36 4 34 -2 8 -2 5 5 25 -3 14 3 16 0 4 -4 30 0 85 2 10 -3 10 9-102 -1-22 0-41 2-8 -1-14 -3-5 3-59 1-10 1-15 -1-1 4 14 0 3 2 13 0 0 -2 34 -2 48 1 15 4 0 -5 56 4 110 2-13 2-144 -1-29 3-5 -2-23 1-26 -2-1 4-4 -5-5 4-22 1-32 3 1 2 21 -2 19 -2 5 5 4 -3 19 2 12 0 25 -3 0 -1 76 5 9 0 85 -1 0 -1 9 -3-171 9-2 2-5 -4-34 3-2 -4-28 4-42 2 39 4 1 -4 2 2 9 1 20 -3 42 3 12 2 19 -3 41 -2 7 1 20 1 24 -2-50 11-20 -5-27 5-22 0 0 -5-10 4-32 -4-3 5-4 0-19 -4-9 1-24 -1-7 -1-4 1 3 9 10 -4 28 1 14 2 0 -2 32 2 54 0 24 2 7 -4 17 5-17 5-16 -2-1 1-14 0-27 -2-46 2-3 -2-35 3 0 -3-6 2-5 -1-9 0-6 1 29 2 25 5 6 -5 0 1 44 1 15 -2 64 9-46 2-29 -4-6 2-6 -1-8 0-37 1-8 2-14 2 6 -1 8 2 46 2 11 -3 28 1 9 2 42 2-1 5-35 -5-31 1-3 3-14 -1-15 2 7 6 4 -1 29 -2 3 2 3 -3 42 1 7 4-19 2-44 -1 0 1-5 1-15 0 7 4 17 3 4 3" fill="none" marker-start="url(#k21)" marker-mid="url(#k21)" marker-end="url(#k21)"/>
<path d="M1757 1159l-4 3-25 2 7 3 27 8-35 2 50 -1-10 9-27 2-4 -5-1 4 52 8-17 0-28 1-3 3 0 -1-86 5 53 2 89 2-21 5-79 -5-27 0-3 9 70 0 55 -1 12 6-34 -1-16 1-11 -1-4 4-28 -1-48 0-5 -3-3 4-17 -2-9 2 14 6 12 -5 15 2 78 0 9 3 37 -2 3 -2 3 3 16 -1 7 8-1 -1-21 -4-2 4-47 1-2 0-12 -2 0 1-35 -3-2 -1-41 5-33 -2 0 5 7 0 5 0 36 3 9 -2 55 -3 21 0 3 5 25 -4 1 2 4 0 23 1 2 1 9 5-5 -4-15 3-16 -1-23 3-6 -5-8 1-26 1-2 -1-11 4-70 -4-11 -1-8 0 4 8 18 1 17 0 17 2 4 0 13 -4 20 0 5 0 4 4 14 -3 3 -2 32 0 17 4 5 -3 4 4 10 -3 0 3 1 -1 0 -3 4 2 3 -2 1 3 2 7-4 -1-15 0-40 1-1 -3-1 -2-17 3-15 0-10 -3-4 3-9 2-43 -4 0 2-13 2-3 -4-22 8 11 -3 15 5 14 -3 9 -1 32 -1 18 0 5 3 0 -1 7 2 6 -2 5 2 10 0 10 0 4 0 2 0 1 -2 23 2 4 -1 12 -3 2 1 1 -1 21 3-6 8-8 0-13 -5-9 3-38 1-3 0-7 0-10 1-35 -4-31 3-7 -2 0 -1-50 6 14 2 1 -1 16 1 3 0 12 -1 11 2 9 1 41 -3 7 0 9 2 7 -1 4 -2 19 2 5 1 46 -2 1 -1 5 9-6 -1-3 -3-35 2-3 1-23 1-12 -1-14 2-7 0-13 -4-27 -1-25 5-2 -4-10 -1-7 2-2 3 16 3 12 1 40 -1 0 2 79 -3 28 0 20 2 4 4-2 2-2 -3-121 0-8 1-12 -1-9 2-3 -2-7 5-5 -4-12 1-9 0-13 4 6 5 17 -3 9 3 18 -3 1 3 18 -1 26 -4 8 0 9 0 14 4 26 -3 3 3 1 -4 22 3 25 -3 1 8-14 1-11 0-2 -2-24 0-10 3-3 -2-19 -2-60 1-49 2-24 1 12 2 2 0 41 1 36 -1 2 1 22 4 9 -2 53 -2 29 0-2 9-7 -4-22 2-1 2-15 -3-132 3-2 0-36 7 11 -1 9 1 21 -2 85 -3 18 5 14 -4 47 8-17 -1-2 1-1 1-44 -3-13 3-78 -2-32 0-7 3-11 4 6 -3 15 2 4 0 13 0 9 3 15 -2 76 1 6 -4 48 10-25 -4-6 5-48 -5-6 0-48 2-9 -1-27 0-11 8 11 -3 21 4 35 0 6 1 78 0 118 -4 8 6-23 3-63 -3-28 0-5 0-18 4-13 -2-10 2-14 0-7 0-9 -1-43 1-31 -3-21 1 26 5 1 3 5 -1 12 -2 8 3 17 -3 2 -2 66 3 10 -1 21 0 25 -1 4 1 110 1-12 4-207 4-33 -2-24 -3-11 3-7 3 19 0 17 5 8 0 10 -5 85 4 1 -4 40 1 86 2-106 3-49 1-15 1-17 -2-13 5 0 -4-4 -1-2 3-16 0-59 3 12 3 1 -1 18 0 1 1 10 2 8 -1 1 0 8 -2 6 -1 21 0 3 3 2 -1 1 2 4 -2 18 2 9 -1 72 -4 6 0 20 2 6 3 18 -5-49 8-43 0-6 0-39 0-13 1-48 -2-8 5 103 5 41 -1 3 -2 4 2 0 -2 11 4-38 3-63 1-1 1-15 -4-2 2-1 -1-4 3-5 0-2 -1-13 1-2 -4-12 8 14 -3 5 2 0 2 5 -2 12 1 89 -1 18 1 4 -3-33 8-66 -1-22 1-6 4 15 5 4 -5 12 5 8 -2 34 -2 14 2 9 0 20 0 24 -1-99 5-13 6 13 3 13 -1 40 2-4 4-31 0-8 0-21 -2 34 5 8 1 14 4" fill="none" marker-start="url(#k22)" marker-mid="url(#k22)" marker-end="url(#k22)"/>
<path d="M1759 1163l-5 -3-10 1-10 -3-2 10 2 1 10 2-4 0-8 3-10 1-33 1 13 5 34 0 18 -3 1 0 2 0 20 2 4 7-6 -5-26 2-9 2-19 0-38 1 0 0-19 -2-10 6 8 -1 2 -2 1 0 26 1 17 4 6 -4 3 2 19 0 2 -2 36 -1-28 10-20 0-11 -3-1 1-15 -1-15 4-6 -4-3 2-6 0-12 -2 28 8 40 0 19 -3 2 5 7 -2 20 1-7 3-5 0-9 1-13 1-71 -1-20 3-17 -1-2 7 11 0 7 -5 5 3 3 -3 24 4 2 -4 17 5 3 -3 7 0 6 1 4 2 10 -3 3 2 26 0 12 1 4 -5 2 5 18 0 9 5-7 1-7 -5-6 1-4 2-8 -1-7 -1-1 -1-3 0-6 1-3 2-29 -1 0 -1-10 3-3 -4-20 2-13 1-6 -3-41 7 5 1 8 -2 2 3 3 0 2 -2 12 -1 26 0 4 5 6 -2 2 -2 26 0 0 1 6 1 4 -1 6 -1 36 2 11 0 15 -2 4 4 10 0 6 -2-4 4-11 2-6 0-27 0-9 -1-7 1-10 -2-1 2-10 1-24 1-19 -2-6 1-7 -4-23 2-12 -2-4 2-19 3 0 3 22 2 11 1 34 -1 21 -3 0 2 16 0 5 -3 33 1 1 0 3 0 9 0 8 -1 5 5 9 -5 2 0 19 5 5 0-26 2-17 1-6 3-9 -3-10 0-8 -2-28 4-4 -1-19 -2-17 4-7 -4-9 0-5 -1 0 2-3 0 0 3-6 -3-24 1-4 3 2 3 10 0 3 -2 5 3 3 -2 2 2 6 0 15 1 10 0 15 -2 15 0 11 -2 12 3 10 -1 31 -1 6 -1-5 5-1 1-7 2-28 0-66 1-18 1-1 -1-18 1-6 -5-5 5-5 -4 20 6 16 0 24 1 20 -1 16 2 3 2 18 -5 4 4 7 -2 3 0 23 1 29 -3 5 5 3 -1 5 1 1 4-6 -1-7 2-27 0-9 -2-2 -2-15 5-3 -5-7 3-11 -1-11 3-13 -5-5 1-22 1-16 -2-12 4-20 -3-11 5 5 4 5 0 4 -2 16 2 13 -4 13 3 38 -2 3 0 1 1 14 -2 13 0 3 0 2 3 1 0 27 0 51 1 11 1-15 3-11 -2-11 0-45 5-25 -2-5 1-2 1-35 -5-8 4-3 1-4 -4-50 2 1 8 8 -1 7 1 3 -5 21 0 2 4 27 -2 104 1 29 -3-8 8-62 -2-89 0-1 0-14 3-3 2-10 -3-3 -2 0 11 1 -1 27 -1 7 2 3 -4 155 1-1 9-14 0-9 0-37 -2-20 2-70 -2-14 2-10 -3-6 -1-28 7 6 1 9 -2 12 1 13 -2 10 3 1 0 149 7-39 -1-126 -3-2 3-15 -1-17 8 6 -3 44 2 51 -1 85 3-61 6-34 -2-3 -1-91 1 17 3 21 0 5 5 59 -4 18 6-83 1-25 -2-6 3-10 2 18 1 3 5 2 -2 4 2 19 0 63 -5 185 6-151 2-61 0-36 1-22 2 86 1 32 0-63 11-34 -2-37 4 15 0 38 1 13 -2 31 4 12 -2 2 -1 17 -1 25 1 30 3-12 6-4 0-34 -2-84 1-45 -1 60 8 11 -2 40 1 3 1 58 -3 61 3-66 7-1 -1-5 -4-47 4-76 -3-35 8 0 0 35 -1 4 0 44 0 12 2 81 -3 8 3 2 6 0 0-9 0-7 1-41 -5-11 1-13 1-1 -2-68 0 2 9 50 0 71 -1-11 8-98 -3-14 3-1 -3-4 2 48 8 92 4-70 2-16 2 62 1 13 1-9 5-30 3-3 0-7 -3-23 5 32 -1" fill="none" marker-start="url(#k23)" marker-mid="url(#k23)" marker-end="url(#k23)"/>
<path d="M1745 1160l-10 0-17 2 7 4 2 -1 20 2 0 1 10 -1 13 6-8 0-13 2-4 -2-23 0-8 0-2 2-1 -1-47 6 12 -3 13 2 24 -1 3 -1 17 -1 1 0 3 5 21 -1 15 -2 0 3-29 1-12 2-9 1-45 0-6 -1-16 3 6 6 5 -5 4 1 27 -1 11 0 10 2 9 -2 4 5 1 -3 15 -1 1 0 2 3 25 -3 0 4-24 6-25 -4 0 2-1 -1-10 3-26 -1 0 -3-5 1-7 3-2 -5 0 4-11 -2-6 3-23 0-1 5 6 -1 9 -1 11 2 0 -4 3 5 2 -3 2 1 8 -2 2 0 2 -1 26 0 1 3 3 -1 11 -1 21 0 4 -1 14 2 28 0 2 1-36 6-2 -3-4 3-2 -2 0 1-3 1-7 -3-12 4-6 1-7 -1-1 0-4 -3-10 0-5 4-15 0-15 -3-23 2 2 5 2 0 4 0 1 -2 5 -1 14 2 16 3 3 -2 1 -3 7 5 11 -5 4 0 2 5 1 -2 22 2 2 -3 5 0 8 3 2 0 57 -4-22 8-24 -3-20 3 0 -3-2 3-14 -3-14 2-13 0-1 2-2 -2-16 -1-4 0-8 -1-13 2-9 2-9 -4-12 10 1 -4 19 3 5 2 2 -4 7 2 0 -1 6 -1 10 3 2 -3 9 0 3 0 10 -1 6 3 2 1 11 0 12 -3 4 3 27 -3 3 2 14 0 0 0 41 -1-18 9-49 -4-3 4-1 -4-49 4-9 -5-3 2-9 1-11 -1 0 3-4 -4-5 0-2 3-4 0-1 -1-1 1-15 -1-6 3 14 1 9 1 13 1 2 -2 11 4 47 0 58 -5 32 10-2 1-41 -1-30 0-1 -3-15 0-3 3-2 -1-5 -3-9 2-14 3-7 -4-21 0-12 -1-22 0-11 3 38 3 2 4 7 0 105 0 26 -3-59 9-10 -2 0 2-24 1-40 -5-16 4 25 6 22 -3 18 4 1 0 3 -5 67 2 18 -1-32 8-2 0-7 1-15 -1-25 -3-29 1-29 0-17 -1-4 1-24 6 8 -1 16 4 3 -2 12 3 29 -2 41 0 21 1 74 1-19 6-41 -4-28 1-4 1-12 -2-13 3-56 -2 17 7 139 -1 14 8-126 0-27 1-14 -3-31 3 12 6 42 1-37 3-23 -1 20 4 40 0 90 11-118 -1-1 2 7 2 4 2 130 -1-130 6-28 -1 7 12 159 5 8 3-66 7-96 13 53 2 35 2 85 -4-125 9-18 3 57 3-66 15 78 10-62 3 54 28" fill="none" marker-start="url(#k24)" marker-mid="url(#k24)" marker-end="url(#k24)"/>
<path d="M1716 1167l3 0 7 2 4 -2 24 3-23 2-4 -2-6 2-32 7 9 2 5 -4 7 0 10 3 2 -1 14 8-18 -2-4 2-8 0-5 -3-3 0-4 -1-21 0-1 0-6 3-7 -1-5 4 3 0 0 1 3 0 4 -2 6 5 14 -1 10 -4 1 2 47 0 2 1 5 0 35 5-18 0-7 2-12 -1-4 0-8 -3-5 5-4 -1-9 0-16 1-9 -1-5 0-6 -4-9 1-36 6 1 1 16 0 29 3 1 -4 19 4 16 -2 15 -1 11 3 21 -1 18 1 7 5-7 -2-31 -1-3 -1 0 3-4 -2-2 -1-5 2-2 -2-1 2 0 3-4 -4-4 4-18 -1-30 -3-2 -1-5 1-17 1-7 -1-4 4-4 0-6 -4 0 7 6 -1 8 -1 3 3 10 -2 2 3 25 0 1 -3 23 2 1 1 38 -2 17 4-19 3-18 0 0 -2-2 0-22 2-25 1-17 -1-7 1-5 -2-6 -2-2 1-5 0-15 3 1 7 12 -1 2 -4 29 0 12 0 0 4 0 0 8 -3 12 4 4 0 2 -1 4 -4 18 5-2 1-65 1-2 3-12 -2-21 1-2 2 12 6 15 0 4 -4 67 1 81 -1-57 9-34 1-61 -4-3 1-27 9 4 -5 17 4 76 1 17 -1 53 -1 31 5-168 -1-21 3-6 -1 17 6 20 -2-30 8 59 3-58 9-4 8 14 4 1 7 193 9-172 8-19 3 3 1 45 5-67 16 51 42 126 48" fill="none" marker-start="url(#k25)" marker-mid="url(#k25)" marker-end="url(#k25)"/>
<path d="M1756 1163l-11 -5-18 4-8 2 38 1-8 5-43 1-36 7 90 -1 17 1 7 9-61 -1-23 0-6 -3-37 2-5 6 29 2 57 -4 18 0 32 2-18 6-17 -1 0 -1-3 -1-15 1-13 0-62 5 8 2 30 -1 24 -1 35 1 17 0-32 10-53 -5-50 9 21 -1 39 1 41 2 26 -1 51 2-8 4-30 -4-19 0-50 1-17 3-68 5 33 0 78 0 12 -1 3 -2 5 4 4 -4 15 1 3 -1 27 3 8 -2 10 5-4 0-29 3-14 1-22 -4-53 5-17 -5-57 9 11 1 132 -4 1 4 24 -4 13 2 1 2 8 -3 1 7-1 3-7 -1-23 -1-26 -3-117 3 23 6 44 -2 18 4 13 -3 2 2 14 1 40 -3 3 3 2 0 0 -1 6 0 10 -1 4 3-9 4-5 0-39 -1-46 -3-5 4-6 -2-1 0-80 -1 11 6 10 1 11 1 58 -2 1 3 27 -4 2 4 1 -1 2 -1 16 1 1 2 11 -3 14 2 2 -3 19 0 12 -1 2 9-13 -2 0 2-10 -3-54 2-12 -1-1 -1-8 4-5 -4-74 0-25 4-1 -1-5 -1 8 4 8 1 12 2 34 -1 53 -2 97 2 2 9-2 0-22 0-12 0-5 0-3 -1-4 0-13 1-16 0-3 0-20 -5-22 5-63 -5-18 10 20 -3 3 0 10 4 13 0 8 -3 36 -1 1 3 6 -4 27 1 24 4 3 -5 38 3 8 -3 3 0 6 7-14 3-18 -4-11 5-24 -4-2 3-5 -4 0 0-1 4-10 -3-24 1-11 -2-32 5-7 -1-8 0-7 -2-2 1-4 -1-4 3-15 0-6 -4-9 10 14 -1 2 -2 12 1 1 1 18 -2 26 2 29 -2 11 3 25 -4 5 1 17 2 9 -3 6 0 5 3 11 -2 7 0 10 6-4 -1-31 0-5 -1-1 3-19 1-1 -1-28 1-16 -1-23 0 0 2-2 0-17 -4-57 1-7 2 0 -1 59 5 32 -1 7 2 9 -3 1 3 0 -1 1 -2 17 1 13 -1 2 3 9 0 14 -1 13 -1 7 4 2 -1 4 -4 4 4 11 0 3 -3 3 0 4 5-28 0-12 3-1 1-11 0-7 1-1 -4-20 2-3 2-29 -5-17 1-12 4-1 0-3 -5-37 4-11 -1-22 -2-8 1 9 9 18 0 1 0 6 -1 0 -2 1 1 41 2 9 -3 36 3 4 -2 30 1 3 0 29 0 1 -1 19 -1 8 3 0 -4-35 6-9 4-17 0-10 -2-14 0-22 1-4 -3-12 4-8 -1-3 -4-1 3-10 -3-4 4-14 0-8 -2-10 3-8 0-11 0-1 5 6 1 10 -2 4 -1 3 2 1 -3 38 0 5 4 9 0 5 -2 2 -1 5 3 11 -3 5 -1 1 1 11 3 32 -1 0 -2 4 0 7 2 10 -2 65 9-5 -1-35 -4-17 0-2 3 0 -2-17 2-13 -2-11 1-23 0-14 3-2 -1-2 -1-1 2-1 -3-8 1-4 2-1 -3 0 -1-5 3-3 -2 0 2 0 0-2 -2-15 0-5 2-25 -4-15 1-3 -1-14 1 11 10 5 -2 0 2 49 -5 8 5 11 -4 9 4 0 -5 0 1 5 2 1 -1 4 1 2 -3 19 4 5 -1 0 -2 7 4 10 -3 1 -2 7 2 8 0 11 3 79 -3 13 1 5 -3 1 1 5 4 0 -5 6 2 1 1 4 2 1 -4 7 4 12 5-11 0-5 -3-7 0-3 2-50 0-2 -1-13 -1-8 4-8 -2-2 0-18 -2-7 0-10 4-1 -2-6 1-11 -3-3 4-20 -2-2 0-2 2-5 -4-7 -1-15 3-6 -2-6 3-16 -2-2 2-5 0-6 1-26 -1-7 -1-1 -2-19 -1 13 8 0 -2 8 4 1 0 6 1 29 -3 17 2 1 -3 9 0 6 0 4 3 22 -2 9 2 0 -3 1 1 4 0 14 3 2 -2 2 2 25 0 16 -4 3 1 0 1 9 -2 10 1 8 0 0 0 11 -2 62 1 7 0 6 4 1 -4 1 -1 1 4 0 -1 0 1 0 -2-4 4-3 2 0 2-1 -2-2 -1-2 -1-6 5-3 0-57 -3-18 -2-12 4-26 1-4 -2-12 1-3 1-1 -1-36 -2-13 1-4 -1-10 -1-2 0-6 0 0 0-19 0-14 3-21 1-3 -2-18 -3-4 6 9 4 8 -1 6 -2 5 2 18 2 0 -2 8 0 16 -2 1 3 21 -3 16 4 6 -1 30 1 9 -2 17 1 18 1 5 -1 2 -4 2 0 92 2 0 1-17 3-8 2-16 -1-51 1-1 1-18 2-7 -3-15 -2-9 1-43 0-11 2-4 -2-10 2-7 0-7 1-4 1-5 -2-18 1-15 -3-10 1-2 -1-2 2-5 -3 1 7 4 0 3 0 11 4 9 0 8 -4 11 0 4 -1 6 1 5 3 8 1 2 -3 8 -2 2 4 3 -2 42 3 2 0 15 -5 12 0 22 5 47 -4 4 -1-56 10-20 -2-17 -2-5 5-7 -5-11 1-23 2-30 -3-3 4-20 0-6 -1-6 2-8 -4-7 0-3 -1-4 4-12 0 7 5 8 -2 11 2 5 1 7 1 28 -1 13 0 7 -3 14 -1 29 4 27 -1 11 -2 18 0 17 5-22 2-7 1-16 0-16 1-31 0-1 1-4 -3-6 -1-4 1-21 2-12 -3-4 3-1 1-12 -4-13 4-2 0-12 -4 0 6 23 4 4 0 3 0 8 -4 10 3 1 1 0 -1 1 -3 1 -1 1 5 10 -2 12 -1 1 2 8 -1 3 2 0 -1 4 -4 2 4 8 -4 9 2 16 -2 37 4 3 -4 10 5 8 -3 2 1-16 6-32 1-3 1-18 0-5 -2-3 -1-21 2-17 -2-13 -2-1 3-8 2-2 -3-15 4 40 4 1 -2 4 -2 4 0 3 3 6 -1 5 1 14 0 7 0 4 0 6 2 6 -5 22 0 4 3 3 0 1 0 1 0 13 2 1 6-8 -2-55 2-8 -2-14 2-4 -4-1 -1-11 7 3 -1 57 0 7 1 1 3 0 -2 1 -1 6 -1 1 2 15 -2 13 0-4 6-8 4-13 -1-1 -1-16 -2-18 2-7 1 0 -2-5 1-8 2-1 -3-6 3-8 4 5 0 17 0 2 -2 27 0 5 0 2 1-16 6" fill="none" marker-start="url(#k19)" marker-mid="url(#k19)" marker-end="url(#k19)"/>
<path d="M1744 1161l58 58-69 16-14 15 75 -2 21 8-73 2-27 0-7 1-71 4 98 1 75 -3 12 0 4 4-98 3-88 1-7 6 112 1 97 3-12 -1-105 5-19 5 35 -4 17 3 81 8-51 -4-21 2-19 1-89 0-29 -1 144 4 66 0-17 8-19 2-15 -4-75 4-15 0-57 4 75 2 11 0 38 -5 31 0-22 10-14 -1-100 -3 38 9 14 0 87 8-33 -2-27 -2-36 2-58 1-23 -2-4 5 93 0 7 4 3 -2 19 -1 16 1 143 3-130 2-62 2-51 5 23 2 7 -3 8 -1 9 0 78 4 10 -4 9 4 92 0 11 -2 10 5-72 -1-94 3-9 -1 180 6 0 0 0 2 2 0 7 -2-118 3-52 2-17 -2-25 0-20 1-40 4-2 -1-9 -4-3 4 0 1-15 -4-1 2 31 8 0 -2 25 2 67 -5 66 3 10 3-12 5-123 0-15 -5-45 1-13 8 74 -3 13 0 131 2-58 4-132 1-6 1-1 4 26 4 4 0 3 0 0 -2 15 -2 16 5 27 0 33 -2 35 -1 0 1 2 -2-7 9-12 -3-5 4 0 -2-34 0-34 2-14 -5-11 5-6 0-14 -2 36 6 10 1 56 -2 9 1 20 -1-124 9 42 6 64 1-22 0 40 12-27 4-37 -1-1 -1" fill="none" marker-start="url(#k20)" marker-mid="url(#k20)" marker-end="url(#k20)"/>
<path d="M1736 1159l41 22 3 5-51 13 26 6 52 6-30 -1 18 6 2 4-18 2-7 -1-5 -2-24 8 65 -3 7 3 2 3-34 2-45 2-5 0-20 -1-3 3 85 2 9 9-11 -1-169 0 21 5 38 -1 44 1 28 2 35 -4 1 2 1 1 6 1 3 -4 3 1 1 2 7 0 2 -2 8 3 4 -4-6 10-9 -4-81 -1-45 3-44 -2 95 5 17 4 43 2-8 5-35 -2-51 -3-6 4-3 -3-21 1-38 1 108 4 20 1 14 -1 63 10-9 -5-3 5-1 -1-1 -2-3 3-6 -3-14 -1-65 -1-102 4-15 3 20 4 1 -2 6 -1 47 1 7 -1 15 2 54 1 7 -4 26 3 28 -4-3 11-4 -5-16 4-75 0-17 0-44 0-10 0-41 0-2 2 1 3 32 2 15 -4 45 -1 26 5 15 -2 29 1 14 -3 40 5-6 1-155 -1-16 0-38 10 2 -2 20 -1 2 -1 6 3 24 2 49 0 4 -3 6 0 2 2 26 -1 32 1 12 -3 2 2 12 -2 19 4-28 1-22 3-8 0-12 -2-15 0-5 4-35 -3-49 1-19 -3-7 4-18 -3 6 7 16 -2 36 0 26 4 4 1 30 -1 47 -2 5 -1-2 6-30 2-60 -2-10 4-27 -5-33 2-10 9 5 -4 43 4 22 -3 2 -1 6 2 70 -2 7 0 1 -1 21 0 5 1 104 10-107 -4-25 1-15 -2-27 3-19 0-40 -2-36 4-2 -5-6 6 23 0 8 3 3 -2 4 -1 55 2 14 1 32 0 6 2 12 -4 12 3 15 0 72 -3 10 -1 17 1 5 4 5 5-18 1-95 0-21 -3-1 0-2 1-15 -2-32 1-41 1-2 -3-42 2-3 -1-1 3-5 1-1 -3-3 4 7 1 2 4 42 -1 72 -2 18 1 12 -2 1 3 47 -3-19 10-32 -4-17 3-39 -1-12 0-46 1-39 1-14 0 5 2 2 2 13 0 8 1 53 0 22 -2 14 2 138 4-1 0-96 2-82 1-5 -3-39 -2-7 2-4 1-20 3 7 4 12 -2 13 -1 1 1 6 2 21 -3 32 1 12 2 26 -2 49 2 1 1 17 -2 23 0-68 8-9 -1-61 0-12 -4 0 2-51 0 0 1-2 1-1 -2-1 -2-1 2-19 2 18 4 30 0 6 -2 0 0 6 5 2 -1 9 -2 4 3 41 -5 7 1 18 0 1 -1 50 2 8 1-17 6-5 -3-6 5-56 -1-2 -4-12 5-12 -4-28 1-4 -2-14 0-5 3-7 8 17 -3 91 -2 16 2 5 0-16 6-3 3-62 0-10 -3-9 3-15 -5-5 5 29 3 115 2 5 0-37 2-4 3-5 0-7 1-4 -3-7 4-13 0 49 1 12 5 2 3-19 -2-9 4-27 -2-20 3 2 2 29 -1" fill="none" marker-start="url(#k21)" marker-mid="url(#k21)" marker-end="url(#k21)"/>
<path d="M1732 1158l-1 1 11 10 14 -2 11 0-94 11 61 1 9 -3 22 0 16 6-2 3-3 -2-33 9 5 1-35 2-17 0-39 9 42 -2 84 1 19 5-103 -2-6 3-62 7 42 0 60 -3 3 4 48 0 9 -5-1 11-29 -2-3 -1-2 1-5 2-23 -1-41 0-6 1-20 -3-33 -1 10 7 71 1 5 2 26 -1 9 -2 5 2 6 -1 11 1 3 -4 5 1 5 0 22 4 1 -1 5 4-2 2-26 -1-27 -3-10 5-2 -4-20 0-12 1-14 2-36 -1-6 2-13 -4-9 0-6 9 68 0 2 0 7 -4 4 2 3 3 10 -4 19 4 3 -3 2 0 12 0 1 0 1 -2 9 0 7 2 7 3 4 -2 26 2 1 5-17 -3-5 1-74 2-12 -4-26 4-39 -4-12 6 28 1 3 0 13 -1 20 0 16 4 14 -3 12 4 56 -4 3 2 9 -3 7 1-14 9-9 -1-16 -2-14 4 0 -4-28 -1-8 0-15 3-45 2-23 0-16 -1 19 3 7 1 3 3 6 -2 27 -1 6 3 6 -5 4 1 6 3 10 -2 3 0 7 1 14 0 3 -3 5 2 1 -1 1 -1 6 5 13 -1 7 0 50 5-2 -1-20 2 0 -4-11 1-32 -1-16 4-13 0-18 1-1 0-18 -4-9 4-29 0-8 -4-3 4 0 -5-3 3-7 -3-2 2-1 0-14 -1 6 6 62 -1 0 5 17 -1 28 -3 2 4 11 -1 6 -2 19 1 57 -1 9 3 1 -4-4 6-27 3-10 -1-60 0-41 2-32 0-5 -3-5 2-4 -3-6 4-7 -1-20 0 0 1 3 5 42 -3 3 -1 3 2 62 0 33 -2 40 1 16 4 19 -1 5 -1 1 5-9 -1-5 2-15 0-22 2-10 -5-36 4-29 0-2 0-50 -4-23 5-9 -5-15 3 4 4 7 -1 0 4 8 1 24 -1 2 -1 2 -3 12 1 0 -1 29 0 65 0 45 2 3 0 2 1 1 -3 12 1-23 8-18 -2-3 -1-106 0-26 0-4 0-1 1-7 0-7 2-21 1-6 2 25 3 80 1 31 -4 1 1 18 0 32 2 25 -3 10 11-4 -4-56 -1-15 4-43 -3-43 1-13 -1-8 4-30 -1-1 7 17 -2 11 -1 1 1 3 -3 7 3 18 -3 64 4 10 -4 13 0 0 0 53 9-85 -3-14 5-13 -4-35 -1-6 2-11 1-9 -3-34 3 33 4 22 3 16 -4 4 4 7 -2 29 3 4 -2 25 -3 50 9-6 1-18 -3-33 4-70 -2-27 2-26 -3-4 -2-1 5 9 6 4 -3 4 0 19 1 26 0 1 0 102 -1 108 -1-53 7-35 -1-155 3 0 1-20 1 14 1 6 3 48 -4 17 0 54 5 9 -4 6 2 1 -2 2 3 4 -4 11 9-8 2-23 -4-97 -1-8 4-25 -4-3 4-1 -4-3 9 2 2 3 -1 66 -4 58 1 6 -1 1 0 6 5 17 -1 1 -2 9 0 11 1 91 -2-105 6-41 1-51 2-5 -2-36 1-7 -1-4 1-13 -2-21 0 94 6 1 -1 11 4 9 -3 0 -1 49 5 30 1-6 0-34 2-55 0-2 -2-53 5-30 0-5 -3 16 5 4 2 31 1 22 -2 2 2 25 1 3 -3 3 -2 29 5 10 -3 6 0 25 7-20 2-2 -3-76 3-12 -1 0 -2-43 -2-20 9 12 0 0 0 16 -2 10 2 13 -1 15 -2 51 1 9 -1 22 4 4 0 18 -3 16 5-18 0-35 3-1 -3-23 5-11 -3-5 1-47 -1-15 -1-4 3 18 5 30 -3 4 2 29 2 52 -3 3 2 4 -3 3 5-6 2 0 2-2 1-16 -1-49 -3 28 10 12 -4 3 1 9 2 3 -3 25 4-20 4-28 0-15 -1-1 1-23 8 14 -2 16 0 13 2 4 0" fill="none" marker-start="url(#k22)" marker-mid="url(#k22)" marker-end="url(#k22)"/>
<path d="M1757 1158l-7 5-15 -4 22 7 4 0-17 9-3 -3-4 2-17 0-39 2 70 3 22 1 1 0-1 7-1 -1-7 -1-48 -3-25 5-8 -2-23 0-3 -1 26 9 1 -2 12 -2 17 0 14 3 4 -2 48 3 5 -4-13 5-17 3-12 2-7 -5-38 0-12 0-2 4-42 0-3 -2 2 8 16 -2 13 -2 39 3 23 1 55 3-20 2-11 1-2 -4-29 5-2 -2-9 2-67 -5-10 5-9 6 2 -2 9 -3 32 1 2 0 4 0 22 2 8 0 22 -2 16 -1 28 4 8 -3 0 2 26 2 7 2-28 -1-15 3-12 -2-11 3-3 -1-3 2-10 -4-15 1-81 0-7 1 35 3 0 3 7 -3 31 4 2 -2 20 1 17 -3 8 3 1 -3 4 4 30 1 22 -2 5 0 14 6-24 -1-2 -1-2 1-16 -2-5 2-8 0-19 3-22 -4-10 4-4 -4-12 3-2 1-10 -4-9 0 0 3-8 1-3 -5-1 4-7 -4-3 4-10 -2-4 0-6 3-5 -3-4 -1-3 6 6 2 11 2 6 0 10 0 1 -3 2 2 4 0 15 -4 40 5 10 -1 2 -4 14 2 0 1 23 2 2 0 21 -4 6 3 27 5-31 1-1 -4-9 3-9 1-10 1-11 0-4 -2-2 -2-1 2-5 0-17 -1-5 2-10 0-25 1 0 0-62 -3 5 4 10 2 16 0 27 3 23 -5 1 1 10 -1 2 3 29 -1 9 1 18 0 1 0 2 -3 36 2-37 5-6 4-26 0-15 -2-16 0-14 2-17 0-1 -3-15 -1-2 0-7 4-3 -5-2 1-9 -1-2 4-10 6 2 -4 11 2 2 2 9 0 3 0 4 1 5 -3 9 -1 13 2 33 -2 1 -1 19 3 1 -3 18 4 4 0 31 -1 17 -3 28 7-49 2-46 -1-5 3-1 -3-29 1-10 2-3 -1-26 -2-18 0-20 -1-3 4-2 -1-3 1-1 -2 1 7 4 -3 67 3 20 -3 15 2 1 -2 2 0 13 2 30 -3 13 3 4 0 43 5-12 -1-13 4-8 -3-21 1-42 -1-64 3-4 -4-7 2-6 0-7 -3-9 3-8 -3-6 4-9 6 18 -3 8 0 30 3 17 -4 30 2 40 1 1 1 66 -2 12 9-5 -1-151 1-11 -3-15 0-21 3-9 -4-5 0-7 1-2 3 6 3 15 -2 9 4 7 -2 17 -1 8 4 11 -3 10 3 49 -3 50 3 28 -2-65 3-41 3-2 -3-4 1-4 2-49 -3-3 0-7 0-36 0 12 11 6 -3 1 2 89 -4 1 2 102 5-15 0-83 4-15 -2-5 -3-20 5-46 0-21 0-5 0 0 -4-4 1 1 5 19 0 22 -1 60 3 4 -2 81 0-12 8-60 0-16 1-41 -2-1 0-18 2-31 6 27 0 3 -2 5 0 2 3 8 -5 14 4 63 -1 28 -2 30 7-36 -1-98 0-1 1-5 3-9 -4-12 1-23 2 2 4 19 -1 7 3 124 1 2 -1 33 -3-35 8-4 2-51 0-41 -4-5 2-37 -1-3 2 12 3 41 1 61 -2 177 3 1 3-105 1-56 -1-31 1-16 3-41 1-6 -5-46 1 191 8-60 5-5 2-71 -1-52 -1 52 7 19 -1 62 -1 13 3 52 3-55 2-49 2-17 -2-7 -3-45 0-19 9 23 1 52 -4 8 2 28 -1 51 4 15 -4-19 5-87 2-5 1-37 -1 0 -2-10 0-15 2 27 8 20 1 24 -3 52 1 39 -3-39 8-9 3-70 -5-11 4-12 -3 48 5 60 7-5 7-39 6 33 8" fill="none" marker-start="url(#k23)" marker-mid="url(#k23)" marker-end="url(#k23)"/>
<path d="M1731 1158l-2 4-40 11-22 8 15 -2 8 0 18 1 44 -2 8 -2 13 2 1 1 4 6-1 2-30 -5-1 2-20 -2-11 1-14 -1-6 0-2 5-2 0-15 -3-3 -1-1 4 0 -3-11 2-2 0-2 -4-5 4-3 6 6 -3 4 3 0 -2 7 2 2 -3 16 4 1 0 12 0 5 -3 1 2 5 -3 3 2 6 -1 28 -2 9 1 3 -1 7 2 18 6-20 -2-19 5-4 -2-1 -2-5 4-3 -3-1 2-3 -4-4 5-12 -2-4 -2 0 2-1 2-9 -1-15 -1-4 -2-10 2-14 -1-10 -1-5 5 2 3 1 -2 3 0 9 -1 17 3 1 -1 0 1 1 -1 17 -1 8 0 8 1 1 -2 44 0 21 1 6 1-2 7-1 -2-6 1-8 -2-10 1-13 1-9 3-3 -5-9 4-3 -3-6 4-8 -3 0 3-7 -2-1 0-3 -3-1 4-4 -3-12 2-17 -3-8 0-3 3-9 0-1 2 17 3 9 2 26 -4 29 4 7 -3 2 4 6 -1 7 -2 2 -2 4 3 0 -3 3 3 11 -3 17 1 12 0 21 4-1 5-9 -1-13 -3-8 4-18 -1-9 2-2 -2-3 -1-3 0-8 2 0 -3-4 0-8 -1-2 5-37 -3-19 3-3 0-8 0-4 0-6 -3-16 3-1 5 3 -4 4 1 1 0 13 4 8 -3 9 -2 18 1 4 4 25 -2 25 -1 25 3 1 -2 0 -2 14 3 4 -3 14 3-21 2-30 0-1 0-19 3-54 -2-21 3-3 0-9 -1-5 -2 5 9 19 0 12 -2 13 -1 17 3 7 -3 4 0 38 1 3 0 9 -2 67 3-63 6-14 0-1 1-36 -4-26 1-16 2-1 2-16 0-19 -2-2 -1-10 8 3 -2 15 1 21 0 5 -3 1 5 14 -3 3 0 12 1 19 2 18 -5 0 0 23 5 12 -4 19 1 14 2 20 1-36 5-133 -3-1 0-11 1-11 3 8 2 23 -1 1 2 6 3 26 -3 11 0 33 -2 3 1 10 1 3 -1 63 0-47 5-8 3-20 -3-10 2 0 -2-18 2-13 -2-14 2-14 0-8 3-1 -5-38 0 93 7 24 -1 15 3 40 -3 8 5 13 -5-100 6-68 1-7 2-1 -1-11 7 3 2 1 -5 1 2 6 -2 3 0 19 1 170 5-111 5-41 -2-17 -1-38 -2-5 2 54 6 8 7-25 -3 4 9 22 4-20 0-35 0-12 8 31 1 5 0 81 1-20 4-36 0-16 11-33 8 118 -3-98 5-3 1-8 4 44 6 10 -1 48 -1 67 4-60 4-112 -1 167 15-109 13 37 5-87 5 118 1-57 8" fill="none" marker-start="url(#k24)" marker-mid="url(#k24)" marker-end="url(#k24)"/>
<path d="M1754 1163l-13 1 8 1 18 5-56 3-15 1-14 1-2 3 43 -2 8 5 14 -5 6 2 1 8-19 1-3 -4-4 4-8 -3 0 -1-9 2-7 -2-13 0-15 0-9 1-17 9 8 -3 19 -1 4 -1 5 1 4 3 3 -2 2 2 22 1 1 -5 16 0 16 2 33 8-32 0-9 -4-4 4-11 -1-2 0-2 -1-2 2-4 -3-2 3-13 -4-3 0-2 2 0 0-3 -2-10 1-19 0 0 -1-1 5-8 -2-7 2-3 -2-1 1-5 3 3 0 7 4 7 -4 3 2 11 -3 2 1 1 -1 3 2 21 0 10 -2 8 5 4 0 5 -3 10 2 6 -1 33 1 8 1 1 -5 4 3 0 4-31 0-5 0-3 4-16 -2-4 2-8 0 0 -2-26 -2-8 1-32 2-15 -4 0 9 5 1 5 -3 11 0 5 1 16 2 10 -3 6 0 8 2 16 1 7 0 7 -4 69 9-90 -2-25 -1-5 3-16 -3-8 4-12 1-4 -5-2 4-1 -3 0 1 31 8 6 -3 12 3 3 -3 2 1 18 -1 13 -1-16 7-43 0-18 4-12 -5-1 4-9 -2 1 7 32 -3 15 5 81 -3 33 -1-42 7-78 2-13 -3-2 -1-18 3 11 5 10 0 7 -2 158 3-47 3-122 5 2 2 52 8-49 0 52 4 27 1 84 3-177 8 183 23-160 8-26 0-25 6 75 51 11 14-57 5 152 22" fill="none" marker-start="url(#k25)" marker-mid="url(#k25)" marker-end="url(#k25)"/>
</g>
<ellipse cx="1708.8" cy="1340.0" rx="23.3" ry="12.8" transform="rotate(27 1708.8 1340.0)" fill="none" stroke="#231f20" stroke-width="4.3" stroke-dasharray="0.01 8.96" stroke-linecap="square"/>
</svg></body></html>
